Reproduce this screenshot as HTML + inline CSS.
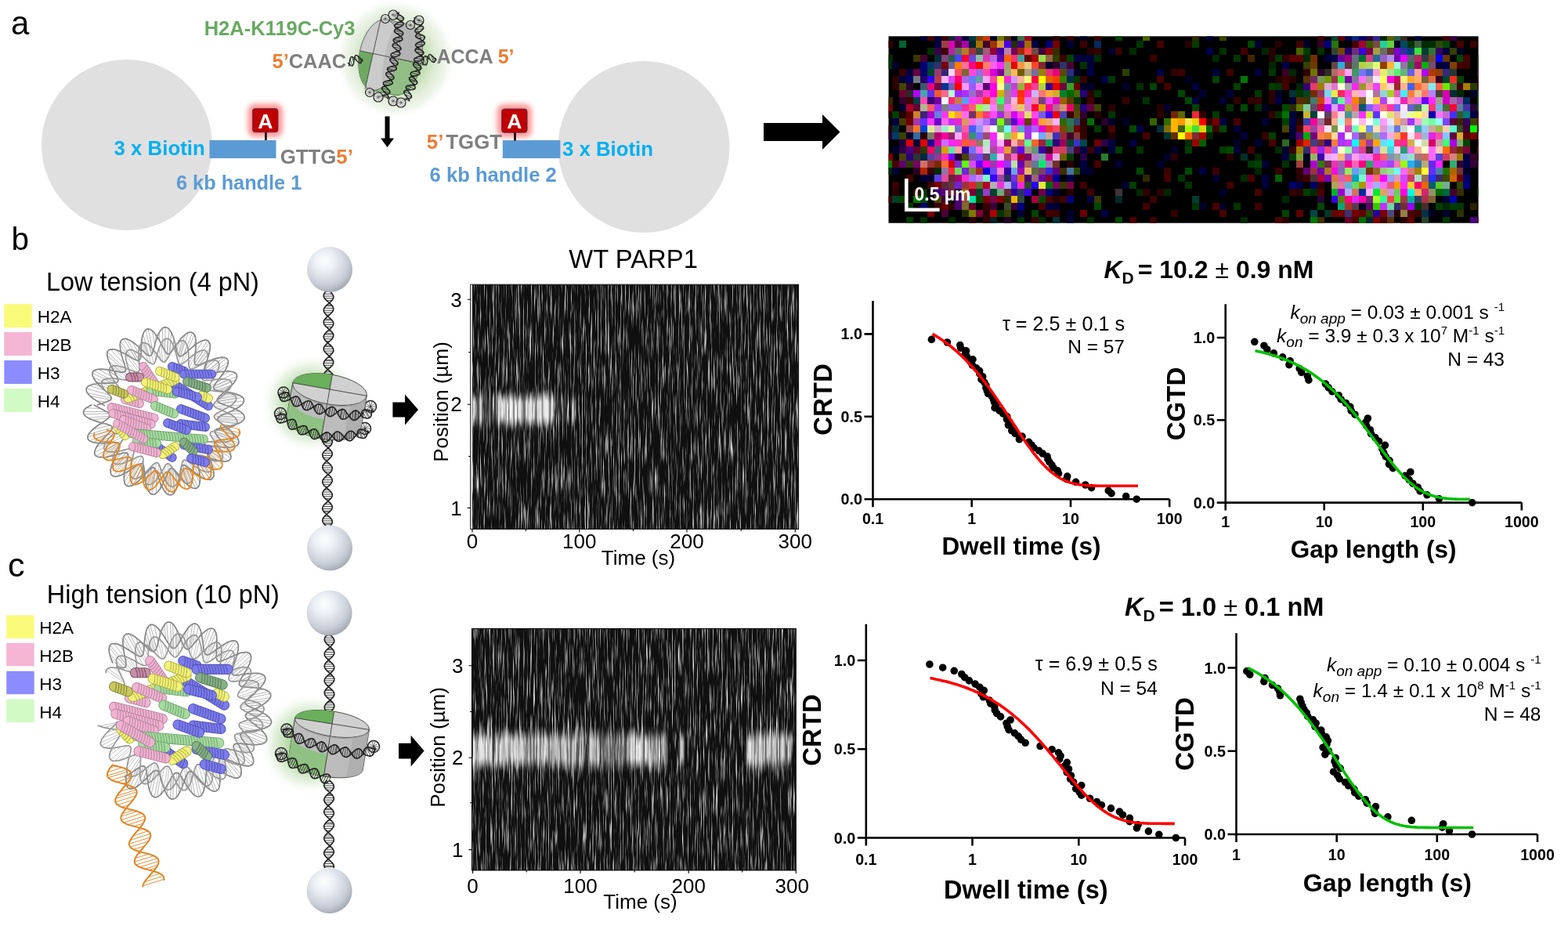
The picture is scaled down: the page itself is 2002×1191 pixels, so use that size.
<!DOCTYPE html>
<html><head><meta charset="utf-8"><style>
html,body{margin:0;padding:0;background:#fff;overflow:hidden}
svg{display:block}
text{font-family:'Liberation Sans', Arial, sans-serif}
</style></head><body>
<svg width="2002" height="1191" viewBox="0 0 2002 1191">
<defs>
<radialGradient id="glowg"><stop offset="0" stop-color="#a8cf92"/><stop offset="0.5" stop-color="#c6dfb6"/><stop offset="0.68" stop-color="#e0edd8"/><stop offset="0.85" stop-color="#f1f7ee"/><stop offset="1" stop-color="#ffffff" stop-opacity="0"/></radialGradient>
<filter id="glowr" x="-60%" y="-60%" width="220%" height="220%"><feGaussianBlur stdDeviation="3"/></filter>
<filter id="kn" x="0" y="0" width="100%" height="100%" color-interpolation-filters="sRGB">
<feTurbulence type="fractalNoise" baseFrequency="0.6 0.022" numOctaves="3" seed="4" result="t"/>
<feColorMatrix in="t" type="matrix" values="0 0 0 0 0  0 0 0 0 0  0 0 0 0 0  2.6 0 0 0 -1.33" result="a"/>
<feFlood flood-color="#fff"/>
<feComposite in2="a" operator="in"/>
</filter>
<linearGradient id="bandg" x1="0" y1="0" x2="0" y2="1"><stop offset="0" stop-color="#fff" stop-opacity="0"/><stop offset="0.3" stop-color="#fff" stop-opacity="0.95"/><stop offset="0.7" stop-color="#fff" stop-opacity="0.95"/><stop offset="1" stop-color="#fff" stop-opacity="0"/></linearGradient>
<radialGradient id="bead" cx="0.4" cy="0.35" r="0.7" fx="0.38" fy="0.3"><stop offset="0" stop-color="#ffffff"/><stop offset="0.35" stop-color="#e9edf3"/><stop offset="0.75" stop-color="#c6ccd6"/><stop offset="1" stop-color="#9ea4ae"/></radialGradient>
<radialGradient id="glow2"><stop offset="0" stop-color="#8cc078"/><stop offset="0.4" stop-color="#b2d8a2"/><stop offset="0.75" stop-color="#e8f3e3"/><stop offset="1" stop-color="#ffffff" stop-opacity="0"/></radialGradient>
</defs>
<rect width="2002" height="1191" fill="#fff"/>
<circle cx="505" cy="75" r="78" fill="url(#glowg)"/>
<text x="14" y="43.5" font-size="42" fill="#000">a</text>
<circle cx="162" cy="185" r="109" fill="#e0e0e0"/>
<circle cx="822" cy="187.5" r="109.5" fill="#e0e0e0"/>
<rect x="267.5" y="179" width="85" height="23" fill="#5b9bd5"/>
<rect x="641.8" y="179" width="73.6" height="23" fill="#5b9bd5"/>
<rect x="316.4" y="132.5" width="44.6" height="42.3" rx="9" fill="#ff8c8c" opacity="0.9" filter="url(#glowr)"/>
<line x1="339.4" y1="167.5" x2="339.4" y2="179.0" stroke="#1a0000" stroke-width="2.7"/>
<rect x="322.4" y="138.5" width="32.6" height="30.3" rx="3.5" fill="#c00000" stroke="#3a3a6a" stroke-width="0.8"/>
<text x="338.7" y="163.8" font-size="26.5" fill="#fff" font-weight="bold" text-anchor="middle">A</text>
<rect x="634.5" y="133" width="44.6" height="42.3" rx="9" fill="#ff8c8c" opacity="0.9" filter="url(#glowr)"/>
<line x1="657.5" y1="168" x2="657.5" y2="179.5" stroke="#1a0000" stroke-width="2.7"/>
<rect x="640.5" y="139" width="32.6" height="30.3" rx="3.5" fill="#c00000" stroke="#3a3a6a" stroke-width="0.8"/>
<text x="656.8" y="164.3" font-size="26.5" fill="#fff" font-weight="bold" text-anchor="middle">A</text>
<text x="145.6" y="197.7" font-size="25.8" fill="#00b0f0" font-weight="bold">3 x Biotin</text>
<text x="225" y="242" font-size="25.3" fill="#5b9bd5" font-weight="bold">6 kb handle 1</text>
<text x="357.7" y="208.6" font-size="25.8" fill="#7f7f7f" font-weight="bold">GTTG<tspan fill="#ed7d31">5’</tspan></text>
<text x="260.7" y="45.3" font-size="25.5" fill="#69a962" font-weight="bold">H2A-K119C-Cy3</text>
<text x="347.6" y="86.8" font-size="25.4" fill="#7f7f7f" font-weight="bold"><tspan fill="#ed7d31">5’</tspan>CAAC</text>
<text x="557.4" y="81" font-size="25" fill="#7f7f7f" font-weight="bold">ACCA <tspan fill="#ed7d31">5’</tspan></text>
<text x="544.8" y="189.5" font-size="25.8" fill="#7f7f7f" font-weight="bold"><tspan fill="#ed7d31">5’</tspan><tspan dx="3">TGGT</tspan></text>
<text x="717.9" y="199" font-size="25.8" fill="#00b0f0" font-weight="bold">3 x Biotin</text>
<text x="548.6" y="232" font-size="25.6" fill="#5b9bd5" font-weight="bold">6 kb handle 2</text>
<path d="M491.5,148.6 h6 v28 h5.5 l-8.5,11.5 l-8.5,-11.5 h5.5 z" fill="#000"/>
<path d="M975,157 h75 v-11 l22.5,22.5 l-22.5,22.5 v-11 h-75 z" fill="#000"/>
<clipPath id="cclip"><rect x="1134.5" y="46.3" width="753.1" height="238.4"/></clipPath>
<rect x="1134.5" y="46.3" width="753.1" height="238.4" fill="#000"/>
<g clip-path="url(#cclip)" shape-rendering="crispEdges">
<rect x="1175.0" y="42.8" width="9" height="9.1" fill="#000032"/>
<rect x="1183.8" y="42.8" width="9" height="9.1" fill="#450000"/>
<rect x="1192.7" y="42.8" width="9" height="9.1" fill="#00003a"/>
<rect x="1201.6" y="42.8" width="9" height="9.1" fill="#380000"/>
<rect x="1210.5" y="42.8" width="9" height="9.1" fill="#002f2e"/>
<rect x="1219.4" y="42.8" width="9" height="9.1" fill="#700081"/>
<rect x="1228.3" y="42.8" width="9" height="9.1" fill="#000036"/>
<rect x="1237.2" y="42.8" width="9" height="9.1" fill="#00393e"/>
<rect x="1246.1" y="42.8" width="9" height="9.1" fill="#7b3d00"/>
<rect x="1255.0" y="42.8" width="9" height="9.1" fill="#d73500"/>
<rect x="1263.9" y="42.8" width="9" height="9.1" fill="#00002c"/>
<rect x="1272.8" y="42.8" width="9" height="9.1" fill="#6b7c00"/>
<rect x="1281.6" y="42.8" width="9" height="9.1" fill="#462a00"/>
<rect x="1290.5" y="42.8" width="9" height="9.1" fill="#000023"/>
<rect x="1299.4" y="42.8" width="9" height="9.1" fill="#397246"/>
<rect x="1308.3" y="42.8" width="9" height="9.1" fill="#a00025"/>
<rect x="1343.9" y="42.8" width="9" height="9.1" fill="#280000"/>
<rect x="1361.7" y="42.8" width="9" height="9.1" fill="#360000"/>
<rect x="1379.4" y="42.8" width="9" height="9.1" fill="#000028"/>
<rect x="1397.2" y="42.8" width="9" height="9.1" fill="#3e0000"/>
<rect x="1423.9" y="42.8" width="9" height="9.1" fill="#004300"/>
<rect x="1459.4" y="42.8" width="9" height="9.1" fill="#486200"/>
<rect x="1521.7" y="42.8" width="9" height="9.1" fill="#332900"/>
<rect x="1539.5" y="42.8" width="9" height="9.1" fill="#000031"/>
<rect x="1557.2" y="42.8" width="9" height="9.1" fill="#384500"/>
<rect x="1681.7" y="42.8" width="9" height="9.1" fill="#3b0000"/>
<rect x="1699.5" y="42.8" width="9" height="9.1" fill="#004639"/>
<rect x="1708.4" y="42.8" width="9" height="9.1" fill="#5e0000"/>
<rect x="1717.2" y="42.8" width="9" height="9.1" fill="#000046"/>
<rect x="1726.1" y="42.8" width="9" height="9.1" fill="#002880"/>
<rect x="1735.0" y="42.8" width="9" height="9.1" fill="#00006b"/>
<rect x="1743.9" y="42.8" width="9" height="9.1" fill="#2a0039"/>
<rect x="1752.8" y="42.8" width="9" height="9.1" fill="#30259b"/>
<rect x="1761.7" y="42.8" width="9" height="9.1" fill="#002800"/>
<rect x="1770.6" y="42.8" width="9" height="9.1" fill="#5f5d00"/>
<rect x="1779.5" y="42.8" width="9" height="9.1" fill="#255d45"/>
<rect x="1788.4" y="42.8" width="9" height="9.1" fill="#392827"/>
<rect x="1806.2" y="42.8" width="9" height="9.1" fill="#000037"/>
<rect x="1841.7" y="42.8" width="9" height="9.1" fill="#430000"/>
<rect x="1850.6" y="42.8" width="9" height="9.1" fill="#370044"/>
<rect x="1130.5" y="51.8" width="9" height="9.1" fill="#2e0000"/>
<rect x="1148.3" y="51.8" width="9" height="9.1" fill="#006331"/>
<rect x="1192.7" y="51.8" width="9" height="9.1" fill="#000041"/>
<rect x="1201.6" y="51.8" width="9" height="9.1" fill="#9e3f44"/>
<rect x="1210.5" y="51.8" width="9" height="9.1" fill="#dc00b4"/>
<rect x="1219.4" y="51.8" width="9" height="9.1" fill="#5b0044"/>
<rect x="1228.3" y="51.8" width="9" height="9.1" fill="#a400ab"/>
<rect x="1237.2" y="51.8" width="9" height="9.1" fill="#00252b"/>
<rect x="1246.1" y="51.8" width="9" height="9.1" fill="#a47300"/>
<rect x="1255.0" y="51.8" width="9" height="9.1" fill="#400025"/>
<rect x="1263.9" y="51.8" width="9" height="9.1" fill="#9c3500"/>
<rect x="1272.8" y="51.8" width="9" height="9.1" fill="#da993a"/>
<rect x="1281.6" y="51.8" width="9" height="9.1" fill="#4900eb"/>
<rect x="1290.5" y="51.8" width="9" height="9.1" fill="#232f00"/>
<rect x="1299.4" y="51.8" width="9" height="9.1" fill="#44007f"/>
<rect x="1308.3" y="51.8" width="9" height="9.1" fill="#a06b00"/>
<rect x="1317.2" y="51.8" width="9" height="9.1" fill="#000048"/>
<rect x="1335.0" y="51.8" width="9" height="9.1" fill="#000073"/>
<rect x="1343.9" y="51.8" width="9" height="9.1" fill="#760000"/>
<rect x="1361.7" y="51.8" width="9" height="9.1" fill="#000035"/>
<rect x="1379.4" y="51.8" width="9" height="9.1" fill="#3d0000"/>
<rect x="1397.2" y="51.8" width="9" height="9.1" fill="#002b5f"/>
<rect x="1450.5" y="51.8" width="9" height="9.1" fill="#003700"/>
<rect x="1477.2" y="51.8" width="9" height="9.1" fill="#450000"/>
<rect x="1512.8" y="51.8" width="9" height="9.1" fill="#270000"/>
<rect x="1521.7" y="51.8" width="9" height="9.1" fill="#003c00"/>
<rect x="1592.8" y="51.8" width="9" height="9.1" fill="#004600"/>
<rect x="1601.7" y="51.8" width="9" height="9.1" fill="#00002f"/>
<rect x="1628.3" y="51.8" width="9" height="9.1" fill="#240000"/>
<rect x="1655.0" y="51.8" width="9" height="9.1" fill="#430000"/>
<rect x="1663.9" y="51.8" width="9" height="9.1" fill="#00002a"/>
<rect x="1681.7" y="51.8" width="9" height="9.1" fill="#320025"/>
<rect x="1690.6" y="51.8" width="9" height="9.1" fill="#000081"/>
<rect x="1699.5" y="51.8" width="9" height="9.1" fill="#2a7400"/>
<rect x="1726.1" y="51.8" width="9" height="9.1" fill="#490000"/>
<rect x="1735.0" y="51.8" width="9" height="9.1" fill="#a30031"/>
<rect x="1743.9" y="51.8" width="9" height="9.1" fill="#335b00"/>
<rect x="1752.8" y="51.8" width="9" height="9.1" fill="#7d493f"/>
<rect x="1761.7" y="51.8" width="9" height="9.1" fill="#23d19b"/>
<rect x="1770.6" y="51.8" width="9" height="9.1" fill="#61d542"/>
<rect x="1779.5" y="51.8" width="9" height="9.1" fill="#000025"/>
<rect x="1788.4" y="51.8" width="9" height="9.1" fill="#004a5d"/>
<rect x="1797.3" y="51.8" width="9" height="9.1" fill="#003400"/>
<rect x="1806.2" y="51.8" width="9" height="9.1" fill="#3d5e39"/>
<rect x="1815.0" y="51.8" width="9" height="9.1" fill="#002c00"/>
<rect x="1823.9" y="51.8" width="9" height="9.1" fill="#003000"/>
<rect x="1832.8" y="51.8" width="9" height="9.1" fill="#2c4a00"/>
<rect x="1841.7" y="51.8" width="9" height="9.1" fill="#004700"/>
<rect x="1859.5" y="51.8" width="9" height="9.1" fill="#480000"/>
<rect x="1877.3" y="51.8" width="9" height="9.1" fill="#3a0000"/>
<rect x="1183.8" y="60.8" width="9" height="9.1" fill="#002e00"/>
<rect x="1192.7" y="60.8" width="9" height="9.1" fill="#39004a"/>
<rect x="1201.6" y="60.8" width="9" height="9.1" fill="#400000"/>
<rect x="1210.5" y="60.8" width="9" height="9.1" fill="#b423a9"/>
<rect x="1219.4" y="60.8" width="9" height="9.1" fill="#656d5f"/>
<rect x="1228.3" y="60.8" width="9" height="9.1" fill="#b67a2b"/>
<rect x="1237.2" y="60.8" width="9" height="9.1" fill="#99323f"/>
<rect x="1246.1" y="60.8" width="9" height="9.1" fill="#394439"/>
<rect x="1255.0" y="60.8" width="9" height="9.1" fill="#a25a78"/>
<rect x="1263.9" y="60.8" width="9" height="9.1" fill="#950034"/>
<rect x="1272.8" y="60.8" width="9" height="9.1" fill="#3c00a5"/>
<rect x="1281.6" y="60.8" width="9" height="9.1" fill="#b881b0"/>
<rect x="1290.5" y="60.8" width="9" height="9.1" fill="#78005f"/>
<rect x="1299.4" y="60.8" width="9" height="9.1" fill="#a52a00"/>
<rect x="1308.3" y="60.8" width="9" height="9.1" fill="#ff4546"/>
<rect x="1317.2" y="60.8" width="9" height="9.1" fill="#694a41"/>
<rect x="1326.1" y="60.8" width="9" height="9.1" fill="#40003c"/>
<rect x="1335.0" y="60.8" width="9" height="9.1" fill="#910000"/>
<rect x="1343.9" y="60.8" width="9" height="9.1" fill="#372c00"/>
<rect x="1388.3" y="60.8" width="9" height="9.1" fill="#280000"/>
<rect x="1397.2" y="60.8" width="9" height="9.1" fill="#330000"/>
<rect x="1415.0" y="60.8" width="9" height="9.1" fill="#00002c"/>
<rect x="1423.9" y="60.8" width="9" height="9.1" fill="#380000"/>
<rect x="1441.7" y="60.8" width="9" height="9.1" fill="#002a00"/>
<rect x="1539.5" y="60.8" width="9" height="9.1" fill="#000046"/>
<rect x="1557.2" y="60.8" width="9" height="9.1" fill="#003000"/>
<rect x="1583.9" y="60.8" width="9" height="9.1" fill="#440000"/>
<rect x="1610.6" y="60.8" width="9" height="9.1" fill="#002400"/>
<rect x="1619.5" y="60.8" width="9" height="9.1" fill="#280000"/>
<rect x="1655.0" y="60.8" width="9" height="9.1" fill="#456200"/>
<rect x="1663.9" y="60.8" width="9" height="9.1" fill="#003c00"/>
<rect x="1681.7" y="60.8" width="9" height="9.1" fill="#002f00"/>
<rect x="1699.5" y="60.8" width="9" height="9.1" fill="#2f4533"/>
<rect x="1708.4" y="60.8" width="9" height="9.1" fill="#764500"/>
<rect x="1717.2" y="60.8" width="9" height="9.1" fill="#23006d"/>
<rect x="1726.1" y="60.8" width="9" height="9.1" fill="#6d2d75"/>
<rect x="1735.0" y="60.8" width="9" height="9.1" fill="#3c00d8"/>
<rect x="1743.9" y="60.8" width="9" height="9.1" fill="#7d0047"/>
<rect x="1752.8" y="60.8" width="9" height="9.1" fill="#a39e44"/>
<rect x="1761.7" y="60.8" width="9" height="9.1" fill="#6b6c66"/>
<rect x="1770.6" y="60.8" width="9" height="9.1" fill="#60372a"/>
<rect x="1779.5" y="60.8" width="9" height="9.1" fill="#8000cf"/>
<rect x="1788.4" y="60.8" width="9" height="9.1" fill="#2b32a3"/>
<rect x="1797.3" y="60.8" width="9" height="9.1" fill="#004077"/>
<rect x="1806.2" y="60.8" width="9" height="9.1" fill="#3fe13c"/>
<rect x="1815.0" y="60.8" width="9" height="9.1" fill="#003f33"/>
<rect x="1823.9" y="60.8" width="9" height="9.1" fill="#337436"/>
<rect x="1832.8" y="60.8" width="9" height="9.1" fill="#38005e"/>
<rect x="1841.7" y="60.8" width="9" height="9.1" fill="#00003c"/>
<rect x="1850.6" y="60.8" width="9" height="9.1" fill="#333e00"/>
<rect x="1859.5" y="60.8" width="9" height="9.1" fill="#000025"/>
<rect x="1130.5" y="69.8" width="9" height="9.1" fill="#002b00"/>
<rect x="1166.1" y="69.8" width="9" height="9.1" fill="#3c3500"/>
<rect x="1175.0" y="69.8" width="9" height="9.1" fill="#440032"/>
<rect x="1192.7" y="69.8" width="9" height="9.1" fill="#002c34"/>
<rect x="1201.6" y="69.8" width="9" height="9.1" fill="#7f447b"/>
<rect x="1210.5" y="69.8" width="9" height="9.1" fill="#235e42"/>
<rect x="1219.4" y="69.8" width="9" height="9.1" fill="#4746ff"/>
<rect x="1228.3" y="69.8" width="9" height="9.1" fill="#ff0035"/>
<rect x="1237.2" y="69.8" width="9" height="9.1" fill="#6f44d8"/>
<rect x="1246.1" y="69.8" width="9" height="9.1" fill="#92b8ad"/>
<rect x="1255.0" y="69.8" width="9" height="9.1" fill="#dd34b2"/>
<rect x="1263.9" y="69.8" width="9" height="9.1" fill="#b766e4"/>
<rect x="1272.8" y="69.8" width="9" height="9.1" fill="#6600b0"/>
<rect x="1281.6" y="69.8" width="9" height="9.1" fill="#ff6100"/>
<rect x="1290.5" y="69.8" width="9" height="9.1" fill="#ff3470"/>
<rect x="1299.4" y="69.8" width="9" height="9.1" fill="#43a0a1"/>
<rect x="1308.3" y="69.8" width="9" height="9.1" fill="#600000"/>
<rect x="1317.2" y="69.8" width="9" height="9.1" fill="#b30000"/>
<rect x="1326.1" y="69.8" width="9" height="9.1" fill="#93e148"/>
<rect x="1335.0" y="69.8" width="9" height="9.1" fill="#916645"/>
<rect x="1343.9" y="69.8" width="9" height="9.1" fill="#313e00"/>
<rect x="1352.8" y="69.8" width="9" height="9.1" fill="#3c0000"/>
<rect x="1361.7" y="69.8" width="9" height="9.1" fill="#004200"/>
<rect x="1370.5" y="69.8" width="9" height="9.1" fill="#000044"/>
<rect x="1379.4" y="69.8" width="9" height="9.1" fill="#00003b"/>
<rect x="1388.3" y="69.8" width="9" height="9.1" fill="#00003e"/>
<rect x="1397.2" y="69.8" width="9" height="9.1" fill="#002e00"/>
<rect x="1468.3" y="69.8" width="9" height="9.1" fill="#3b0000"/>
<rect x="1548.3" y="69.8" width="9" height="9.1" fill="#002700"/>
<rect x="1575.0" y="69.8" width="9" height="9.1" fill="#003600"/>
<rect x="1592.8" y="69.8" width="9" height="9.1" fill="#432400"/>
<rect x="1619.5" y="69.8" width="9" height="9.1" fill="#250000"/>
<rect x="1628.3" y="69.8" width="9" height="9.1" fill="#003900"/>
<rect x="1637.2" y="69.8" width="9" height="9.1" fill="#320000"/>
<rect x="1646.1" y="69.8" width="9" height="9.1" fill="#5b0000"/>
<rect x="1655.0" y="69.8" width="9" height="9.1" fill="#5b0000"/>
<rect x="1663.9" y="69.8" width="9" height="9.1" fill="#002800"/>
<rect x="1672.8" y="69.8" width="9" height="9.1" fill="#712f00"/>
<rect x="1690.6" y="69.8" width="9" height="9.1" fill="#00003f"/>
<rect x="1699.5" y="69.8" width="9" height="9.1" fill="#000048"/>
<rect x="1708.4" y="69.8" width="9" height="9.1" fill="#6b009e"/>
<rect x="1717.2" y="69.8" width="9" height="9.1" fill="#99007c"/>
<rect x="1726.1" y="69.8" width="9" height="9.1" fill="#646d81"/>
<rect x="1735.0" y="69.8" width="9" height="9.1" fill="#006d2b"/>
<rect x="1743.9" y="69.8" width="9" height="9.1" fill="#d3407a"/>
<rect x="1752.8" y="69.8" width="9" height="9.1" fill="#236b98"/>
<rect x="1761.7" y="69.8" width="9" height="9.1" fill="#9462ca"/>
<rect x="1770.6" y="69.8" width="9" height="9.1" fill="#b191e9"/>
<rect x="1779.5" y="69.8" width="9" height="9.1" fill="#7100ad"/>
<rect x="1788.4" y="69.8" width="9" height="9.1" fill="#e600ff"/>
<rect x="1797.3" y="69.8" width="9" height="9.1" fill="#5e5d71"/>
<rect x="1806.2" y="69.8" width="9" height="9.1" fill="#b3275e"/>
<rect x="1815.0" y="69.8" width="9" height="9.1" fill="#3a3944"/>
<rect x="1823.9" y="69.8" width="9" height="9.1" fill="#7b482c"/>
<rect x="1832.8" y="69.8" width="9" height="9.1" fill="#0000ff"/>
<rect x="1841.7" y="69.8" width="9" height="9.1" fill="#6a3800"/>
<rect x="1859.5" y="69.8" width="9" height="9.1" fill="#004800"/>
<rect x="1868.4" y="69.8" width="9" height="9.1" fill="#460000"/>
<rect x="1886.2" y="69.8" width="9" height="9.1" fill="#002d00"/>
<rect x="1130.5" y="78.8" width="9" height="9.1" fill="#002f00"/>
<rect x="1139.4" y="78.8" width="9" height="9.1" fill="#00002d"/>
<rect x="1175.0" y="78.8" width="9" height="9.1" fill="#000074"/>
<rect x="1183.8" y="78.8" width="9" height="9.1" fill="#003863"/>
<rect x="1192.7" y="78.8" width="9" height="9.1" fill="#32316d"/>
<rect x="1201.6" y="78.8" width="9" height="9.1" fill="#780000"/>
<rect x="1210.5" y="78.8" width="9" height="9.1" fill="#69639f"/>
<rect x="1219.4" y="78.8" width="9" height="9.1" fill="#ff7c00"/>
<rect x="1228.3" y="78.8" width="9" height="9.1" fill="#ff6ca0"/>
<rect x="1237.2" y="78.8" width="9" height="9.1" fill="#ff007e"/>
<rect x="1246.1" y="78.8" width="9" height="9.1" fill="#ff0000"/>
<rect x="1255.0" y="78.8" width="9" height="9.1" fill="#ff7f68"/>
<rect x="1263.9" y="78.8" width="9" height="9.1" fill="#ff60eb"/>
<rect x="1272.8" y="78.8" width="9" height="9.1" fill="#ff2aff"/>
<rect x="1281.6" y="78.8" width="9" height="9.1" fill="#9da46f"/>
<rect x="1290.5" y="78.8" width="9" height="9.1" fill="#e60000"/>
<rect x="1299.4" y="78.8" width="9" height="9.1" fill="#ff9747"/>
<rect x="1308.3" y="78.8" width="9" height="9.1" fill="#ebc97d"/>
<rect x="1317.2" y="78.8" width="9" height="9.1" fill="#ff462c"/>
<rect x="1326.1" y="78.8" width="9" height="9.1" fill="#802733"/>
<rect x="1335.0" y="78.8" width="9" height="9.1" fill="#00002c"/>
<rect x="1343.9" y="78.8" width="9" height="9.1" fill="#2c0029"/>
<rect x="1352.8" y="78.8" width="9" height="9.1" fill="#2d3468"/>
<rect x="1361.7" y="78.8" width="9" height="9.1" fill="#49002c"/>
<rect x="1379.4" y="78.8" width="9" height="9.1" fill="#003100"/>
<rect x="1388.3" y="78.8" width="9" height="9.1" fill="#000037"/>
<rect x="1619.5" y="78.8" width="9" height="9.1" fill="#002600"/>
<rect x="1637.2" y="78.8" width="9" height="9.1" fill="#000048"/>
<rect x="1663.9" y="78.8" width="9" height="9.1" fill="#374100"/>
<rect x="1672.8" y="78.8" width="9" height="9.1" fill="#6f3800"/>
<rect x="1699.5" y="78.8" width="9" height="9.1" fill="#634846"/>
<rect x="1708.4" y="78.8" width="9" height="9.1" fill="#30abd3"/>
<rect x="1717.2" y="78.8" width="9" height="9.1" fill="#653435"/>
<rect x="1726.1" y="78.8" width="9" height="9.1" fill="#5a766d"/>
<rect x="1735.0" y="78.8" width="9" height="9.1" fill="#b5d141"/>
<rect x="1743.9" y="78.8" width="9" height="9.1" fill="#b2d568"/>
<rect x="1752.8" y="78.8" width="9" height="9.1" fill="#deff75"/>
<rect x="1761.7" y="78.8" width="9" height="9.1" fill="#923f00"/>
<rect x="1770.6" y="78.8" width="9" height="9.1" fill="#ffb534"/>
<rect x="1779.5" y="78.8" width="9" height="9.1" fill="#9dffe1"/>
<rect x="1788.4" y="78.8" width="9" height="9.1" fill="#9874a7"/>
<rect x="1797.3" y="78.8" width="9" height="9.1" fill="#2a7c38"/>
<rect x="1806.2" y="78.8" width="9" height="9.1" fill="#a7006a"/>
<rect x="1815.0" y="78.8" width="9" height="9.1" fill="#00af00"/>
<rect x="1823.9" y="78.8" width="9" height="9.1" fill="#7b4979"/>
<rect x="1832.8" y="78.8" width="9" height="9.1" fill="#00003a"/>
<rect x="1841.7" y="78.8" width="9" height="9.1" fill="#000046"/>
<rect x="1850.6" y="78.8" width="9" height="9.1" fill="#7e4000"/>
<rect x="1859.5" y="78.8" width="9" height="9.1" fill="#440000"/>
<rect x="1868.4" y="78.8" width="9" height="9.1" fill="#3f0000"/>
<rect x="1886.2" y="78.8" width="9" height="9.1" fill="#002d00"/>
<rect x="1148.3" y="87.8" width="9" height="9.1" fill="#390000"/>
<rect x="1157.2" y="87.8" width="9" height="9.1" fill="#00003e"/>
<rect x="1166.1" y="87.8" width="9" height="9.1" fill="#670043"/>
<rect x="1175.0" y="87.8" width="9" height="9.1" fill="#00006d"/>
<rect x="1183.8" y="87.8" width="9" height="9.1" fill="#004530"/>
<rect x="1192.7" y="87.8" width="9" height="9.1" fill="#973a71"/>
<rect x="1201.6" y="87.8" width="9" height="9.1" fill="#35286e"/>
<rect x="1210.5" y="87.8" width="9" height="9.1" fill="#ffd6ff"/>
<rect x="1219.4" y="87.8" width="9" height="9.1" fill="#ff4a63"/>
<rect x="1228.3" y="87.8" width="9" height="9.1" fill="#7c662f"/>
<rect x="1237.2" y="87.8" width="9" height="9.1" fill="#ff4adb"/>
<rect x="1246.1" y="87.8" width="9" height="9.1" fill="#9769e5"/>
<rect x="1255.0" y="87.8" width="9" height="9.1" fill="#ff46ae"/>
<rect x="1263.9" y="87.8" width="9" height="9.1" fill="#d800da"/>
<rect x="1272.8" y="87.8" width="9" height="9.1" fill="#810097"/>
<rect x="1281.6" y="87.8" width="9" height="9.1" fill="#a1a976"/>
<rect x="1290.5" y="87.8" width="9" height="9.1" fill="#ffb85b"/>
<rect x="1299.4" y="87.8" width="9" height="9.1" fill="#705f00"/>
<rect x="1308.3" y="87.8" width="9" height="9.1" fill="#b09e7e"/>
<rect x="1317.2" y="87.8" width="9" height="9.1" fill="#737099"/>
<rect x="1326.1" y="87.8" width="9" height="9.1" fill="#998100"/>
<rect x="1335.0" y="87.8" width="9" height="9.1" fill="#e63075"/>
<rect x="1343.9" y="87.8" width="9" height="9.1" fill="#eb007c"/>
<rect x="1352.8" y="87.8" width="9" height="9.1" fill="#5e4700"/>
<rect x="1361.7" y="87.8" width="9" height="9.1" fill="#293081"/>
<rect x="1370.5" y="87.8" width="9" height="9.1" fill="#000024"/>
<rect x="1388.3" y="87.8" width="9" height="9.1" fill="#000046"/>
<rect x="1432.8" y="87.8" width="9" height="9.1" fill="#2b4000"/>
<rect x="1477.2" y="87.8" width="9" height="9.1" fill="#00003f"/>
<rect x="1495.0" y="87.8" width="9" height="9.1" fill="#320000"/>
<rect x="1503.9" y="87.8" width="9" height="9.1" fill="#3b0000"/>
<rect x="1548.3" y="87.8" width="9" height="9.1" fill="#000040"/>
<rect x="1566.1" y="87.8" width="9" height="9.1" fill="#3c0000"/>
<rect x="1601.7" y="87.8" width="9" height="9.1" fill="#00003f"/>
<rect x="1619.5" y="87.8" width="9" height="9.1" fill="#003700"/>
<rect x="1637.2" y="87.8" width="9" height="9.1" fill="#3c0024"/>
<rect x="1646.1" y="87.8" width="9" height="9.1" fill="#002700"/>
<rect x="1663.9" y="87.8" width="9" height="9.1" fill="#350000"/>
<rect x="1672.8" y="87.8" width="9" height="9.1" fill="#6d7500"/>
<rect x="1681.7" y="87.8" width="9" height="9.1" fill="#31002b"/>
<rect x="1690.6" y="87.8" width="9" height="9.1" fill="#2a2f26"/>
<rect x="1699.5" y="87.8" width="9" height="9.1" fill="#b06b6a"/>
<rect x="1708.4" y="87.8" width="9" height="9.1" fill="#ec6878"/>
<rect x="1717.2" y="87.8" width="9" height="9.1" fill="#ffa3ff"/>
<rect x="1726.1" y="87.8" width="9" height="9.1" fill="#3e995d"/>
<rect x="1735.0" y="87.8" width="9" height="9.1" fill="#7575ff"/>
<rect x="1743.9" y="87.8" width="9" height="9.1" fill="#4a64d4"/>
<rect x="1752.8" y="87.8" width="9" height="9.1" fill="#ff9fd4"/>
<rect x="1761.7" y="87.8" width="9" height="9.1" fill="#e7ed6b"/>
<rect x="1770.6" y="87.8" width="9" height="9.1" fill="#a8e296"/>
<rect x="1779.5" y="87.8" width="9" height="9.1" fill="#5dec75"/>
<rect x="1788.4" y="87.8" width="9" height="9.1" fill="#63b579"/>
<rect x="1797.3" y="87.8" width="9" height="9.1" fill="#695de9"/>
<rect x="1806.2" y="87.8" width="9" height="9.1" fill="#ffa496"/>
<rect x="1815.0" y="87.8" width="9" height="9.1" fill="#b500ff"/>
<rect x="1823.9" y="87.8" width="9" height="9.1" fill="#b03900"/>
<rect x="1832.8" y="87.8" width="9" height="9.1" fill="#923c00"/>
<rect x="1841.7" y="87.8" width="9" height="9.1" fill="#31297c"/>
<rect x="1850.6" y="87.8" width="9" height="9.1" fill="#263635"/>
<rect x="1886.2" y="87.8" width="9" height="9.1" fill="#460042"/>
<rect x="1139.4" y="96.8" width="9" height="9.1" fill="#2d0000"/>
<rect x="1148.3" y="96.8" width="9" height="9.1" fill="#00003a"/>
<rect x="1157.2" y="96.8" width="9" height="9.1" fill="#000063"/>
<rect x="1166.1" y="96.8" width="9" height="9.1" fill="#727a7f"/>
<rect x="1175.0" y="96.8" width="9" height="9.1" fill="#260067"/>
<rect x="1183.8" y="96.8" width="9" height="9.1" fill="#2b00ff"/>
<rect x="1192.7" y="96.8" width="9" height="9.1" fill="#b23f49"/>
<rect x="1201.6" y="96.8" width="9" height="9.1" fill="#ffb2ff"/>
<rect x="1210.5" y="96.8" width="9" height="9.1" fill="#da47ff"/>
<rect x="1219.4" y="96.8" width="9" height="9.1" fill="#ff0072"/>
<rect x="1228.3" y="96.8" width="9" height="9.1" fill="#b264e3"/>
<rect x="1237.2" y="96.8" width="9" height="9.1" fill="#647dff"/>
<rect x="1246.1" y="96.8" width="9" height="9.1" fill="#619fa0"/>
<rect x="1255.0" y="96.8" width="9" height="9.1" fill="#ffa5ff"/>
<rect x="1263.9" y="96.8" width="9" height="9.1" fill="#ff46a0"/>
<rect x="1272.8" y="96.8" width="9" height="9.1" fill="#ffff3a"/>
<rect x="1281.6" y="96.8" width="9" height="9.1" fill="#ff25d4"/>
<rect x="1290.5" y="96.8" width="9" height="9.1" fill="#d299ff"/>
<rect x="1299.4" y="96.8" width="9" height="9.1" fill="#ffb29a"/>
<rect x="1308.3" y="96.8" width="9" height="9.1" fill="#ffff7a"/>
<rect x="1317.2" y="96.8" width="9" height="9.1" fill="#ff0045"/>
<rect x="1326.1" y="96.8" width="9" height="9.1" fill="#ffff00"/>
<rect x="1335.0" y="96.8" width="9" height="9.1" fill="#e06200"/>
<rect x="1343.9" y="96.8" width="9" height="9.1" fill="#ff3c00"/>
<rect x="1352.8" y="96.8" width="9" height="9.1" fill="#347b00"/>
<rect x="1361.7" y="96.8" width="9" height="9.1" fill="#003042"/>
<rect x="1370.5" y="96.8" width="9" height="9.1" fill="#003800"/>
<rect x="1379.4" y="96.8" width="9" height="9.1" fill="#370000"/>
<rect x="1406.1" y="96.8" width="9" height="9.1" fill="#000049"/>
<rect x="1415.0" y="96.8" width="9" height="9.1" fill="#003600"/>
<rect x="1477.2" y="96.8" width="9" height="9.1" fill="#480000"/>
<rect x="1512.8" y="96.8" width="9" height="9.1" fill="#000024"/>
<rect x="1548.3" y="96.8" width="9" height="9.1" fill="#004200"/>
<rect x="1583.9" y="96.8" width="9" height="9.1" fill="#007700"/>
<rect x="1628.3" y="96.8" width="9" height="9.1" fill="#250000"/>
<rect x="1637.2" y="96.8" width="9" height="9.1" fill="#3c0000"/>
<rect x="1646.1" y="96.8" width="9" height="9.1" fill="#270000"/>
<rect x="1663.9" y="96.8" width="9" height="9.1" fill="#5c3500"/>
<rect x="1672.8" y="96.8" width="9" height="9.1" fill="#732863"/>
<rect x="1681.7" y="96.8" width="9" height="9.1" fill="#79945b"/>
<rect x="1690.6" y="96.8" width="9" height="9.1" fill="#749700"/>
<rect x="1699.5" y="96.8" width="9" height="9.1" fill="#983746"/>
<rect x="1708.4" y="96.8" width="9" height="9.1" fill="#45e738"/>
<rect x="1717.2" y="96.8" width="9" height="9.1" fill="#7700ab"/>
<rect x="1726.1" y="96.8" width="9" height="9.1" fill="#81779d"/>
<rect x="1735.0" y="96.8" width="9" height="9.1" fill="#ff6eff"/>
<rect x="1743.9" y="96.8" width="9" height="9.1" fill="#b49ba2"/>
<rect x="1752.8" y="96.8" width="9" height="9.1" fill="#ffe6ff"/>
<rect x="1761.7" y="96.8" width="9" height="9.1" fill="#ffff64"/>
<rect x="1770.6" y="96.8" width="9" height="9.1" fill="#ff00df"/>
<rect x="1779.5" y="96.8" width="9" height="9.1" fill="#ca006d"/>
<rect x="1788.4" y="96.8" width="9" height="9.1" fill="#ffed7b"/>
<rect x="1797.3" y="96.8" width="9" height="9.1" fill="#ffab26"/>
<rect x="1806.2" y="96.8" width="9" height="9.1" fill="#ffad68"/>
<rect x="1815.0" y="96.8" width="9" height="9.1" fill="#796232"/>
<rect x="1823.9" y="96.8" width="9" height="9.1" fill="#e26b3f"/>
<rect x="1832.8" y="96.8" width="9" height="9.1" fill="#360027"/>
<rect x="1841.7" y="96.8" width="9" height="9.1" fill="#00482b"/>
<rect x="1850.6" y="96.8" width="9" height="9.1" fill="#ff2926"/>
<rect x="1859.5" y="96.8" width="9" height="9.1" fill="#004000"/>
<rect x="1886.2" y="96.8" width="9" height="9.1" fill="#2a0000"/>
<rect x="1139.4" y="105.8" width="9" height="9.1" fill="#2c0000"/>
<rect x="1148.3" y="105.8" width="9" height="9.1" fill="#434500"/>
<rect x="1157.2" y="105.8" width="9" height="9.1" fill="#2c002b"/>
<rect x="1175.0" y="105.8" width="9" height="9.1" fill="#3a5a6e"/>
<rect x="1183.8" y="105.8" width="9" height="9.1" fill="#e90080"/>
<rect x="1192.7" y="105.8" width="9" height="9.1" fill="#740044"/>
<rect x="1201.6" y="105.8" width="9" height="9.1" fill="#003595"/>
<rect x="1210.5" y="105.8" width="9" height="9.1" fill="#6e63b4"/>
<rect x="1219.4" y="105.8" width="9" height="9.1" fill="#ff0000"/>
<rect x="1228.3" y="105.8" width="9" height="9.1" fill="#ff9aff"/>
<rect x="1237.2" y="105.8" width="9" height="9.1" fill="#9a5cff"/>
<rect x="1246.1" y="105.8" width="9" height="9.1" fill="#ff80ff"/>
<rect x="1255.0" y="105.8" width="9" height="9.1" fill="#5b0071"/>
<rect x="1263.9" y="105.8" width="9" height="9.1" fill="#ff00e9"/>
<rect x="1272.8" y="105.8" width="9" height="9.1" fill="#ffff91"/>
<rect x="1281.6" y="105.8" width="9" height="9.1" fill="#6395a5"/>
<rect x="1290.5" y="105.8" width="9" height="9.1" fill="#cb3bdb"/>
<rect x="1299.4" y="105.8" width="9" height="9.1" fill="#97b03a"/>
<rect x="1308.3" y="105.8" width="9" height="9.1" fill="#ff2a3c"/>
<rect x="1317.2" y="105.8" width="9" height="9.1" fill="#ff3c9d"/>
<rect x="1326.1" y="105.8" width="9" height="9.1" fill="#afd43b"/>
<rect x="1335.0" y="105.8" width="9" height="9.1" fill="#370095"/>
<rect x="1343.9" y="105.8" width="9" height="9.1" fill="#e70000"/>
<rect x="1352.8" y="105.8" width="9" height="9.1" fill="#74003f"/>
<rect x="1361.7" y="105.8" width="9" height="9.1" fill="#34a324"/>
<rect x="1370.5" y="105.8" width="9" height="9.1" fill="#6c0000"/>
<rect x="1379.4" y="105.8" width="9" height="9.1" fill="#000026"/>
<rect x="1388.3" y="105.8" width="9" height="9.1" fill="#00002e"/>
<rect x="1432.8" y="105.8" width="9" height="9.1" fill="#00002d"/>
<rect x="1450.5" y="105.8" width="9" height="9.1" fill="#002e00"/>
<rect x="1468.3" y="105.8" width="9" height="9.1" fill="#004300"/>
<rect x="1486.1" y="105.8" width="9" height="9.1" fill="#450000"/>
<rect x="1521.7" y="105.8" width="9" height="9.1" fill="#000044"/>
<rect x="1575.0" y="105.8" width="9" height="9.1" fill="#004100"/>
<rect x="1619.5" y="105.8" width="9" height="9.1" fill="#003e00"/>
<rect x="1628.3" y="105.8" width="9" height="9.1" fill="#003500"/>
<rect x="1637.2" y="105.8" width="9" height="9.1" fill="#450000"/>
<rect x="1655.0" y="105.8" width="9" height="9.1" fill="#002500"/>
<rect x="1663.9" y="105.8" width="9" height="9.1" fill="#350073"/>
<rect x="1672.8" y="105.8" width="9" height="9.1" fill="#ea3a6a"/>
<rect x="1681.7" y="105.8" width="9" height="9.1" fill="#9f7e00"/>
<rect x="1690.6" y="105.8" width="9" height="9.1" fill="#dcaed7"/>
<rect x="1699.5" y="105.8" width="9" height="9.1" fill="#e574cf"/>
<rect x="1708.4" y="105.8" width="9" height="9.1" fill="#ffffd8"/>
<rect x="1717.2" y="105.8" width="9" height="9.1" fill="#9ea5a8"/>
<rect x="1726.1" y="105.8" width="9" height="9.1" fill="#ff25ef"/>
<rect x="1735.0" y="105.8" width="9" height="9.1" fill="#97992f"/>
<rect x="1743.9" y="105.8" width="9" height="9.1" fill="#ff979f"/>
<rect x="1752.8" y="105.8" width="9" height="9.1" fill="#ea44ff"/>
<rect x="1761.7" y="105.8" width="9" height="9.1" fill="#ffcc66"/>
<rect x="1770.6" y="105.8" width="9" height="9.1" fill="#ffd6d5"/>
<rect x="1779.5" y="105.8" width="9" height="9.1" fill="#98282d"/>
<rect x="1788.4" y="105.8" width="9" height="9.1" fill="#ffb393"/>
<rect x="1797.3" y="105.8" width="9" height="9.1" fill="#3f61ff"/>
<rect x="1806.2" y="105.8" width="9" height="9.1" fill="#ff6f34"/>
<rect x="1815.0" y="105.8" width="9" height="9.1" fill="#ff987a"/>
<rect x="1823.9" y="105.8" width="9" height="9.1" fill="#79eeff"/>
<rect x="1832.8" y="105.8" width="9" height="9.1" fill="#ff6548"/>
<rect x="1841.7" y="105.8" width="9" height="9.1" fill="#70e700"/>
<rect x="1850.6" y="105.8" width="9" height="9.1" fill="#457736"/>
<rect x="1859.5" y="105.8" width="9" height="9.1" fill="#3d0000"/>
<rect x="1868.4" y="105.8" width="9" height="9.1" fill="#a77c00"/>
<rect x="1877.3" y="105.8" width="9" height="9.1" fill="#273e00"/>
<rect x="1886.2" y="105.8" width="9" height="9.1" fill="#400000"/>
<rect x="1148.3" y="114.8" width="9" height="9.1" fill="#6c0030"/>
<rect x="1157.2" y="114.8" width="9" height="9.1" fill="#282a29"/>
<rect x="1166.1" y="114.8" width="9" height="9.1" fill="#b500ff"/>
<rect x="1175.0" y="114.8" width="9" height="9.1" fill="#47a3ac"/>
<rect x="1183.8" y="114.8" width="9" height="9.1" fill="#5f2deb"/>
<rect x="1192.7" y="114.8" width="9" height="9.1" fill="#ee5b2e"/>
<rect x="1201.6" y="114.8" width="9" height="9.1" fill="#ff6691"/>
<rect x="1210.5" y="114.8" width="9" height="9.1" fill="#b2ffd8"/>
<rect x="1219.4" y="114.8" width="9" height="9.1" fill="#9927ff"/>
<rect x="1228.3" y="114.8" width="9" height="9.1" fill="#ae31ff"/>
<rect x="1237.2" y="114.8" width="9" height="9.1" fill="#966eca"/>
<rect x="1246.1" y="114.8" width="9" height="9.1" fill="#b136ab"/>
<rect x="1255.0" y="114.8" width="9" height="9.1" fill="#ff3cce"/>
<rect x="1263.9" y="114.8" width="9" height="9.1" fill="#ff00dc"/>
<rect x="1272.8" y="114.8" width="9" height="9.1" fill="#ceb500"/>
<rect x="1281.6" y="114.8" width="9" height="9.1" fill="#ac7497"/>
<rect x="1290.5" y="114.8" width="9" height="9.1" fill="#dc3dff"/>
<rect x="1299.4" y="114.8" width="9" height="9.1" fill="#ff2f00"/>
<rect x="1308.3" y="114.8" width="9" height="9.1" fill="#ff26b3"/>
<rect x="1317.2" y="114.8" width="9" height="9.1" fill="#c9b5ff"/>
<rect x="1326.1" y="114.8" width="9" height="9.1" fill="#ff7478"/>
<rect x="1335.0" y="114.8" width="9" height="9.1" fill="#ffae31"/>
<rect x="1343.9" y="114.8" width="9" height="9.1" fill="#d1ac31"/>
<rect x="1352.8" y="114.8" width="9" height="9.1" fill="#008030"/>
<rect x="1361.7" y="114.8" width="9" height="9.1" fill="#006800"/>
<rect x="1370.5" y="114.8" width="9" height="9.1" fill="#466a00"/>
<rect x="1379.4" y="114.8" width="9" height="9.1" fill="#29007c"/>
<rect x="1388.3" y="114.8" width="9" height="9.1" fill="#2a0000"/>
<rect x="1397.2" y="114.8" width="9" height="9.1" fill="#003200"/>
<rect x="1503.9" y="114.8" width="9" height="9.1" fill="#004500"/>
<rect x="1530.6" y="114.8" width="9" height="9.1" fill="#000032"/>
<rect x="1566.1" y="114.8" width="9" height="9.1" fill="#000035"/>
<rect x="1601.7" y="114.8" width="9" height="9.1" fill="#003700"/>
<rect x="1619.5" y="114.8" width="9" height="9.1" fill="#300000"/>
<rect x="1628.3" y="114.8" width="9" height="9.1" fill="#000027"/>
<rect x="1646.1" y="114.8" width="9" height="9.1" fill="#003333"/>
<rect x="1655.0" y="114.8" width="9" height="9.1" fill="#003400"/>
<rect x="1663.9" y="114.8" width="9" height="9.1" fill="#004424"/>
<rect x="1672.8" y="114.8" width="9" height="9.1" fill="#752a00"/>
<rect x="1681.7" y="114.8" width="9" height="9.1" fill="#96376d"/>
<rect x="1690.6" y="114.8" width="9" height="9.1" fill="#75d9ee"/>
<rect x="1699.5" y="114.8" width="9" height="9.1" fill="#ede946"/>
<rect x="1708.4" y="114.8" width="9" height="9.1" fill="#ff2565"/>
<rect x="1717.2" y="114.8" width="9" height="9.1" fill="#ff48da"/>
<rect x="1726.1" y="114.8" width="9" height="9.1" fill="#ffb7af"/>
<rect x="1735.0" y="114.8" width="9" height="9.1" fill="#ffa5ff"/>
<rect x="1743.9" y="114.8" width="9" height="9.1" fill="#ffffff"/>
<rect x="1752.8" y="114.8" width="9" height="9.1" fill="#b371a5"/>
<rect x="1761.7" y="114.8" width="9" height="9.1" fill="#92d4db"/>
<rect x="1770.6" y="114.8" width="9" height="9.1" fill="#a7d126"/>
<rect x="1779.5" y="114.8" width="9" height="9.1" fill="#e75ab8"/>
<rect x="1788.4" y="114.8" width="9" height="9.1" fill="#41edff"/>
<rect x="1797.3" y="114.8" width="9" height="9.1" fill="#ff7d3c"/>
<rect x="1806.2" y="114.8" width="9" height="9.1" fill="#e4c896"/>
<rect x="1815.0" y="114.8" width="9" height="9.1" fill="#ff766e"/>
<rect x="1823.9" y="114.8" width="9" height="9.1" fill="#b780ff"/>
<rect x="1832.8" y="114.8" width="9" height="9.1" fill="#454137"/>
<rect x="1841.7" y="114.8" width="9" height="9.1" fill="#d800ad"/>
<rect x="1850.6" y="114.8" width="9" height="9.1" fill="#002f32"/>
<rect x="1859.5" y="114.8" width="9" height="9.1" fill="#002900"/>
<rect x="1877.3" y="114.8" width="9" height="9.1" fill="#00002d"/>
<rect x="1886.2" y="114.8" width="9" height="9.1" fill="#004000"/>
<rect x="1130.5" y="123.8" width="9" height="9.1" fill="#3a2500"/>
<rect x="1148.3" y="123.8" width="9" height="9.1" fill="#34002d"/>
<rect x="1157.2" y="123.8" width="9" height="9.1" fill="#430000"/>
<rect x="1166.1" y="123.8" width="9" height="9.1" fill="#003f46"/>
<rect x="1175.0" y="123.8" width="9" height="9.1" fill="#ff4ab3"/>
<rect x="1183.8" y="123.8" width="9" height="9.1" fill="#3b0074"/>
<rect x="1192.7" y="123.8" width="9" height="9.1" fill="#75009f"/>
<rect x="1201.6" y="123.8" width="9" height="9.1" fill="#ffffff"/>
<rect x="1210.5" y="123.8" width="9" height="9.1" fill="#ff277b"/>
<rect x="1219.4" y="123.8" width="9" height="9.1" fill="#c87c49"/>
<rect x="1228.3" y="123.8" width="9" height="9.1" fill="#5d9cff"/>
<rect x="1237.2" y="123.8" width="9" height="9.1" fill="#ff39ff"/>
<rect x="1246.1" y="123.8" width="9" height="9.1" fill="#ff3bcd"/>
<rect x="1255.0" y="123.8" width="9" height="9.1" fill="#ff3500"/>
<rect x="1263.9" y="123.8" width="9" height="9.1" fill="#ff6ec8"/>
<rect x="1272.8" y="123.8" width="9" height="9.1" fill="#33ff6f"/>
<rect x="1281.6" y="123.8" width="9" height="9.1" fill="#ae71b4"/>
<rect x="1290.5" y="123.8" width="9" height="9.1" fill="#ffb6da"/>
<rect x="1299.4" y="123.8" width="9" height="9.1" fill="#ff4200"/>
<rect x="1308.3" y="123.8" width="9" height="9.1" fill="#e471ff"/>
<rect x="1317.2" y="123.8" width="9" height="9.1" fill="#ff7b9e"/>
<rect x="1326.1" y="123.8" width="9" height="9.1" fill="#76437a"/>
<rect x="1335.0" y="123.8" width="9" height="9.1" fill="#ea41ff"/>
<rect x="1343.9" y="123.8" width="9" height="9.1" fill="#dd00cc"/>
<rect x="1352.8" y="123.8" width="9" height="9.1" fill="#9c6000"/>
<rect x="1361.7" y="123.8" width="9" height="9.1" fill="#5c3d00"/>
<rect x="1370.5" y="123.8" width="9" height="9.1" fill="#003300"/>
<rect x="1388.3" y="123.8" width="9" height="9.1" fill="#420000"/>
<rect x="1432.8" y="123.8" width="9" height="9.1" fill="#340000"/>
<rect x="1459.4" y="123.8" width="9" height="9.1" fill="#003200"/>
<rect x="1512.8" y="123.8" width="9" height="9.1" fill="#004700"/>
<rect x="1521.7" y="123.8" width="9" height="9.1" fill="#000044"/>
<rect x="1557.2" y="123.8" width="9" height="9.1" fill="#000032"/>
<rect x="1575.0" y="123.8" width="9" height="9.1" fill="#310000"/>
<rect x="1592.8" y="123.8" width="9" height="9.1" fill="#310000"/>
<rect x="1601.7" y="123.8" width="9" height="9.1" fill="#380000"/>
<rect x="1619.5" y="123.8" width="9" height="9.1" fill="#2b0000"/>
<rect x="1628.3" y="123.8" width="9" height="9.1" fill="#000042"/>
<rect x="1646.1" y="123.8" width="9" height="9.1" fill="#000032"/>
<rect x="1655.0" y="123.8" width="9" height="9.1" fill="#5c2b00"/>
<rect x="1663.9" y="123.8" width="9" height="9.1" fill="#403400"/>
<rect x="1672.8" y="123.8" width="9" height="9.1" fill="#437a70"/>
<rect x="1681.7" y="123.8" width="9" height="9.1" fill="#cc4400"/>
<rect x="1690.6" y="123.8" width="9" height="9.1" fill="#ff78ff"/>
<rect x="1699.5" y="123.8" width="9" height="9.1" fill="#3279af"/>
<rect x="1708.4" y="123.8" width="9" height="9.1" fill="#64ff9e"/>
<rect x="1717.2" y="123.8" width="9" height="9.1" fill="#e55dff"/>
<rect x="1726.1" y="123.8" width="9" height="9.1" fill="#ff7d00"/>
<rect x="1735.0" y="123.8" width="9" height="9.1" fill="#7d682d"/>
<rect x="1743.9" y="123.8" width="9" height="9.1" fill="#ffebe4"/>
<rect x="1752.8" y="123.8" width="9" height="9.1" fill="#ffd238"/>
<rect x="1761.7" y="123.8" width="9" height="9.1" fill="#b341ff"/>
<rect x="1770.6" y="123.8" width="9" height="9.1" fill="#ffe7ff"/>
<rect x="1779.5" y="123.8" width="9" height="9.1" fill="#ffb7ff"/>
<rect x="1788.4" y="123.8" width="9" height="9.1" fill="#ec28b4"/>
<rect x="1797.3" y="123.8" width="9" height="9.1" fill="#ff80a4"/>
<rect x="1806.2" y="123.8" width="9" height="9.1" fill="#eb6cff"/>
<rect x="1815.0" y="123.8" width="9" height="9.1" fill="#6a00ff"/>
<rect x="1823.9" y="123.8" width="9" height="9.1" fill="#ff27ff"/>
<rect x="1832.8" y="123.8" width="9" height="9.1" fill="#a2a091"/>
<rect x="1841.7" y="123.8" width="9" height="9.1" fill="#d100ca"/>
<rect x="1850.6" y="123.8" width="9" height="9.1" fill="#ac63a8"/>
<rect x="1859.5" y="123.8" width="9" height="9.1" fill="#9343a9"/>
<rect x="1868.4" y="123.8" width="9" height="9.1" fill="#002c63"/>
<rect x="1886.2" y="123.8" width="9" height="9.1" fill="#003f00"/>
<rect x="1130.5" y="132.8" width="9" height="9.1" fill="#720000"/>
<rect x="1148.3" y="132.8" width="9" height="9.1" fill="#00002f"/>
<rect x="1157.2" y="132.8" width="9" height="9.1" fill="#a8002d"/>
<rect x="1166.1" y="132.8" width="9" height="9.1" fill="#610032"/>
<rect x="1175.0" y="132.8" width="9" height="9.1" fill="#afb896"/>
<rect x="1183.8" y="132.8" width="9" height="9.1" fill="#ff5a64"/>
<rect x="1192.7" y="132.8" width="9" height="9.1" fill="#9a30ff"/>
<rect x="1201.6" y="132.8" width="9" height="9.1" fill="#7a8181"/>
<rect x="1210.5" y="132.8" width="9" height="9.1" fill="#9f61ff"/>
<rect x="1219.4" y="132.8" width="9" height="9.1" fill="#9860ff"/>
<rect x="1228.3" y="132.8" width="9" height="9.1" fill="#ff2f9c"/>
<rect x="1237.2" y="132.8" width="9" height="9.1" fill="#ff6070"/>
<rect x="1246.1" y="132.8" width="9" height="9.1" fill="#9eff46"/>
<rect x="1255.0" y="132.8" width="9" height="9.1" fill="#ade6b2"/>
<rect x="1263.9" y="132.8" width="9" height="9.1" fill="#ff7cff"/>
<rect x="1272.8" y="132.8" width="9" height="9.1" fill="#7aa75f"/>
<rect x="1281.6" y="132.8" width="9" height="9.1" fill="#ff6fff"/>
<rect x="1290.5" y="132.8" width="9" height="9.1" fill="#ffa7b4"/>
<rect x="1299.4" y="132.8" width="9" height="9.1" fill="#e4cc64"/>
<rect x="1308.3" y="132.8" width="9" height="9.1" fill="#d981d5"/>
<rect x="1317.2" y="132.8" width="9" height="9.1" fill="#ff0038"/>
<rect x="1326.1" y="132.8" width="9" height="9.1" fill="#e59c00"/>
<rect x="1335.0" y="132.8" width="9" height="9.1" fill="#ff0091"/>
<rect x="1343.9" y="132.8" width="9" height="9.1" fill="#b26693"/>
<rect x="1352.8" y="132.8" width="9" height="9.1" fill="#d69268"/>
<rect x="1361.7" y="132.8" width="9" height="9.1" fill="#e80068"/>
<rect x="1370.5" y="132.8" width="9" height="9.1" fill="#3f4700"/>
<rect x="1379.4" y="132.8" width="9" height="9.1" fill="#280079"/>
<rect x="1388.3" y="132.8" width="9" height="9.1" fill="#64003d"/>
<rect x="1397.2" y="132.8" width="9" height="9.1" fill="#394500"/>
<rect x="1415.0" y="132.8" width="9" height="9.1" fill="#2a0000"/>
<rect x="1477.2" y="132.8" width="9" height="9.1" fill="#260000"/>
<rect x="1486.1" y="132.8" width="9" height="9.1" fill="#00002f"/>
<rect x="1521.7" y="132.8" width="9" height="9.1" fill="#004000"/>
<rect x="1566.1" y="132.8" width="9" height="9.1" fill="#003000"/>
<rect x="1583.9" y="132.8" width="9" height="9.1" fill="#004800"/>
<rect x="1601.7" y="132.8" width="9" height="9.1" fill="#002f00"/>
<rect x="1610.6" y="132.8" width="9" height="9.1" fill="#000023"/>
<rect x="1637.2" y="132.8" width="9" height="9.1" fill="#004900"/>
<rect x="1646.1" y="132.8" width="9" height="9.1" fill="#2d2c00"/>
<rect x="1655.0" y="132.8" width="9" height="9.1" fill="#657900"/>
<rect x="1663.9" y="132.8" width="9" height="9.1" fill="#81c99b"/>
<rect x="1672.8" y="132.8" width="9" height="9.1" fill="#674a6a"/>
<rect x="1681.7" y="132.8" width="9" height="9.1" fill="#cc0044"/>
<rect x="1690.6" y="132.8" width="9" height="9.1" fill="#9d00ff"/>
<rect x="1699.5" y="132.8" width="9" height="9.1" fill="#d9a5ff"/>
<rect x="1708.4" y="132.8" width="9" height="9.1" fill="#cb24ff"/>
<rect x="1717.2" y="132.8" width="9" height="9.1" fill="#b3a538"/>
<rect x="1726.1" y="132.8" width="9" height="9.1" fill="#ff626d"/>
<rect x="1735.0" y="132.8" width="9" height="9.1" fill="#005a6a"/>
<rect x="1743.9" y="132.8" width="9" height="9.1" fill="#7b63ff"/>
<rect x="1752.8" y="132.8" width="9" height="9.1" fill="#e15aff"/>
<rect x="1761.7" y="132.8" width="9" height="9.1" fill="#ff7973"/>
<rect x="1770.6" y="132.8" width="9" height="9.1" fill="#ff31a8"/>
<rect x="1779.5" y="132.8" width="9" height="9.1" fill="#7063ff"/>
<rect x="1788.4" y="132.8" width="9" height="9.1" fill="#ffe4ff"/>
<rect x="1797.3" y="132.8" width="9" height="9.1" fill="#6660cd"/>
<rect x="1806.2" y="132.8" width="9" height="9.1" fill="#49775f"/>
<rect x="1815.0" y="132.8" width="9" height="9.1" fill="#b7ffae"/>
<rect x="1823.9" y="132.8" width="9" height="9.1" fill="#ff3679"/>
<rect x="1832.8" y="132.8" width="9" height="9.1" fill="#76b1db"/>
<rect x="1841.7" y="132.8" width="9" height="9.1" fill="#456d2d"/>
<rect x="1850.6" y="132.8" width="9" height="9.1" fill="#ff0037"/>
<rect x="1859.5" y="132.8" width="9" height="9.1" fill="#5f7ba0"/>
<rect x="1868.4" y="132.8" width="9" height="9.1" fill="#4037a3"/>
<rect x="1877.3" y="132.8" width="9" height="9.1" fill="#2a003b"/>
<rect x="1886.2" y="132.8" width="9" height="9.1" fill="#004800"/>
<rect x="1130.5" y="141.8" width="9" height="9.1" fill="#240000"/>
<rect x="1139.4" y="141.8" width="9" height="9.1" fill="#003f00"/>
<rect x="1148.3" y="141.8" width="9" height="9.1" fill="#260000"/>
<rect x="1157.2" y="141.8" width="9" height="9.1" fill="#5e0000"/>
<rect x="1166.1" y="141.8" width="9" height="9.1" fill="#cc812b"/>
<rect x="1175.0" y="141.8" width="9" height="9.1" fill="#3b237c"/>
<rect x="1183.8" y="141.8" width="9" height="9.1" fill="#a900d0"/>
<rect x="1192.7" y="141.8" width="9" height="9.1" fill="#6480d9"/>
<rect x="1201.6" y="141.8" width="9" height="9.1" fill="#ff37ff"/>
<rect x="1210.5" y="141.8" width="9" height="9.1" fill="#ffe100"/>
<rect x="1219.4" y="141.8" width="9" height="9.1" fill="#ff993c"/>
<rect x="1228.3" y="141.8" width="9" height="9.1" fill="#ff68ff"/>
<rect x="1237.2" y="141.8" width="9" height="9.1" fill="#74355e"/>
<rect x="1246.1" y="141.8" width="9" height="9.1" fill="#ff7c25"/>
<rect x="1255.0" y="141.8" width="9" height="9.1" fill="#ff357e"/>
<rect x="1263.9" y="141.8" width="9" height="9.1" fill="#ff4aff"/>
<rect x="1272.8" y="141.8" width="9" height="9.1" fill="#a42ddb"/>
<rect x="1281.6" y="141.8" width="9" height="9.1" fill="#db75a5"/>
<rect x="1290.5" y="141.8" width="9" height="9.1" fill="#d600ff"/>
<rect x="1299.4" y="141.8" width="9" height="9.1" fill="#ff46d6"/>
<rect x="1308.3" y="141.8" width="9" height="9.1" fill="#e2dc6e"/>
<rect x="1317.2" y="141.8" width="9" height="9.1" fill="#ff49ea"/>
<rect x="1326.1" y="141.8" width="9" height="9.1" fill="#795de1"/>
<rect x="1335.0" y="141.8" width="9" height="9.1" fill="#4000ff"/>
<rect x="1343.9" y="141.8" width="9" height="9.1" fill="#ef0000"/>
<rect x="1352.8" y="141.8" width="9" height="9.1" fill="#4845b7"/>
<rect x="1361.7" y="141.8" width="9" height="9.1" fill="#360000"/>
<rect x="1370.5" y="141.8" width="9" height="9.1" fill="#5c4600"/>
<rect x="1379.4" y="141.8" width="9" height="9.1" fill="#2d0033"/>
<rect x="1397.2" y="141.8" width="9" height="9.1" fill="#280000"/>
<rect x="1415.0" y="141.8" width="9" height="9.1" fill="#003400"/>
<rect x="1477.2" y="141.8" width="9" height="9.1" fill="#2c0000"/>
<rect x="1495.0" y="141.8" width="9" height="9.1" fill="#722600"/>
<rect x="1503.9" y="141.8" width="9" height="9.1" fill="#5d6800"/>
<rect x="1521.7" y="141.8" width="9" height="9.1" fill="#ed283b"/>
<rect x="1530.6" y="141.8" width="9" height="9.1" fill="#330000"/>
<rect x="1548.3" y="141.8" width="9" height="9.1" fill="#003a00"/>
<rect x="1619.5" y="141.8" width="9" height="9.1" fill="#390000"/>
<rect x="1628.3" y="141.8" width="9" height="9.1" fill="#003000"/>
<rect x="1637.2" y="141.8" width="9" height="9.1" fill="#007200"/>
<rect x="1646.1" y="141.8" width="9" height="9.1" fill="#000039"/>
<rect x="1663.9" y="141.8" width="9" height="9.1" fill="#c8b233"/>
<rect x="1672.8" y="141.8" width="9" height="9.1" fill="#003f3b"/>
<rect x="1681.7" y="141.8" width="9" height="9.1" fill="#ffffff"/>
<rect x="1690.6" y="141.8" width="9" height="9.1" fill="#5a445f"/>
<rect x="1699.5" y="141.8" width="9" height="9.1" fill="#ff7f94"/>
<rect x="1708.4" y="141.8" width="9" height="9.1" fill="#ffd7e2"/>
<rect x="1717.2" y="141.8" width="9" height="9.1" fill="#499392"/>
<rect x="1726.1" y="141.8" width="9" height="9.1" fill="#b5a5ae"/>
<rect x="1735.0" y="141.8" width="9" height="9.1" fill="#ff2eff"/>
<rect x="1743.9" y="141.8" width="9" height="9.1" fill="#d4ee41"/>
<rect x="1752.8" y="141.8" width="9" height="9.1" fill="#5e35ff"/>
<rect x="1761.7" y="141.8" width="9" height="9.1" fill="#ffffe4"/>
<rect x="1770.6" y="141.8" width="9" height="9.1" fill="#e1e571"/>
<rect x="1779.5" y="141.8" width="9" height="9.1" fill="#ebb6ab"/>
<rect x="1788.4" y="141.8" width="9" height="9.1" fill="#ebe9ff"/>
<rect x="1797.3" y="141.8" width="9" height="9.1" fill="#e9ff9b"/>
<rect x="1806.2" y="141.8" width="9" height="9.1" fill="#ffff63"/>
<rect x="1815.0" y="141.8" width="9" height="9.1" fill="#ffd5a4"/>
<rect x="1823.9" y="141.8" width="9" height="9.1" fill="#0000ae"/>
<rect x="1832.8" y="141.8" width="9" height="9.1" fill="#ff74ff"/>
<rect x="1841.7" y="141.8" width="9" height="9.1" fill="#ca69d2"/>
<rect x="1850.6" y="141.8" width="9" height="9.1" fill="#4431ff"/>
<rect x="1859.5" y="141.8" width="9" height="9.1" fill="#2d5e27"/>
<rect x="1868.4" y="141.8" width="9" height="9.1" fill="#007a7a"/>
<rect x="1877.3" y="141.8" width="9" height="9.1" fill="#000047"/>
<rect x="1886.2" y="141.8" width="9" height="9.1" fill="#260000"/>
<rect x="1139.4" y="150.8" width="9" height="9.1" fill="#00003e"/>
<rect x="1148.3" y="150.8" width="9" height="9.1" fill="#463a00"/>
<rect x="1157.2" y="150.8" width="9" height="9.1" fill="#6e0000"/>
<rect x="1166.1" y="150.8" width="9" height="9.1" fill="#a535b0"/>
<rect x="1175.0" y="150.8" width="9" height="9.1" fill="#662eff"/>
<rect x="1183.8" y="150.8" width="9" height="9.1" fill="#ff35ff"/>
<rect x="1192.7" y="150.8" width="9" height="9.1" fill="#6d00c8"/>
<rect x="1201.6" y="150.8" width="9" height="9.1" fill="#ff65ee"/>
<rect x="1210.5" y="150.8" width="9" height="9.1" fill="#c92aff"/>
<rect x="1219.4" y="150.8" width="9" height="9.1" fill="#e726d0"/>
<rect x="1228.3" y="150.8" width="9" height="9.1" fill="#da985a"/>
<rect x="1237.2" y="150.8" width="9" height="9.1" fill="#ff69e9"/>
<rect x="1246.1" y="150.8" width="9" height="9.1" fill="#ce95ff"/>
<rect x="1255.0" y="150.8" width="9" height="9.1" fill="#ad6dff"/>
<rect x="1263.9" y="150.8" width="9" height="9.1" fill="#7437d0"/>
<rect x="1272.8" y="150.8" width="9" height="9.1" fill="#76ff00"/>
<rect x="1281.6" y="150.8" width="9" height="9.1" fill="#655e6d"/>
<rect x="1290.5" y="150.8" width="9" height="9.1" fill="#6100d6"/>
<rect x="1299.4" y="150.8" width="9" height="9.1" fill="#ff00ff"/>
<rect x="1308.3" y="150.8" width="9" height="9.1" fill="#614000"/>
<rect x="1317.2" y="150.8" width="9" height="9.1" fill="#ff00dc"/>
<rect x="1326.1" y="150.8" width="9" height="9.1" fill="#ffa32e"/>
<rect x="1335.0" y="150.8" width="9" height="9.1" fill="#eba773"/>
<rect x="1343.9" y="150.8" width="9" height="9.1" fill="#ffb0ff"/>
<rect x="1352.8" y="150.8" width="9" height="9.1" fill="#2a6b00"/>
<rect x="1361.7" y="150.8" width="9" height="9.1" fill="#2b765a"/>
<rect x="1370.5" y="150.8" width="9" height="9.1" fill="#30446d"/>
<rect x="1379.4" y="150.8" width="9" height="9.1" fill="#2b0000"/>
<rect x="1388.3" y="150.8" width="9" height="9.1" fill="#006d00"/>
<rect x="1406.1" y="150.8" width="9" height="9.1" fill="#2a002d"/>
<rect x="1415.0" y="150.8" width="9" height="9.1" fill="#00002c"/>
<rect x="1432.8" y="150.8" width="9" height="9.1" fill="#000025"/>
<rect x="1468.3" y="150.8" width="9" height="9.1" fill="#356400"/>
<rect x="1486.1" y="150.8" width="9" height="9.1" fill="#2f6d00"/>
<rect x="1495.0" y="150.8" width="9" height="9.1" fill="#ffb500"/>
<rect x="1503.9" y="150.8" width="9" height="9.1" fill="#ff9b00"/>
<rect x="1512.8" y="150.8" width="9" height="9.1" fill="#ffe34a"/>
<rect x="1521.7" y="150.8" width="9" height="9.1" fill="#ecd300"/>
<rect x="1530.6" y="150.8" width="9" height="9.1" fill="#ff0000"/>
<rect x="1539.5" y="150.8" width="9" height="9.1" fill="#380000"/>
<rect x="1548.3" y="150.8" width="9" height="9.1" fill="#740000"/>
<rect x="1557.2" y="150.8" width="9" height="9.1" fill="#000047"/>
<rect x="1575.0" y="150.8" width="9" height="9.1" fill="#490000"/>
<rect x="1610.6" y="150.8" width="9" height="9.1" fill="#000038"/>
<rect x="1637.2" y="150.8" width="9" height="9.1" fill="#004000"/>
<rect x="1646.1" y="150.8" width="9" height="9.1" fill="#00004a"/>
<rect x="1655.0" y="150.8" width="9" height="9.1" fill="#240000"/>
<rect x="1663.9" y="150.8" width="9" height="9.1" fill="#363eab"/>
<rect x="1672.8" y="150.8" width="9" height="9.1" fill="#ff009f"/>
<rect x="1681.7" y="150.8" width="9" height="9.1" fill="#9b7199"/>
<rect x="1690.6" y="150.8" width="9" height="9.1" fill="#742428"/>
<rect x="1699.5" y="150.8" width="9" height="9.1" fill="#ffb591"/>
<rect x="1708.4" y="150.8" width="9" height="9.1" fill="#aeffff"/>
<rect x="1717.2" y="150.8" width="9" height="9.1" fill="#ff8168"/>
<rect x="1726.1" y="150.8" width="9" height="9.1" fill="#ffffff"/>
<rect x="1735.0" y="150.8" width="9" height="9.1" fill="#ffb8ea"/>
<rect x="1743.9" y="150.8" width="9" height="9.1" fill="#ffffff"/>
<rect x="1752.8" y="150.8" width="9" height="9.1" fill="#7dffd8"/>
<rect x="1761.7" y="150.8" width="9" height="9.1" fill="#ff9bff"/>
<rect x="1770.6" y="150.8" width="9" height="9.1" fill="#e5e9ff"/>
<rect x="1779.5" y="150.8" width="9" height="9.1" fill="#ffb25e"/>
<rect x="1788.4" y="150.8" width="9" height="9.1" fill="#d692ab"/>
<rect x="1797.3" y="150.8" width="9" height="9.1" fill="#a131ff"/>
<rect x="1806.2" y="150.8" width="9" height="9.1" fill="#ff9ce1"/>
<rect x="1815.0" y="150.8" width="9" height="9.1" fill="#9effb2"/>
<rect x="1823.9" y="150.8" width="9" height="9.1" fill="#75ff9f"/>
<rect x="1832.8" y="150.8" width="9" height="9.1" fill="#94ffff"/>
<rect x="1841.7" y="150.8" width="9" height="9.1" fill="#7a45ff"/>
<rect x="1850.6" y="150.8" width="9" height="9.1" fill="#5b0035"/>
<rect x="1859.5" y="150.8" width="9" height="9.1" fill="#382500"/>
<rect x="1868.4" y="150.8" width="9" height="9.1" fill="#35005c"/>
<rect x="1877.3" y="150.8" width="9" height="9.1" fill="#3c4600"/>
<rect x="1886.2" y="150.8" width="9" height="9.1" fill="#7b0000"/>
<rect x="1130.5" y="159.8" width="9" height="9.1" fill="#2d0000"/>
<rect x="1139.4" y="159.8" width="9" height="9.1" fill="#003134"/>
<rect x="1157.2" y="159.8" width="9" height="9.1" fill="#924244"/>
<rect x="1166.1" y="159.8" width="9" height="9.1" fill="#ff7526"/>
<rect x="1175.0" y="159.8" width="9" height="9.1" fill="#0044d9"/>
<rect x="1183.8" y="159.8" width="9" height="9.1" fill="#e2e897"/>
<rect x="1192.7" y="159.8" width="9" height="9.1" fill="#dca7d0"/>
<rect x="1201.6" y="159.8" width="9" height="9.1" fill="#a0efcc"/>
<rect x="1210.5" y="159.8" width="9" height="9.1" fill="#ecffa3"/>
<rect x="1219.4" y="159.8" width="9" height="9.1" fill="#7773cf"/>
<rect x="1228.3" y="159.8" width="9" height="9.1" fill="#ff5aa3"/>
<rect x="1237.2" y="159.8" width="9" height="9.1" fill="#445dff"/>
<rect x="1246.1" y="159.8" width="9" height="9.1" fill="#9395ff"/>
<rect x="1255.0" y="159.8" width="9" height="9.1" fill="#ffa8e6"/>
<rect x="1263.9" y="159.8" width="9" height="9.1" fill="#ffffff"/>
<rect x="1272.8" y="159.8" width="9" height="9.1" fill="#5ba65a"/>
<rect x="1281.6" y="159.8" width="9" height="9.1" fill="#71ffff"/>
<rect x="1290.5" y="159.8" width="9" height="9.1" fill="#ff5ac8"/>
<rect x="1299.4" y="159.8" width="9" height="9.1" fill="#5aa1d1"/>
<rect x="1308.3" y="159.8" width="9" height="9.1" fill="#9e32ec"/>
<rect x="1317.2" y="159.8" width="9" height="9.1" fill="#aa61ff"/>
<rect x="1326.1" y="159.8" width="9" height="9.1" fill="#e700d2"/>
<rect x="1335.0" y="159.8" width="9" height="9.1" fill="#e8362c"/>
<rect x="1343.9" y="159.8" width="9" height="9.1" fill="#ff4569"/>
<rect x="1352.8" y="159.8" width="9" height="9.1" fill="#744900"/>
<rect x="1361.7" y="159.8" width="9" height="9.1" fill="#317031"/>
<rect x="1370.5" y="159.8" width="9" height="9.1" fill="#6d0000"/>
<rect x="1379.4" y="159.8" width="9" height="9.1" fill="#320000"/>
<rect x="1397.2" y="159.8" width="9" height="9.1" fill="#003800"/>
<rect x="1415.0" y="159.8" width="9" height="9.1" fill="#4a0000"/>
<rect x="1441.7" y="159.8" width="9" height="9.1" fill="#004900"/>
<rect x="1450.5" y="159.8" width="9" height="9.1" fill="#000043"/>
<rect x="1477.2" y="159.8" width="9" height="9.1" fill="#002f3e"/>
<rect x="1486.1" y="159.8" width="9" height="9.1" fill="#806e00"/>
<rect x="1495.0" y="159.8" width="9" height="9.1" fill="#ffb400"/>
<rect x="1503.9" y="159.8" width="9" height="9.1" fill="#445e00"/>
<rect x="1512.8" y="159.8" width="9" height="9.1" fill="#a7ff00"/>
<rect x="1521.7" y="159.8" width="9" height="9.1" fill="#43df3b"/>
<rect x="1530.6" y="159.8" width="9" height="9.1" fill="#dad800"/>
<rect x="1539.5" y="159.8" width="9" height="9.1" fill="#006700"/>
<rect x="1548.3" y="159.8" width="9" height="9.1" fill="#3b0000"/>
<rect x="1557.2" y="159.8" width="9" height="9.1" fill="#004500"/>
<rect x="1575.0" y="159.8" width="9" height="9.1" fill="#000035"/>
<rect x="1637.2" y="159.8" width="9" height="9.1" fill="#484400"/>
<rect x="1646.1" y="159.8" width="9" height="9.1" fill="#00003c"/>
<rect x="1655.0" y="159.8" width="9" height="9.1" fill="#470000"/>
<rect x="1663.9" y="159.8" width="9" height="9.1" fill="#ff4265"/>
<rect x="1672.8" y="159.8" width="9" height="9.1" fill="#a143a2"/>
<rect x="1681.7" y="159.8" width="9" height="9.1" fill="#ff61a2"/>
<rect x="1690.6" y="159.8" width="9" height="9.1" fill="#ffe1ff"/>
<rect x="1699.5" y="159.8" width="9" height="9.1" fill="#789645"/>
<rect x="1708.4" y="159.8" width="9" height="9.1" fill="#ffffed"/>
<rect x="1717.2" y="159.8" width="9" height="9.1" fill="#df44ae"/>
<rect x="1726.1" y="159.8" width="9" height="9.1" fill="#73ffb7"/>
<rect x="1735.0" y="159.8" width="9" height="9.1" fill="#ffff63"/>
<rect x="1743.9" y="159.8" width="9" height="9.1" fill="#6a91ff"/>
<rect x="1752.8" y="159.8" width="9" height="9.1" fill="#ffe0b1"/>
<rect x="1761.7" y="159.8" width="9" height="9.1" fill="#e397d1"/>
<rect x="1770.6" y="159.8" width="9" height="9.1" fill="#b5d2ff"/>
<rect x="1779.5" y="159.8" width="9" height="9.1" fill="#6f73de"/>
<rect x="1788.4" y="159.8" width="9" height="9.1" fill="#d1dacc"/>
<rect x="1797.3" y="159.8" width="9" height="9.1" fill="#ffffff"/>
<rect x="1806.2" y="159.8" width="9" height="9.1" fill="#34ada5"/>
<rect x="1815.0" y="159.8" width="9" height="9.1" fill="#96c9ff"/>
<rect x="1823.9" y="159.8" width="9" height="9.1" fill="#cfa892"/>
<rect x="1832.8" y="159.8" width="9" height="9.1" fill="#a2b549"/>
<rect x="1841.7" y="159.8" width="9" height="9.1" fill="#ffceb1"/>
<rect x="1850.6" y="159.8" width="9" height="9.1" fill="#5effcf"/>
<rect x="1859.5" y="159.8" width="9" height="9.1" fill="#394623"/>
<rect x="1868.4" y="159.8" width="9" height="9.1" fill="#390038"/>
<rect x="1877.3" y="159.8" width="9" height="9.1" fill="#00ff00"/>
<rect x="1886.2" y="159.8" width="9" height="9.1" fill="#2c0000"/>
<rect x="1130.5" y="168.8" width="9" height="9.1" fill="#230037"/>
<rect x="1139.4" y="168.8" width="9" height="9.1" fill="#003b67"/>
<rect x="1148.3" y="168.8" width="9" height="9.1" fill="#3e3f00"/>
<rect x="1157.2" y="168.8" width="9" height="9.1" fill="#00002e"/>
<rect x="1166.1" y="168.8" width="9" height="9.1" fill="#336a9f"/>
<rect x="1175.0" y="168.8" width="9" height="9.1" fill="#260000"/>
<rect x="1183.8" y="168.8" width="9" height="9.1" fill="#787964"/>
<rect x="1192.7" y="168.8" width="9" height="9.1" fill="#b8006a"/>
<rect x="1201.6" y="168.8" width="9" height="9.1" fill="#ff009b"/>
<rect x="1210.5" y="168.8" width="9" height="9.1" fill="#932565"/>
<rect x="1219.4" y="168.8" width="9" height="9.1" fill="#ffabff"/>
<rect x="1228.3" y="168.8" width="9" height="9.1" fill="#ff3698"/>
<rect x="1237.2" y="168.8" width="9" height="9.1" fill="#359276"/>
<rect x="1246.1" y="168.8" width="9" height="9.1" fill="#7365ff"/>
<rect x="1255.0" y="168.8" width="9" height="9.1" fill="#a04770"/>
<rect x="1263.9" y="168.8" width="9" height="9.1" fill="#ff25ff"/>
<rect x="1272.8" y="168.8" width="9" height="9.1" fill="#ffffd2"/>
<rect x="1281.6" y="168.8" width="9" height="9.1" fill="#81dc68"/>
<rect x="1290.5" y="168.8" width="9" height="9.1" fill="#ffa42c"/>
<rect x="1299.4" y="168.8" width="9" height="9.1" fill="#ffff79"/>
<rect x="1308.3" y="168.8" width="9" height="9.1" fill="#ae2de8"/>
<rect x="1317.2" y="168.8" width="9" height="9.1" fill="#ffffff"/>
<rect x="1326.1" y="168.8" width="9" height="9.1" fill="#6dabff"/>
<rect x="1335.0" y="168.8" width="9" height="9.1" fill="#cfa3a0"/>
<rect x="1343.9" y="168.8" width="9" height="9.1" fill="#3e32b7"/>
<rect x="1352.8" y="168.8" width="9" height="9.1" fill="#97273b"/>
<rect x="1361.7" y="168.8" width="9" height="9.1" fill="#42002b"/>
<rect x="1370.5" y="168.8" width="9" height="9.1" fill="#813831"/>
<rect x="1379.4" y="168.8" width="9" height="9.1" fill="#340000"/>
<rect x="1415.0" y="168.8" width="9" height="9.1" fill="#230000"/>
<rect x="1459.4" y="168.8" width="9" height="9.1" fill="#470000"/>
<rect x="1486.1" y="168.8" width="9" height="9.1" fill="#00352c"/>
<rect x="1495.0" y="168.8" width="9" height="9.1" fill="#662d00"/>
<rect x="1503.9" y="168.8" width="9" height="9.1" fill="#ffff00"/>
<rect x="1512.8" y="168.8" width="9" height="9.1" fill="#ff5c00"/>
<rect x="1521.7" y="168.8" width="9" height="9.1" fill="#782f2e"/>
<rect x="1530.6" y="168.8" width="9" height="9.1" fill="#ab0000"/>
<rect x="1539.5" y="168.8" width="9" height="9.1" fill="#002400"/>
<rect x="1583.9" y="168.8" width="9" height="9.1" fill="#000039"/>
<rect x="1610.6" y="168.8" width="9" height="9.1" fill="#380000"/>
<rect x="1619.5" y="168.8" width="9" height="9.1" fill="#004000"/>
<rect x="1646.1" y="168.8" width="9" height="9.1" fill="#000032"/>
<rect x="1655.0" y="168.8" width="9" height="9.1" fill="#480072"/>
<rect x="1663.9" y="168.8" width="9" height="9.1" fill="#00ac00"/>
<rect x="1672.8" y="168.8" width="9" height="9.1" fill="#780080"/>
<rect x="1681.7" y="168.8" width="9" height="9.1" fill="#ff7e47"/>
<rect x="1690.6" y="168.8" width="9" height="9.1" fill="#e47e29"/>
<rect x="1699.5" y="168.8" width="9" height="9.1" fill="#ffd69b"/>
<rect x="1708.4" y="168.8" width="9" height="9.1" fill="#aa28ff"/>
<rect x="1717.2" y="168.8" width="9" height="9.1" fill="#ffffff"/>
<rect x="1726.1" y="168.8" width="9" height="9.1" fill="#af5fff"/>
<rect x="1735.0" y="168.8" width="9" height="9.1" fill="#72606e"/>
<rect x="1743.9" y="168.8" width="9" height="9.1" fill="#a59438"/>
<rect x="1752.8" y="168.8" width="9" height="9.1" fill="#7da8ad"/>
<rect x="1761.7" y="168.8" width="9" height="9.1" fill="#ab6cff"/>
<rect x="1770.6" y="168.8" width="9" height="9.1" fill="#ffaae0"/>
<rect x="1779.5" y="168.8" width="9" height="9.1" fill="#ffb262"/>
<rect x="1788.4" y="168.8" width="9" height="9.1" fill="#ff332b"/>
<rect x="1797.3" y="168.8" width="9" height="9.1" fill="#ffdfff"/>
<rect x="1806.2" y="168.8" width="9" height="9.1" fill="#ff78a8"/>
<rect x="1815.0" y="168.8" width="9" height="9.1" fill="#9bb6d7"/>
<rect x="1823.9" y="168.8" width="9" height="9.1" fill="#e124e7"/>
<rect x="1832.8" y="168.8" width="9" height="9.1" fill="#ff49b0"/>
<rect x="1841.7" y="168.8" width="9" height="9.1" fill="#7dc9ff"/>
<rect x="1850.6" y="168.8" width="9" height="9.1" fill="#610042"/>
<rect x="1859.5" y="168.8" width="9" height="9.1" fill="#d6aa2e"/>
<rect x="1868.4" y="168.8" width="9" height="9.1" fill="#5f0000"/>
<rect x="1877.3" y="168.8" width="9" height="9.1" fill="#7a0000"/>
<rect x="1148.3" y="177.8" width="9" height="9.1" fill="#24003e"/>
<rect x="1157.2" y="177.8" width="9" height="9.1" fill="#dd0000"/>
<rect x="1166.1" y="177.8" width="9" height="9.1" fill="#000039"/>
<rect x="1175.0" y="177.8" width="9" height="9.1" fill="#df0000"/>
<rect x="1183.8" y="177.8" width="9" height="9.1" fill="#230091"/>
<rect x="1192.7" y="177.8" width="9" height="9.1" fill="#d50099"/>
<rect x="1201.6" y="177.8" width="9" height="9.1" fill="#cc6fff"/>
<rect x="1210.5" y="177.8" width="9" height="9.1" fill="#ff26ff"/>
<rect x="1219.4" y="177.8" width="9" height="9.1" fill="#ff2fcc"/>
<rect x="1228.3" y="177.8" width="9" height="9.1" fill="#ff5c2d"/>
<rect x="1237.2" y="177.8" width="9" height="9.1" fill="#ff497e"/>
<rect x="1246.1" y="177.8" width="9" height="9.1" fill="#967669"/>
<rect x="1255.0" y="177.8" width="9" height="9.1" fill="#aeecb8"/>
<rect x="1263.9" y="177.8" width="9" height="9.1" fill="#d13ce7"/>
<rect x="1272.8" y="177.8" width="9" height="9.1" fill="#ffb4ff"/>
<rect x="1281.6" y="177.8" width="9" height="9.1" fill="#a3006d"/>
<rect x="1290.5" y="177.8" width="9" height="9.1" fill="#ffafa7"/>
<rect x="1299.4" y="177.8" width="9" height="9.1" fill="#d85c5c"/>
<rect x="1308.3" y="177.8" width="9" height="9.1" fill="#5fff97"/>
<rect x="1317.2" y="177.8" width="9" height="9.1" fill="#ff632c"/>
<rect x="1326.1" y="177.8" width="9" height="9.1" fill="#9b253d"/>
<rect x="1335.0" y="177.8" width="9" height="9.1" fill="#00a160"/>
<rect x="1343.9" y="177.8" width="9" height="9.1" fill="#300075"/>
<rect x="1352.8" y="177.8" width="9" height="9.1" fill="#99005d"/>
<rect x="1361.7" y="177.8" width="9" height="9.1" fill="#00442c"/>
<rect x="1370.5" y="177.8" width="9" height="9.1" fill="#3a33c9"/>
<rect x="1379.4" y="177.8" width="9" height="9.1" fill="#004649"/>
<rect x="1397.2" y="177.8" width="9" height="9.1" fill="#6d0000"/>
<rect x="1406.1" y="177.8" width="9" height="9.1" fill="#2c0045"/>
<rect x="1415.0" y="177.8" width="9" height="9.1" fill="#000042"/>
<rect x="1441.7" y="177.8" width="9" height="9.1" fill="#00003e"/>
<rect x="1512.8" y="177.8" width="9" height="9.1" fill="#002c00"/>
<rect x="1521.7" y="177.8" width="9" height="9.1" fill="#9b0000"/>
<rect x="1530.6" y="177.8" width="9" height="9.1" fill="#005f00"/>
<rect x="1575.0" y="177.8" width="9" height="9.1" fill="#000024"/>
<rect x="1601.7" y="177.8" width="9" height="9.1" fill="#000032"/>
<rect x="1619.5" y="177.8" width="9" height="9.1" fill="#490000"/>
<rect x="1637.2" y="177.8" width="9" height="9.1" fill="#2f6823"/>
<rect x="1655.0" y="177.8" width="9" height="9.1" fill="#9f0000"/>
<rect x="1663.9" y="177.8" width="9" height="9.1" fill="#d92500"/>
<rect x="1672.8" y="177.8" width="9" height="9.1" fill="#3f3f81"/>
<rect x="1681.7" y="177.8" width="9" height="9.1" fill="#742838"/>
<rect x="1690.6" y="177.8" width="9" height="9.1" fill="#310080"/>
<rect x="1699.5" y="177.8" width="9" height="9.1" fill="#ff7c37"/>
<rect x="1708.4" y="177.8" width="9" height="9.1" fill="#a23aff"/>
<rect x="1717.2" y="177.8" width="9" height="9.1" fill="#cd33ff"/>
<rect x="1726.1" y="177.8" width="9" height="9.1" fill="#00ffff"/>
<rect x="1735.0" y="177.8" width="9" height="9.1" fill="#ff6c29"/>
<rect x="1743.9" y="177.8" width="9" height="9.1" fill="#9d3aa4"/>
<rect x="1752.8" y="177.8" width="9" height="9.1" fill="#ffa400"/>
<rect x="1761.7" y="177.8" width="9" height="9.1" fill="#6bdaff"/>
<rect x="1770.6" y="177.8" width="9" height="9.1" fill="#3dffff"/>
<rect x="1779.5" y="177.8" width="9" height="9.1" fill="#ff3573"/>
<rect x="1788.4" y="177.8" width="9" height="9.1" fill="#ff2b99"/>
<rect x="1797.3" y="177.8" width="9" height="9.1" fill="#d6ae49"/>
<rect x="1806.2" y="177.8" width="9" height="9.1" fill="#e7ffff"/>
<rect x="1815.0" y="177.8" width="9" height="9.1" fill="#d2daa6"/>
<rect x="1823.9" y="177.8" width="9" height="9.1" fill="#d5006c"/>
<rect x="1832.8" y="177.8" width="9" height="9.1" fill="#c99eaa"/>
<rect x="1841.7" y="177.8" width="9" height="9.1" fill="#41ff72"/>
<rect x="1850.6" y="177.8" width="9" height="9.1" fill="#aa00e6"/>
<rect x="1859.5" y="177.8" width="9" height="9.1" fill="#7ea970"/>
<rect x="1868.4" y="177.8" width="9" height="9.1" fill="#004600"/>
<rect x="1886.2" y="177.8" width="9" height="9.1" fill="#270000"/>
<rect x="1139.4" y="186.8" width="9" height="9.1" fill="#00002d"/>
<rect x="1148.3" y="186.8" width="9" height="9.1" fill="#2c0044"/>
<rect x="1157.2" y="186.8" width="9" height="9.1" fill="#47007d"/>
<rect x="1166.1" y="186.8" width="9" height="9.1" fill="#60002a"/>
<rect x="1175.0" y="186.8" width="9" height="9.1" fill="#2f3700"/>
<rect x="1183.8" y="186.8" width="9" height="9.1" fill="#ff005f"/>
<rect x="1192.7" y="186.8" width="9" height="9.1" fill="#485a7e"/>
<rect x="1201.6" y="186.8" width="9" height="9.1" fill="#db9f00"/>
<rect x="1210.5" y="186.8" width="9" height="9.1" fill="#5ce9a6"/>
<rect x="1219.4" y="186.8" width="9" height="9.1" fill="#ffa79d"/>
<rect x="1228.3" y="186.8" width="9" height="9.1" fill="#3400a8"/>
<rect x="1237.2" y="186.8" width="9" height="9.1" fill="#6f72ff"/>
<rect x="1246.1" y="186.8" width="9" height="9.1" fill="#ff6be1"/>
<rect x="1255.0" y="186.8" width="9" height="9.1" fill="#d6d6e3"/>
<rect x="1263.9" y="186.8" width="9" height="9.1" fill="#a84a9b"/>
<rect x="1272.8" y="186.8" width="9" height="9.1" fill="#ef45df"/>
<rect x="1281.6" y="186.8" width="9" height="9.1" fill="#e89b2e"/>
<rect x="1290.5" y="186.8" width="9" height="9.1" fill="#6e3e7d"/>
<rect x="1299.4" y="186.8" width="9" height="9.1" fill="#6200ff"/>
<rect x="1308.3" y="186.8" width="9" height="9.1" fill="#ae9979"/>
<rect x="1317.2" y="186.8" width="9" height="9.1" fill="#5b997a"/>
<rect x="1326.1" y="186.8" width="9" height="9.1" fill="#3a00a5"/>
<rect x="1335.0" y="186.8" width="9" height="9.1" fill="#3f0026"/>
<rect x="1343.9" y="186.8" width="9" height="9.1" fill="#dc357c"/>
<rect x="1352.8" y="186.8" width="9" height="9.1" fill="#d0405c"/>
<rect x="1361.7" y="186.8" width="9" height="9.1" fill="#454180"/>
<rect x="1370.5" y="186.8" width="9" height="9.1" fill="#4a002f"/>
<rect x="1379.4" y="186.8" width="9" height="9.1" fill="#000046"/>
<rect x="1388.3" y="186.8" width="9" height="9.1" fill="#390000"/>
<rect x="1397.2" y="186.8" width="9" height="9.1" fill="#000049"/>
<rect x="1415.0" y="186.8" width="9" height="9.1" fill="#00003d"/>
<rect x="1423.9" y="186.8" width="9" height="9.1" fill="#003e00"/>
<rect x="1450.5" y="186.8" width="9" height="9.1" fill="#003200"/>
<rect x="1495.0" y="186.8" width="9" height="9.1" fill="#000029"/>
<rect x="1512.8" y="186.8" width="9" height="9.1" fill="#003e00"/>
<rect x="1557.2" y="186.8" width="9" height="9.1" fill="#003d00"/>
<rect x="1566.1" y="186.8" width="9" height="9.1" fill="#004a00"/>
<rect x="1575.0" y="186.8" width="9" height="9.1" fill="#000035"/>
<rect x="1592.8" y="186.8" width="9" height="9.1" fill="#400000"/>
<rect x="1628.3" y="186.8" width="9" height="9.1" fill="#002c00"/>
<rect x="1637.2" y="186.8" width="9" height="9.1" fill="#00002f"/>
<rect x="1646.1" y="186.8" width="9" height="9.1" fill="#380000"/>
<rect x="1655.0" y="186.8" width="9" height="9.1" fill="#9a7f00"/>
<rect x="1663.9" y="186.8" width="9" height="9.1" fill="#2f2f6e"/>
<rect x="1672.8" y="186.8" width="9" height="9.1" fill="#ff2e72"/>
<rect x="1681.7" y="186.8" width="9" height="9.1" fill="#9925ff"/>
<rect x="1690.6" y="186.8" width="9" height="9.1" fill="#ff437f"/>
<rect x="1699.5" y="186.8" width="9" height="9.1" fill="#a15fff"/>
<rect x="1708.4" y="186.8" width="9" height="9.1" fill="#ffffcc"/>
<rect x="1717.2" y="186.8" width="9" height="9.1" fill="#97ffa3"/>
<rect x="1726.1" y="186.8" width="9" height="9.1" fill="#b361ee"/>
<rect x="1735.0" y="186.8" width="9" height="9.1" fill="#e23e93"/>
<rect x="1743.9" y="186.8" width="9" height="9.1" fill="#40292f"/>
<rect x="1752.8" y="186.8" width="9" height="9.1" fill="#9681ff"/>
<rect x="1761.7" y="186.8" width="9" height="9.1" fill="#dddf96"/>
<rect x="1770.6" y="186.8" width="9" height="9.1" fill="#47d3df"/>
<rect x="1779.5" y="186.8" width="9" height="9.1" fill="#ffd0ff"/>
<rect x="1788.4" y="186.8" width="9" height="9.1" fill="#2a9d6f"/>
<rect x="1797.3" y="186.8" width="9" height="9.1" fill="#ff73ff"/>
<rect x="1806.2" y="186.8" width="9" height="9.1" fill="#ffb592"/>
<rect x="1815.0" y="186.8" width="9" height="9.1" fill="#ffffd1"/>
<rect x="1823.9" y="186.8" width="9" height="9.1" fill="#ff68ff"/>
<rect x="1832.8" y="186.8" width="9" height="9.1" fill="#ffc8b8"/>
<rect x="1841.7" y="186.8" width="9" height="9.1" fill="#ff6d00"/>
<rect x="1850.6" y="186.8" width="9" height="9.1" fill="#972838"/>
<rect x="1859.5" y="186.8" width="9" height="9.1" fill="#6d2a00"/>
<rect x="1868.4" y="186.8" width="9" height="9.1" fill="#7e003b"/>
<rect x="1886.2" y="186.8" width="9" height="9.1" fill="#5b0000"/>
<rect x="1130.5" y="195.8" width="9" height="9.1" fill="#790000"/>
<rect x="1148.3" y="195.8" width="9" height="9.1" fill="#4a3f00"/>
<rect x="1157.2" y="195.8" width="9" height="9.1" fill="#2b0078"/>
<rect x="1166.1" y="195.8" width="9" height="9.1" fill="#2d332f"/>
<rect x="1175.0" y="195.8" width="9" height="9.1" fill="#002740"/>
<rect x="1183.8" y="195.8" width="9" height="9.1" fill="#5b439e"/>
<rect x="1192.7" y="195.8" width="9" height="9.1" fill="#973793"/>
<rect x="1201.6" y="195.8" width="9" height="9.1" fill="#ff2daf"/>
<rect x="1210.5" y="195.8" width="9" height="9.1" fill="#7c00ff"/>
<rect x="1219.4" y="195.8" width="9" height="9.1" fill="#2c002f"/>
<rect x="1228.3" y="195.8" width="9" height="9.1" fill="#454500"/>
<rect x="1237.2" y="195.8" width="9" height="9.1" fill="#7d49ad"/>
<rect x="1246.1" y="195.8" width="9" height="9.1" fill="#7045ee"/>
<rect x="1255.0" y="195.8" width="9" height="9.1" fill="#663764"/>
<rect x="1263.9" y="195.8" width="9" height="9.1" fill="#30afac"/>
<rect x="1272.8" y="195.8" width="9" height="9.1" fill="#ffb5ff"/>
<rect x="1281.6" y="195.8" width="9" height="9.1" fill="#ae3c6b"/>
<rect x="1290.5" y="195.8" width="9" height="9.1" fill="#ff65c8"/>
<rect x="1299.4" y="195.8" width="9" height="9.1" fill="#a4002a"/>
<rect x="1308.3" y="195.8" width="9" height="9.1" fill="#7c0065"/>
<rect x="1317.2" y="195.8" width="9" height="9.1" fill="#b579c9"/>
<rect x="1326.1" y="195.8" width="9" height="9.1" fill="#7ba8b0"/>
<rect x="1335.0" y="195.8" width="9" height="9.1" fill="#d30098"/>
<rect x="1343.9" y="195.8" width="9" height="9.1" fill="#e8aae7"/>
<rect x="1352.8" y="195.8" width="9" height="9.1" fill="#725f00"/>
<rect x="1361.7" y="195.8" width="9" height="9.1" fill="#003d00"/>
<rect x="1379.4" y="195.8" width="9" height="9.1" fill="#2c0047"/>
<rect x="1406.1" y="195.8" width="9" height="9.1" fill="#2a7c31"/>
<rect x="1486.1" y="195.8" width="9" height="9.1" fill="#00002b"/>
<rect x="1495.0" y="195.8" width="9" height="9.1" fill="#2b0000"/>
<rect x="1566.1" y="195.8" width="9" height="9.1" fill="#270000"/>
<rect x="1583.9" y="195.8" width="9" height="9.1" fill="#003028"/>
<rect x="1601.7" y="195.8" width="9" height="9.1" fill="#002400"/>
<rect x="1637.2" y="195.8" width="9" height="9.1" fill="#000042"/>
<rect x="1646.1" y="195.8" width="9" height="9.1" fill="#003e00"/>
<rect x="1655.0" y="195.8" width="9" height="9.1" fill="#779f35"/>
<rect x="1663.9" y="195.8" width="9" height="9.1" fill="#00002b"/>
<rect x="1672.8" y="195.8" width="9" height="9.1" fill="#98b560"/>
<rect x="1681.7" y="195.8" width="9" height="9.1" fill="#3f00ad"/>
<rect x="1690.6" y="195.8" width="9" height="9.1" fill="#e9a7ff"/>
<rect x="1699.5" y="195.8" width="9" height="9.1" fill="#ffb0ff"/>
<rect x="1708.4" y="195.8" width="9" height="9.1" fill="#ffb476"/>
<rect x="1717.2" y="195.8" width="9" height="9.1" fill="#a65ee4"/>
<rect x="1726.1" y="195.8" width="9" height="9.1" fill="#ffa1eb"/>
<rect x="1735.0" y="195.8" width="9" height="9.1" fill="#df81ff"/>
<rect x="1743.9" y="195.8" width="9" height="9.1" fill="#ff78ff"/>
<rect x="1752.8" y="195.8" width="9" height="9.1" fill="#ff2491"/>
<rect x="1761.7" y="195.8" width="9" height="9.1" fill="#ff5d6e"/>
<rect x="1770.6" y="195.8" width="9" height="9.1" fill="#8091b3"/>
<rect x="1779.5" y="195.8" width="9" height="9.1" fill="#97a591"/>
<rect x="1788.4" y="195.8" width="9" height="9.1" fill="#9ec9ff"/>
<rect x="1797.3" y="195.8" width="9" height="9.1" fill="#94e3d0"/>
<rect x="1806.2" y="195.8" width="9" height="9.1" fill="#a5777b"/>
<rect x="1815.0" y="195.8" width="9" height="9.1" fill="#cb695b"/>
<rect x="1823.9" y="195.8" width="9" height="9.1" fill="#ff68ff"/>
<rect x="1832.8" y="195.8" width="9" height="9.1" fill="#5a41d7"/>
<rect x="1841.7" y="195.8" width="9" height="9.1" fill="#d13d61"/>
<rect x="1850.6" y="195.8" width="9" height="9.1" fill="#da817c"/>
<rect x="1859.5" y="195.8" width="9" height="9.1" fill="#9c7900"/>
<rect x="1868.4" y="195.8" width="9" height="9.1" fill="#000044"/>
<rect x="1877.3" y="195.8" width="9" height="9.1" fill="#37002a"/>
<rect x="1886.2" y="195.8" width="9" height="9.1" fill="#00002c"/>
<rect x="1130.5" y="204.8" width="9" height="9.1" fill="#007f00"/>
<rect x="1139.4" y="204.8" width="9" height="9.1" fill="#490000"/>
<rect x="1148.3" y="204.8" width="9" height="9.1" fill="#600067"/>
<rect x="1157.2" y="204.8" width="9" height="9.1" fill="#2b3c00"/>
<rect x="1166.1" y="204.8" width="9" height="9.1" fill="#780063"/>
<rect x="1175.0" y="204.8" width="9" height="9.1" fill="#d27066"/>
<rect x="1183.8" y="204.8" width="9" height="9.1" fill="#9b302f"/>
<rect x="1192.7" y="204.8" width="9" height="9.1" fill="#7d2800"/>
<rect x="1201.6" y="204.8" width="9" height="9.1" fill="#ff6b39"/>
<rect x="1210.5" y="204.8" width="9" height="9.1" fill="#cf0000"/>
<rect x="1219.4" y="204.8" width="9" height="9.1" fill="#7e28d9"/>
<rect x="1228.3" y="204.8" width="9" height="9.1" fill="#5bff00"/>
<rect x="1237.2" y="204.8" width="9" height="9.1" fill="#dd48ff"/>
<rect x="1246.1" y="204.8" width="9" height="9.1" fill="#6c00ff"/>
<rect x="1255.0" y="204.8" width="9" height="9.1" fill="#ff00db"/>
<rect x="1263.9" y="204.8" width="9" height="9.1" fill="#a432af"/>
<rect x="1272.8" y="204.8" width="9" height="9.1" fill="#ff00ff"/>
<rect x="1281.6" y="204.8" width="9" height="9.1" fill="#9636ff"/>
<rect x="1290.5" y="204.8" width="9" height="9.1" fill="#b7e3a4"/>
<rect x="1299.4" y="204.8" width="9" height="9.1" fill="#6b00b1"/>
<rect x="1308.3" y="204.8" width="9" height="9.1" fill="#ab645d"/>
<rect x="1317.2" y="204.8" width="9" height="9.1" fill="#6a759b"/>
<rect x="1326.1" y="204.8" width="9" height="9.1" fill="#00ed6a"/>
<rect x="1335.0" y="204.8" width="9" height="9.1" fill="#a07db6"/>
<rect x="1343.9" y="204.8" width="9" height="9.1" fill="#733027"/>
<rect x="1361.7" y="204.8" width="9" height="9.1" fill="#2e0000"/>
<rect x="1379.4" y="204.8" width="9" height="9.1" fill="#000041"/>
<rect x="1397.2" y="204.8" width="9" height="9.1" fill="#470000"/>
<rect x="1423.9" y="204.8" width="9" height="9.1" fill="#000034"/>
<rect x="1477.2" y="204.8" width="9" height="9.1" fill="#00002d"/>
<rect x="1592.8" y="204.8" width="9" height="9.1" fill="#003700"/>
<rect x="1601.7" y="204.8" width="9" height="9.1" fill="#004200"/>
<rect x="1610.6" y="204.8" width="9" height="9.1" fill="#00003a"/>
<rect x="1637.2" y="204.8" width="9" height="9.1" fill="#003200"/>
<rect x="1655.0" y="204.8" width="9" height="9.1" fill="#a14140"/>
<rect x="1672.8" y="204.8" width="9" height="9.1" fill="#b100da"/>
<rect x="1681.7" y="204.8" width="9" height="9.1" fill="#327b00"/>
<rect x="1690.6" y="204.8" width="9" height="9.1" fill="#6c294a"/>
<rect x="1699.5" y="204.8" width="9" height="9.1" fill="#e934b1"/>
<rect x="1708.4" y="204.8" width="9" height="9.1" fill="#a65eb7"/>
<rect x="1717.2" y="204.8" width="9" height="9.1" fill="#ff0096"/>
<rect x="1726.1" y="204.8" width="9" height="9.1" fill="#ff64b7"/>
<rect x="1735.0" y="204.8" width="9" height="9.1" fill="#ff007b"/>
<rect x="1743.9" y="204.8" width="9" height="9.1" fill="#26a863"/>
<rect x="1752.8" y="204.8" width="9" height="9.1" fill="#e539e4"/>
<rect x="1761.7" y="204.8" width="9" height="9.1" fill="#ca41ff"/>
<rect x="1770.6" y="204.8" width="9" height="9.1" fill="#a642ff"/>
<rect x="1779.5" y="204.8" width="9" height="9.1" fill="#ff78b3"/>
<rect x="1788.4" y="204.8" width="9" height="9.1" fill="#9aff00"/>
<rect x="1797.3" y="204.8" width="9" height="9.1" fill="#24acff"/>
<rect x="1806.2" y="204.8" width="9" height="9.1" fill="#2e7eac"/>
<rect x="1815.0" y="204.8" width="9" height="9.1" fill="#b6ae73"/>
<rect x="1823.9" y="204.8" width="9" height="9.1" fill="#6629e9"/>
<rect x="1832.8" y="204.8" width="9" height="9.1" fill="#ff23ff"/>
<rect x="1850.6" y="204.8" width="9" height="9.1" fill="#2aaf71"/>
<rect x="1859.5" y="204.8" width="9" height="9.1" fill="#310034"/>
<rect x="1868.4" y="204.8" width="9" height="9.1" fill="#000049"/>
<rect x="1877.3" y="204.8" width="9" height="9.1" fill="#360038"/>
<rect x="1130.5" y="213.8" width="9" height="9.1" fill="#002900"/>
<rect x="1139.4" y="213.8" width="9" height="9.1" fill="#000036"/>
<rect x="1166.1" y="213.8" width="9" height="9.1" fill="#2d0023"/>
<rect x="1175.0" y="213.8" width="9" height="9.1" fill="#af2400"/>
<rect x="1183.8" y="213.8" width="9" height="9.1" fill="#390000"/>
<rect x="1192.7" y="213.8" width="9" height="9.1" fill="#002c00"/>
<rect x="1201.6" y="213.8" width="9" height="9.1" fill="#9273ab"/>
<rect x="1210.5" y="213.8" width="9" height="9.1" fill="#ff2538"/>
<rect x="1219.4" y="213.8" width="9" height="9.1" fill="#68de5c"/>
<rect x="1228.3" y="213.8" width="9" height="9.1" fill="#7228d5"/>
<rect x="1237.2" y="213.8" width="9" height="9.1" fill="#81813c"/>
<rect x="1246.1" y="213.8" width="9" height="9.1" fill="#a32828"/>
<rect x="1255.0" y="213.8" width="9" height="9.1" fill="#0000d8"/>
<rect x="1263.9" y="213.8" width="9" height="9.1" fill="#6d44ff"/>
<rect x="1272.8" y="213.8" width="9" height="9.1" fill="#ff7dcf"/>
<rect x="1281.6" y="213.8" width="9" height="9.1" fill="#34009c"/>
<rect x="1290.5" y="213.8" width="9" height="9.1" fill="#6ba5e6"/>
<rect x="1299.4" y="213.8" width="9" height="9.1" fill="#a000b3"/>
<rect x="1308.3" y="213.8" width="9" height="9.1" fill="#eeb669"/>
<rect x="1317.2" y="213.8" width="9" height="9.1" fill="#5d6c42"/>
<rect x="1326.1" y="213.8" width="9" height="9.1" fill="#7d4066"/>
<rect x="1335.0" y="213.8" width="9" height="9.1" fill="#3628dc"/>
<rect x="1343.9" y="213.8" width="9" height="9.1" fill="#63007a"/>
<rect x="1352.8" y="213.8" width="9" height="9.1" fill="#422c00"/>
<rect x="1361.7" y="213.8" width="9" height="9.1" fill="#43779d"/>
<rect x="1370.5" y="213.8" width="9" height="9.1" fill="#2a4900"/>
<rect x="1379.4" y="213.8" width="9" height="9.1" fill="#000034"/>
<rect x="1388.3" y="213.8" width="9" height="9.1" fill="#00002a"/>
<rect x="1450.5" y="213.8" width="9" height="9.1" fill="#004700"/>
<rect x="1486.1" y="213.8" width="9" height="9.1" fill="#3b0000"/>
<rect x="1512.8" y="213.8" width="9" height="9.1" fill="#004a00"/>
<rect x="1530.6" y="213.8" width="9" height="9.1" fill="#000043"/>
<rect x="1548.3" y="213.8" width="9" height="9.1" fill="#3a0000"/>
<rect x="1601.7" y="213.8" width="9" height="9.1" fill="#002400"/>
<rect x="1628.3" y="213.8" width="9" height="9.1" fill="#370000"/>
<rect x="1655.0" y="213.8" width="9" height="9.1" fill="#300000"/>
<rect x="1663.9" y="213.8" width="9" height="9.1" fill="#600079"/>
<rect x="1672.8" y="213.8" width="9" height="9.1" fill="#9b3241"/>
<rect x="1681.7" y="213.8" width="9" height="9.1" fill="#7100a8"/>
<rect x="1690.6" y="213.8" width="9" height="9.1" fill="#ac7523"/>
<rect x="1699.5" y="213.8" width="9" height="9.1" fill="#ff00ea"/>
<rect x="1708.4" y="213.8" width="9" height="9.1" fill="#806fb5"/>
<rect x="1717.2" y="213.8" width="9" height="9.1" fill="#99ea5b"/>
<rect x="1726.1" y="213.8" width="9" height="9.1" fill="#6d9bff"/>
<rect x="1735.0" y="213.8" width="9" height="9.1" fill="#64ccb8"/>
<rect x="1743.9" y="213.8" width="9" height="9.1" fill="#763400"/>
<rect x="1752.8" y="213.8" width="9" height="9.1" fill="#97642c"/>
<rect x="1761.7" y="213.8" width="9" height="9.1" fill="#9cc97e"/>
<rect x="1770.6" y="213.8" width="9" height="9.1" fill="#92e196"/>
<rect x="1779.5" y="213.8" width="9" height="9.1" fill="#6bffff"/>
<rect x="1788.4" y="213.8" width="9" height="9.1" fill="#ff69ff"/>
<rect x="1797.3" y="213.8" width="9" height="9.1" fill="#db7b70"/>
<rect x="1806.2" y="213.8" width="9" height="9.1" fill="#a77f00"/>
<rect x="1815.0" y="213.8" width="9" height="9.1" fill="#ffff33"/>
<rect x="1823.9" y="213.8" width="9" height="9.1" fill="#672cff"/>
<rect x="1832.8" y="213.8" width="9" height="9.1" fill="#4a7eab"/>
<rect x="1841.7" y="213.8" width="9" height="9.1" fill="#257300"/>
<rect x="1850.6" y="213.8" width="9" height="9.1" fill="#ae6500"/>
<rect x="1859.5" y="213.8" width="9" height="9.1" fill="#74332f"/>
<rect x="1868.4" y="213.8" width="9" height="9.1" fill="#00002c"/>
<rect x="1157.2" y="222.8" width="9" height="9.1" fill="#420000"/>
<rect x="1175.0" y="222.8" width="9" height="9.1" fill="#000039"/>
<rect x="1183.8" y="222.8" width="9" height="9.1" fill="#000035"/>
<rect x="1192.7" y="222.8" width="9" height="9.1" fill="#5f40e8"/>
<rect x="1201.6" y="222.8" width="9" height="9.1" fill="#e9479c"/>
<rect x="1210.5" y="222.8" width="9" height="9.1" fill="#5f2933"/>
<rect x="1219.4" y="222.8" width="9" height="9.1" fill="#a30070"/>
<rect x="1228.3" y="222.8" width="9" height="9.1" fill="#ff27d0"/>
<rect x="1237.2" y="222.8" width="9" height="9.1" fill="#a16dff"/>
<rect x="1246.1" y="222.8" width="9" height="9.1" fill="#cd81ff"/>
<rect x="1255.0" y="222.8" width="9" height="9.1" fill="#78ffc9"/>
<rect x="1263.9" y="222.8" width="9" height="9.1" fill="#3700ff"/>
<rect x="1272.8" y="222.8" width="9" height="9.1" fill="#9843a7"/>
<rect x="1281.6" y="222.8" width="9" height="9.1" fill="#232f5d"/>
<rect x="1290.5" y="222.8" width="9" height="9.1" fill="#7f28ee"/>
<rect x="1299.4" y="222.8" width="9" height="9.1" fill="#dc6d00"/>
<rect x="1308.3" y="222.8" width="9" height="9.1" fill="#460073"/>
<rect x="1317.2" y="222.8" width="9" height="9.1" fill="#9a627a"/>
<rect x="1326.1" y="222.8" width="9" height="9.1" fill="#6700a2"/>
<rect x="1335.0" y="222.8" width="9" height="9.1" fill="#810030"/>
<rect x="1343.9" y="222.8" width="9" height="9.1" fill="#000098"/>
<rect x="1361.7" y="222.8" width="9" height="9.1" fill="#00004a"/>
<rect x="1459.4" y="222.8" width="9" height="9.1" fill="#312600"/>
<rect x="1486.1" y="222.8" width="9" height="9.1" fill="#480000"/>
<rect x="1503.9" y="222.8" width="9" height="9.1" fill="#003300"/>
<rect x="1548.3" y="222.8" width="9" height="9.1" fill="#000030"/>
<rect x="1583.9" y="222.8" width="9" height="9.1" fill="#002b00"/>
<rect x="1592.8" y="222.8" width="9" height="9.1" fill="#480000"/>
<rect x="1610.6" y="222.8" width="9" height="9.1" fill="#00003d"/>
<rect x="1628.3" y="222.8" width="9" height="9.1" fill="#006200"/>
<rect x="1655.0" y="222.8" width="9" height="9.1" fill="#270000"/>
<rect x="1663.9" y="222.8" width="9" height="9.1" fill="#400000"/>
<rect x="1672.8" y="222.8" width="9" height="9.1" fill="#443531"/>
<rect x="1681.7" y="222.8" width="9" height="9.1" fill="#b4003a"/>
<rect x="1690.6" y="222.8" width="9" height="9.1" fill="#7700b8"/>
<rect x="1699.5" y="222.8" width="9" height="9.1" fill="#d97735"/>
<rect x="1708.4" y="222.8" width="9" height="9.1" fill="#d461b7"/>
<rect x="1717.2" y="222.8" width="9" height="9.1" fill="#ff5e61"/>
<rect x="1726.1" y="222.8" width="9" height="9.1" fill="#00a2b8"/>
<rect x="1735.0" y="222.8" width="9" height="9.1" fill="#7affcb"/>
<rect x="1743.9" y="222.8" width="9" height="9.1" fill="#ff45ff"/>
<rect x="1752.8" y="222.8" width="9" height="9.1" fill="#ff6c67"/>
<rect x="1761.7" y="222.8" width="9" height="9.1" fill="#ff00ff"/>
<rect x="1770.6" y="222.8" width="9" height="9.1" fill="#9b9dff"/>
<rect x="1779.5" y="222.8" width="9" height="9.1" fill="#e996b5"/>
<rect x="1788.4" y="222.8" width="9" height="9.1" fill="#d34aff"/>
<rect x="1797.3" y="222.8" width="9" height="9.1" fill="#d23468"/>
<rect x="1806.2" y="222.8" width="9" height="9.1" fill="#aadeca"/>
<rect x="1815.0" y="222.8" width="9" height="9.1" fill="#956a5c"/>
<rect x="1823.9" y="222.8" width="9" height="9.1" fill="#2431ff"/>
<rect x="1832.8" y="222.8" width="9" height="9.1" fill="#3e2968"/>
<rect x="1841.7" y="222.8" width="9" height="9.1" fill="#3e4800"/>
<rect x="1850.6" y="222.8" width="9" height="9.1" fill="#d06400"/>
<rect x="1859.5" y="222.8" width="9" height="9.1" fill="#700000"/>
<rect x="1868.4" y="222.8" width="9" height="9.1" fill="#00006b"/>
<rect x="1139.4" y="231.8" width="9" height="9.1" fill="#360000"/>
<rect x="1183.8" y="231.8" width="9" height="9.1" fill="#3f0000"/>
<rect x="1192.7" y="231.8" width="9" height="9.1" fill="#790000"/>
<rect x="1201.6" y="231.8" width="9" height="9.1" fill="#5a2938"/>
<rect x="1210.5" y="231.8" width="9" height="9.1" fill="#6b2f42"/>
<rect x="1219.4" y="231.8" width="9" height="9.1" fill="#6f23cf"/>
<rect x="1228.3" y="231.8" width="9" height="9.1" fill="#9d3538"/>
<rect x="1237.2" y="231.8" width="9" height="9.1" fill="#db2537"/>
<rect x="1246.1" y="231.8" width="9" height="9.1" fill="#666c28"/>
<rect x="1255.0" y="231.8" width="9" height="9.1" fill="#b40025"/>
<rect x="1263.9" y="231.8" width="9" height="9.1" fill="#aeb0b3"/>
<rect x="1272.8" y="231.8" width="9" height="9.1" fill="#ed35d6"/>
<rect x="1281.6" y="231.8" width="9" height="9.1" fill="#b3acff"/>
<rect x="1290.5" y="231.8" width="9" height="9.1" fill="#452dd7"/>
<rect x="1299.4" y="231.8" width="9" height="9.1" fill="#ff25d4"/>
<rect x="1308.3" y="231.8" width="9" height="9.1" fill="#2d472a"/>
<rect x="1317.2" y="231.8" width="9" height="9.1" fill="#2800ff"/>
<rect x="1326.1" y="231.8" width="9" height="9.1" fill="#e3ea34"/>
<rect x="1335.0" y="231.8" width="9" height="9.1" fill="#006c00"/>
<rect x="1343.9" y="231.8" width="9" height="9.1" fill="#7a005b"/>
<rect x="1352.8" y="231.8" width="9" height="9.1" fill="#383600"/>
<rect x="1361.7" y="231.8" width="9" height="9.1" fill="#790040"/>
<rect x="1379.4" y="231.8" width="9" height="9.1" fill="#3e0000"/>
<rect x="1432.8" y="231.8" width="9" height="9.1" fill="#000030"/>
<rect x="1441.7" y="231.8" width="9" height="9.1" fill="#003c00"/>
<rect x="1512.8" y="231.8" width="9" height="9.1" fill="#003200"/>
<rect x="1566.1" y="231.8" width="9" height="9.1" fill="#400000"/>
<rect x="1610.6" y="231.8" width="9" height="9.1" fill="#00003a"/>
<rect x="1646.1" y="231.8" width="9" height="9.1" fill="#00006b"/>
<rect x="1655.0" y="231.8" width="9" height="9.1" fill="#000049"/>
<rect x="1672.8" y="231.8" width="9" height="9.1" fill="#000067"/>
<rect x="1681.7" y="231.8" width="9" height="9.1" fill="#2d0000"/>
<rect x="1699.5" y="231.8" width="9" height="9.1" fill="#aca55b"/>
<rect x="1708.4" y="231.8" width="9" height="9.1" fill="#e47999"/>
<rect x="1717.2" y="231.8" width="9" height="9.1" fill="#63b2dc"/>
<rect x="1726.1" y="231.8" width="9" height="9.1" fill="#61db61"/>
<rect x="1735.0" y="231.8" width="9" height="9.1" fill="#a99a00"/>
<rect x="1743.9" y="231.8" width="9" height="9.1" fill="#ff70ff"/>
<rect x="1752.8" y="231.8" width="9" height="9.1" fill="#a4aeff"/>
<rect x="1761.7" y="231.8" width="9" height="9.1" fill="#ff6dff"/>
<rect x="1770.6" y="231.8" width="9" height="9.1" fill="#e75a7c"/>
<rect x="1779.5" y="231.8" width="9" height="9.1" fill="#ff9a00"/>
<rect x="1788.4" y="231.8" width="9" height="9.1" fill="#ff2dff"/>
<rect x="1797.3" y="231.8" width="9" height="9.1" fill="#ffcb26"/>
<rect x="1806.2" y="231.8" width="9" height="9.1" fill="#ff0073"/>
<rect x="1815.0" y="231.8" width="9" height="9.1" fill="#e66500"/>
<rect x="1823.9" y="231.8" width="9" height="9.1" fill="#00606a"/>
<rect x="1832.8" y="231.8" width="9" height="9.1" fill="#5cca2a"/>
<rect x="1841.7" y="231.8" width="9" height="9.1" fill="#76ab94"/>
<rect x="1859.5" y="231.8" width="9" height="9.1" fill="#314700"/>
<rect x="1868.4" y="231.8" width="9" height="9.1" fill="#00007f"/>
<rect x="1139.4" y="240.8" width="9" height="9.1" fill="#2a0000"/>
<rect x="1166.1" y="240.8" width="9" height="9.1" fill="#310000"/>
<rect x="1175.0" y="240.8" width="9" height="9.1" fill="#003100"/>
<rect x="1192.7" y="240.8" width="9" height="9.1" fill="#3d007f"/>
<rect x="1201.6" y="240.8" width="9" height="9.1" fill="#5d007d"/>
<rect x="1210.5" y="240.8" width="9" height="9.1" fill="#792537"/>
<rect x="1219.4" y="240.8" width="9" height="9.1" fill="#2f002e"/>
<rect x="1228.3" y="240.8" width="9" height="9.1" fill="#ab6200"/>
<rect x="1237.2" y="240.8" width="9" height="9.1" fill="#780033"/>
<rect x="1246.1" y="240.8" width="9" height="9.1" fill="#00432e"/>
<rect x="1255.0" y="240.8" width="9" height="9.1" fill="#973dca"/>
<rect x="1263.9" y="240.8" width="9" height="9.1" fill="#00452d"/>
<rect x="1272.8" y="240.8" width="9" height="9.1" fill="#69ad7b"/>
<rect x="1281.6" y="240.8" width="9" height="9.1" fill="#672938"/>
<rect x="1290.5" y="240.8" width="9" height="9.1" fill="#2c0097"/>
<rect x="1299.4" y="240.8" width="9" height="9.1" fill="#2a3266"/>
<rect x="1308.3" y="240.8" width="9" height="9.1" fill="#3f00e8"/>
<rect x="1326.1" y="240.8" width="9" height="9.1" fill="#6d0047"/>
<rect x="1335.0" y="240.8" width="9" height="9.1" fill="#00007d"/>
<rect x="1343.9" y="240.8" width="9" height="9.1" fill="#00002c"/>
<rect x="1361.7" y="240.8" width="9" height="9.1" fill="#250000"/>
<rect x="1388.3" y="240.8" width="9" height="9.1" fill="#3e0000"/>
<rect x="1423.9" y="240.8" width="9" height="9.1" fill="#3e3539"/>
<rect x="1450.5" y="240.8" width="9" height="9.1" fill="#002a00"/>
<rect x="1459.4" y="240.8" width="9" height="9.1" fill="#330000"/>
<rect x="1477.2" y="240.8" width="9" height="9.1" fill="#2c0000"/>
<rect x="1486.1" y="240.8" width="9" height="9.1" fill="#002700"/>
<rect x="1557.2" y="240.8" width="9" height="9.1" fill="#00002e"/>
<rect x="1601.7" y="240.8" width="9" height="9.1" fill="#460000"/>
<rect x="1646.1" y="240.8" width="9" height="9.1" fill="#350000"/>
<rect x="1655.0" y="240.8" width="9" height="9.1" fill="#280000"/>
<rect x="1663.9" y="240.8" width="9" height="9.1" fill="#003f00"/>
<rect x="1672.8" y="240.8" width="9" height="9.1" fill="#002b00"/>
<rect x="1681.7" y="240.8" width="9" height="9.1" fill="#4a0000"/>
<rect x="1699.5" y="240.8" width="9" height="9.1" fill="#00b12a"/>
<rect x="1708.4" y="240.8" width="9" height="9.1" fill="#9a00d2"/>
<rect x="1717.2" y="240.8" width="9" height="9.1" fill="#b3afff"/>
<rect x="1726.1" y="240.8" width="9" height="9.1" fill="#d7705c"/>
<rect x="1735.0" y="240.8" width="9" height="9.1" fill="#002ba5"/>
<rect x="1743.9" y="240.8" width="9" height="9.1" fill="#ffb1ff"/>
<rect x="1752.8" y="240.8" width="9" height="9.1" fill="#00ed29"/>
<rect x="1761.7" y="240.8" width="9" height="9.1" fill="#e0a45b"/>
<rect x="1770.6" y="240.8" width="9" height="9.1" fill="#cb96de"/>
<rect x="1779.5" y="240.8" width="9" height="9.1" fill="#6bcc5a"/>
<rect x="1788.4" y="240.8" width="9" height="9.1" fill="#ff00e1"/>
<rect x="1797.3" y="240.8" width="9" height="9.1" fill="#00ffde"/>
<rect x="1806.2" y="240.8" width="9" height="9.1" fill="#ffa65a"/>
<rect x="1815.0" y="240.8" width="9" height="9.1" fill="#cf276e"/>
<rect x="1823.9" y="240.8" width="9" height="9.1" fill="#929365"/>
<rect x="1832.8" y="240.8" width="9" height="9.1" fill="#006800"/>
<rect x="1841.7" y="240.8" width="9" height="9.1" fill="#00673f"/>
<rect x="1850.6" y="240.8" width="9" height="9.1" fill="#420029"/>
<rect x="1859.5" y="240.8" width="9" height="9.1" fill="#352c00"/>
<rect x="1886.2" y="240.8" width="9" height="9.1" fill="#004200"/>
<rect x="1130.5" y="249.8" width="9" height="9.1" fill="#3f0000"/>
<rect x="1139.4" y="249.8" width="9" height="9.1" fill="#003f26"/>
<rect x="1148.3" y="249.8" width="9" height="9.1" fill="#004400"/>
<rect x="1166.1" y="249.8" width="9" height="9.1" fill="#007600"/>
<rect x="1175.0" y="249.8" width="9" height="9.1" fill="#004a00"/>
<rect x="1192.7" y="249.8" width="9" height="9.1" fill="#484200"/>
<rect x="1201.6" y="249.8" width="9" height="9.1" fill="#420036"/>
<rect x="1219.4" y="249.8" width="9" height="9.1" fill="#490072"/>
<rect x="1228.3" y="249.8" width="9" height="9.1" fill="#9d4946"/>
<rect x="1237.2" y="249.8" width="9" height="9.1" fill="#00e5a0"/>
<rect x="1246.1" y="249.8" width="9" height="9.1" fill="#004a00"/>
<rect x="1255.0" y="249.8" width="9" height="9.1" fill="#760000"/>
<rect x="1263.9" y="249.8" width="9" height="9.1" fill="#790045"/>
<rect x="1272.8" y="249.8" width="9" height="9.1" fill="#7f0000"/>
<rect x="1281.6" y="249.8" width="9" height="9.1" fill="#2c2a00"/>
<rect x="1290.5" y="249.8" width="9" height="9.1" fill="#eeb600"/>
<rect x="1299.4" y="249.8" width="9" height="9.1" fill="#2f4738"/>
<rect x="1317.2" y="249.8" width="9" height="9.1" fill="#a9003e"/>
<rect x="1326.1" y="249.8" width="9" height="9.1" fill="#004a00"/>
<rect x="1335.0" y="249.8" width="9" height="9.1" fill="#4a0000"/>
<rect x="1343.9" y="249.8" width="9" height="9.1" fill="#270000"/>
<rect x="1352.8" y="249.8" width="9" height="9.1" fill="#3f0000"/>
<rect x="1361.7" y="249.8" width="9" height="9.1" fill="#00007d"/>
<rect x="1388.3" y="249.8" width="9" height="9.1" fill="#000040"/>
<rect x="1397.2" y="249.8" width="9" height="9.1" fill="#363c00"/>
<rect x="1423.9" y="249.8" width="9" height="9.1" fill="#002b24"/>
<rect x="1468.3" y="249.8" width="9" height="9.1" fill="#3c0000"/>
<rect x="1521.7" y="249.8" width="9" height="9.1" fill="#003c31"/>
<rect x="1637.2" y="249.8" width="9" height="9.1" fill="#002800"/>
<rect x="1681.7" y="249.8" width="9" height="9.1" fill="#28003a"/>
<rect x="1699.5" y="249.8" width="9" height="9.1" fill="#3000e5"/>
<rect x="1708.4" y="249.8" width="9" height="9.1" fill="#5a8000"/>
<rect x="1717.2" y="249.8" width="9" height="9.1" fill="#ff0080"/>
<rect x="1726.1" y="249.8" width="9" height="9.1" fill="#e323ff"/>
<rect x="1735.0" y="249.8" width="9" height="9.1" fill="#ff00ae"/>
<rect x="1743.9" y="249.8" width="9" height="9.1" fill="#72276f"/>
<rect x="1752.8" y="249.8" width="9" height="9.1" fill="#a6ff2d"/>
<rect x="1761.7" y="249.8" width="9" height="9.1" fill="#2eff99"/>
<rect x="1770.6" y="249.8" width="9" height="9.1" fill="#ff4348"/>
<rect x="1779.5" y="249.8" width="9" height="9.1" fill="#5fe72d"/>
<rect x="1788.4" y="249.8" width="9" height="9.1" fill="#a13941"/>
<rect x="1797.3" y="249.8" width="9" height="9.1" fill="#00ac9e"/>
<rect x="1806.2" y="249.8" width="9" height="9.1" fill="#2b3f5c"/>
<rect x="1815.0" y="249.8" width="9" height="9.1" fill="#a93249"/>
<rect x="1823.9" y="249.8" width="9" height="9.1" fill="#7e6330"/>
<rect x="1841.7" y="249.8" width="9" height="9.1" fill="#000039"/>
<rect x="1850.6" y="249.8" width="9" height="9.1" fill="#0000aa"/>
<rect x="1157.2" y="258.8" width="9" height="9.1" fill="#003a00"/>
<rect x="1175.0" y="258.8" width="9" height="9.1" fill="#00006e"/>
<rect x="1192.7" y="258.8" width="9" height="9.1" fill="#370000"/>
<rect x="1201.6" y="258.8" width="9" height="9.1" fill="#690000"/>
<rect x="1210.5" y="258.8" width="9" height="9.1" fill="#2f0000"/>
<rect x="1219.4" y="258.8" width="9" height="9.1" fill="#460070"/>
<rect x="1228.3" y="258.8" width="9" height="9.1" fill="#7d6c27"/>
<rect x="1237.2" y="258.8" width="9" height="9.1" fill="#610026"/>
<rect x="1255.0" y="258.8" width="9" height="9.1" fill="#3d0000"/>
<rect x="1263.9" y="258.8" width="9" height="9.1" fill="#390038"/>
<rect x="1281.6" y="258.8" width="9" height="9.1" fill="#3b4929"/>
<rect x="1290.5" y="258.8" width="9" height="9.1" fill="#3c0036"/>
<rect x="1299.4" y="258.8" width="9" height="9.1" fill="#000081"/>
<rect x="1326.1" y="258.8" width="9" height="9.1" fill="#490000"/>
<rect x="1335.0" y="258.8" width="9" height="9.1" fill="#00003f"/>
<rect x="1343.9" y="258.8" width="9" height="9.1" fill="#000031"/>
<rect x="1397.2" y="258.8" width="9" height="9.1" fill="#004700"/>
<rect x="1459.4" y="258.8" width="9" height="9.1" fill="#430000"/>
<rect x="1521.7" y="258.8" width="9" height="9.1" fill="#003500"/>
<rect x="1530.6" y="258.8" width="9" height="9.1" fill="#000028"/>
<rect x="1548.3" y="258.8" width="9" height="9.1" fill="#470000"/>
<rect x="1557.2" y="258.8" width="9" height="9.1" fill="#000024"/>
<rect x="1575.0" y="258.8" width="9" height="9.1" fill="#003400"/>
<rect x="1601.7" y="258.8" width="9" height="9.1" fill="#3e0000"/>
<rect x="1681.7" y="258.8" width="9" height="9.1" fill="#004900"/>
<rect x="1708.4" y="258.8" width="9" height="9.1" fill="#00a87c"/>
<rect x="1717.2" y="258.8" width="9" height="9.1" fill="#a83228"/>
<rect x="1726.1" y="258.8" width="9" height="9.1" fill="#5f394a"/>
<rect x="1735.0" y="258.8" width="9" height="9.1" fill="#000024"/>
<rect x="1743.9" y="258.8" width="9" height="9.1" fill="#610069"/>
<rect x="1752.8" y="258.8" width="9" height="9.1" fill="#30cd00"/>
<rect x="1761.7" y="258.8" width="9" height="9.1" fill="#c92eff"/>
<rect x="1770.6" y="258.8" width="9" height="9.1" fill="#6dd8a0"/>
<rect x="1779.5" y="258.8" width="9" height="9.1" fill="#35296e"/>
<rect x="1788.4" y="258.8" width="9" height="9.1" fill="#6f2f30"/>
<rect x="1797.3" y="258.8" width="9" height="9.1" fill="#9d00ff"/>
<rect x="1806.2" y="258.8" width="9" height="9.1" fill="#003900"/>
<rect x="1815.0" y="258.8" width="9" height="9.1" fill="#462d2f"/>
<rect x="1832.8" y="258.8" width="9" height="9.1" fill="#003f00"/>
<rect x="1841.7" y="258.8" width="9" height="9.1" fill="#002900"/>
<rect x="1850.6" y="258.8" width="9" height="9.1" fill="#003a00"/>
<rect x="1859.5" y="258.8" width="9" height="9.1" fill="#003600"/>
<rect x="1877.3" y="258.8" width="9" height="9.1" fill="#292300"/>
<rect x="1183.8" y="267.8" width="9" height="9.1" fill="#740000"/>
<rect x="1201.6" y="267.8" width="9" height="9.1" fill="#4a0038"/>
<rect x="1228.3" y="267.8" width="9" height="9.1" fill="#242b00"/>
<rect x="1237.2" y="267.8" width="9" height="9.1" fill="#7a7a00"/>
<rect x="1246.1" y="267.8" width="9" height="9.1" fill="#7b0039"/>
<rect x="1255.0" y="267.8" width="9" height="9.1" fill="#260000"/>
<rect x="1263.9" y="267.8" width="9" height="9.1" fill="#ad0000"/>
<rect x="1272.8" y="267.8" width="9" height="9.1" fill="#003700"/>
<rect x="1281.6" y="267.8" width="9" height="9.1" fill="#363f00"/>
<rect x="1299.4" y="267.8" width="9" height="9.1" fill="#000034"/>
<rect x="1317.2" y="267.8" width="9" height="9.1" fill="#004400"/>
<rect x="1335.0" y="267.8" width="9" height="9.1" fill="#410000"/>
<rect x="1343.9" y="267.8" width="9" height="9.1" fill="#3b0000"/>
<rect x="1361.7" y="267.8" width="9" height="9.1" fill="#00002c"/>
<rect x="1379.4" y="267.8" width="9" height="9.1" fill="#690000"/>
<rect x="1406.1" y="267.8" width="9" height="9.1" fill="#000041"/>
<rect x="1495.0" y="267.8" width="9" height="9.1" fill="#320000"/>
<rect x="1557.2" y="267.8" width="9" height="9.1" fill="#480000"/>
<rect x="1637.2" y="267.8" width="9" height="9.1" fill="#004400"/>
<rect x="1655.0" y="267.8" width="9" height="9.1" fill="#5d0000"/>
<rect x="1672.8" y="267.8" width="9" height="9.1" fill="#004445"/>
<rect x="1690.6" y="267.8" width="9" height="9.1" fill="#003728"/>
<rect x="1699.5" y="267.8" width="9" height="9.1" fill="#660000"/>
<rect x="1708.4" y="267.8" width="9" height="9.1" fill="#730000"/>
<rect x="1717.2" y="267.8" width="9" height="9.1" fill="#373471"/>
<rect x="1726.1" y="267.8" width="9" height="9.1" fill="#740000"/>
<rect x="1735.0" y="267.8" width="9" height="9.1" fill="#640000"/>
<rect x="1743.9" y="267.8" width="9" height="9.1" fill="#234a00"/>
<rect x="1752.8" y="267.8" width="9" height="9.1" fill="#280099"/>
<rect x="1761.7" y="267.8" width="9" height="9.1" fill="#7a0000"/>
<rect x="1770.6" y="267.8" width="9" height="9.1" fill="#4a497e"/>
<rect x="1779.5" y="267.8" width="9" height="9.1" fill="#2f0000"/>
<rect x="1788.4" y="267.8" width="9" height="9.1" fill="#937f49"/>
<rect x="1797.3" y="267.8" width="9" height="9.1" fill="#4a0000"/>
<rect x="1806.2" y="267.8" width="9" height="9.1" fill="#3f0000"/>
<rect x="1815.0" y="267.8" width="9" height="9.1" fill="#00324a"/>
<rect x="1823.9" y="267.8" width="9" height="9.1" fill="#000025"/>
<rect x="1841.7" y="267.8" width="9" height="9.1" fill="#000032"/>
<rect x="1859.5" y="267.8" width="9" height="9.1" fill="#2c3200"/>
<rect x="1157.2" y="276.8" width="9" height="9.1" fill="#003c00"/>
<rect x="1175.0" y="276.8" width="9" height="9.1" fill="#003000"/>
<rect x="1210.5" y="276.8" width="9" height="9.1" fill="#002900"/>
<rect x="1237.2" y="276.8" width="9" height="9.1" fill="#2f0000"/>
<rect x="1255.0" y="276.8" width="9" height="9.1" fill="#2e0000"/>
<rect x="1263.9" y="276.8" width="9" height="9.1" fill="#002324"/>
<rect x="1281.6" y="276.8" width="9" height="9.1" fill="#230029"/>
<rect x="1299.4" y="276.8" width="9" height="9.1" fill="#002e00"/>
<rect x="1317.2" y="276.8" width="9" height="9.1" fill="#3c0000"/>
<rect x="1326.1" y="276.8" width="9" height="9.1" fill="#002a00"/>
<rect x="1343.9" y="276.8" width="9" height="9.1" fill="#003237"/>
<rect x="1361.7" y="276.8" width="9" height="9.1" fill="#000035"/>
<rect x="1388.3" y="276.8" width="9" height="9.1" fill="#002b00"/>
<rect x="1423.9" y="276.8" width="9" height="9.1" fill="#004500"/>
<rect x="1441.7" y="276.8" width="9" height="9.1" fill="#480000"/>
<rect x="1468.3" y="276.8" width="9" height="9.1" fill="#3a0000"/>
<rect x="1583.9" y="276.8" width="9" height="9.1" fill="#002700"/>
<rect x="1628.3" y="276.8" width="9" height="9.1" fill="#4a0000"/>
<rect x="1637.2" y="276.8" width="9" height="9.1" fill="#2b0000"/>
<rect x="1672.8" y="276.8" width="9" height="9.1" fill="#007500"/>
<rect x="1681.7" y="276.8" width="9" height="9.1" fill="#3c2f00"/>
<rect x="1717.2" y="276.8" width="9" height="9.1" fill="#660027"/>
<rect x="1726.1" y="276.8" width="9" height="9.1" fill="#490000"/>
<rect x="1735.0" y="276.8" width="9" height="9.1" fill="#006f00"/>
<rect x="1743.9" y="276.8" width="9" height="9.1" fill="#00272f"/>
<rect x="1752.8" y="276.8" width="9" height="9.1" fill="#7e0000"/>
<rect x="1761.7" y="276.8" width="9" height="9.1" fill="#400000"/>
<rect x="1770.6" y="276.8" width="9" height="9.1" fill="#622e00"/>
<rect x="1788.4" y="276.8" width="9" height="9.1" fill="#2b0000"/>
<rect x="1797.3" y="276.8" width="9" height="9.1" fill="#610000"/>
<rect x="1815.0" y="276.8" width="9" height="9.1" fill="#2b422b"/>
<rect x="1841.7" y="276.8" width="9" height="9.1" fill="#003a00"/>
<rect x="1877.3" y="276.8" width="9" height="9.1" fill="#4a0081"/>
<rect x="1886.2" y="276.8" width="9" height="9.1" fill="#430000"/>
</g>
<path d="M1155,228 h4.6 v37.5 h40 v4.6 h-44.6 z" fill="#fff"/>
<text x="1167.5" y="255.5" font-size="23" fill="#fff" font-weight="bold">0.5 µm</text>
<path d="M493.6,25.0 L522.9,31.2 A25,46 12.0 0 1 503.8,121.2 L474.4,115.0 Z" fill="#b3b3b3" stroke="#444" stroke-width="0.7"/>
<path d="M484.0,70.0 L513.3,76.2 L537.8,81.4 A25,46 12.0 0 1 503.8,121.2 L474.4,115.0 Z" fill="#92be85" stroke="#3c6e30" stroke-width="0.6"/>
<clipPath id="capc"><ellipse cx="484.0" cy="70.0" rx="25" ry="46" transform="rotate(12.0 484.0 70.0)"/></clipPath>
<ellipse cx="484.0" cy="70.0" rx="25" ry="46" transform="rotate(12.0 484.0 70.0)" fill="#cbcbcb" stroke="#444" stroke-width="0.7"/>
<g clip-path="url(#capc)"><ellipse cx="503.4" cy="72.9" rx="12.5" ry="46.0" transform="rotate(12.0 503.4 72.9)" fill="#bdbdbd"/></g>
<g clip-path="url(#capc)"><path d="M449.8,62.7 L476.3,68.4 L462.0,131.8 L438.1,117.5 Z" fill="#6ea862"/></g>
<path d="M486.0,25.0 L466.0,114.0 M459.5,64.8 L537.8,81.4" stroke="#333" stroke-width="0.8" fill="none"/>
<path d="M510.0,16.0 L507.3,17.3 L505.2,18.7 L504.1,20.0 L504.3,21.4 L505.6,22.9 L507.7,24.4 L510.4,25.9 L512.8,27.4 L514.6,28.9 L515.3,30.3 L514.8,31.7 L513.1,33.0 L510.7,34.4 L507.9,35.7 L505.5,37.0 L503.9,38.4 L503.4,39.7 L504.1,41.2 L506.0,42.7 L508.4,44.2 L510.9,45.9 L512.9,47.7 L513.9,49.3 L513.8,50.7 L512.5,51.9 L510.2,52.9 L507.4,53.9 L504.6,54.9 L502.4,55.9 L501.2,57.1 L501.1,58.6 L502.3,60.2 L504.3,62.0 L506.7,63.8 L508.9,65.6 L510.5,67.3 L510.9,68.8 L510.2,70.1 L508.3,71.2 L505.7,72.2 L502.8,73.1 L500.2,74.1 L498.5,74.7 L497.7,75.9 L498.2,77.5 L499.6,79.4 L501.7,81.4 L503.9,83.5 L505.6,85.5 L506.4,87.2 L506.1,88.5 L504.6,89.6 L502.2,90.4 L499.3,91.0 L496.4,91.7 L494.1,92.5 L492.8,93.6 L492.7,95.0 L493.7,96.8 L495.5,98.7 L497.7,100.8 L499.7,102.8 L501.0,104.7 L501.3,106.2 L500.3,107.4 L498.3,108.3 L495.6,109.0 L492.6,109.6 L490.0,110.4 L488.2,111.3 L487.5,112.6 L488.0,114.2 L489.5,116.1 L491.5,118.1 L493.7,120.2 L495.4,122.1 L496.2,123.8 L495.8,125.2 L494.3,126.2 M505.3,15.8 L507.3,17.3 L509.8,18.8 L512.4,20.3 L514.4,21.8 L515.5,23.2 L515.3,24.6 L513.9,26.0 L511.6,27.3 L508.9,28.7 L506.4,30.0 L504.5,31.3 L503.6,32.7 L504.0,34.1 L505.6,35.6 L507.9,37.1 L510.6,38.6 L512.9,40.1 L514.5,41.5 L514.9,43.0 L514.0,44.3 L512.0,46.1 L509.3,47.1 L506.5,48.0 L504.0,49.0 L502.5,50.2 L502.1,51.6 L503.0,53.2 L504.8,54.9 L507.1,56.7 L509.4,58.5 L511.2,60.2 L512.0,61.8 L511.6,63.2 L510.0,64.3 L507.5,65.4 L504.7,66.3 L502.0,67.3 L500.0,68.4 L499.0,69.6 L499.3,71.1 L500.7,72.8 L502.8,74.6 L505.1,76.5 L507.0,78.5 L508.1,80.3 L508.1,81.8 L506.9,82.9 L504.7,83.8 L501.9,84.4 L499.0,85.1 L496.5,85.8 L494.9,86.8 L494.4,88.2 L495.1,89.8 L496.8,91.8 L498.9,93.8 L501.0,95.9 L502.6,97.8 L503.1,99.4 L502.5,100.7 L500.8,101.7 L498.2,102.4 L495.3,103.0 L492.5,103.7 L490.4,104.6 L489.4,105.8 L489.5,107.3 L490.7,109.1 L492.7,111.1 L494.9,113.2 L496.8,115.2 L497.9,117.0 L497.8,118.4 L496.6,119.5 L494.4,120.4 L491.6,121.0 L488.6,121.7 L486.2,122.5 L484.6,123.5" fill="none" stroke="#1e1e1e" stroke-width="1.5" stroke-linejoin="round"/><path d="M504.1,20.0 L512.4,20.3 M505.6,22.9 L515.5,23.2 M510.4,25.9 L513.9,26.0 M514.6,28.9 L508.9,28.7 M514.8,31.7 L504.5,31.3 M510.7,34.4 L504.0,34.1 M505.5,37.0 L507.9,37.1 M503.4,39.7 L512.9,40.1 M506.0,42.7 L514.9,43.0 M513.9,49.3 L506.5,48.0 M512.5,51.9 L502.5,50.2 M510.2,52.9 L502.1,51.6 M501.2,57.1 L509.4,58.5 M502.3,60.2 L512.0,61.8 M506.7,63.8 L510.0,64.3 M510.5,67.3 L504.7,66.3 M510.2,70.1 L500.0,68.4 M505.7,72.2 L499.3,71.1 M500.2,74.1 L502.8,74.6 M497.7,75.9 L507.0,78.5 M499.6,79.4 L508.1,81.8 M506.4,87.2 L499.0,85.1 M504.6,89.6 L494.9,86.8 M502.2,90.4 L494.4,88.2 M492.8,93.6 L501.0,95.9 M493.7,96.8 L503.1,99.4 M497.7,100.8 L500.8,101.7 M501.0,104.7 L495.3,103.0 M500.3,107.4 L490.4,104.6 M495.6,109.0 L489.5,107.3 M490.0,110.4 L492.7,111.1 M487.5,112.6 L496.8,115.2 M489.5,116.1 L497.8,118.4 M496.2,123.8 L488.6,121.7 M495.8,125.2 L486.2,122.5" fill="none" stroke="#1e1e1e" stroke-width="0.8"/>
<path d="M533.0,22.0 L530.6,23.8 L528.8,25.4 L527.9,27.0 L528.3,28.3 L529.8,29.6 L532.2,30.6 L535.0,31.6 L537.7,32.7 L539.7,33.8 L540.7,35.1 L540.5,36.5 L539.1,38.2 L537.0,39.9 L534.5,41.6 L532.3,43.4 L530.9,45.0 L530.6,46.5 L531.6,47.7 L533.5,48.9 L536.2,49.9 L538.8,51.4 L540.9,53.0 L542.1,54.6 L542.2,56.0 L541.0,57.3 L538.9,58.5 L536.2,59.6 L533.4,60.7 L531.2,61.9 L530.0,63.2 L529.9,64.6 L531.0,66.2 L533.1,67.8 L535.6,69.4 L537.9,71.1 L539.7,72.7 L540.4,74.1 L539.9,75.5 L538.2,76.8 L535.8,77.9 L533.0,79.1 L530.4,79.6 L528.4,80.5 L527.5,81.7 L527.8,83.2 L529.1,85.0 L531.1,87.1 L533.3,89.1 L535.1,91.1 L536.1,92.8 L536.0,94.3 L534.7,95.4 L532.4,96.2 L529.6,96.9 L526.7,97.5 L524.2,98.3 L522.7,99.3 L522.4,100.7 L523.2,102.3 L524.8,104.3 L526.8,106.3 L528.7,108.6 L529.9,110.6 L530.2,112.3 L529.4,113.5 L527.5,114.2 L524.9,114.6 L521.9,114.9 L519.1,115.3 L516.9,115.9 L515.8,117.0 L515.8,118.5 L516.9,120.5 L518.6,122.7 L520.6,125.0 L522.2,127.2 L523.0,129.1 M528.4,22.7 L530.6,23.8 L533.3,24.8 L536.1,25.8 L538.3,26.9 L539.6,28.1 L539.7,29.6 L538.6,31.1 L536.7,32.8 L534.2,34.6 L531.9,36.3 L530.3,38.0 L529.7,39.5 L530.3,40.8 L532.0,42.0 L534.5,43.1 L537.4,44.1 L539.9,45.1 L541.8,46.3 L542.5,47.6 L542.0,49.1 L540.2,51.5 L537.6,52.7 L534.8,53.8 L532.4,55.0 L530.9,56.3 L530.5,57.6 L531.3,59.1 L533.1,60.7 L535.5,62.4 L538.0,64.0 L540.0,65.6 L541.0,67.1 L540.8,68.5 L539.4,69.8 L537.1,71.0 L534.4,72.1 L531.7,73.3 L529.6,74.5 L528.6,75.8 L528.8,77.2 L530.2,78.8 L532.3,80.1 L534.5,82.2 L536.5,84.2 L537.7,86.0 L537.9,87.5 L536.9,88.7 L534.9,89.6 L532.1,90.3 L529.2,90.9 L526.6,91.6 L524.8,92.6 L524.1,93.9 L524.6,95.5 L526.1,97.3 L528.2,99.4 L530.4,101.4 L532.0,103.4 L532.8,105.1 L532.5,106.4 L530.6,107.9 L528.1,108.4 L525.2,108.7 L522.3,109.0 L519.9,109.6 L518.5,110.5 L518.3,111.9 L519.1,113.8 L520.6,115.9 L522.6,118.2 L524.3,120.5 L525.4,122.4 L525.5,124.0 L524.4,125.1 L522.4,125.7 L519.6,126.1 L516.6,126.4" fill="none" stroke="#1e1e1e" stroke-width="1.5" stroke-linejoin="round"/><path d="M527.9,27.0 L536.1,25.8 M529.8,29.6 L539.6,28.1 M535.0,31.6 L538.6,31.1 M539.7,33.8 L534.2,34.6 M540.5,36.5 L530.3,38.0 M537.0,39.9 L530.3,40.8 M532.3,43.4 L534.5,43.1 M530.6,46.5 L539.9,45.1 M533.5,48.9 L542.5,47.6 M542.1,54.6 L534.8,53.8 M541.0,57.3 L530.9,56.3 M536.2,59.6 L531.3,59.1 M531.2,61.9 L535.5,62.4 M530.0,63.2 L538.0,64.0 M531.0,66.2 L541.0,67.1 M535.6,69.4 L539.4,69.8 M539.7,72.7 L534.4,72.1 M539.9,75.5 L529.6,74.5 M535.8,77.9 L528.8,77.2 M527.5,81.7 L536.5,84.2 M529.1,85.0 L537.9,87.5 M536.1,92.8 L529.2,90.9 M534.7,95.4 L524.8,92.6 M529.6,96.9 L524.6,95.5 M524.2,98.3 L528.2,99.4 M522.4,100.7 L532.0,103.4 M523.2,102.3 L532.8,105.1 M526.8,106.3 L530.6,107.9 M529.9,110.6 L525.2,108.7 M529.4,113.5 L519.9,109.6 M524.9,114.6 L518.3,111.9 M515.8,117.0 L524.3,120.5 M516.9,120.5 L525.5,124.0 M523.0,129.1 L516.6,126.4" fill="none" stroke="#1e1e1e" stroke-width="0.8"/>
<path d="M444.0,80.0 L446.3,82.4 L448.4,83.9 L450.0,84.1 L451.1,82.7 L451.7,80.1 L452.1,76.7 L452.6,73.5 L453.4,71.2 L454.6,70.4 L456.4,71.1 L458.6,73.0 L461.0,75.5 L463.2,77.7 M445.5,84.5 L446.1,81.7 L446.5,78.3 L447.0,75.2 L447.8,73.0 L449.1,72.3 L450.9,73.1 L453.1,75.1 L455.5,77.6 L457.7,79.7 L459.6,80.7 L461.0,80.2 L461.9,78.2 L462.4,75.2" fill="none" stroke="#1e1e1e" stroke-width="1.3" stroke-linejoin="round"/><path d="M450.0,84.1 L447.0,75.2 M451.7,80.1 L449.1,72.3 M452.1,76.7 L450.9,73.1 M453.4,71.2 L455.5,77.6 M456.4,71.1 L459.6,80.7 M458.6,73.0 L461.0,80.2 M463.2,77.7 L462.4,75.2" fill="none" stroke="#1e1e1e" stroke-width="0.7"/>
<path d="M538.0,79.0 L540.3,81.4 L542.4,82.9 L544.0,83.1 L545.1,81.7 L545.7,79.1 L546.1,75.7 L546.6,72.5 L547.4,70.2 L548.6,69.4 L550.4,70.1 L552.6,72.0 L555.0,74.5 L557.2,76.7 M539.5,83.5 L540.1,80.7 L540.5,77.3 L541.0,74.2 L541.8,72.0 L543.1,71.3 L544.9,72.1 L547.1,74.1 L549.5,76.6 L551.7,78.7 L553.6,79.7 L555.0,79.2 L555.9,77.2 L556.4,74.2" fill="none" stroke="#1e1e1e" stroke-width="1.3" stroke-linejoin="round"/><path d="M544.0,83.1 L541.0,74.2 M545.7,79.1 L543.1,71.3 M546.1,75.7 L544.9,72.1 M547.4,70.2 L549.5,76.6 M550.4,70.1 L553.6,79.7 M552.6,72.0 L555.0,79.2 M557.2,76.7 L556.4,74.2" fill="none" stroke="#1e1e1e" stroke-width="0.7"/>
<circle cx="502" cy="19" r="6" fill="#fff" fill-opacity="0.55" stroke="#1e1e1e" stroke-width="1.2"/><path d="M497.1,17.5 L506.9,20.5 M498.9,14.9 L505.1,23.1 M501.9,13.9 L502.1,24.1 M504.9,14.8 L499.1,23.2 M506.8,17.4 L497.2,20.6" stroke="#444" stroke-width="0.5"/>
<circle cx="492" cy="24" r="5.5" fill="#fff" fill-opacity="0.55" stroke="#1e1e1e" stroke-width="1.2"/><path d="M487.5,22.6 L496.5,25.4 M489.2,20.3 L494.8,27.7 M491.9,19.3 L492.1,28.7 M494.7,20.2 L489.3,27.8 M496.4,22.5 L487.6,25.5" stroke="#444" stroke-width="0.5"/>
<circle cx="524" cy="32" r="5.5" fill="#fff" fill-opacity="0.55" stroke="#1e1e1e" stroke-width="1.2"/><path d="M519.5,30.6 L528.5,33.4 M521.2,28.3 L526.8,35.7 M523.9,27.3 L524.1,36.7 M526.7,28.2 L521.3,35.8 M528.4,30.5 L519.6,33.5" stroke="#444" stroke-width="0.5"/>
<circle cx="535" cy="26" r="6" fill="#fff" fill-opacity="0.55" stroke="#1e1e1e" stroke-width="1.2"/><path d="M530.1,24.5 L539.9,27.5 M531.9,21.9 L538.1,30.1 M534.9,20.9 L535.1,31.1 M537.9,21.8 L532.1,30.2 M539.8,24.4 L530.2,27.6" stroke="#444" stroke-width="0.5"/>
<circle cx="472" cy="118" r="5.5" fill="#fff" fill-opacity="0.55" stroke="#1e1e1e" stroke-width="1.2"/><path d="M467.5,116.6 L476.5,119.4 M469.2,114.3 L474.8,121.7 M471.9,113.3 L472.1,122.7 M474.7,114.2 L469.3,121.8 M476.4,116.5 L467.6,119.5" stroke="#444" stroke-width="0.5"/>
<circle cx="483" cy="124" r="6" fill="#fff" fill-opacity="0.55" stroke="#1e1e1e" stroke-width="1.2"/><path d="M478.1,122.5 L487.9,125.5 M479.9,119.9 L486.1,128.1 M482.9,118.9 L483.1,129.1 M485.9,119.8 L480.1,128.2 M487.8,122.4 L478.2,125.6" stroke="#444" stroke-width="0.5"/>
<circle cx="502" cy="129" r="6" fill="#fff" fill-opacity="0.55" stroke="#1e1e1e" stroke-width="1.2"/><path d="M497.1,127.5 L506.9,130.5 M498.9,124.9 L505.1,133.1 M501.9,123.9 L502.1,134.1 M504.9,124.8 L499.1,133.2 M506.8,127.4 L497.2,130.6" stroke="#444" stroke-width="0.5"/>
<circle cx="512" cy="131" r="6" fill="#fff" fill-opacity="0.55" stroke="#1e1e1e" stroke-width="1.2"/><path d="M507.1,129.5 L516.9,132.5 M508.9,126.9 L515.1,135.1 M511.9,125.9 L512.1,136.1 M514.9,126.8 L509.1,135.2 M516.8,129.4 L507.2,132.6" stroke="#444" stroke-width="0.5"/>
<path d="M1114.5,384.0 V637.2 H1493.2" fill="none" stroke="#000" stroke-width="2.6"/>
<path d="M1103.5,637.2 H1114.5 M1103.5,531.8 H1114.5 M1103.5,426.4 H1114.5 M1114.5,637.2 V647.2 M1240.7,637.2 V647.2 M1367.0,637.2 V647.2 M1493.2,637.2 V647.2" fill="none" stroke="#000" stroke-width="2.6"/>
<text x="1101" y="644.2" font-size="19.8" fill="#000" font-weight="bold" text-anchor="end">0.0</text>
<text x="1101" y="538.8" font-size="19.8" fill="#000" font-weight="bold" text-anchor="end">0.5</text>
<text x="1101" y="433.4" font-size="19.8" fill="#000" font-weight="bold" text-anchor="end">1.0</text>
<text x="1114.5" y="669" font-size="19.6" fill="#000" font-weight="bold" text-anchor="middle">0.1</text>
<text x="1240.7" y="669" font-size="19.6" fill="#000" font-weight="bold" text-anchor="middle">1</text>
<text x="1367" y="669" font-size="19.6" fill="#000" font-weight="bold" text-anchor="middle">10</text>
<text x="1493.2" y="669" font-size="19.6" fill="#000" font-weight="bold" text-anchor="middle">100</text>
<text x="0" y="0" font-size="33" font-weight="bold" text-anchor="middle" transform="translate(1061.5,510.0) rotate(-90)">CRTD</text>
<text x="1304" y="707.7" font-size="31.5" fill="#000" font-weight="bold" text-anchor="middle">Dwell time (s)</text>
<path d="M1189.4,433.4h0M1209.4,437.0h0M1225.8,440.6h0M1226.7,444.3h0M1233.6,447.9h0M1232.5,451.6h0M1234.5,455.2h0M1242.0,458.8h0M1239.6,462.5h0M1241.4,466.1h0M1246.5,469.8h0M1250.6,473.4h0M1250.8,477.0h0M1254.7,480.7h0M1253.0,484.3h0M1256.8,488.0h0M1258.9,491.6h0M1258.9,495.2h0M1260.3,498.9h0M1261.6,502.5h0M1266.6,506.2h0M1268.4,509.8h0M1269.5,513.4h0M1272.1,517.1h0M1270.1,520.7h0M1276.3,524.4h0M1280.8,528.0h0M1285.8,531.6h0M1285.4,535.3h0M1289.1,538.9h0M1287.4,542.6h0M1293.7,546.2h0M1291.8,549.8h0M1296.2,553.5h0M1305.1,557.1h0M1301.4,560.8h0M1313.6,564.4h0M1317.0,568.0h0M1320.0,571.7h0M1326.5,575.3h0M1331.2,579.0h0M1337.1,582.6h0M1337.9,586.2h0M1340.0,589.9h0M1342.9,593.5h0M1345.0,597.2h0M1350.3,600.8h0M1351.6,604.4h0M1362.7,608.1h0M1361.8,611.7h0M1373.6,615.4h0M1385.8,619.0h0M1393.6,622.6h0M1415.2,626.3h0M1419.0,629.9h0M1437.7,633.6h0M1451.2,637.2h0" stroke="#000" stroke-width="9.6" stroke-linecap="round" fill="none"/>
<path d="M1190.5,426.3 L1192.7,427.6 L1194.9,428.9 L1197.1,430.2 L1199.2,431.6 L1201.4,433.1 L1203.6,434.5 L1205.8,436.1 L1208.0,437.7 L1210.2,439.3 L1212.4,441.0 L1214.6,442.7 L1216.7,444.5 L1218.9,446.3 L1221.1,448.2 L1223.3,450.2 L1225.5,452.2 L1227.7,454.2 L1229.9,456.4 L1232.1,458.5 L1234.2,460.8 L1236.4,463.1 L1238.6,465.4 L1240.8,467.8 L1243.0,470.3 L1245.2,472.8 L1247.4,475.4 L1249.6,478.0 L1251.7,480.7 L1253.9,483.5 L1256.1,486.3 L1258.3,489.1 L1260.5,492.0 L1262.7,495.0 L1264.9,498.0 L1267.1,501.1 L1269.2,504.2 L1271.4,507.3 L1273.6,510.5 L1275.8,513.7 L1278.0,516.9 L1280.2,520.2 L1282.4,523.5 L1284.5,526.8 L1286.7,530.1 L1288.9,533.5 L1291.1,536.8 L1293.3,540.1 L1295.5,543.5 L1297.7,546.8 L1299.9,550.1 L1302.0,553.4 L1304.2,556.6 L1306.4,559.9 L1308.6,563.0 L1310.8,566.2 L1313.0,569.2 L1315.2,572.3 L1317.4,575.2 L1319.5,578.1 L1321.7,580.9 L1323.9,583.6 L1326.1,586.2 L1328.3,588.8 L1330.5,591.2 L1332.7,593.5 L1334.9,595.8 L1337.0,597.9 L1339.2,599.9 L1341.4,601.8 L1343.6,603.6 L1345.8,605.3 L1348.0,606.9 L1350.2,608.3 L1352.4,609.7 L1354.5,611.0 L1356.7,612.1 L1358.9,613.1 L1361.1,614.1 L1363.3,614.9 L1365.5,615.7 L1367.7,616.4 L1369.8,617.0 L1372.0,617.5 L1374.2,618.0 L1376.4,618.4 L1378.6,618.7 L1380.8,619.0 L1383.0,619.3 L1385.2,619.5 L1387.3,619.6 L1389.5,619.8 L1391.7,619.9 L1393.9,620.0 L1396.1,620.1 L1398.3,620.1 L1400.5,620.2 L1402.7,620.2 L1404.8,620.3 L1407.0,620.3 L1409.2,620.3 L1411.4,620.3 L1413.6,620.3 L1415.8,620.3 L1418.0,620.3 L1420.2,620.3 L1422.3,620.3 L1424.5,620.3 L1426.7,620.3 L1428.9,620.3 L1431.1,620.3 L1433.3,620.3 L1435.5,620.3 L1437.7,620.3 L1439.8,620.3 L1442.0,620.3 L1444.2,620.3 L1446.4,620.3 L1448.6,620.3 L1450.8,620.3 L1453.0,620.3" fill="none" stroke="#ff0000" stroke-width="3.6"/>
<path d="M1564.7,388.3 V641.6 H1942.8" fill="none" stroke="#000" stroke-width="2.6"/>
<path d="M1553.7,641.6 H1564.7 M1553.7,536.3 H1564.7 M1553.7,431.0 H1564.7 M1564.7,641.6 V651.6 M1690.7,641.6 V651.6 M1816.8,641.6 V651.6 M1942.8,641.6 V651.6" fill="none" stroke="#000" stroke-width="2.6"/>
<text x="1551.2" y="648.6" font-size="19.8" fill="#000" font-weight="bold" text-anchor="end">0.0</text>
<text x="1551.2" y="543.3" font-size="19.8" fill="#000" font-weight="bold" text-anchor="end">0.5</text>
<text x="1551.2" y="438" font-size="19.8" fill="#000" font-weight="bold" text-anchor="end">1.0</text>
<text x="1564.7" y="673.3" font-size="19.6" fill="#000" font-weight="bold" text-anchor="middle">1</text>
<text x="1690.7" y="673.3" font-size="19.6" fill="#000" font-weight="bold" text-anchor="middle">10</text>
<text x="1816.8" y="673.3" font-size="19.6" fill="#000" font-weight="bold" text-anchor="middle">100</text>
<text x="1942.8" y="673.3" font-size="19.6" fill="#000" font-weight="bold" text-anchor="middle">1000</text>
<text x="0" y="0" font-size="33" font-weight="bold" text-anchor="middle" transform="translate(1512.5,515.5) rotate(-90)">CGTD</text>
<text x="1753.7" y="712" font-size="31.5" fill="#000" font-weight="bold" text-anchor="middle">Gap length (s)</text>
<path d="M1601.8,436.3h0M1613.9,441.2h0M1617.8,446.0h0M1626.3,450.9h0M1637.6,455.8h0M1647.1,460.7h0M1645.9,465.6h0M1659.2,470.5h0M1661.7,475.4h0M1669.4,480.3h0M1670.9,485.2h0M1692.4,490.0h0M1696.3,494.9h0M1700.9,499.8h0M1709.2,504.7h0M1712.1,509.6h0M1718.3,514.5h0M1723.9,519.4h0M1725.2,524.3h0M1730.0,529.2h0M1746.4,534.0h0M1743.8,538.9h0M1744.8,543.8h0M1749.4,548.7h0M1750.5,553.6h0M1755.7,558.5h0M1760.6,563.4h0M1768.5,568.3h0M1764.9,573.2h0M1766.7,578.0h0M1769.3,582.9h0M1774.1,587.8h0M1773.5,592.7h0M1778.4,597.6h0M1800.8,602.5h0M1794.1,607.4h0M1799.1,612.3h0M1803.9,617.2h0M1810.2,622.0h0M1813.1,626.9h0M1822.0,631.8h0M1837.4,636.7h0M1879.7,641.6h0" stroke="#000" stroke-width="9.6" stroke-linecap="round" fill="none"/>
<path d="M1602.6,447.7 L1604.9,448.2 L1607.2,448.7 L1609.5,449.2 L1611.8,449.8 L1614.1,450.3 L1616.4,450.9 L1618.6,451.6 L1620.9,452.2 L1623.2,452.9 L1625.5,453.6 L1627.8,454.3 L1630.1,455.0 L1632.4,455.8 L1634.6,456.6 L1636.9,457.4 L1639.2,458.3 L1641.5,459.2 L1643.8,460.1 L1646.1,461.1 L1648.3,462.1 L1650.6,463.2 L1652.9,464.2 L1655.2,465.4 L1657.5,466.5 L1659.8,467.7 L1662.1,469.0 L1664.3,470.2 L1666.6,471.6 L1668.9,472.9 L1671.2,474.4 L1673.5,475.8 L1675.8,477.3 L1678.1,478.9 L1680.3,480.5 L1682.6,482.2 L1684.9,483.9 L1687.2,485.7 L1689.5,487.5 L1691.8,489.4 L1694.1,491.3 L1696.3,493.3 L1698.6,495.4 L1700.9,497.5 L1703.2,499.6 L1705.5,501.9 L1707.8,504.1 L1710.1,506.5 L1712.3,508.8 L1714.6,511.3 L1716.9,513.8 L1719.2,516.3 L1721.5,518.9 L1723.8,521.6 L1726.1,524.3 L1728.3,527.0 L1730.6,529.8 L1732.9,532.7 L1735.2,535.6 L1737.5,538.5 L1739.8,541.4 L1742.1,544.4 L1744.3,547.5 L1746.6,550.5 L1748.9,553.6 L1751.2,556.6 L1753.5,559.7 L1755.8,562.8 L1758.1,565.9 L1760.3,569.0 L1762.6,572.1 L1764.9,575.1 L1767.2,578.2 L1769.5,581.2 L1771.8,584.2 L1774.1,587.1 L1776.3,590.0 L1778.6,592.8 L1780.9,595.6 L1783.2,598.3 L1785.5,601.0 L1787.8,603.5 L1790.1,606.0 L1792.3,608.4 L1794.6,610.7 L1796.9,612.9 L1799.2,615.0 L1801.5,617.0 L1803.8,618.9 L1806.0,620.7 L1808.3,622.4 L1810.6,624.0 L1812.9,625.4 L1815.2,626.8 L1817.5,628.0 L1819.8,629.2 L1822.0,630.2 L1824.3,631.2 L1826.6,632.0 L1828.9,632.8 L1831.2,633.5 L1833.5,634.1 L1835.8,634.6 L1838.0,635.1 L1840.3,635.5 L1842.6,635.8 L1844.9,636.1 L1847.2,636.4 L1849.5,636.6 L1851.8,636.7 L1854.0,636.9 L1856.3,637.0 L1858.6,637.1 L1860.9,637.2 L1863.2,637.2 L1865.5,637.3 L1867.8,637.3 L1870.0,637.3 L1872.3,637.3 L1874.6,637.4 L1876.9,637.4" fill="none" stroke="#00c000" stroke-width="3.6"/>
<path d="M1105.8,796.8 V1069.5 H1513.0" fill="none" stroke="#000" stroke-width="2.6"/>
<path d="M1094.8,1069.5 H1105.8 M1094.8,956.2 H1105.8 M1094.8,843.0 H1105.8 M1105.8,1069.5 V1079.5 M1241.5,1069.5 V1079.5 M1377.3,1069.5 V1079.5 M1513.0,1069.5 V1079.5" fill="none" stroke="#000" stroke-width="2.6"/>
<text x="1092.3" y="1076.5" font-size="19.8" fill="#000" font-weight="bold" text-anchor="end">0.0</text>
<text x="1092.3" y="963.2" font-size="19.8" fill="#000" font-weight="bold" text-anchor="end">0.5</text>
<text x="1092.3" y="850" font-size="19.8" fill="#000" font-weight="bold" text-anchor="end">1.0</text>
<text x="1105.8" y="1103.6" font-size="19.6" fill="#000" font-weight="bold" text-anchor="middle">0.1</text>
<text x="1241.5" y="1103.6" font-size="19.6" fill="#000" font-weight="bold" text-anchor="middle">1</text>
<text x="1377.3" y="1103.6" font-size="19.6" fill="#000" font-weight="bold" text-anchor="middle">10</text>
<text x="1513" y="1103.6" font-size="19.6" fill="#000" font-weight="bold" text-anchor="middle">100</text>
<text x="0" y="0" font-size="33" font-weight="bold" text-anchor="middle" transform="translate(1048.0,932.0) rotate(-90)">CRTD</text>
<text x="1309.8" y="1147.2" font-size="32.5" fill="#000" font-weight="bold" text-anchor="middle">Dwell time (s)</text>
<path d="M1186.9,848.0h0M1203.7,852.2h0M1218.2,856.3h0M1227.8,860.5h0M1231.7,864.7h0M1237.4,868.9h0M1245.1,873.1h0M1250.8,877.2h0M1256.3,881.4h0M1252.8,885.6h0M1255.4,889.8h0M1263.3,894.0h0M1264.7,898.1h0M1269.7,902.3h0M1270.3,906.5h0M1272.7,910.7h0M1277.6,914.9h0M1290.1,919.0h0M1285.0,923.2h0M1286.3,927.4h0M1288.0,931.6h0M1295.4,935.8h0M1300.2,939.9h0M1303.6,944.1h0M1309.2,948.3h0M1328.1,952.5h0M1343.1,956.7h0M1351.6,960.8h0M1354.1,965.0h0M1352.7,969.2h0M1362.3,973.4h0M1359.5,977.5h0M1364.5,981.7h0M1362.2,985.9h0M1367.5,990.1h0M1366.6,994.3h0M1370.6,998.4h0M1380.8,1002.6h0M1373.6,1006.8h0M1378.1,1011.0h0M1380.8,1015.2h0M1391.6,1019.3h0M1400.4,1023.5h0M1406.4,1027.7h0M1418.5,1031.9h0M1429.4,1036.1h0M1433.5,1040.2h0M1442.4,1044.4h0M1442.2,1048.6h0M1453.1,1052.8h0M1451.4,1057.0h0M1466.4,1061.1h0M1479.8,1065.3h0M1501.3,1069.5h0" stroke="#000" stroke-width="9.6" stroke-linecap="round" fill="none"/>
<path d="M1187.5,865.6 L1190.1,866.1 L1192.7,866.6 L1195.3,867.2 L1197.9,867.7 L1200.5,868.3 L1203.1,868.9 L1205.7,869.5 L1208.3,870.1 L1210.9,870.8 L1213.5,871.5 L1216.1,872.2 L1218.8,873.0 L1221.4,873.8 L1224.0,874.6 L1226.6,875.5 L1229.2,876.4 L1231.8,877.3 L1234.4,878.3 L1237.0,879.3 L1239.6,880.3 L1242.2,881.4 L1244.8,882.5 L1247.4,883.7 L1250.0,884.9 L1252.6,886.1 L1255.2,887.4 L1257.8,888.8 L1260.4,890.2 L1263.0,891.6 L1265.6,893.1 L1268.2,894.7 L1270.8,896.3 L1273.4,897.9 L1276.0,899.6 L1278.6,901.4 L1281.2,903.2 L1283.8,905.1 L1286.4,907.1 L1289.0,909.1 L1291.6,911.1 L1294.2,913.3 L1296.8,915.5 L1299.4,917.7 L1302.0,920.0 L1304.6,922.4 L1307.2,924.8 L1309.8,927.3 L1312.5,929.9 L1315.1,932.5 L1317.7,935.2 L1320.3,937.9 L1322.9,940.7 L1325.5,943.6 L1328.1,946.4 L1330.7,949.4 L1333.3,952.4 L1335.9,955.4 L1338.5,958.5 L1341.1,961.6 L1343.7,964.7 L1346.3,967.8 L1348.9,971.0 L1351.5,974.2 L1354.1,977.4 L1356.7,980.6 L1359.3,983.8 L1361.9,986.9 L1364.5,990.1 L1367.1,993.3 L1369.7,996.4 L1372.3,999.5 L1374.9,1002.5 L1377.5,1005.5 L1380.1,1008.4 L1382.7,1011.2 L1385.3,1014.0 L1387.9,1016.7 L1390.5,1019.3 L1393.1,1021.9 L1395.7,1024.3 L1398.3,1026.6 L1400.9,1028.8 L1403.5,1030.9 L1406.1,1032.9 L1408.8,1034.8 L1411.4,1036.5 L1414.0,1038.2 L1416.6,1039.7 L1419.2,1041.1 L1421.8,1042.4 L1424.4,1043.5 L1427.0,1044.6 L1429.6,1045.6 L1432.2,1046.4 L1434.8,1047.2 L1437.4,1047.8 L1440.0,1048.4 L1442.6,1048.9 L1445.2,1049.4 L1447.8,1049.8 L1450.4,1050.1 L1453.0,1050.3 L1455.6,1050.6 L1458.2,1050.7 L1460.8,1050.9 L1463.4,1051.0 L1466.0,1051.1 L1468.6,1051.2 L1471.2,1051.2 L1473.8,1051.3 L1476.4,1051.3 L1479.0,1051.3 L1481.6,1051.3 L1484.2,1051.4 L1486.8,1051.4 L1489.4,1051.4 L1492.0,1051.4 L1494.6,1051.4 L1497.2,1051.4 L1499.8,1051.4" fill="none" stroke="#ff0000" stroke-width="3.6"/>
<path d="M1578.5,808.2 V1065.0 H1963.0" fill="none" stroke="#000" stroke-width="2.6"/>
<path d="M1567.5,1065.0 H1578.5 M1567.5,958.8 H1578.5 M1567.5,852.5 H1578.5 M1578.5,1065.0 V1075.0 M1706.7,1065.0 V1075.0 M1834.8,1065.0 V1075.0 M1963.0,1065.0 V1075.0" fill="none" stroke="#000" stroke-width="2.6"/>
<text x="1565" y="1072" font-size="19.8" fill="#000" font-weight="bold" text-anchor="end">0.0</text>
<text x="1565" y="965.8" font-size="19.8" fill="#000" font-weight="bold" text-anchor="end">0.5</text>
<text x="1565" y="859.5" font-size="19.8" fill="#000" font-weight="bold" text-anchor="end">1.0</text>
<text x="1578.5" y="1098" font-size="19.6" fill="#000" font-weight="bold" text-anchor="middle">1</text>
<text x="1706.7" y="1098" font-size="19.6" fill="#000" font-weight="bold" text-anchor="middle">10</text>
<text x="1834.8" y="1098" font-size="19.6" fill="#000" font-weight="bold" text-anchor="middle">100</text>
<text x="1963" y="1098" font-size="19.6" fill="#000" font-weight="bold" text-anchor="middle">1000</text>
<text x="0" y="0" font-size="33" font-weight="bold" text-anchor="middle" transform="translate(1524.0,937.0) rotate(-90)">CGTD</text>
<text x="1771.3" y="1137.7" font-size="32" fill="#000" font-weight="bold" text-anchor="middle">Gap length (s)</text>
<path d="M1591.8,856.8h0M1595.8,861.2h0M1615.1,865.6h0M1613.8,870.0h0M1624.5,874.5h0M1631.5,878.9h0M1633.8,883.3h0M1634.5,887.8h0M1659.8,892.2h0M1661.2,896.6h0M1662.9,901.1h0M1664.9,905.5h0M1668.2,909.9h0M1669.7,914.4h0M1676.5,918.8h0M1680.2,923.2h0M1679.0,927.6h0M1686.8,932.1h0M1687.6,936.5h0M1693.3,940.9h0M1695.4,945.4h0M1694.0,949.8h0M1689.1,954.2h0M1696.4,958.7h0M1691.8,963.1h0M1705.2,967.5h0M1704.0,972.0h0M1705.7,976.4h0M1711.3,980.8h0M1702.5,985.2h0M1707.5,989.7h0M1710.2,994.1h0M1717.5,998.5h0M1721.7,1003.0h0M1728.9,1007.4h0M1729.7,1011.8h0M1734.8,1016.3h0M1743.3,1020.7h0M1745.2,1025.1h0M1756.5,1029.6h0M1754.5,1034.0h0M1755.7,1038.4h0M1771.9,1042.8h0M1802.3,1047.3h0M1842.7,1051.7h0M1841.4,1056.1h0M1850.5,1060.6h0M1879.5,1065.0h0" stroke="#000" stroke-width="9.6" stroke-linecap="round" fill="none"/>
<path d="M1593.1,852.6 L1595.5,853.7 L1597.9,854.9 L1600.3,856.2 L1602.7,857.5 L1605.1,858.8 L1607.5,860.2 L1609.9,861.7 L1612.3,863.2 L1614.7,864.7 L1617.1,866.4 L1619.5,868.0 L1621.9,869.8 L1624.3,871.5 L1626.7,873.4 L1629.1,875.3 L1631.5,877.3 L1633.9,879.3 L1636.3,881.4 L1638.7,883.6 L1641.1,885.8 L1643.5,888.1 L1645.9,890.5 L1648.3,892.9 L1650.7,895.4 L1653.1,898.0 L1655.5,900.7 L1657.9,903.4 L1660.3,906.2 L1662.7,909.0 L1665.1,911.9 L1667.5,914.9 L1669.9,918.0 L1672.3,921.1 L1674.7,924.3 L1677.1,927.5 L1679.5,930.8 L1681.9,934.2 L1684.3,937.6 L1686.7,941.0 L1689.1,944.5 L1691.5,948.1 L1693.9,951.7 L1696.3,955.3 L1698.7,958.9 L1701.1,962.6 L1703.5,966.3 L1705.9,969.9 L1708.3,973.6 L1710.7,977.3 L1713.1,981.0 L1715.5,984.6 L1717.9,988.2 L1720.3,991.8 L1722.7,995.4 L1725.1,998.9 L1727.5,1002.3 L1729.9,1005.7 L1732.3,1009.0 L1734.7,1012.2 L1737.1,1015.3 L1739.6,1018.3 L1742.0,1021.2 L1744.4,1024.0 L1746.8,1026.7 L1749.2,1029.3 L1751.6,1031.8 L1754.0,1034.1 L1756.4,1036.3 L1758.8,1038.4 L1761.2,1040.3 L1763.6,1042.1 L1766.0,1043.7 L1768.4,1045.3 L1770.8,1046.7 L1773.2,1048.0 L1775.6,1049.1 L1778.0,1050.2 L1780.4,1051.1 L1782.8,1051.9 L1785.2,1052.6 L1787.6,1053.3 L1790.0,1053.8 L1792.4,1054.3 L1794.8,1054.7 L1797.2,1055.1 L1799.6,1055.3 L1802.0,1055.6 L1804.4,1055.8 L1806.8,1055.9 L1809.2,1056.1 L1811.6,1056.2 L1814.0,1056.3 L1816.4,1056.3 L1818.8,1056.4 L1821.2,1056.4 L1823.6,1056.4 L1826.0,1056.5 L1828.4,1056.5 L1830.8,1056.5 L1833.2,1056.5 L1835.6,1056.5 L1838.0,1056.5 L1840.4,1056.5 L1842.8,1056.5 L1845.2,1056.5 L1847.6,1056.5 L1850.0,1056.5 L1852.4,1056.5 L1854.8,1056.5 L1857.2,1056.5 L1859.6,1056.5 L1862.0,1056.5 L1864.4,1056.5 L1866.8,1056.5 L1869.2,1056.5 L1871.6,1056.5 L1874.0,1056.5 L1876.4,1056.5 L1878.8,1056.5 L1881.2,1056.5" fill="none" stroke="#00c000" stroke-width="3.6"/>
<text x="1409.4" y="355.2" font-size="32" font-weight="bold"><tspan font-style="italic">K</tspan><tspan font-size="21" dy="7">D</tspan><tspan dy="-7" dx="5">= 10.2 </tspan><tspan font-weight="normal">±</tspan><tspan> 0.9 nM</tspan></text>
<text x="1436" y="785.5" font-size="32.6" font-weight="bold"><tspan font-style="italic">K</tspan><tspan font-size="21" dy="7">D</tspan><tspan dy="-7" dx="5">= 1.0 </tspan><tspan font-weight="normal">±</tspan><tspan> 0.1 nM</tspan></text>
<text x="1436" y="422" font-size="25.2" fill="#000" text-anchor="end">τ = 2.5 ± 0.1 s</text>
<text x="1436" y="451" font-size="24.5" fill="#000" text-anchor="end">N = 57</text>
<text x="1477.8" y="855.5" font-size="25.2" fill="#000" text-anchor="end">τ = 6.9 ± 0.5 s</text>
<text x="1477.8" y="886.6" font-size="24.5" fill="#000" text-anchor="end">N = 54</text>
<text x="1921" y="407" font-size="24.5" text-anchor="end"><tspan font-style="italic">k</tspan><tspan font-style="italic" font-size="19" dy="6">on app</tspan><tspan dy="-6"> = 0.03 ± 0.001 s </tspan><tspan font-size="15" dy="-10">-1</tspan></text>
<text x="1921" y="437" font-size="24.5" text-anchor="end"><tspan font-style="italic">k</tspan><tspan font-style="italic" font-size="19" dy="6">on</tspan><tspan dy="-6"> = 3.9 ± 0.3 x 10</tspan><tspan font-size="15" dy="-10">7</tspan><tspan dy="10"> M</tspan><tspan font-size="15" dy="-10">-1</tspan><tspan dy="10"> s</tspan><tspan font-size="15" dy="-10">-1</tspan></text>
<text x="1921" y="467" font-size="24.5" text-anchor="end">N = 43</text>
<text x="1967.5" y="857.4" font-size="24.5" text-anchor="end"><tspan font-style="italic">k</tspan><tspan font-style="italic" font-size="19" dy="6">on app</tspan><tspan dy="-6"> = 0.10 ± 0.004 s </tspan><tspan font-size="15" dy="-10">-1</tspan></text>
<text x="1967.5" y="889.6" font-size="24.5" text-anchor="end"><tspan font-style="italic">k</tspan><tspan font-style="italic" font-size="19" dy="6">on</tspan><tspan dy="-6"> = 1.4 ± 0.1 x 10</tspan><tspan font-size="15" dy="-10">8</tspan><tspan dy="10"> M</tspan><tspan font-size="15" dy="-10">-1</tspan><tspan dy="10"> s</tspan><tspan font-size="15" dy="-10">-1</tspan></text>
<text x="1967.5" y="920" font-size="24.5" text-anchor="end">N = 48</text>
<clipPath id="kc21"><rect x="600.8" y="363.2" width="418.8" height="312.2"/></clipPath>
<g clip-path="url(#kc21)">
<rect x="600.8" y="363.2" width="418.8" height="312.2" fill="#101010"/>
<rect x="600.8" y="363.2" width="418.8" height="312.2" fill="#000" filter="url(#kn)"/>
<rect x="601.0" y="495.5" width="13.0" height="55.0" fill="url(#bandg)" opacity="0.19"/>
<rect x="614.0" y="495.5" width="19.0" height="55.0" fill="url(#bandg)" opacity="0.04"/>
<rect x="633.0" y="495.5" width="73.0" height="55.0" fill="url(#bandg)" opacity="0.22"/>
<rect x="706.0" y="495.5" width="16.0" height="55.0" fill="url(#bandg)" opacity="0.03"/>
<rect x="729.0" y="495.5" width="4.0" height="55.0" fill="url(#bandg)" opacity="0.18"/>
<rect x="602.4" y="496.5" width="1.8" height="50.2" fill="url(#bandg)" opacity="0.37"/>
<rect x="604.0" y="499.3" width="1.8" height="47.7" fill="url(#bandg)" opacity="0.85"/>
<rect x="605.6" y="502.4" width="1.8" height="37.6" fill="url(#bandg)" opacity="0.65"/>
<rect x="607.2" y="503.9" width="1.8" height="42.1" fill="url(#bandg)" opacity="0.26"/>
<rect x="608.8" y="494.0" width="1.8" height="57.5" fill="url(#bandg)" opacity="0.09"/>
<rect x="610.4" y="496.9" width="1.8" height="44.1" fill="url(#bandg)" opacity="0.15"/>
<rect x="612.0" y="493.9" width="1.8" height="56.5" fill="url(#bandg)" opacity="0.65"/>
<rect x="613.6" y="495.8" width="1.8" height="56.1" fill="url(#bandg)" opacity="0.87"/>
<rect x="615.2" y="499.5" width="1.8" height="44.4" fill="url(#bandg)" opacity="0.14"/>
<rect x="616.8" y="502.0" width="1.8" height="42.2" fill="url(#bandg)" opacity="0.05"/>
<rect x="618.4" y="497.2" width="1.8" height="56.9" fill="url(#bandg)" opacity="0.20"/>
<rect x="620.0" y="494.9" width="1.8" height="52.1" fill="url(#bandg)" opacity="0.20"/>
<rect x="621.6" y="497.4" width="1.8" height="54.0" fill="url(#bandg)" opacity="0.08"/>
<rect x="623.2" y="504.9" width="1.8" height="44.8" fill="url(#bandg)" opacity="0.21"/>
<rect x="624.8" y="493.9" width="1.8" height="57.4" fill="url(#bandg)" opacity="0.14"/>
<rect x="626.4" y="494.6" width="1.8" height="57.4" fill="url(#bandg)" opacity="0.07"/>
<rect x="628.0" y="498.7" width="1.8" height="48.5" fill="url(#bandg)" opacity="0.15"/>
<rect x="629.6" y="496.6" width="1.8" height="50.0" fill="url(#bandg)" opacity="0.17"/>
<rect x="631.2" y="502.4" width="1.8" height="44.5" fill="url(#bandg)" opacity="0.09"/>
<rect x="632.8" y="502.4" width="1.8" height="39.6" fill="url(#bandg)" opacity="0.17"/>
<rect x="634.4" y="494.3" width="1.8" height="53.0" fill="url(#bandg)" opacity="0.30"/>
<rect x="636.0" y="496.8" width="1.8" height="56.7" fill="url(#bandg)" opacity="0.91"/>
<rect x="637.6" y="491.1" width="1.8" height="56.7" fill="url(#bandg)" opacity="0.68"/>
<rect x="639.2" y="499.5" width="1.8" height="42.4" fill="url(#bandg)" opacity="0.76"/>
<rect x="640.8" y="504.7" width="1.8" height="38.9" fill="url(#bandg)" opacity="1.00"/>
<rect x="642.4" y="500.5" width="1.8" height="38.5" fill="url(#bandg)" opacity="0.75"/>
<rect x="644.0" y="500.4" width="1.8" height="45.9" fill="url(#bandg)" opacity="0.54"/>
<rect x="645.6" y="495.1" width="1.8" height="57.2" fill="url(#bandg)" opacity="0.62"/>
<rect x="647.2" y="504.1" width="1.8" height="42.5" fill="url(#bandg)" opacity="0.96"/>
<rect x="648.8" y="501.5" width="1.8" height="41.7" fill="url(#bandg)" opacity="0.19"/>
<rect x="650.4" y="493.7" width="1.8" height="55.1" fill="url(#bandg)" opacity="1.00"/>
<rect x="652.0" y="499.9" width="1.8" height="43.7" fill="url(#bandg)" opacity="0.83"/>
<rect x="653.6" y="499.6" width="1.8" height="52.9" fill="url(#bandg)" opacity="0.79"/>
<rect x="655.2" y="498.5" width="1.8" height="49.4" fill="url(#bandg)" opacity="0.22"/>
<rect x="656.8" y="498.3" width="1.8" height="49.2" fill="url(#bandg)" opacity="0.88"/>
<rect x="658.4" y="505.0" width="1.8" height="40.2" fill="url(#bandg)" opacity="1.00"/>
<rect x="660.0" y="503.0" width="1.8" height="38.0" fill="url(#bandg)" opacity="0.34"/>
<rect x="661.6" y="503.3" width="1.8" height="40.0" fill="url(#bandg)" opacity="1.00"/>
<rect x="663.2" y="499.5" width="1.8" height="47.4" fill="url(#bandg)" opacity="0.80"/>
<rect x="664.8" y="498.3" width="1.8" height="51.7" fill="url(#bandg)" opacity="0.46"/>
<rect x="666.4" y="499.6" width="1.8" height="51.7" fill="url(#bandg)" opacity="0.16"/>
<rect x="668.0" y="497.2" width="1.8" height="46.8" fill="url(#bandg)" opacity="0.20"/>
<rect x="669.6" y="502.1" width="1.8" height="41.0" fill="url(#bandg)" opacity="0.30"/>
<rect x="671.2" y="502.3" width="1.8" height="38.3" fill="url(#bandg)" opacity="0.93"/>
<rect x="672.8" y="494.6" width="1.8" height="55.5" fill="url(#bandg)" opacity="0.67"/>
<rect x="674.4" y="505.5" width="1.8" height="39.5" fill="url(#bandg)" opacity="0.81"/>
<rect x="676.0" y="498.6" width="1.8" height="52.2" fill="url(#bandg)" opacity="0.85"/>
<rect x="677.6" y="498.3" width="1.8" height="48.7" fill="url(#bandg)" opacity="0.93"/>
<rect x="679.2" y="493.4" width="1.8" height="57.0" fill="url(#bandg)" opacity="0.30"/>
<rect x="680.8" y="504.9" width="1.8" height="39.0" fill="url(#bandg)" opacity="1.00"/>
<rect x="682.4" y="494.0" width="1.8" height="52.7" fill="url(#bandg)" opacity="0.31"/>
<rect x="684.0" y="500.7" width="1.8" height="46.4" fill="url(#bandg)" opacity="0.21"/>
<rect x="685.6" y="500.3" width="1.8" height="45.5" fill="url(#bandg)" opacity="0.78"/>
<rect x="687.2" y="497.8" width="1.8" height="51.6" fill="url(#bandg)" opacity="0.71"/>
<rect x="688.8" y="499.9" width="1.8" height="46.6" fill="url(#bandg)" opacity="1.00"/>
<rect x="690.4" y="496.6" width="1.8" height="56.8" fill="url(#bandg)" opacity="0.75"/>
<rect x="692.0" y="498.5" width="1.8" height="47.3" fill="url(#bandg)" opacity="0.33"/>
<rect x="693.6" y="492.5" width="1.8" height="52.7" fill="url(#bandg)" opacity="0.99"/>
<rect x="695.2" y="496.6" width="1.8" height="51.5" fill="url(#bandg)" opacity="0.90"/>
<rect x="696.8" y="496.7" width="1.8" height="49.8" fill="url(#bandg)" opacity="1.00"/>
<rect x="698.4" y="496.1" width="1.8" height="57.3" fill="url(#bandg)" opacity="1.00"/>
<rect x="700.0" y="502.9" width="1.8" height="40.4" fill="url(#bandg)" opacity="0.59"/>
<rect x="701.6" y="504.3" width="1.8" height="43.6" fill="url(#bandg)" opacity="0.16"/>
<rect x="703.2" y="493.5" width="1.8" height="56.6" fill="url(#bandg)" opacity="0.73"/>
<rect x="704.8" y="499.0" width="1.8" height="44.2" fill="url(#bandg)" opacity="0.93"/>
<rect x="706.4" y="498.7" width="1.8" height="43.9" fill="url(#bandg)" opacity="0.08"/>
<rect x="708.0" y="502.2" width="1.8" height="40.6" fill="url(#bandg)" opacity="0.08"/>
<rect x="709.6" y="499.2" width="1.8" height="45.1" fill="url(#bandg)" opacity="0.13"/>
<rect x="711.2" y="498.7" width="1.8" height="46.2" fill="url(#bandg)" opacity="0.17"/>
<rect x="712.8" y="500.4" width="1.8" height="42.9" fill="url(#bandg)" opacity="0.07"/>
<rect x="714.4" y="505.6" width="1.8" height="38.2" fill="url(#bandg)" opacity="0.07"/>
<rect x="716.0" y="494.9" width="1.8" height="47.5" fill="url(#bandg)" opacity="0.03"/>
<rect x="717.6" y="497.3" width="1.8" height="51.5" fill="url(#bandg)" opacity="0.04"/>
<rect x="719.2" y="501.4" width="1.8" height="43.7" fill="url(#bandg)" opacity="0.12"/>
<rect x="720.8" y="502.9" width="1.8" height="44.9" fill="url(#bandg)" opacity="0.11"/>
<rect x="730.4" y="506.4" width="1.8" height="38.5" fill="url(#bandg)" opacity="0.82"/>
<rect x="732.0" y="499.3" width="1.8" height="48.5" fill="url(#bandg)" opacity="0.37"/>
</g>
<rect x="600.8" y="363.2" width="418.8" height="312.2" fill="none" stroke="#000" stroke-width="1"/>
<clipPath id="kc23"><rect x="602.5" y="802.5" width="413.8" height="308.5"/></clipPath>
<g clip-path="url(#kc23)">
<rect x="602.5" y="802.5" width="413.8" height="308.5" fill="#101010"/>
<rect x="602.5" y="802.5" width="413.8" height="308.5" fill="#000" filter="url(#kn)"/>
<rect x="603.0" y="926.2" width="24.0" height="61.6" fill="url(#bandg)" opacity="0.22"/>
<rect x="627.0" y="926.2" width="5.0" height="61.6" fill="url(#bandg)" opacity="0.04"/>
<rect x="632.0" y="926.2" width="33.0" height="61.6" fill="url(#bandg)" opacity="0.21"/>
<rect x="665.0" y="926.2" width="80.0" height="61.6" fill="url(#bandg)" opacity="0.16"/>
<rect x="745.0" y="926.2" width="7.0" height="61.6" fill="url(#bandg)" opacity="0.04"/>
<rect x="752.0" y="926.2" width="13.0" height="61.6" fill="url(#bandg)" opacity="0.18"/>
<rect x="765.0" y="926.2" width="35.0" height="61.6" fill="url(#bandg)" opacity="0.08"/>
<rect x="800.0" y="926.2" width="42.0" height="61.6" fill="url(#bandg)" opacity="0.20"/>
<rect x="842.0" y="926.2" width="10.0" height="61.6" fill="url(#bandg)" opacity="0.11"/>
<rect x="867.0" y="926.2" width="7.0" height="61.6" fill="url(#bandg)" opacity="0.18"/>
<rect x="953.0" y="926.2" width="57.0" height="61.6" fill="url(#bandg)" opacity="0.19"/>
<rect x="604.1" y="928.3" width="1.8" height="62.0" fill="url(#bandg)" opacity="1.00"/>
<rect x="605.7" y="935.9" width="1.8" height="44.9" fill="url(#bandg)" opacity="0.70"/>
<rect x="607.3" y="933.1" width="1.8" height="47.0" fill="url(#bandg)" opacity="0.46"/>
<rect x="608.9" y="931.4" width="1.8" height="51.4" fill="url(#bandg)" opacity="0.33"/>
<rect x="610.5" y="935.2" width="1.8" height="50.0" fill="url(#bandg)" opacity="0.78"/>
<rect x="612.1" y="930.3" width="1.8" height="55.9" fill="url(#bandg)" opacity="0.84"/>
<rect x="613.7" y="925.7" width="1.8" height="59.0" fill="url(#bandg)" opacity="1.00"/>
<rect x="615.3" y="937.0" width="1.8" height="43.9" fill="url(#bandg)" opacity="0.90"/>
<rect x="616.9" y="926.7" width="1.8" height="55.2" fill="url(#bandg)" opacity="0.74"/>
<rect x="618.5" y="933.3" width="1.8" height="49.2" fill="url(#bandg)" opacity="0.45"/>
<rect x="620.1" y="935.2" width="1.8" height="44.6" fill="url(#bandg)" opacity="1.00"/>
<rect x="621.7" y="927.1" width="1.8" height="60.4" fill="url(#bandg)" opacity="0.56"/>
<rect x="623.3" y="931.6" width="1.8" height="48.5" fill="url(#bandg)" opacity="0.61"/>
<rect x="624.9" y="938.1" width="1.8" height="44.4" fill="url(#bandg)" opacity="0.81"/>
<rect x="626.5" y="926.9" width="1.8" height="60.6" fill="url(#bandg)" opacity="0.99"/>
<rect x="628.1" y="927.9" width="1.8" height="63.2" fill="url(#bandg)" opacity="0.22"/>
<rect x="629.7" y="935.0" width="1.8" height="43.3" fill="url(#bandg)" opacity="0.09"/>
<rect x="631.3" y="925.3" width="1.8" height="63.8" fill="url(#bandg)" opacity="0.20"/>
<rect x="632.9" y="933.3" width="1.8" height="54.1" fill="url(#bandg)" opacity="0.96"/>
<rect x="634.5" y="931.5" width="1.8" height="50.4" fill="url(#bandg)" opacity="0.59"/>
<rect x="636.1" y="932.3" width="1.8" height="52.4" fill="url(#bandg)" opacity="0.09"/>
<rect x="637.7" y="939.2" width="1.8" height="44.3" fill="url(#bandg)" opacity="1.00"/>
<rect x="639.3" y="930.5" width="1.8" height="54.2" fill="url(#bandg)" opacity="0.75"/>
<rect x="640.9" y="929.6" width="1.8" height="52.0" fill="url(#bandg)" opacity="0.66"/>
<rect x="642.5" y="929.3" width="1.8" height="60.2" fill="url(#bandg)" opacity="0.59"/>
<rect x="644.1" y="924.8" width="1.8" height="60.6" fill="url(#bandg)" opacity="0.65"/>
<rect x="645.7" y="929.8" width="1.8" height="48.6" fill="url(#bandg)" opacity="0.84"/>
<rect x="647.3" y="928.6" width="1.8" height="60.5" fill="url(#bandg)" opacity="0.77"/>
<rect x="648.9" y="928.7" width="1.8" height="49.4" fill="url(#bandg)" opacity="0.34"/>
<rect x="650.5" y="933.7" width="1.8" height="43.8" fill="url(#bandg)" opacity="0.50"/>
<rect x="652.1" y="931.3" width="1.8" height="47.3" fill="url(#bandg)" opacity="0.78"/>
<rect x="653.7" y="935.1" width="1.8" height="42.1" fill="url(#bandg)" opacity="0.69"/>
<rect x="655.3" y="935.3" width="1.8" height="45.2" fill="url(#bandg)" opacity="0.62"/>
<rect x="656.9" y="930.0" width="1.8" height="52.1" fill="url(#bandg)" opacity="0.87"/>
<rect x="658.5" y="925.1" width="1.8" height="57.7" fill="url(#bandg)" opacity="0.66"/>
<rect x="660.1" y="930.5" width="1.8" height="53.8" fill="url(#bandg)" opacity="0.76"/>
<rect x="661.7" y="937.9" width="1.8" height="43.9" fill="url(#bandg)" opacity="0.55"/>
<rect x="663.3" y="925.7" width="1.8" height="57.1" fill="url(#bandg)" opacity="0.73"/>
<rect x="664.9" y="931.4" width="1.8" height="49.2" fill="url(#bandg)" opacity="0.81"/>
<rect x="666.5" y="933.0" width="1.8" height="50.7" fill="url(#bandg)" opacity="0.81"/>
<rect x="668.1" y="929.2" width="1.8" height="52.7" fill="url(#bandg)" opacity="0.50"/>
<rect x="669.7" y="933.1" width="1.8" height="46.9" fill="url(#bandg)" opacity="0.40"/>
<rect x="671.3" y="932.1" width="1.8" height="53.3" fill="url(#bandg)" opacity="0.39"/>
<rect x="672.9" y="932.5" width="1.8" height="51.9" fill="url(#bandg)" opacity="0.27"/>
<rect x="674.5" y="926.6" width="1.8" height="61.1" fill="url(#bandg)" opacity="0.75"/>
<rect x="676.1" y="932.7" width="1.8" height="60.1" fill="url(#bandg)" opacity="0.13"/>
<rect x="677.7" y="934.8" width="1.8" height="45.3" fill="url(#bandg)" opacity="0.40"/>
<rect x="679.3" y="927.6" width="1.8" height="57.2" fill="url(#bandg)" opacity="0.69"/>
<rect x="680.9" y="925.1" width="1.8" height="62.5" fill="url(#bandg)" opacity="0.08"/>
<rect x="682.5" y="932.9" width="1.8" height="46.1" fill="url(#bandg)" opacity="0.82"/>
<rect x="684.1" y="934.2" width="1.8" height="45.1" fill="url(#bandg)" opacity="0.15"/>
<rect x="685.7" y="925.1" width="1.8" height="59.3" fill="url(#bandg)" opacity="0.67"/>
<rect x="687.3" y="928.9" width="1.8" height="55.2" fill="url(#bandg)" opacity="0.74"/>
<rect x="688.9" y="934.6" width="1.8" height="46.6" fill="url(#bandg)" opacity="0.24"/>
<rect x="690.5" y="925.2" width="1.8" height="55.9" fill="url(#bandg)" opacity="0.50"/>
<rect x="692.1" y="927.9" width="1.8" height="56.6" fill="url(#bandg)" opacity="0.51"/>
<rect x="693.7" y="936.8" width="1.8" height="49.0" fill="url(#bandg)" opacity="0.69"/>
<rect x="695.3" y="928.0" width="1.8" height="50.5" fill="url(#bandg)" opacity="0.82"/>
<rect x="696.9" y="933.0" width="1.8" height="42.9" fill="url(#bandg)" opacity="0.71"/>
<rect x="698.5" y="935.6" width="1.8" height="46.7" fill="url(#bandg)" opacity="0.70"/>
<rect x="700.1" y="929.1" width="1.8" height="49.1" fill="url(#bandg)" opacity="0.10"/>
<rect x="701.7" y="934.9" width="1.8" height="47.5" fill="url(#bandg)" opacity="0.61"/>
<rect x="703.3" y="932.7" width="1.8" height="52.0" fill="url(#bandg)" opacity="0.43"/>
<rect x="704.9" y="933.3" width="1.8" height="54.0" fill="url(#bandg)" opacity="0.60"/>
<rect x="706.5" y="934.1" width="1.8" height="55.6" fill="url(#bandg)" opacity="0.63"/>
<rect x="708.1" y="932.5" width="1.8" height="43.4" fill="url(#bandg)" opacity="0.65"/>
<rect x="709.7" y="932.2" width="1.8" height="50.6" fill="url(#bandg)" opacity="0.75"/>
<rect x="711.3" y="927.9" width="1.8" height="58.6" fill="url(#bandg)" opacity="0.48"/>
<rect x="712.9" y="934.3" width="1.8" height="48.1" fill="url(#bandg)" opacity="0.67"/>
<rect x="714.5" y="932.6" width="1.8" height="53.5" fill="url(#bandg)" opacity="0.21"/>
<rect x="716.1" y="934.1" width="1.8" height="43.5" fill="url(#bandg)" opacity="0.58"/>
<rect x="717.7" y="929.2" width="1.8" height="55.9" fill="url(#bandg)" opacity="0.64"/>
<rect x="719.3" y="930.6" width="1.8" height="53.9" fill="url(#bandg)" opacity="0.70"/>
<rect x="720.9" y="934.6" width="1.8" height="48.4" fill="url(#bandg)" opacity="0.82"/>
<rect x="722.5" y="925.7" width="1.8" height="59.7" fill="url(#bandg)" opacity="0.55"/>
<rect x="724.1" y="934.5" width="1.8" height="54.8" fill="url(#bandg)" opacity="0.16"/>
<rect x="725.7" y="931.1" width="1.8" height="57.4" fill="url(#bandg)" opacity="0.78"/>
<rect x="727.3" y="924.2" width="1.8" height="63.7" fill="url(#bandg)" opacity="0.26"/>
<rect x="728.9" y="938.2" width="1.8" height="43.8" fill="url(#bandg)" opacity="0.26"/>
<rect x="730.5" y="930.7" width="1.8" height="56.2" fill="url(#bandg)" opacity="0.68"/>
<rect x="732.1" y="932.5" width="1.8" height="54.8" fill="url(#bandg)" opacity="0.56"/>
<rect x="733.7" y="927.6" width="1.8" height="58.5" fill="url(#bandg)" opacity="0.76"/>
<rect x="735.3" y="927.4" width="1.8" height="60.4" fill="url(#bandg)" opacity="0.14"/>
<rect x="736.9" y="935.7" width="1.8" height="45.2" fill="url(#bandg)" opacity="0.21"/>
<rect x="738.5" y="927.1" width="1.8" height="60.1" fill="url(#bandg)" opacity="0.16"/>
<rect x="740.1" y="926.3" width="1.8" height="56.3" fill="url(#bandg)" opacity="0.59"/>
<rect x="741.7" y="930.0" width="1.8" height="49.9" fill="url(#bandg)" opacity="0.29"/>
<rect x="743.3" y="925.2" width="1.8" height="61.1" fill="url(#bandg)" opacity="0.78"/>
<rect x="744.9" y="925.6" width="1.8" height="57.0" fill="url(#bandg)" opacity="0.23"/>
<rect x="746.5" y="924.6" width="1.8" height="59.8" fill="url(#bandg)" opacity="0.10"/>
<rect x="748.1" y="932.2" width="1.8" height="55.1" fill="url(#bandg)" opacity="0.08"/>
<rect x="749.7" y="926.5" width="1.8" height="60.1" fill="url(#bandg)" opacity="0.14"/>
<rect x="751.3" y="932.6" width="1.8" height="55.3" fill="url(#bandg)" opacity="0.16"/>
<rect x="752.9" y="927.8" width="1.8" height="55.4" fill="url(#bandg)" opacity="0.83"/>
<rect x="754.5" y="926.2" width="1.8" height="63.3" fill="url(#bandg)" opacity="0.82"/>
<rect x="756.1" y="933.2" width="1.8" height="46.6" fill="url(#bandg)" opacity="0.62"/>
<rect x="757.7" y="928.6" width="1.8" height="59.2" fill="url(#bandg)" opacity="0.61"/>
<rect x="759.3" y="931.7" width="1.8" height="52.3" fill="url(#bandg)" opacity="0.52"/>
<rect x="760.9" y="935.8" width="1.8" height="47.5" fill="url(#bandg)" opacity="0.34"/>
<rect x="762.5" y="928.4" width="1.8" height="58.5" fill="url(#bandg)" opacity="0.91"/>
<rect x="764.1" y="929.0" width="1.8" height="56.3" fill="url(#bandg)" opacity="0.33"/>
<rect x="765.7" y="930.9" width="1.8" height="47.9" fill="url(#bandg)" opacity="0.10"/>
<rect x="767.3" y="926.8" width="1.8" height="59.5" fill="url(#bandg)" opacity="0.34"/>
<rect x="768.9" y="927.9" width="1.8" height="59.8" fill="url(#bandg)" opacity="0.25"/>
<rect x="770.5" y="931.7" width="1.8" height="50.4" fill="url(#bandg)" opacity="0.24"/>
<rect x="772.1" y="934.5" width="1.8" height="42.5" fill="url(#bandg)" opacity="0.37"/>
<rect x="773.7" y="930.8" width="1.8" height="57.5" fill="url(#bandg)" opacity="0.37"/>
<rect x="775.3" y="927.2" width="1.8" height="63.6" fill="url(#bandg)" opacity="0.34"/>
<rect x="776.9" y="926.7" width="1.8" height="62.7" fill="url(#bandg)" opacity="0.39"/>
<rect x="778.5" y="926.7" width="1.8" height="63.3" fill="url(#bandg)" opacity="0.28"/>
<rect x="780.1" y="930.9" width="1.8" height="55.9" fill="url(#bandg)" opacity="0.31"/>
<rect x="781.7" y="930.8" width="1.8" height="51.0" fill="url(#bandg)" opacity="0.34"/>
<rect x="783.3" y="935.0" width="1.8" height="42.2" fill="url(#bandg)" opacity="0.22"/>
<rect x="784.9" y="933.5" width="1.8" height="49.9" fill="url(#bandg)" opacity="0.11"/>
<rect x="786.5" y="929.5" width="1.8" height="56.9" fill="url(#bandg)" opacity="0.38"/>
<rect x="788.1" y="932.1" width="1.8" height="47.1" fill="url(#bandg)" opacity="0.13"/>
<rect x="789.7" y="926.1" width="1.8" height="61.8" fill="url(#bandg)" opacity="0.40"/>
<rect x="791.3" y="934.0" width="1.8" height="47.7" fill="url(#bandg)" opacity="0.30"/>
<rect x="792.9" y="934.0" width="1.8" height="57.4" fill="url(#bandg)" opacity="0.38"/>
<rect x="794.5" y="927.0" width="1.8" height="58.7" fill="url(#bandg)" opacity="0.14"/>
<rect x="796.1" y="926.6" width="1.8" height="54.2" fill="url(#bandg)" opacity="0.33"/>
<rect x="797.7" y="930.4" width="1.8" height="49.1" fill="url(#bandg)" opacity="0.10"/>
<rect x="799.3" y="936.1" width="1.8" height="43.4" fill="url(#bandg)" opacity="0.35"/>
<rect x="800.9" y="932.7" width="1.8" height="50.0" fill="url(#bandg)" opacity="0.64"/>
<rect x="802.5" y="929.3" width="1.8" height="49.5" fill="url(#bandg)" opacity="0.32"/>
<rect x="804.1" y="927.6" width="1.8" height="55.9" fill="url(#bandg)" opacity="0.65"/>
<rect x="805.7" y="925.9" width="1.8" height="62.2" fill="url(#bandg)" opacity="0.94"/>
<rect x="807.3" y="925.6" width="1.8" height="59.6" fill="url(#bandg)" opacity="0.69"/>
<rect x="808.9" y="924.0" width="1.8" height="60.5" fill="url(#bandg)" opacity="0.86"/>
<rect x="810.5" y="927.1" width="1.8" height="58.3" fill="url(#bandg)" opacity="0.24"/>
<rect x="812.1" y="931.6" width="1.8" height="51.8" fill="url(#bandg)" opacity="0.98"/>
<rect x="813.7" y="939.7" width="1.8" height="42.8" fill="url(#bandg)" opacity="0.81"/>
<rect x="815.3" y="937.4" width="1.8" height="44.5" fill="url(#bandg)" opacity="0.96"/>
<rect x="816.9" y="933.0" width="1.8" height="47.7" fill="url(#bandg)" opacity="0.88"/>
<rect x="818.5" y="925.9" width="1.8" height="55.7" fill="url(#bandg)" opacity="0.71"/>
<rect x="820.1" y="933.1" width="1.8" height="50.7" fill="url(#bandg)" opacity="0.33"/>
<rect x="821.7" y="926.1" width="1.8" height="63.6" fill="url(#bandg)" opacity="0.14"/>
<rect x="823.3" y="932.4" width="1.8" height="47.4" fill="url(#bandg)" opacity="0.93"/>
<rect x="824.9" y="934.8" width="1.8" height="46.5" fill="url(#bandg)" opacity="0.79"/>
<rect x="826.5" y="936.2" width="1.8" height="42.9" fill="url(#bandg)" opacity="0.42"/>
<rect x="828.1" y="929.9" width="1.8" height="58.1" fill="url(#bandg)" opacity="0.72"/>
<rect x="829.7" y="931.4" width="1.8" height="51.2" fill="url(#bandg)" opacity="0.17"/>
<rect x="831.3" y="932.5" width="1.8" height="56.1" fill="url(#bandg)" opacity="0.55"/>
<rect x="832.9" y="936.4" width="1.8" height="45.0" fill="url(#bandg)" opacity="0.49"/>
<rect x="834.5" y="935.1" width="1.8" height="43.9" fill="url(#bandg)" opacity="0.31"/>
<rect x="836.1" y="931.2" width="1.8" height="53.8" fill="url(#bandg)" opacity="0.30"/>
<rect x="837.7" y="927.5" width="1.8" height="60.2" fill="url(#bandg)" opacity="0.69"/>
<rect x="839.3" y="930.5" width="1.8" height="53.3" fill="url(#bandg)" opacity="0.16"/>
<rect x="840.9" y="934.6" width="1.8" height="42.0" fill="url(#bandg)" opacity="0.78"/>
<rect x="842.5" y="928.6" width="1.8" height="58.9" fill="url(#bandg)" opacity="0.08"/>
<rect x="844.1" y="930.5" width="1.8" height="56.9" fill="url(#bandg)" opacity="0.56"/>
<rect x="845.7" y="931.7" width="1.8" height="44.0" fill="url(#bandg)" opacity="0.51"/>
<rect x="847.3" y="926.0" width="1.8" height="57.7" fill="url(#bandg)" opacity="0.50"/>
<rect x="848.9" y="932.2" width="1.8" height="59.6" fill="url(#bandg)" opacity="0.43"/>
<rect x="850.5" y="929.7" width="1.8" height="62.3" fill="url(#bandg)" opacity="0.25"/>
<rect x="868.1" y="929.6" width="1.8" height="57.5" fill="url(#bandg)" opacity="0.54"/>
<rect x="869.7" y="933.5" width="1.8" height="44.1" fill="url(#bandg)" opacity="0.86"/>
<rect x="871.3" y="934.9" width="1.8" height="44.0" fill="url(#bandg)" opacity="0.56"/>
<rect x="872.9" y="932.3" width="1.8" height="48.0" fill="url(#bandg)" opacity="0.13"/>
<rect x="954.5" y="936.2" width="1.8" height="42.7" fill="url(#bandg)" opacity="0.86"/>
<rect x="956.1" y="930.9" width="1.8" height="58.3" fill="url(#bandg)" opacity="0.86"/>
<rect x="957.7" y="935.4" width="1.8" height="45.7" fill="url(#bandg)" opacity="0.94"/>
<rect x="959.3" y="929.6" width="1.8" height="59.5" fill="url(#bandg)" opacity="0.53"/>
<rect x="960.9" y="928.7" width="1.8" height="63.8" fill="url(#bandg)" opacity="0.82"/>
<rect x="962.5" y="936.6" width="1.8" height="42.5" fill="url(#bandg)" opacity="0.36"/>
<rect x="964.1" y="934.3" width="1.8" height="50.0" fill="url(#bandg)" opacity="0.43"/>
<rect x="965.7" y="926.5" width="1.8" height="55.0" fill="url(#bandg)" opacity="0.62"/>
<rect x="967.3" y="926.4" width="1.8" height="59.1" fill="url(#bandg)" opacity="0.39"/>
<rect x="968.9" y="931.9" width="1.8" height="54.1" fill="url(#bandg)" opacity="0.86"/>
<rect x="970.5" y="927.0" width="1.8" height="62.1" fill="url(#bandg)" opacity="0.75"/>
<rect x="972.1" y="929.3" width="1.8" height="61.2" fill="url(#bandg)" opacity="0.53"/>
<rect x="973.7" y="935.1" width="1.8" height="42.4" fill="url(#bandg)" opacity="0.52"/>
<rect x="975.3" y="925.1" width="1.8" height="61.8" fill="url(#bandg)" opacity="0.70"/>
<rect x="976.9" y="926.7" width="1.8" height="58.9" fill="url(#bandg)" opacity="0.07"/>
<rect x="978.5" y="932.3" width="1.8" height="47.0" fill="url(#bandg)" opacity="0.84"/>
<rect x="980.1" y="932.0" width="1.8" height="49.1" fill="url(#bandg)" opacity="0.67"/>
<rect x="981.7" y="927.9" width="1.8" height="49.4" fill="url(#bandg)" opacity="0.78"/>
<rect x="983.3" y="931.1" width="1.8" height="48.1" fill="url(#bandg)" opacity="0.35"/>
<rect x="984.9" y="928.1" width="1.8" height="60.4" fill="url(#bandg)" opacity="0.51"/>
<rect x="986.5" y="933.3" width="1.8" height="53.3" fill="url(#bandg)" opacity="0.60"/>
<rect x="988.1" y="926.2" width="1.8" height="55.8" fill="url(#bandg)" opacity="0.72"/>
<rect x="989.7" y="927.0" width="1.8" height="64.1" fill="url(#bandg)" opacity="0.72"/>
<rect x="991.3" y="934.3" width="1.8" height="44.8" fill="url(#bandg)" opacity="0.08"/>
<rect x="992.9" y="931.9" width="1.8" height="48.7" fill="url(#bandg)" opacity="0.81"/>
<rect x="994.5" y="934.4" width="1.8" height="51.7" fill="url(#bandg)" opacity="0.15"/>
<rect x="996.1" y="929.6" width="1.8" height="54.8" fill="url(#bandg)" opacity="0.57"/>
<rect x="997.7" y="930.7" width="1.8" height="50.5" fill="url(#bandg)" opacity="0.86"/>
<rect x="999.3" y="928.1" width="1.8" height="51.4" fill="url(#bandg)" opacity="0.78"/>
<rect x="1000.9" y="934.7" width="1.8" height="44.6" fill="url(#bandg)" opacity="0.51"/>
<rect x="1002.5" y="927.0" width="1.8" height="57.8" fill="url(#bandg)" opacity="0.11"/>
<rect x="1004.1" y="928.7" width="1.8" height="63.3" fill="url(#bandg)" opacity="0.15"/>
<rect x="1005.7" y="935.6" width="1.8" height="42.5" fill="url(#bandg)" opacity="0.86"/>
<rect x="1007.3" y="934.0" width="1.8" height="42.5" fill="url(#bandg)" opacity="0.47"/>
<rect x="1008.9" y="931.3" width="1.8" height="47.2" fill="url(#bandg)" opacity="0.54"/>
</g>
<rect x="602.5" y="802.5" width="413.8" height="308.5" fill="none" stroke="#000" stroke-width="1"/>
<path d="M596.8,382.3 H600.8 M598.3,449.6 H600.8 M596.8,516.2 H600.8 M598.3,582.6 H600.8 M596.8,648.4 H600.8 M603.0,675.4 V679.4 M671.4,675.4 V677.9 M739.8,675.4 V679.4 M808.4,675.4 V677.9 M877.0,675.4 V679.4 M946.2,675.4 V677.9 M1015.3,675.4 V679.4" stroke="#000" stroke-width="1.1" fill="none"/>
<text x="589.8" y="391.5" font-size="26" fill="#000" text-anchor="end">3</text>
<text x="589.8" y="525.4" font-size="26" fill="#000" text-anchor="end">2</text>
<text x="589.8" y="657.6" font-size="26" fill="#000" text-anchor="end">1</text>
<text x="603" y="700" font-size="26" fill="#000" text-anchor="middle">0</text>
<text x="739.8" y="700" font-size="26" fill="#000" text-anchor="middle">100</text>
<text x="877" y="700" font-size="26" fill="#000" text-anchor="middle">200</text>
<text x="1015.3" y="700" font-size="26" fill="#000" text-anchor="middle">300</text>
<text x="815" y="720.6" font-size="26" fill="#000" text-anchor="middle">Time (s)</text>
<text x="0" y="0" font-size="26" text-anchor="middle" transform="translate(571.8,513.0) rotate(-90)">Position (µm)</text>
<path d="M598.5,849.8 H602.5 M600.0,908.5 H602.5 M598.5,967.2 H602.5 M600.0,1024.7 H602.5 M598.5,1084.6 H602.5 M603.6,1111.0 V1115.0 M672.3,1111.0 V1113.5 M741.0,1111.0 V1115.0 M810.1,1111.0 V1113.5 M879.2,1111.0 V1115.0 M947.7,1111.0 V1113.5 M1016.3,1111.0 V1115.0" stroke="#000" stroke-width="1.1" fill="none"/>
<text x="591.5" y="859" font-size="26" fill="#000" text-anchor="end">3</text>
<text x="591.5" y="976.4" font-size="26" fill="#000" text-anchor="end">2</text>
<text x="591.5" y="1093.8" font-size="26" fill="#000" text-anchor="end">1</text>
<text x="603.6" y="1139.5" font-size="26" fill="#000" text-anchor="middle">0</text>
<text x="741" y="1139.5" font-size="26" fill="#000" text-anchor="middle">100</text>
<text x="879.2" y="1139.5" font-size="26" fill="#000" text-anchor="middle">200</text>
<text x="1011.3" y="1139.5" font-size="26" fill="#000" text-anchor="middle">300</text>
<text x="817.5" y="1160.3" font-size="26" fill="#000" text-anchor="middle">Time (s)</text>
<text x="0" y="0" font-size="26" text-anchor="middle" transform="translate(568.0,954.0) rotate(-90)">Position (µm)</text>
<rect x="601.2" y="363.5" width="1.8" height="311.5" fill="#e6e6e6"/>
<path d="M501.4,513.4 h15.6 v-10.0 l17,19.6 l-17,19.6 v-10.0 h-15.6 z" fill="#000"/>
<path d="M509,948.8 h15.6 v-10.1 l17,19.9 l-17,19.9 v-10.1 h-15.6 z" fill="#000"/>
<text x="808.6" y="341.5" font-size="32.8" fill="#000" text-anchor="middle">WT PARP1</text>
<text x="14.5" y="318.8" font-size="40.5" fill="#000">b</text>
<text x="10" y="736.2" font-size="43" fill="#000">c</text>
<text x="59" y="370.5" font-size="32.4" fill="#000">Low tension (4 pN)</text>
<text x="59.8" y="770" font-size="32.4" fill="#000">High tension (10 pN)</text>
<rect x="5.3" y="388.2" width="35.5" height="30" fill="#fafa7a"/>
<text x="47.8" y="412.2" font-size="22.5" fill="#000">H2A</text>
<rect x="5.3" y="424" width="35.5" height="30" fill="#f5b5d5"/>
<text x="47.8" y="448" font-size="22.5" fill="#000">H2B</text>
<rect x="5.3" y="460" width="35.5" height="30" fill="#8c8cff"/>
<text x="47.8" y="484" font-size="22.5" fill="#000">H3</text>
<rect x="5.3" y="496" width="35.5" height="30" fill="#d2fac4"/>
<text x="47.8" y="520" font-size="22.5" fill="#000">H4</text>
<rect x="8.2" y="785.4" width="35.5" height="29.5" fill="#fafa7a"/>
<text x="50.3" y="809.4" font-size="22.5" fill="#000">H2A</text>
<rect x="8.2" y="820.8" width="35.5" height="29.5" fill="#f5b5d5"/>
<text x="50.3" y="844.8" font-size="22.5" fill="#000">H2B</text>
<rect x="8.2" y="856.7" width="35.5" height="29.5" fill="#8c8cff"/>
<text x="50.3" y="880.7" font-size="22.5" fill="#000">H3</text>
<rect x="8.2" y="892.6" width="35.5" height="29.5" fill="#d2fac4"/>
<text x="50.3" y="916.6" font-size="22.5" fill="#000">H4</text>
<circle cx="397" cy="515" r="64" fill="url(#glow2)"/>
<path d="M417.0,371.0 L415.6,372.4 L414.5,373.8 L413.7,375.2 L413.3,376.6 L413.2,378.0 L413.7,379.4 L414.5,380.8 L415.6,382.2 L417.0,383.6 L418.6,385.0 L420.2,386.4 L421.8,387.8 L423.2,389.2 L424.4,390.6 L425.2,392.0 L425.7,393.4 L425.8,394.8 L425.4,396.2 L424.7,397.6 L423.6,399.0 L422.2,400.5 L420.6,401.9 L419.0,403.3 L417.4,404.7 L416.0,406.1 L414.7,407.5 L413.8,408.9 L413.3,410.3 L413.2,411.7 L413.5,413.1 L414.2,414.5 L415.3,415.9 L416.6,417.3 L418.2,418.7 L419.8,420.1 L421.4,421.5 L422.9,422.9 L424.1,424.3 L425.1,425.7 L425.6,427.1 L425.8,428.5 L425.5,429.9 L424.9,431.3 L423.9,432.7 L422.5,434.1 L421.0,435.5 L419.4,436.9 L417.8,438.3 L416.3,439.7 L415.0,441.1 L414.0,442.5 L413.4,443.9 L413.2,445.3 L413.4,446.7 L414.0,448.1 L415.0,449.5 L416.3,450.9 L417.8,452.3 L419.4,453.7 L421.0,455.1 L422.5,456.5 L423.8,458.0 L424.9,459.4 L425.5,460.8 L425.8,462.2 L425.6,463.6 L425.1,465.0 L424.1,466.4 L422.9,467.8 L421.4,469.2 L419.8,470.6 L418.2,472.0 L416.6,473.4 L415.3,474.8 L414.2,476.2 L413.5,477.6 L413.2,479.0 L413.3,480.4 L413.8,481.8 L414.7,483.2 L416.0,484.6 L417.4,486.0 M420.0,371.0 L421.6,372.4 L423.1,373.8 L424.3,375.2 L425.2,376.6 L425.7,378.0 L425.8,379.4 L425.5,380.8 L424.7,382.2 L423.7,383.6 L422.3,385.0 L420.8,386.4 L419.2,387.8 L417.6,389.2 L416.1,390.6 L414.8,392.0 L413.9,393.4 L413.4,394.8 L413.2,396.2 L413.5,397.6 L414.2,399.0 L415.2,400.5 L416.5,401.9 L418.0,403.3 L419.6,404.7 L421.3,406.1 L422.7,407.5 L424.0,408.9 L425.0,410.3 L425.6,411.7 L425.8,413.1 L425.6,414.5 L425.0,415.9 L424.0,417.3 L422.7,418.7 L421.2,420.1 L419.6,421.5 L417.9,422.9 L416.4,424.3 L415.1,425.7 L414.1,427.1 L413.5,428.5 L413.2,429.9 L413.4,431.3 L414.0,432.7 L414.9,434.1 L416.2,435.5 L417.6,436.9 L419.2,438.3 L420.9,439.7 L422.4,441.1 L423.7,442.5 L424.8,443.9 L425.5,445.3 L425.8,446.7 L425.7,448.1 L425.1,449.5 L424.2,450.9 L423.0,452.3 L421.5,453.7 L420.0,455.1 L418.3,456.5 L416.8,458.0 L415.4,459.4 L414.3,460.8 L413.6,462.2 L413.2,463.6 L413.3,465.0 L413.8,466.4 L414.6,467.8 L415.8,469.2 L417.3,470.6 L418.8,472.0 L420.5,473.4 L422.0,474.8 L423.4,476.2 L424.6,477.6 L425.4,479.0 L425.8,480.4 L425.7,481.8 L425.3,483.2 L424.5,484.6 L423.3,486.0" fill="none" stroke="#1e1e1e" stroke-width="1.6" stroke-linejoin="round"/><path d="M415.6,372.4 L421.6,372.4 M413.7,375.2 L424.3,375.2 M413.2,378.0 L425.7,378.0 M414.5,380.8 L425.5,380.8 M417.0,383.6 L423.7,383.6 M423.2,389.2 L417.6,389.2 M424.4,390.6 L416.1,390.6 M425.7,393.4 L413.9,393.4 M425.4,396.2 L413.2,396.2 M423.6,399.0 L414.2,399.0 M420.6,401.9 L416.5,401.9 M417.4,404.7 L419.6,404.7 M414.7,407.5 L422.7,407.5 M413.8,408.9 L424.0,408.9 M413.2,411.7 L425.6,411.7 M414.2,414.5 L425.6,414.5 M416.6,417.3 L424.0,417.3 M422.9,422.9 L417.9,422.9 M425.1,425.7 L415.1,425.7 M425.6,427.1 L414.1,427.1 M425.5,429.9 L413.2,429.9 M423.9,432.7 L414.0,432.7 M421.0,435.5 L416.2,435.5 M415.0,441.1 L422.4,441.1 M414.0,442.5 L423.7,442.5 M413.2,445.3 L425.5,445.3 M414.0,448.1 L425.7,448.1 M416.3,450.9 L424.2,450.9 M422.5,456.5 L418.3,456.5 M424.9,459.4 L415.4,459.4 M425.5,460.8 L414.3,460.8 M425.6,463.6 L413.2,463.6 M424.1,466.4 L413.8,466.4 M421.4,469.2 L415.8,469.2 M415.3,474.8 L422.0,474.8 M413.5,477.6 L424.6,477.6 M413.2,479.0 L425.4,479.0 M413.8,481.8 L425.7,481.8 M416.0,484.6 L424.5,484.6" fill="none" stroke="#1e1e1e" stroke-width="0.8"/>
<path d="M415.5,556.0 L414.1,557.4 L413.0,558.8 L412.2,560.2 L411.7,561.7 L411.8,563.1 L412.2,564.5 L413.0,565.9 L414.2,567.3 L415.6,568.7 L417.2,570.1 L418.8,571.6 L420.4,573.0 L421.8,574.4 L423.0,575.8 L423.8,577.2 L424.2,578.6 L424.2,580.0 L423.8,581.5 L423.0,582.9 L421.8,584.3 L420.4,585.7 L418.8,587.1 L417.2,588.5 L415.6,590.0 L414.2,591.4 L413.0,592.8 L412.2,594.2 L411.8,595.6 L411.8,597.0 L412.2,598.4 L413.0,599.9 L414.1,601.3 L415.6,602.7 L417.1,604.1 L418.8,605.5 L420.4,606.9 L421.8,608.3 L423.0,609.8 L423.8,611.2 L424.2,612.6 L424.3,614.0 L423.8,615.4 L423.0,616.8 L421.9,618.2 L420.5,619.7 L418.9,621.1 L417.2,622.5 L415.7,623.9 L414.2,625.3 L413.0,626.7 L412.2,628.1 L411.8,629.6 L411.7,631.0 L412.1,632.4 L413.0,633.8 L414.1,635.2 L415.5,636.6 L417.1,638.0 L418.7,639.5 L420.3,640.9 L421.8,642.3 L422.9,643.7 L423.8,645.1 L424.2,646.5 L424.3,648.0 L423.9,649.4 L423.1,650.8 L421.9,652.2 L420.5,653.6 L418.9,655.0 L417.3,656.4 L415.7,657.9 L414.3,659.3 L413.1,660.7 L412.2,662.1 L411.8,663.5 L411.7,664.9 L412.1,666.3 L412.9,667.8 L414.1,669.2 L415.5,670.6 L417.0,672.0 M418.5,556.0 L420.1,557.4 L421.6,558.8 L422.8,560.2 L423.7,561.7 L424.2,563.1 L424.3,564.5 L423.9,565.9 L423.2,567.3 L422.1,568.7 L420.7,570.1 L419.1,571.6 L417.5,573.0 L415.9,574.4 L414.4,575.8 L413.2,577.2 L412.3,578.6 L411.8,580.0 L411.7,581.5 L412.1,582.9 L412.8,584.3 L413.9,585.7 L415.3,587.1 L416.8,588.5 L418.5,590.0 L420.1,591.4 L421.6,592.8 L422.8,594.2 L423.7,595.6 L424.2,597.0 L424.3,598.4 L423.9,599.9 L423.2,601.3 L422.1,602.7 L420.7,604.1 L419.2,605.5 L417.5,606.9 L415.9,608.3 L414.5,609.8 L413.2,611.2 L412.3,612.6 L411.8,614.0 L411.7,615.4 L412.0,616.8 L412.8,618.2 L413.9,619.7 L415.2,621.1 L416.8,622.5 L418.4,623.9 L420.0,625.3 L421.5,626.7 L422.7,628.1 L423.7,629.6 L424.2,631.0 L424.3,632.4 L424.0,633.8 L423.2,635.2 L422.2,636.6 L420.8,638.0 L419.2,639.5 L417.6,640.9 L416.0,642.3 L414.5,643.7 L413.3,645.1 L412.4,646.5 L411.8,648.0 L411.7,649.4 L412.0,650.8 L412.7,652.2 L413.8,653.6 L415.2,655.0 L416.7,656.4 L418.4,657.9 L420.0,659.3 L421.5,660.7 L422.7,662.1 L423.6,663.5 L424.2,664.9 L424.3,666.3 L424.0,667.8 L423.3,669.2 L422.2,670.6 L420.8,672.0" fill="none" stroke="#1e1e1e" stroke-width="1.6" stroke-linejoin="round"/><path d="M414.1,557.4 L420.1,557.4 M412.2,560.2 L422.8,560.2 M411.8,563.1 L424.2,563.1 M413.0,565.9 L423.9,565.9 M415.6,568.7 L422.1,568.7 M420.4,573.0 L417.5,573.0 M423.0,575.8 L414.4,575.8 M424.2,578.6 L412.3,578.6 M423.8,581.5 L411.7,581.5 M421.8,584.3 L412.8,584.3 M418.8,587.1 L415.3,587.1 M414.2,591.4 L420.1,591.4 M412.2,594.2 L422.8,594.2 M411.8,597.0 L424.2,597.0 M413.0,599.9 L423.9,599.9 M415.6,602.7 L422.1,602.7 M420.4,606.9 L417.5,606.9 M423.0,609.8 L414.5,609.8 M424.2,612.6 L412.3,612.6 M423.8,615.4 L411.7,615.4 M421.9,618.2 L412.8,618.2 M418.9,621.1 L415.2,621.1 M414.2,625.3 L420.0,625.3 M412.2,628.1 L422.7,628.1 M411.7,631.0 L424.2,631.0 M413.0,633.8 L424.0,633.8 M415.5,636.6 L422.2,636.6 M417.1,638.0 L420.8,638.0 M420.3,640.9 L417.6,640.9 M422.9,643.7 L414.5,643.7 M424.2,646.5 L412.4,646.5 M423.9,649.4 L411.7,649.4 M421.9,652.2 L412.7,652.2 M420.5,653.6 L413.8,653.6 M414.3,659.3 L420.0,659.3 M412.2,662.1 L422.7,662.1 M411.7,664.9 L424.2,664.9 M412.9,667.8 L424.0,667.8 M414.1,669.2 L423.3,669.2 M417.0,672.0 L420.8,672.0" fill="none" stroke="#1e1e1e" stroke-width="0.8"/>
<circle cx="362" cy="501" r="7" fill="#fff" fill-opacity="0.35" stroke="#1e1e1e" stroke-width="1.5"/>
<path d="M356.1,501.0 L367.9,501.0 M357.2,497.5 L366.8,504.5 M360.2,495.3 L363.8,506.7 M363.8,495.3 L360.2,506.7 M366.8,497.5 L357.2,504.5" stroke="#2a2a2a" stroke-width="0.7"/>
<circle cx="358" cy="528" r="7.5" fill="#fff" fill-opacity="0.35" stroke="#1e1e1e" stroke-width="1.5"/>
<path d="M351.6,528.0 L364.4,528.0 M352.8,524.3 L363.2,531.7 M356.0,521.9 L360.0,534.1 M360.0,521.9 L356.0,534.1 M363.2,524.3 L352.8,531.7" stroke="#2a2a2a" stroke-width="0.7"/>
<circle cx="473" cy="519" r="7.5" fill="#fff" fill-opacity="0.35" stroke="#1e1e1e" stroke-width="1.5"/>
<path d="M466.6,519.0 L479.4,519.0 M467.8,515.3 L478.2,522.7 M471.0,512.9 L475.0,525.1 M475.0,512.9 L471.0,525.1 M478.2,515.3 L467.8,522.7" stroke="#2a2a2a" stroke-width="0.7"/>
<circle cx="466" cy="547" r="7.5" fill="#fff" fill-opacity="0.35" stroke="#1e1e1e" stroke-width="1.5"/>
<path d="M459.6,547.0 L472.4,547.0 M460.8,543.3 L471.2,550.7 M464.0,540.9 L468.0,553.1 M468.0,540.9 L464.0,553.1 M471.2,543.3 L460.8,550.7" stroke="#2a2a2a" stroke-width="0.7"/>
<g transform="translate(421,497) rotate(10)">
<path d="M-48,0 V45 A48,19 0 0 0 48,45 V0 Z" fill="#bcbcbc" stroke="#333" stroke-width="0.8"/>
<path d="M-48,20.2 V45 A48,19 0 0 0 0,64.0 V39.2 A48,19 0 0 1 -48,20.2 Z" fill="#8fc282"/>
<path d="M28.8,15.2 V60.2 A48,19 0 0 0 48,45 V0 A48,19 0 0 1 28.8,15.2 Z" fill="#a9a9a9" opacity="0.7"/>
<ellipse cx="0" cy="0" rx="48" ry="19" fill="#d0d0d0" stroke="#333" stroke-width="0.8"/>
<path d="M-48,0 A48,19 0 0 1 0,-19 V0 Z" fill="#6aaf5c"/>
<path d="M-48,0 H48 M0,-19 V64" stroke="#333" stroke-width="0.8" fill="none"/>
<path d="M-45,6.6 A48,20.9 0 0 0 45,6.6" stroke="#999" stroke-width="1" fill="none"/>
</g>
<path d="M356.0,503.0 L356.5,505.2 L357.1,507.3 L357.8,509.1 L358.6,510.6 L359.7,511.7 L360.9,512.3 L362.4,512.4 L364.1,512.2 L366.0,511.6 L368.1,510.7 L370.0,509.5 L372.0,508.4 L373.8,507.3 L375.6,506.5 L377.3,506.1 L378.8,506.1 L380.1,506.5 L381.3,507.5 L382.3,508.9 L383.1,510.6 L383.9,512.6 L384.6,514.8 L385.4,516.9 L386.1,518.9 L387.0,520.7 L388.0,522.1 L389.2,523.0 L390.5,523.5 L392.0,523.5 L393.6,523.1 L395.4,522.3 L397.3,521.2 L399.2,520.0 L401.2,518.8 L403.0,517.7 L404.3,516.6 L405.9,516.0 L407.3,515.8 L408.7,516.1 L410.0,516.9 L411.2,518.1 L412.2,519.8 L413.3,521.7 L414.3,523.7 L415.3,525.7 L416.3,527.6 L417.4,529.2 L418.6,530.5 L419.8,531.3 L421.2,531.6 L422.7,531.4 L424.3,530.7 L425.9,529.7 L427.7,528.4 L429.4,527.0 L431.2,525.5 L432.9,524.2 L434.6,523.2 L436.1,522.6 L437.6,522.4 L439.0,522.7 L440.3,523.5 L441.4,524.7 L442.0,526.2 L443.3,527.9 L444.6,529.8 L445.9,531.6 L447.2,533.3 L448.5,534.8 L449.9,535.8 L451.3,536.4 L452.7,536.5 L454.1,536.1 L455.6,535.2 L457.1,533.9 L458.6,532.4 L460.1,530.7 L461.6,529.0 L463.1,527.5 L461.6,526.8 L462.3,525.3 L463.2,524.1 L464.3,523.3 L465.8,522.9 L467.5,523.0 L469.4,523.3 L471.5,523.9 L473.7,524.6 L475.8,525.3 L477.9,525.9 M355.2,504.8 L357.2,503.8 L359.2,502.8 L361.2,501.9 L363.1,501.3 L364.8,501.0 L366.3,501.1 L367.6,501.6 L368.7,502.6 L369.5,504.1 L369.9,505.7 L370.7,507.7 L371.4,509.9 L372.2,512.0 L372.9,514.0 L373.8,515.8 L374.8,517.3 L375.9,518.2 L377.2,518.8 L378.7,518.8 L380.3,518.4 L382.1,517.6 L384.0,516.6 L385.9,515.4 L387.8,514.2 L389.7,513.1 L391.5,512.3 L393.2,511.8 L394.7,511.8 L396.0,512.2 L397.2,513.1 L398.2,514.5 L399.1,516.2 L399.9,518.2 L400.6,520.3 L401.3,522.5 L402.6,524.5 L403.6,526.1 L404.8,527.4 L406.1,528.2 L407.4,528.6 L408.9,528.4 L410.5,527.8 L412.1,526.8 L413.9,525.6 L415.6,524.1 L417.4,522.7 L419.1,521.4 L420.8,520.3 L422.4,519.6 L423.9,519.4 L425.2,519.7 L426.5,520.4 L427.7,521.6 L428.8,523.2 L429.8,525.1 L430.8,527.1 L431.8,529.2 L432.9,531.1 L433.9,532.7 L435.1,534.0 L436.4,534.8 L437.7,535.2 L439.2,535.0 L441.5,534.4 L443.0,533.2 L444.5,531.7 L446.0,530.0 L447.6,528.3 L449.1,526.8 L450.6,525.5 L452.0,524.5 L453.5,524.1 L454.9,524.1 L456.3,524.7 L457.6,525.7 L458.9,527.1 L460.2,528.8 L461.5,530.7 L462.8,532.5 L466.1,533.5 L468.0,533.9 L469.8,534.0 L471.2,533.6 L472.4,532.9 L473.4,531.7 L474.0,530.2 L474.4,528.3 L474.7,526.2 L474.9,523.9 L475.1,521.6" fill="none" stroke="#1e1e1e" stroke-width="1.6" stroke-linejoin="round"/><path d="M357.8,509.1 L361.2,501.9 M359.7,511.7 L364.8,501.0 M362.4,512.4 L367.6,501.6 M366.0,511.6 L369.5,504.1 M375.6,506.5 L372.9,514.0 M378.8,506.1 L374.8,517.3 M381.3,507.5 L377.2,518.8 M383.1,510.6 L380.3,518.4 M386.1,518.9 L387.8,514.2 M387.0,520.7 L389.7,513.1 M389.2,523.0 L393.2,511.8 M392.0,523.5 L396.0,512.2 M395.4,522.3 L398.2,514.5 M403.0,517.7 L401.3,522.5 M404.3,516.6 L402.6,524.5 M407.3,515.8 L404.8,527.4 M410.0,516.9 L407.4,528.6 M412.2,519.8 L410.5,527.8 M416.3,527.6 L417.4,522.7 M418.6,530.5 L420.8,520.3 M419.8,531.3 L422.4,519.6 M422.7,531.4 L425.2,519.7 M425.9,529.7 L427.7,521.6 M432.9,524.2 L431.8,529.2 M436.1,522.6 L433.9,532.7 M437.6,522.4 L435.1,534.0 M440.3,523.5 L437.7,535.2 M442.0,526.2 L441.5,534.4 M447.2,533.3 L447.6,528.3 M449.9,535.8 L450.6,525.5 M452.7,536.5 L453.5,524.1 M454.1,536.1 L454.9,524.1 M457.1,533.9 L457.6,525.7 M463.1,527.5 L462.8,532.5 M462.3,525.3 L468.0,533.9 M464.3,523.3 L471.2,533.6 M465.8,522.9 L472.4,532.9 M469.4,523.3 L474.0,530.2 M477.9,525.9 L475.1,521.6" fill="none" stroke="#1e1e1e" stroke-width="0.8"/>
<path d="M352.0,530.0 L352.4,532.2 L352.8,534.4 L353.4,536.2 L354.1,537.8 L355.1,538.9 L356.3,539.6 L357.9,539.9 L359.6,539.7 L361.5,539.2 L363.5,538.4 L365.6,537.5 L367.7,536.6 L369.7,535.9 L371.6,535.4 L373.3,535.2 L374.8,535.5 L376.0,536.2 L377.0,537.3 L377.7,538.9 L378.3,540.8 L378.8,542.9 L379.1,545.2 L379.5,547.4 L380.0,549.5 L380.6,551.3 L381.4,552.9 L382.4,553.9 L383.6,554.6 L385.1,554.8 L386.9,554.6 L389.5,554.3 L391.3,553.0 L393.1,551.7 L395.0,550.4 L396.8,549.2 L398.5,548.3 L400.1,547.7 L401.6,547.7 L402.9,548.1 L404.1,549.0 L405.2,550.4 L406.2,552.1 L407.1,554.1 L408.0,556.2 L408.9,558.3 L409.9,560.2 L410.9,561.8 L412.0,563.1 L413.2,563.9 L416.6,564.1 L418.0,563.5 L419.3,562.4 L420.7,560.9 L422.0,559.2 L423.3,557.3 L424.7,555.5 L426.0,553.8 L427.4,552.5 L428.7,551.5 L430.1,551.0 L431.5,551.0 L433.0,551.6 L434.4,552.6 L435.9,553.9 L437.4,555.5 L438.9,557.2 L440.4,558.9 L441.9,560.4 L443.4,561.7 L444.8,562.5 L446.2,562.8 L447.6,562.6 L449.0,562.0 L450.4,560.8 L451.7,559.3 L453.1,557.6 L454.4,555.7 L455.7,553.9 L457.1,552.3 L456.4,551.0 L457.3,549.6 L458.4,548.6 L459.7,548.1 L461.2,548.1 L463.0,548.4 L464.9,549.1 L466.9,550.0 L468.9,551.0 L471.0,552.0 M351.0,531.7 L353.1,530.8 L355.3,530.0 L357.3,529.2 L359.2,528.7 L360.9,528.5 L362.4,528.7 L363.6,529.4 L364.7,530.5 L365.4,532.0 L366.0,533.8 L366.5,535.9 L366.9,538.1 L367.3,540.4 L367.7,542.5 L368.3,544.4 L369.0,546.0 L370.0,547.1 L371.2,547.8 L372.7,548.1 L374.4,547.9 L376.3,547.4 L378.3,546.7 L380.4,545.8 L382.5,544.9 L384.5,544.2 L386.4,543.6 L388.1,543.5 L389.6,543.7 L390.9,544.4 L391.9,545.5 L391.6,546.5 L392.6,548.2 L393.6,550.1 L394.5,552.2 L395.4,554.3 L396.3,556.3 L397.3,557.9 L398.4,559.3 L399.6,560.1 L401.0,560.5 L402.5,560.4 L404.1,559.8 L405.8,558.8 L407.6,557.6 L409.5,556.3 L411.3,554.9 L413.1,553.8 L414.8,552.8 L416.4,552.3 L416.0,551.7 L417.4,551.7 L418.9,552.1 L420.3,553.1 L421.8,554.4 L423.3,556.0 L424.8,557.7 L426.3,559.4 L427.8,560.9 L429.2,562.2 L430.7,563.1 L432.1,563.5 L433.5,563.4 L434.9,562.7 L436.3,561.7 L437.6,560.2 L439.0,558.5 L440.3,556.6 L441.6,554.8 L442.9,553.1 L444.3,551.7 L445.7,550.7 L447.1,550.2 L448.5,550.2 L449.9,550.7 L451.4,551.7 L452.8,553.0 L454.3,554.6 L455.8,556.3 L457.3,558.0 L460.1,558.8 L461.9,559.3 L463.6,559.5 L465.1,559.3 L466.3,558.6 L467.3,557.5 L468.2,556.0 L468.8,554.1 L469.4,552.0 L469.9,549.7" fill="none" stroke="#1e1e1e" stroke-width="1.6" stroke-linejoin="round"/><path d="M353.4,536.2 L357.3,529.2 M355.1,538.9 L360.9,528.5 M357.9,539.9 L363.6,529.4 M361.5,539.2 L365.4,532.0 M371.6,535.4 L367.7,542.5 M374.8,535.5 L369.0,546.0 M377.0,537.3 L371.2,547.8 M378.3,540.8 L374.4,547.9 M380.6,551.3 L384.5,544.2 M382.4,553.9 L388.1,543.5 M385.1,554.8 L390.9,544.4 M389.5,554.3 L391.6,546.5 M396.8,549.2 L395.4,554.3 M398.5,548.3 L396.3,556.3 M401.6,547.7 L398.4,559.3 M404.1,549.0 L401.0,560.5 M406.2,552.1 L404.1,559.8 M409.9,560.2 L411.3,554.9 M410.9,561.8 L413.1,553.8 M413.2,563.9 L416.4,552.3 M418.0,563.5 L417.4,551.7 M420.7,560.9 L420.3,553.1 M426.0,553.8 L426.3,559.4 M427.4,552.5 L427.8,560.9 M430.1,551.0 L430.7,563.1 M433.0,551.6 L433.5,563.4 M435.9,553.9 L436.3,561.7 M441.9,560.4 L441.6,554.8 M443.4,561.7 L442.9,553.1 M446.2,562.8 L445.7,550.7 M449.0,562.0 L448.5,550.2 M451.7,559.3 L451.4,551.7 M457.1,552.3 L457.3,558.0 M457.3,549.6 L461.9,559.3 M458.4,548.6 L463.6,559.5 M461.2,548.1 L466.3,558.6 M464.9,549.1 L468.2,556.0" fill="none" stroke="#1e1e1e" stroke-width="0.8"/>
<circle cx="421" cy="344" r="29" fill="url(#bead)"/>
<circle cx="421" cy="699.5" r="29" fill="url(#bead)"/>
<circle cx="397" cy="950" r="66" fill="url(#glow2)"/>
<path d="M418.0,810.0 L416.6,811.4 L415.5,812.8 L414.7,814.2 L414.3,815.6 L414.3,817.0 L414.7,818.4 L415.5,819.8 L416.6,821.2 L418.0,822.6 L419.6,824.1 L421.2,825.5 L422.8,826.9 L424.2,828.3 L425.4,829.7 L426.3,831.1 L426.7,832.5 L426.8,833.9 L426.4,835.3 L425.6,836.7 L424.5,838.1 L423.1,839.5 L421.6,840.9 L419.9,842.3 L418.3,843.7 L416.9,845.1 L415.7,846.5 L414.8,847.9 L414.3,849.4 L414.2,850.8 L414.6,852.2 L415.3,853.6 L416.4,855.0 L417.7,856.4 L419.3,857.8 L420.9,859.2 L422.5,860.6 L424.0,862.0 L425.2,863.4 L426.1,864.8 L426.7,866.2 L426.8,867.6 L426.5,869.0 L425.8,870.4 L424.7,871.8 L423.4,873.2 L421.9,874.6 L420.2,876.1 L418.6,877.5 L417.2,878.9 L415.9,880.3 L414.9,881.7 L414.4,883.1 L414.2,884.5 L414.5,885.9 L415.1,887.3 L416.1,888.7 L417.5,890.1 L419.0,891.5 L420.6,892.9 L422.2,894.3 L423.7,895.7 L425.0,897.1 L426.0,898.5 L426.6,899.9 L426.8,901.4 L426.6,902.8 L426.0,904.2 L425.0,905.6 L423.7,907.0 L422.2,908.4 L420.6,909.8 L418.9,911.2 L417.4,912.6 L416.1,914.0 M421.0,810.0 L422.6,811.4 L424.1,812.8 L425.3,814.2 L426.2,815.6 L426.7,817.0 L426.8,818.4 L426.5,819.8 L425.7,821.2 L424.6,822.6 L423.3,824.1 L421.7,825.5 L420.1,826.9 L418.5,828.3 L417.0,829.7 L415.8,831.1 L414.9,832.5 L414.3,833.9 L414.2,835.3 L414.5,836.7 L415.2,838.1 L416.2,839.5 L417.6,840.9 L419.1,842.3 L420.7,843.7 L422.3,845.1 L423.8,846.5 L425.1,847.9 L426.0,849.4 L426.6,850.8 L426.8,852.2 L426.5,853.6 L425.9,855.0 L424.9,856.4 L423.6,857.8 L422.1,859.2 L420.4,860.6 L418.8,862.0 L417.3,863.4 L416.0,864.8 L415.0,866.2 L414.4,867.6 L414.2,869.0 L414.4,870.4 L415.0,871.8 L416.0,873.2 L417.3,874.6 L418.8,876.1 L420.4,877.5 L422.0,878.9 L423.6,880.3 L424.9,881.7 L425.9,883.1 L426.5,884.5 L426.8,885.9 L426.6,887.3 L426.1,888.7 L425.1,890.1 L423.8,891.5 L422.4,892.9 L420.7,894.3 L419.1,895.7 L417.6,897.1 L416.3,898.5 L415.2,899.9 L414.5,901.4 L414.2,902.8 L414.3,904.2 L414.9,905.6 L415.8,907.0 L417.0,908.4 L418.5,909.8 L420.1,911.2 L421.7,912.6 L423.3,914.0" fill="none" stroke="#1e1e1e" stroke-width="1.6" stroke-linejoin="round"/><path d="M416.6,811.4 L422.6,811.4 M414.7,814.2 L425.3,814.2 M414.3,817.0 L426.7,817.0 M415.5,819.8 L426.5,819.8 M418.0,822.6 L424.6,822.6 M424.2,828.3 L418.5,828.3 M425.4,829.7 L417.0,829.7 M426.7,832.5 L414.9,832.5 M426.4,835.3 L414.2,835.3 M424.5,838.1 L415.2,838.1 M421.6,840.9 L417.6,840.9 M418.3,843.7 L420.7,843.7 M416.9,845.1 L422.3,845.1 M414.8,847.9 L425.1,847.9 M414.2,850.8 L426.6,850.8 M415.3,853.6 L426.5,853.6 M417.7,856.4 L424.9,856.4 M424.0,862.0 L418.8,862.0 M425.2,863.4 L417.3,863.4 M426.7,866.2 L415.0,866.2 M426.5,869.0 L414.2,869.0 M424.7,871.8 L415.0,871.8 M421.9,874.6 L417.3,874.6 M415.9,880.3 L423.6,880.3 M414.9,881.7 L424.9,881.7 M414.2,884.5 L426.5,884.5 M415.1,887.3 L426.6,887.3 M417.5,890.1 L425.1,890.1 M423.7,895.7 L419.1,895.7 M425.0,897.1 L417.6,897.1 M426.6,899.9 L415.2,899.9 M426.6,902.8 L414.2,902.8 M425.0,905.6 L414.9,905.6 M422.2,908.4 L417.0,908.4 M416.1,914.0 L423.3,914.0" fill="none" stroke="#1e1e1e" stroke-width="0.8"/>
<path d="M417.5,996.0 L416.1,997.4 L415.0,998.8 L414.2,1000.2 L413.8,1001.6 L413.7,1003.0 L414.2,1004.4 L414.9,1005.8 L416.1,1007.2 L417.5,1008.6 L419.0,1010.0 L420.7,1011.4 L422.2,1012.8 L423.7,1014.2 L424.9,1015.6 L425.7,1017.0 L426.2,1018.4 L426.3,1019.8 L425.9,1021.2 L425.2,1022.6 L424.1,1024.0 L422.7,1025.4 L421.2,1026.8 L419.6,1028.2 L418.0,1029.6 L416.5,1031.0 L415.3,1032.4 L414.4,1033.8 L413.8,1035.2 L413.7,1036.6 L414.0,1038.0 L414.7,1039.4 L415.7,1040.8 L417.1,1042.2 L418.6,1043.6 L420.2,1045.0 L421.8,1046.4 L423.3,1047.8 L424.5,1049.2 L425.5,1050.6 L426.1,1052.0 L426.3,1053.4 L426.1,1054.8 L425.4,1056.2 L424.4,1057.6 L423.2,1059.0 L421.7,1060.4 L420.0,1061.8 L418.4,1063.2 L416.9,1064.6 L415.6,1066.0 L414.6,1067.4 L414.0,1068.8 L413.7,1070.2 L413.9,1071.6 L414.4,1073.0 L415.4,1074.4 L416.6,1075.8 L418.1,1077.2 L419.7,1078.6 L421.3,1080.0 L422.9,1081.4 L424.2,1082.8 L425.3,1084.2 L426.0,1085.6 L426.3,1087.0 L426.2,1088.4 L425.7,1089.8 L424.8,1091.2 L423.5,1092.6 L422.1,1094.0 L420.5,1095.4 L418.9,1096.8 L417.3,1098.2 L416.0,1099.6 L414.9,1101.0 L414.1,1102.4 L413.7,1103.8 L413.8,1105.2 L414.2,1106.6 L415.1,1108.0 M420.5,996.0 L422.1,997.4 L423.6,998.8 L424.8,1000.2 L425.7,1001.6 L426.2,1003.0 L426.3,1004.4 L426.0,1005.8 L425.3,1007.2 L424.2,1008.6 L422.8,1010.0 L421.3,1011.4 L419.7,1012.8 L418.1,1014.2 L416.6,1015.6 L415.4,1017.0 L414.4,1018.4 L413.9,1019.8 L413.7,1021.2 L414.0,1022.6 L414.6,1024.0 L415.6,1025.4 L416.9,1026.8 L418.5,1028.2 L420.1,1029.6 L421.7,1031.0 L423.2,1032.4 L424.5,1033.8 L425.5,1035.2 L426.1,1036.6 L426.3,1038.0 L426.1,1039.4 L425.5,1040.8 L424.5,1042.2 L423.3,1043.6 L421.8,1045.0 L420.2,1046.4 L418.5,1047.8 L417.0,1049.2 L415.7,1050.6 L414.7,1052.0 L414.0,1053.4 L413.7,1054.8 L413.8,1056.2 L414.4,1057.6 L415.3,1059.0 L416.6,1060.4 L418.0,1061.8 L419.6,1063.2 L421.2,1064.6 L422.8,1066.0 L424.1,1067.4 L425.2,1068.8 L425.9,1070.2 L426.3,1071.6 L426.2,1073.0 L425.7,1074.4 L424.8,1075.8 L423.6,1077.2 L422.2,1078.6 L420.6,1080.0 L419.0,1081.4 L417.4,1082.8 L416.1,1084.2 L414.9,1085.6 L414.1,1087.0 L413.7,1088.4 L413.8,1089.8 L414.2,1091.2 L415.0,1092.6 L416.2,1094.0 L417.6,1095.4 L419.1,1096.8 L420.8,1098.2 L422.3,1099.6 L423.8,1101.0 L424.9,1102.4 L425.8,1103.8 L426.2,1105.2 L426.3,1106.6 L425.9,1108.0" fill="none" stroke="#1e1e1e" stroke-width="1.6" stroke-linejoin="round"/><path d="M416.1,997.4 L422.1,997.4 M414.2,1000.2 L424.8,1000.2 M413.7,1003.0 L426.2,1003.0 M414.9,1005.8 L426.0,1005.8 M417.5,1008.6 L424.2,1008.6 M423.7,1014.2 L418.1,1014.2 M424.9,1015.6 L416.6,1015.6 M426.2,1018.4 L414.4,1018.4 M425.9,1021.2 L413.7,1021.2 M424.1,1024.0 L414.6,1024.0 M421.2,1026.8 L416.9,1026.8 M415.3,1032.4 L423.2,1032.4 M414.4,1033.8 L424.5,1033.8 M413.7,1036.6 L426.1,1036.6 M414.7,1039.4 L426.1,1039.4 M417.1,1042.2 L424.5,1042.2 M423.3,1047.8 L418.5,1047.8 M425.5,1050.6 L415.7,1050.6 M426.1,1052.0 L414.7,1052.0 M426.1,1054.8 L413.7,1054.8 M424.4,1057.6 L414.4,1057.6 M421.7,1060.4 L416.6,1060.4 M415.6,1066.0 L422.8,1066.0 M414.0,1068.8 L425.2,1068.8 M413.7,1070.2 L425.9,1070.2 M414.4,1073.0 L426.2,1073.0 M416.6,1075.8 L424.8,1075.8 M419.7,1078.6 L422.2,1078.6 M422.9,1081.4 L419.0,1081.4 M425.3,1084.2 L416.1,1084.2 M426.3,1087.0 L414.1,1087.0 M426.2,1088.4 L413.7,1088.4 M424.8,1091.2 L414.2,1091.2 M422.1,1094.0 L416.2,1094.0 M416.0,1099.6 L422.3,1099.6 M414.1,1102.4 L424.9,1102.4 M413.8,1105.2 L426.2,1105.2 M414.2,1106.6 L426.3,1106.6" fill="none" stroke="#1e1e1e" stroke-width="0.8"/>
<circle cx="366" cy="931" r="7" fill="#fff" fill-opacity="0.35" stroke="#1e1e1e" stroke-width="1.5"/>
<path d="M360.1,931.0 L371.9,931.0 M361.2,927.5 L370.8,934.5 M364.2,925.3 L367.8,936.7 M367.8,925.3 L364.2,936.7 M370.8,927.5 L361.2,934.5" stroke="#2a2a2a" stroke-width="0.7"/>
<circle cx="359" cy="962" r="7.5" fill="#fff" fill-opacity="0.35" stroke="#1e1e1e" stroke-width="1.5"/>
<path d="M352.6,962.0 L365.4,962.0 M353.8,958.3 L364.2,965.7 M357.0,955.9 L361.0,968.1 M361.0,955.9 L357.0,968.1 M364.2,958.3 L353.8,965.7" stroke="#2a2a2a" stroke-width="0.7"/>
<circle cx="477" cy="953" r="7.5" fill="#fff" fill-opacity="0.35" stroke="#1e1e1e" stroke-width="1.5"/>
<path d="M470.6,953.0 L483.4,953.0 M471.8,949.3 L482.2,956.7 M475.0,946.9 L479.0,959.1 M479.0,946.9 L475.0,959.1 M482.2,949.3 L471.8,956.7" stroke="#2a2a2a" stroke-width="0.7"/>
<g transform="translate(424,924) rotate(9)">
<path d="M-48,0 V52 A48,16 0 0 0 48,52 V0 Z" fill="#bcbcbc" stroke="#333" stroke-width="0.8"/>
<path d="M-48,23.4 V52 A48,16 0 0 0 0,68.0 V39.4 A48,16 0 0 1 -48,23.4 Z" fill="#8fc282"/>
<path d="M28.8,12.8 V64.8 A48,16 0 0 0 48,52 V0 A48,16 0 0 1 28.8,12.8 Z" fill="#a9a9a9" opacity="0.7"/>
<ellipse cx="0" cy="0" rx="48" ry="16" fill="#d0d0d0" stroke="#333" stroke-width="0.8"/>
<path d="M-48,0 A48,16 0 0 1 0,-16 V0 Z" fill="#6aaf5c"/>
<path d="M-48,0 H48 M0,-16 V68" stroke="#333" stroke-width="0.8" fill="none"/>
<path d="M-45,5.6 A48,17.6 0 0 0 45,5.6" stroke="#999" stroke-width="1" fill="none"/>
</g>
<path d="M362.0,930.0 L361.9,932.2 L361.8,934.4 L362.0,936.3 L362.3,938.0 L363.0,939.3 L364.1,940.3 L365.4,940.8 L367.1,941.1 L369.0,941.0 L371.8,940.9 L373.8,939.8 L375.7,938.7 L377.6,937.7 L379.4,936.9 L381.1,936.5 L382.6,936.5 L383.9,937.0 L385.1,937.9 L386.0,939.3 L386.9,941.0 L387.6,943.0 L388.2,945.2 L388.9,947.3 L389.6,949.4 L390.4,951.2 L391.3,952.7 L392.4,953.7 L393.7,954.3 L395.2,954.4 L396.8,954.1 L398.6,953.4 L400.4,952.4 L402.4,951.3 L404.3,950.2 L405.8,949.0 L407.5,947.9 L409.1,947.2 L410.6,946.9 L412.0,947.2 L413.3,947.9 L414.4,949.0 L415.5,950.6 L416.5,952.4 L417.5,954.4 L418.5,956.5 L419.5,958.4 L420.5,960.1 L421.7,961.5 L422.9,962.4 L424.2,962.8 L425.7,962.8 L427.2,962.3 L428.9,961.4 L430.6,960.2 L432.3,958.8 L434.1,957.4 L435.8,956.0 L437.5,954.9 L439.1,954.2 L440.6,953.9 L441.4,953.8 L442.8,954.3 L444.1,955.3 L445.3,956.7 L446.5,958.4 L447.7,960.3 L448.9,962.2 L450.1,964.1 L451.3,965.7 L452.5,967.0 L453.8,967.8 L455.2,968.2 L456.6,968.0 L458.1,967.4 L459.7,966.4 L461.2,965.0 L462.8,963.5 L464.4,961.9 L464.3,960.3 L464.7,958.3 L465.4,956.6 L466.3,955.3 L467.4,954.4 L468.7,953.9 L470.3,953.9 L472.1,954.2 L474.1,954.9 L476.1,955.6 L478.2,956.5 L480.3,957.3 M360.7,931.4 L362.9,931.1 L365.1,930.7 L367.3,930.4 L369.3,930.3 L371.0,930.5 L372.4,931.0 L373.5,931.9 L374.2,933.2 L374.7,934.8 L373.9,935.8 L374.6,937.8 L375.2,940.0 L375.9,942.1 L376.6,944.2 L377.4,946.0 L378.3,947.5 L379.4,948.5 L380.7,949.2 L382.1,949.3 L383.7,949.0 L385.5,948.3 L387.4,947.4 L389.3,946.3 L391.3,945.1 L393.2,944.1 L395.0,943.3 L396.7,942.8 L398.2,942.7 L399.6,943.1 L400.8,944.0 L401.8,945.3 L402.6,947.0 L403.3,948.9 L404.0,951.1 L404.8,953.3 L405.8,955.2 L406.9,956.9 L408.0,958.3 L409.2,959.3 L410.6,959.7 L412.0,959.7 L413.5,959.2 L415.2,958.3 L416.9,957.1 L418.6,955.8 L420.4,954.3 L422.2,953.0 L423.8,951.9 L425.5,951.1 L427.0,950.8 L428.4,950.9 L429.7,951.5 L430.9,952.6 L432.0,954.1 L433.0,955.9 L434.0,957.9 L434.9,959.9 L435.9,961.9 L437.0,963.6 L438.1,965.1 L439.9,966.1 L441.3,966.5 L442.7,966.4 L444.2,965.8 L445.7,964.8 L447.3,963.4 L448.9,961.9 L450.5,960.3 L452.1,958.8 L453.7,957.5 L455.2,956.5 L456.7,955.9 L458.1,955.8 L459.5,956.2 L460.8,957.1 L462.0,958.5 L463.2,960.1 L464.4,962.0 L466.0,963.4 L468.1,964.2 L470.1,964.8 L471.9,965.1 L473.5,965.1 L474.8,964.6 L475.9,963.8 L476.8,962.4 L477.4,960.8 L477.9,958.8 L478.3,956.6 L478.6,954.4" fill="none" stroke="#1e1e1e" stroke-width="1.6" stroke-linejoin="round"/><path d="M362.0,936.3 L367.3,930.4 M363.0,939.3 L371.0,930.5 M365.4,940.8 L373.5,931.9 M369.0,941.0 L374.7,934.8 M377.6,937.7 L375.9,942.1 M379.4,936.9 L376.6,944.2 M382.6,936.5 L378.3,947.5 M385.1,937.9 L380.7,949.2 M386.9,941.0 L383.7,949.0 M388.2,945.2 L387.4,947.4 M389.6,949.4 L391.3,945.1 M391.3,952.7 L395.0,943.3 M392.4,953.7 L396.7,942.8 M395.2,954.4 L399.6,943.1 M398.6,953.4 L401.8,945.3 M402.4,951.3 L403.3,948.9 M405.8,949.0 L404.8,953.3 M409.1,947.2 L406.9,956.9 M412.0,947.2 L409.2,959.3 M413.3,947.9 L410.6,959.7 M415.5,950.6 L413.5,959.2 M417.5,954.4 L416.9,957.1 M419.5,958.4 L420.4,954.3 M421.7,961.5 L423.8,951.9 M424.2,962.8 L427.0,950.8 M427.2,962.3 L429.7,951.5 M428.9,961.4 L430.9,952.6 M432.3,958.8 L433.0,955.9 M435.8,956.0 L434.9,959.9 M439.1,954.2 L437.0,963.6 M441.4,953.8 L439.9,966.1 M444.1,955.3 L442.7,966.4 M446.5,958.4 L445.7,964.8 M447.7,960.3 L447.3,963.4 M450.1,964.1 L450.5,960.3 M452.5,967.0 L453.7,957.5 M455.2,968.2 L456.7,955.9 M458.1,967.4 L459.5,956.2 M461.2,965.0 L462.0,958.5 M462.8,963.5 L463.2,960.1 M464.3,960.3 L466.0,963.4 M465.4,956.6 L470.1,964.8 M467.4,954.4 L473.5,965.1 M470.3,953.9 L475.9,963.8 M474.1,954.9 L477.4,960.8 M480.3,957.3 L478.6,954.4" fill="none" stroke="#1e1e1e" stroke-width="0.8"/>
<path d="M353.0,962.0 L353.2,964.3 L353.5,966.4 L353.9,968.3 L354.5,969.9 L355.4,971.1 L356.6,971.9 L358.1,972.2 L360.3,972.4 L362.2,971.8 L364.2,971.0 L366.3,970.1 L368.4,969.1 L370.4,968.4 L372.3,967.8 L374.0,967.7 L375.4,967.9 L376.7,968.6 L377.7,969.8 L378.5,971.4 L379.1,973.3 L379.6,975.4 L380.0,977.7 L380.4,979.9 L381.0,982.0 L381.6,983.8 L382.5,985.2 L383.5,986.2 L384.9,986.8 L386.4,986.9 L388.5,986.7 L390.4,985.9 L392.3,984.9 L394.4,983.8 L396.4,982.7 L398.3,981.8 L400.1,981.2 L401.7,981.0 L403.2,981.2 L404.4,981.9 L405.5,983.1 L406.3,984.7 L407.1,986.6 L407.7,988.7 L408.3,990.9 L408.9,993.1 L409.4,995.1 L410.1,996.8 L411.0,998.2 L412.1,999.1 L413.5,999.6 L415.0,999.6 L416.8,999.2 L418.8,998.5 M351.9,963.6 L354.1,962.9 L356.3,962.2 L358.4,961.6 L360.3,961.3 L362.1,961.2 L363.5,961.5 L364.7,962.3 L365.1,963.1 L366.0,964.6 L366.6,966.5 L367.1,968.6 L367.5,970.9 L368.0,973.1 L368.5,975.2 L369.1,977.1 L369.9,978.6 L371.0,979.7 L372.2,980.3 L373.7,980.5 L375.4,980.3 L377.3,979.7 L379.4,978.9 L381.5,977.9 L383.5,977.0 L385.5,976.2 L387.4,975.7 L389.1,975.5 L390.6,975.8 L391.8,976.5 L392.5,977.4 L393.4,978.9 L394.1,980.7 L394.8,982.8 L395.4,985.0 L396.0,987.2 L396.6,989.3 L397.4,991.0 L398.4,992.4 L399.5,993.3 L400.9,993.8 L402.4,993.8 L404.2,993.4 L406.0,992.6 L408.0,991.6 L410.0,990.5 L412.1,989.6 L414.1,988.8 L415.9,988.3 L417.6,988.2 L419.0,988.5 L420.2,989.2 L421.2,990.5 L422.0,992.1" fill="none" stroke="#1e1e1e" stroke-width="1.6" stroke-linejoin="round"/><path d="M353.9,968.3 L358.4,961.6 M355.4,971.1 L362.1,961.2 M358.1,972.2 L364.7,962.3 M362.2,971.8 L366.0,964.6 M372.3,967.8 L368.5,975.2 M375.4,967.9 L369.9,978.6 M377.7,969.8 L372.2,980.3 M379.1,973.3 L375.4,980.3 M380.4,979.9 L381.5,977.9 M381.6,983.8 L385.5,976.2 M383.5,986.2 L389.1,975.5 M386.4,986.9 L391.8,976.5 M390.4,985.9 L393.4,978.9 M396.4,982.7 L395.4,985.0 M400.1,981.2 L396.6,989.3 M403.2,981.2 L398.4,992.4 M405.5,983.1 L400.9,993.8 M407.1,986.6 L404.2,993.4 M408.9,993.1 L410.0,990.5 M410.1,996.8 L414.1,988.8 M412.1,999.1 L417.6,988.2 M415.0,999.6 L420.2,989.2 M418.8,998.5 L422.0,992.1" fill="none" stroke="#1e1e1e" stroke-width="0.8"/>
<circle cx="420.6" cy="782.5" r="29" fill="url(#bead)"/>
<circle cx="420.6" cy="1137" r="29" fill="url(#bead)"/>
<path d="M123.8,517.1 L127.1,516.0 L130.2,515.1 L133.1,514.0 L135.7,513.2 L138.0,512.1 L139.8,511.4 L141.2,510.6 L142.0,509.3 L142.3,508.4 L142.0,506.9 L141.2,505.7 L139.9,504.2 L138.3,502.3 L136.3,500.6 L134.0,498.4 L131.6,496.3 L129.1,494.0 L126.7,491.6 L124.4,489.1 L122.2,486.8 L120.5,484.3 L119.2,481.9 L118.2,479.9 L117.9,477.8 L117.9,476.2 L118.6,474.6 L119.9,473.1 L121.5,472.4 L123.7,471.6 L126.1,471.4 L129.1,471.2 L132.2,471.3 L135.5,471.7 L138.9,472.2 L142.2,472.8 L145.5,473.5 L148.5,474.2 L151.4,474.7 L153.8,475.2 L156.0,475.2 L157.7,475.2 L158.8,475.0 L159.9,474.1 L160.2,473.1 L160.5,471.4 L160.2,469.6 L159.5,467.5 L158.9,464.8 L157.9,462.0 L156.9,459.0 L156.0,455.7 L155.1,452.4 L154.2,449.2 L153.7,445.9 L153.4,442.9 L153.2,440.2 L153.6,437.7 L154.0,435.8 L155.1,434.1 L156.6,433.0 L157.9,432.5 L160.0,432.4 L161.9,432.9 L164.4,433.7 L167.0,435.0 L169.4,436.7 L172.1,438.7 L174.8,440.8 L177.3,443.1 L179.7,445.4 L182.1,447.6 L184.1,449.6 L185.9,451.4 L187.9,452.7 L189.3,453.7 L190.4,454.3 L191.8,454.1 L192.7,453.6 L193.8,452.5 L194.5,450.9 L195.1,448.9 L196.0,446.3 L196.7,443.6 L197.6,440.5 L198.4,437.3 L199.4,434.0 L200.4,430.8 L201.7,427.7 L203.1,424.9 L204.4,422.5 L206.1,420.5 L207.4,419.0 L209.2,418.1 L211.1,417.7 L212.5,418.0 L214.3,418.8 L216.1,420.2 L217.3,422.1 L218.8,424.5 L220.0,427.3 L221.2,430.3 L222.2,433.5 L223.1,436.8 L223.9,440.1 L224.5,443.2 L225.3,446.2 L225.9,448.7 L226.7,451.0 L227.3,452.7 L228.0,453.9 L229.2,454.7 L230.1,454.9 L231.3,454.5 L233.0,453.8 L234.6,452.5 L236.7,451.0 L238.8,449.1 L241.0,447.0 L243.6,444.8 L246.2,442.6 L248.8,440.5 L251.5,438.6 L254.2,436.9 L256.7,435.5 L259.2,434.6 L261.5,434.2 L263.3,434.1 L265.1,434.7 L266.2,435.6 L267.3,437.2 L268.1,439.2 L268.2,441.4 L268.2,444.2 L267.8,447.0 L267.2,450.2 L266.4,453.5 L265.4,456.7 L264.3,459.9 L263.1,462.9 L262.2,465.9 L261.2,468.4 L260.7,470.9 L260.2,472.7 L260.1,474.2 L260.6,475.6 L261.2,476.3 L262.5,477.1 L264.0,477.1 L266.0,477.0 L268.5,476.8 L271.2,476.3 L274.3,475.9 L277.5,475.2 L280.8,474.7 L284.2,474.3 L287.6,474.0 L290.7,473.8 L293.7,474.0 L296.4,474.5 L298.5,474.9 L300.3,476.0 L301.5,477.0 L302.3,478.7 L302.6,480.5 L302.2,482.2 L301.4,484.5 L300.0,486.6 L298.3,489.0 L296.3,491.4 L293.9,493.7 L291.4,496.1 L288.9,498.3 L286.3,500.4 L284.0,502.4 L281.8,504.4 L280.0,505.9 L278.6,507.7 L277.7,508.9 L277.2,510.0 L277.3,511.4 L277.9,512.3 L279.2,513.6 L280.8,514.4 L283.0,515.5 L285.5,516.4 L288.3,517.3 L291.4,518.5 L294.5,519.6 L297.7,520.8 L300.8,522.2 L303.7,523.7 L306.3,525.1 L308.5,526.8 L310.2,528.3 L311.4,530.1 L312.1,532.0 L312.2,533.4 L311.6,535.2 L310.5,536.5 L308.9,538.1 L306.7,539.5 L304.2,540.6 L301.3,541.7 L298.1,542.6 L294.8,543.5 L291.5,544.2 L288.2,544.9 L285.2,545.5 L282.3,546.2 L279.8,546.7 L277.8,547.2 L276.1,548.1 L275.0,548.8 L274.3,550.1 L274.3,551.1 L274.8,552.4 L275.6,554.2 L277.0,555.9 L278.6,558.1 L280.6,560.2 L282.6,562.7 L284.8,565.2 L287.0,567.8 L289.1,570.5 L290.9,573.2 L292.6,575.7 L293.8,578.3 L294.5,580.8 L295.0,582.7 L294.7,584.7 L294.2,586.0 L293.0,587.4 L291.2,588.4 L289.3,588.8 L286.8,589.1 L284.0,589.0 L281.0,588.5 L277.8,587.8 L274.6,586.9 L271.3,585.9 L268.1,584.8 L265.1,583.8 L262.3,582.8 L259.7,582.2 L257.5,581.5 L255.8,581.1 L254.1,581.4 L253.2,581.7 L252.2,582.8 L252.0,584.0 L252.0,585.6 L252.0,587.9 L252.5,590.4 L252.9,593.3 L253.5,596.3 L254.1,599.6 L254.6,602.9 L255.0,606.3 L255.2,609.7 L255.4,612.7 L255.0,615.6 L254.8,618.0 L253.9,620.2 L252.7,621.9 L251.6,622.9 L249.8,623.6 L248.3,623.5 L246.1,623.0 L243.8,622.1 L241.7,620.5 L239.3,618.7 L236.9,616.5 L234.6,614.0 L232.4,611.5 L230.2,608.9 L228.2,606.3 L226.4,604.0 L224.5,601.9 L223.0,600.1 L221.7,598.8 L220.2,598.0 L219.2,597.6 L217.8,597.9 L216.9,598.6 L216.1,599.9 L214.8,601.7 L213.9,603.9 L212.9,606.5 L211.6,609.3 L210.4,612.4 L209.0,615.5 L207.5,618.6 L205.9,621.5 L204.3,624.2 L202.5,626.6 L200.6,628.5 L199.0,630.0 L197.0,630.9 L195.6,631.2 L193.7,631.0 L192.0,630.1 L190.8,628.7 L189.4,626.8 L188.5,624.4 L187.4,621.6 L186.5,618.5 L186.0,615.3 L185.5,611.9 L185.1,608.5 L184.7,605.2 L184.5,602.2 L184.1,599.3 L183.8,596.9 L183.5,595.0 L182.7,593.4 L182.1,592.4 L181.3,591.9 L179.8,591.8 L178.4,592.3 L176.5,593.0 L174.6,594.3 L172.4,595.8 L169.8,597.5 L167.1,599.3 L164.3,601.2 L161.4,603.0 L158.4,604.6 L155.6,606.1 L152.8,607.2 L150.1,607.8 L147.9,608.3 L145.7,608.1 L144.2,607.8 L142.7,606.6 L141.6,605.1 L141.3,603.4 L141.0,601.1 L141.4,598.7 L142.0,595.8 L142.9,592.7 L144.1,589.7 L145.4,586.6 L146.9,583.5 L148.4,580.5 L149.8,577.8 L151.0,575.1 L152.1,572.8 L152.7,570.6 L153.2,569.1 L153.3,567.8 L152.7,566.6 L151.8,565.9 L150.3,565.2 L148.5,565.1 L146.3,565.2 L143.6,565.1 L140.6,565.3 L137.4,565.4 L134.1,565.6 L130.6,565.7 L127.3,565.7 L124.0,565.4 L121.1,565.2 L118.3,564.5 L116.0,563.5 L114.2,562.7 L112.8,561.2 L112.1,560.0 L111.9,558.1 L112.2,556.2 L113.1,554.4 L114.5,552.3 L116.4,550.3 L118.6,548.1 L121.1,546.0 L123.8,544.0 L126.6,542.0 L129.4,540.1 L132.0,538.4 L134.5,536.8 L136.6,535.1 L138.4,533.8 L139.6,532.3 L140.4,531.2 L140.7,530.2 L140.4,528.8 L139.5,527.9 L138.1,526.5 L136.3,525.5 L134.0,524.4 L131.4,522.9 L128.6,521.6 L125.6,520.0 L122.6,518.4 L119.6,516.8 M133.8,518.1 L131.2,516.4 L128.5,514.9 L125.6,513.1 L122.7,511.3 L119.9,509.5 L117.3,507.5 L115.0,505.4 L113.0,503.6 L111.5,501.5 L110.5,499.8 L110.1,497.9 L110.3,496.0 L111.0,494.8 L112.3,493.3 L114.1,492.3 L116.4,491.2 L119.1,490.4 L122.1,490.0 L125.3,489.5 L128.7,489.3 L132.1,489.2 L135.5,489.2 L138.7,489.1 L141.6,489.2 L144.3,488.9 L146.5,488.8 L148.2,488.6 L149.7,487.8 L150.5,487.1 L151.0,485.8 L150.8,484.5 L150.2,482.9 L149.4,480.8 L148.2,478.6 L146.8,476.0 L145.2,473.3 L143.5,470.4 L141.9,467.4 L140.4,464.4 L139.0,461.4 L137.9,458.5 L137.2,455.6 L136.7,453.3 L136.8,451.0 L137.1,449.3 L138.1,447.7 L139.5,446.5 L141.0,446.1 L143.2,445.8 L145.7,445.9 L148.2,446.7 L151.1,447.6 L154.0,448.9 L157.1,450.4 L160.1,452.0 L163.0,453.7 L165.8,455.4 L168.5,456.8 L170.8,458.2 L172.7,459.3 L174.7,459.9 L176.1,460.3 L177.5,460.0 L178.3,459.5 L178.9,458.4 L179.6,456.7 L179.7,454.7 L179.8,452.3 L180.1,449.4 L180.1,446.3 L180.2,443.0 L180.4,439.6 L180.7,436.2 L181.0,433.0 L181.7,429.8 L182.6,427.0 L183.4,424.6 L184.7,422.6 L185.8,421.2 L187.5,420.2 L189.3,419.9 L190.8,420.2 L192.8,421.0 L194.5,422.4 L196.5,424.2 L198.5,426.5 L200.2,429.1 L202.0,432.0 L203.7,434.9 L205.3,437.9 L206.7,440.9 L208.2,443.6 L209.4,446.1 L210.4,448.2 L211.8,449.9 L212.7,451.1 L213.6,451.7 L215.0,451.9 L216.0,451.4 L217.5,450.5 L218.7,449.0 L220.0,447.1 L221.8,444.9 L223.5,442.4 L225.3,439.7 L227.3,437.0 L229.4,434.3 L231.5,431.7 L233.8,429.4 L236.1,427.4 L238.1,425.8 L240.3,424.7 L242.4,424.2 L244.0,424.0 L245.7,424.6 L246.9,425.6 L248.2,427.2 L249.2,429.4 L249.6,431.8 L250.1,434.7 L250.1,437.8 L250.1,441.1 L249.9,444.5 L249.6,447.9 L249.2,451.2 L248.8,454.3 L248.6,457.2 L248.3,459.6 L248.5,461.9 L248.5,463.5 L248.9,464.6 L249.9,465.6 L250.9,465.8 L252.6,466.0 L254.3,465.5 L256.4,464.7 L259.1,463.8 L261.7,462.6 L264.7,461.4 L267.9,460.2 L271.1,459.0 L274.2,457.9 L277.4,457.1 L280.5,456.6 L283.1,456.1 L285.6,456.3 L287.5,456.6 L289.3,457.5 L290.6,458.8 L291.1,460.2 L291.5,462.2 L291.1,464.1 L290.5,466.7 L289.4,469.3 L287.9,471.9 L286.2,474.8 L284.3,477.5 L282.3,480.3 L280.2,482.9 L278.3,485.5 L276.5,487.7 L275.0,490.0 L273.8,491.8 L272.9,493.3 L272.7,494.9 L272.8,495.9 L273.6,497.1 L274.7,497.7 L276.4,498.2 L278.6,498.9 L281.1,499.3 L284.1,499.8 L287.2,500.2 L290.5,500.7 L293.9,501.2 L297.2,501.9 L300.4,502.6 L303.3,503.6 L305.9,504.8 L308.1,505.9 L309.8,507.4 L310.9,508.6 L311.5,510.4 L311.5,511.8 L310.9,513.7 L309.8,515.6 L308.1,517.1 L305.9,519.0 L303.4,520.5 L300.6,522.2 L297.6,523.8 L294.5,525.2 L291.4,526.5 L288.4,527.8 L285.7,528.9 L283.2,529.9 L281.2,531.2 L279.6,532.1 L278.5,533.4 L277.9,534.3 L278.0,535.3 L278.5,536.8 L279.6,538.0 L281.1,539.7 L283.0,541.2 L285.3,542.8 L287.8,544.8 L290.4,546.8 L293.1,548.9 L295.7,551.1 L298.1,553.4 L300.3,555.5 L302.2,557.9 L303.6,559.8 L304.5,562.0 L304.9,564.1 L304.8,565.6 L304.0,567.2 L302.9,568.3 L301.1,569.4 L299.0,570.0 L296.3,570.7 L293.3,571.0 L290.1,571.0 L286.8,570.9 L283.4,570.7 L280.0,570.3 L276.8,569.9 L273.7,569.7 L271.0,569.3 L268.5,569.3 L266.5,569.3 L265.1,569.5 L263.8,570.3 L263.2,571.1 L263.1,572.2 L263.1,574.0 L263.7,575.9 L264.4,578.3 L265.6,580.8 L266.8,583.6 L268.0,586.7 L269.3,589.8 L270.5,593.0 L271.5,596.2 L272.3,599.3 L272.9,602.1 L273.0,604.9 L273.0,607.0 L272.4,609.1 L271.3,610.7 L270.2,611.6 L268.4,612.3 L266.7,612.2 L264.3,612.0 L261.7,611.2 L259.2,609.9 L256.3,608.5 L253.5,606.7 L250.7,604.7 L248.0,602.7 L245.4,600.7 L243.0,598.7 L240.8,597.0 L238.6,595.6 L237.0,594.4 L235.2,593.9 L234.1,593.6 L233.2,593.9 L232.0,594.8 L231.4,596.1 L231.0,597.9 L230.3,600.2 L229.9,602.8 L229.3,605.8 L228.8,609.0 L228.3,612.3 L227.6,615.7 L226.8,618.9 L225.7,622.1 L224.8,624.8 L223.4,627.3 L222.3,629.2 L220.6,630.7 L218.8,631.7 L217.5,632.0 L215.6,631.7 L213.7,630.8 L212.2,629.4 L210.4,627.5 L209.0,625.1 L207.4,622.4 L206.0,619.4 L204.7,616.3 L203.5,613.1 L202.5,609.9 L201.4,606.9 L200.6,604.2 L199.5,601.8 L198.8,599.8 L198.0,598.3 L196.8,597.3 L195.9,596.9 L194.5,596.9 L193.3,597.5 L192.0,598.6 L190.2,600.1 L188.5,602.0 L186.5,604.2 L184.3,606.5 L182.0,609.0 L179.6,611.4 L177.2,613.7 L174.6,615.8 L172.3,617.7 L169.8,619.1 L167.3,620.1 L165.5,620.7 L163.4,620.6 L162.1,620.2 L160.6,619.1 L159.4,617.5 L158.9,615.6 L158.4,613.1 L158.4,610.4 L158.5,607.3 L158.8,604.0 L159.5,600.7 L160.2,597.4 L161.0,594.1 L161.7,591.0 L162.5,588.2 L163.0,585.5 L163.4,583.3 L163.7,581.6 L163.3,579.9 L162.8,579.0 L161.7,578.2 L160.5,578.0 L158.8,578.2 L156.6,578.3 L154.2,579.0 L151.3,579.6 L148.3,580.5 L145.1,581.4 L141.8,582.2 L138.5,582.9 L135.3,583.5 L132.1,583.8 L129.2,583.7 L126.8,583.7 L124.5,583.0 L123.0,582.3 L121.6,581.0 L120.8,579.3 L120.8,577.7 L121.0,575.6 L121.9,573.5 L123.1,571.0 L124.7,568.4 L126.7,566.0 L128.9,563.3 L131.2,560.8 L133.5,558.4 L135.8,556.1 L137.9,553.9 L139.8,552.0 L141.3,550.0 L142.5,548.5 L143.2,547.3 L143.3,545.8 L143.0,544.9 L142.0,543.7 L140.6,543.0 L138.7,542.3 L136.4,541.4 L133.7,540.7 L130.7,539.8 L127.5,539.1 L124.2,538.1 L121.0,537.1 L117.8,536.0 L114.9,534.9 L112.3,533.4 L110.1,531.9 L108.4,530.6 L107.2,528.8 L106.6,527.4 L106.6,525.6 L107.2,523.8 L108.3,522.4 L110.0,520.7 L112.2,519.4 L114.7,517.9 L117.6,516.7" fill="none" stroke="#858585" stroke-width="1.7" stroke-linejoin="round"/><path d="M135.7,513.2 L122.7,511.3 M141.2,510.6 L115.0,505.4 M142.3,508.4 L111.5,501.5 M139.9,504.2 L110.3,496.0 M134.0,498.4 L114.1,492.3 M129.1,494.0 L119.1,490.4 M122.2,486.8 L128.7,489.3 M119.2,481.9 L135.5,489.2 M117.9,476.2 L144.3,488.9 M119.9,473.1 L148.2,488.6 M126.1,471.4 L151.0,485.8 M135.5,471.7 L149.4,480.8 M151.4,474.7 L141.9,467.4 M156.0,475.2 L139.0,461.4 M159.9,474.1 L136.7,453.3 M160.5,471.4 L137.1,449.3 M158.9,464.8 L141.0,446.1 M156.0,455.7 L148.2,446.7 M153.2,440.2 L163.0,453.7 M154.0,435.8 L168.5,456.8 M157.9,432.5 L174.7,459.9 M161.9,432.9 L177.5,460.0 M169.4,436.7 L179.6,456.7 M177.3,443.1 L180.1,449.4 M187.9,452.7 L181.0,433.0 M190.4,454.3 L182.6,427.0 M193.8,452.5 L185.8,421.2 M195.1,448.9 L189.3,419.9 M197.6,440.5 L194.5,422.4 M199.4,434.0 L198.5,426.5 M203.1,424.9 L203.7,434.9 M207.4,419.0 L208.2,443.6 M211.1,417.7 L210.4,448.2 M216.1,420.2 L213.6,451.7 M218.8,424.5 L216.0,451.4 M222.2,433.5 L220.0,447.1 M225.9,448.7 L229.4,434.3 M228.0,453.9 L236.1,427.4 M230.1,454.9 L240.3,424.7 M234.6,452.5 L245.7,424.6 M238.8,449.1 L248.2,427.2 M246.2,442.6 L250.1,434.7 M259.2,434.6 L249.2,451.2 M265.1,434.7 L248.3,459.6 M267.3,437.2 L248.5,463.5 M268.2,444.2 L250.9,465.8 M267.2,450.2 L254.3,465.5 M262.2,465.9 L267.9,460.2 M260.2,472.7 L277.4,457.1 M261.2,476.3 L285.6,456.3 M264.0,477.1 L289.3,457.5 M271.2,476.3 L291.5,462.2 M277.5,475.2 L290.5,466.7 M293.7,474.0 L282.3,480.3 M300.3,476.0 L276.5,487.7 M302.6,480.5 L272.9,493.3 M301.4,484.5 L272.8,495.9 M296.3,491.4 L276.4,498.2 M291.4,496.1 L281.1,499.3 M284.0,502.4 L290.5,500.7 M280.0,505.9 L297.2,501.9 M277.2,510.0 L305.9,504.8 M277.9,512.3 L309.8,507.4 M283.0,515.5 L311.5,511.8 M291.4,518.5 L308.1,517.1 M306.3,525.1 L294.5,525.2 M310.2,528.3 L288.4,527.8 M312.2,533.4 L281.2,531.2 M310.5,536.5 L278.5,533.4 M304.2,540.6 L278.5,536.8 M294.8,543.5 L283.0,541.2 M279.8,546.7 L295.7,551.1 M276.1,548.1 L300.3,555.5 M274.3,551.1 L304.5,562.0 M275.6,554.2 L304.8,565.6 M280.6,560.2 L301.1,569.4 M287.0,567.8 L293.3,571.0 M294.5,580.8 L276.8,569.9 M294.7,584.7 L271.0,569.3 M291.2,588.4 L265.1,569.5 M286.8,589.1 L263.2,571.1 M277.8,587.8 L263.7,575.9 M262.3,582.8 L269.3,589.8 M255.8,581.1 L272.3,599.3 M253.2,581.7 L273.0,604.9 M252.0,585.6 L271.3,610.7 M252.5,590.4 L268.4,612.3 M254.1,599.6 L261.7,611.2 M255.0,615.6 L248.0,602.7 M252.7,621.9 L240.8,597.0 M249.8,623.6 L237.0,594.4 M243.8,622.1 L233.2,593.9 M239.3,618.7 L231.4,596.1 M232.4,611.5 L229.9,602.8 M223.0,600.1 L226.8,618.9 M219.2,597.6 L223.4,627.3 M216.9,598.6 L220.6,630.7 M213.9,603.9 L215.6,631.7 M211.6,609.3 L212.2,629.4 M204.3,624.2 L204.7,616.3 M199.0,630.0 L201.4,606.9 M193.7,631.0 L198.8,599.8 M190.8,628.7 L196.8,597.3 M187.4,621.6 L193.3,597.5 M186.0,615.3 L190.2,600.1 M184.1,599.3 L179.6,611.4 M182.7,593.4 L172.3,617.7 M179.8,591.8 L165.5,620.7 M176.5,593.0 L162.1,620.2 M169.8,597.5 L158.9,615.6 M164.3,601.2 L158.4,610.4 M155.6,606.1 L159.5,600.7 M150.1,607.8 L161.0,594.1 M144.2,607.8 L163.0,585.5 M141.3,603.4 L163.3,579.9 M141.4,598.7 L161.7,578.2 M144.1,589.7 L156.6,578.3 M151.0,575.1 L141.8,582.2 M152.7,570.6 L135.3,583.5 M152.7,566.6 L126.8,583.7 M150.3,565.2 L123.0,582.3 M143.6,565.1 L120.8,577.7 M134.1,565.6 L123.1,571.0 M118.3,564.5 L133.5,558.4 M114.2,562.7 L137.9,553.9 M111.9,558.1 L142.5,548.5 M113.1,554.4 L143.3,545.8 M118.6,548.1 L140.6,543.0 M126.6,542.0 L133.7,540.7 M138.4,533.8 L117.8,536.0 M140.4,531.2 L112.3,533.4 M139.5,527.9 L107.2,528.8 M136.3,525.5 L106.6,525.6 M128.6,521.6 L110.0,520.7" fill="none" stroke="#858585" stroke-width="0.6"/>
<path d="M154.2,504.4 L155.5,503.4 L156.0,502.5 L156.1,501.3 L155.6,499.9 L154.8,498.0 L153.4,496.2 L151.7,494.0 L149.9,491.7 L147.9,489.1 L146.0,486.4 L144.1,483.7 L142.5,481.0 L141.0,478.4 L140.1,475.9 L139.6,473.6 L139.6,471.5 L139.9,470.0 L140.9,468.6 L142.5,467.5 L144.4,466.9 L146.8,466.7 L149.4,467.0 L152.3,467.5 L155.4,468.3 L158.5,469.3 L161.7,470.4 L164.7,471.5 L167.5,472.7 L170.0,473.7 L172.2,474.4 L174.2,474.7 L175.7,474.8 L176.8,474.5 L177.5,473.7 L178.2,472.2 L178.3,470.5 L178.2,468.4 L177.9,465.8 L177.6,462.9 L177.4,459.7 L177.1,456.4 L176.9,453.1 L177.0,449.9 L177.2,446.8 L177.5,444.1 L178.3,441.7 L179.4,439.8 L180.7,438.4 L181.9,437.7 L183.7,437.5 L185.7,437.9 L187.8,438.8 L189.9,440.2 L191.9,442.2 L194.1,444.5 L196.2,447.0 L198.2,449.6 L200.1,452.2 L202.0,454.8 L203.6,457.1 L205.0,459.1 L206.3,460.7 L207.4,461.7 L208.9,462.2 L209.9,462.2 L211.0,461.6 L212.0,460.4 L213.1,458.7 L214.6,456.6 L215.9,454.1 L217.3,451.4 L218.9,448.5 L220.6,445.7 L222.4,443.0 L224.3,440.5 L226.3,438.3 L228.3,436.6 L230.0,435.4 L231.9,434.8 L233.7,434.8 L235.4,435.5 L236.8,436.7 L237.8,438.4 L238.8,440.7 L239.7,443.4 L240.2,446.4 L240.6,449.6 L240.8,452.9 L240.8,456.2 L240.8,459.3 L240.8,462.2 L240.8,464.8 L241.2,467.1 L241.5,468.8 L242.0,470.0 L242.8,470.8 L244.2,471.2 L245.6,470.9 L247.4,470.3 L249.5,469.3 L251.9,468.1 L254.6,466.8 L257.5,465.3 L260.5,463.8 L263.5,462.5 L266.4,461.4 L269.3,460.6 L272.0,460.1 L274.4,460.1 L276.4,460.5 L277.8,461.1 L279.0,462.4 L279.7,464.1 L279.9,466.2 L279.5,468.3 L278.9,471.0 L277.8,473.8 L276.4,476.6 L274.9,479.5 L273.2,482.4 L271.4,485.1 L269.8,487.6 L268.3,489.9 L267.3,492.1 L266.5,493.8 L266.1,495.2 L266.3,496.4 L267.1,497.5 L268.2,498.2 L269.9,498.6 L272.1,499.0 L274.7,499.4 L277.6,499.6 L280.7,499.8 L284.0,500.1 L287.3,500.5 L290.5,501.1 L293.4,501.8 L296.1,502.8 L298.3,503.9 L300.0,505.0 L301.1,506.5 L301.7,508.1 L301.6,509.9 L300.9,511.5 L299.6,513.4 L297.9,515.3 L295.6,517.1 L293.1,518.8 L290.3,520.5 L287.4,522.1 L284.5,523.6 L281.8,525.1 L279.2,526.4 L277.1,527.6 L275.3,528.7 L274.1,530.0 L273.5,531.1 L273.4,532.2 L273.9,533.3 L274.9,534.8 L276.4,536.1 L278.4,537.6 L280.7,539.2 L283.3,541.0 L285.9,542.9 L288.6,544.8 L291.1,546.9 L293.4,548.9 L295.4,551.1 L296.9,553.2 L297.9,555.2 L298.3,557.2 L298.3,558.6 L297.5,560.2 L296.2,561.6 L294.3,562.7 L292.1,563.3 L289.3,563.9 L286.3,564.2 L283.1,564.3 L279.8,564.3 L276.5,564.1 L273.3,563.9 L270.4,563.7 L267.7,563.8 L265.5,563.8 L263.8,564.0 L262.5,564.5 L261.6,565.5 L261.3,566.6 L261.4,568.0 L262.0,569.9 L262.8,572.0 L263.8,574.6 L265.1,577.3 L266.4,580.2 L267.7,583.3 L268.9,586.4 L269.8,589.4 L270.5,592.3 L270.7,595.0 L270.6,597.4 L270.4,599.3 L269.4,600.8 L268.1,602.0 L266.4,602.6 L264.5,602.5 L262.2,602.2 L259.6,601.4 L256.8,600.2 L254.0,598.6 L251.3,596.9 L248.5,595.0 L245.9,593.1 L243.5,591.3 L241.1,589.8 L239.2,588.6 L237.5,587.6 L236.2,587.2 L235.0,587.2 L233.8,587.9 L233.1,589.0 L232.6,590.7 L232.1,592.8 L231.7,595.3 L231.1,598.3 L230.6,601.4 L230.1,604.6 L229.4,607.8 L228.5,611.0 L227.6,613.8 L226.4,616.4 L225.0,618.5 L223.5,620.1 L221.9,621.1 L220.5,621.4 L218.7,621.2 L216.9,620.3 L215.1,618.9 L213.7,616.9 L212.0,614.5 L210.5,611.7 L209.1,608.8 L207.9,605.7 L206.7,602.6 L205.7,599.7 L204.7,597.1 L203.9,594.8 L203.1,592.9 L201.9,591.5 L201.0,590.7 L199.9,590.5 L198.8,590.8 L197.5,591.7 L195.7,592.9 L194.0,594.7 L192.0,596.7 L189.9,599.0 L187.6,601.3 L185.3,603.6 L182.8,605.8 L180.3,607.7 L177.8,609.2 L175.7,610.4 L173.5,611.1 L171.5,611.2 L169.8,610.7 L168.3,609.6 L167.5,608.3 L166.7,606.2 L166.3,603.7 L166.2,600.9 L166.5,597.9 L167.0,594.7 L167.7,591.5 L168.4,588.3 L169.2,585.2 L169.8,582.3 L170.5,579.8 L170.9,577.6 L171.0,575.9 L170.8,574.6 L170.0,573.5 L169.0,573.0 L167.5,572.8 L165.6,573.0 L163.2,573.2 L160.6,573.9 L157.7,574.6 L154.5,575.3 L151.3,575.9 L148.1,576.5 L144.9,576.8 L141.9,576.9 L139.2,576.7 L137.0,576.4 L135.1,575.5 L133.7,574.3 L132.9,572.8 L132.8,571.2 L133.0,569.2 L133.8,566.9 L135.1,564.6 L136.9,562.3 L138.9,559.8 L141.1,557.3 L143.4,555.0 L145.7,552.6 M133.4,497.0 L131.7,494.8 L130.5,492.6 L129.8,490.5 L129.6,488.6 L129.9,487.2 L130.9,485.7 L132.5,484.5 L134.5,483.7 L136.9,483.3 L139.8,483.0 L142.9,483.0 L146.1,483.2 L149.4,483.6 L152.7,484.0 L155.7,484.5 L158.5,484.9 L161.2,485.1 L163.3,485.2 L164.9,485.1 L166.1,484.7 L166.9,483.9 L167.4,482.5 L167.3,481.0 L166.9,479.1 L166.2,476.8 L165.4,474.0 L164.3,471.2 L163.3,468.1 L162.3,465.0 L161.5,461.8 L160.8,458.8 L160.5,455.8 L160.5,453.2 L160.9,450.9 L161.4,449.2 L162.6,447.8 L164.1,446.9 L166.0,446.5 L168.1,446.7 L170.2,447.5 L172.8,448.7 L175.4,450.2 L178.0,452.0 L180.6,454.1 L183.2,456.2 L185.5,458.3 L187.7,460.3 L189.7,462.0 L191.7,463.3 L193.2,464.3 L194.5,464.8 L195.6,464.7 L196.5,464.1 L197.6,462.9 L198.3,461.2 L199.0,459.1 L199.6,456.5 L200.3,453.7 L201.2,450.6 L202.1,447.4 L203.2,444.3 L204.4,441.3 L205.7,438.5 L207.0,436.2 L208.6,434.4 L210.3,433.0 L212.0,432.3 L213.8,432.2 L215.2,432.8 L216.9,434.0 L218.5,435.7 L220.0,437.9 L221.1,440.5 L222.3,443.4 L223.4,446.6 L224.3,449.8 L225.1,452.9 L225.9,455.9 L226.6,458.5 L227.2,460.8 L227.9,462.7 L228.6,464.0 L229.8,464.8 L230.9,465.1 L232.1,464.7 L233.5,463.9 L235.2,462.6 L237.4,461.1 L239.5,459.2 L241.9,457.2 L244.4,455.1 L247.0,453.0 L249.6,451.1 L252.3,449.5 L254.8,448.3 L257.3,447.5 L259.2,447.0 L261.2,447.2 L262.8,448.0 L264.0,449.3 L264.9,451.0 L265.1,453.0 L265.2,455.6 L265.0,458.4 L264.4,461.5 L263.6,464.6 L262.6,467.8 L261.6,470.9 L260.5,473.8 L259.5,476.4 L258.8,479.0 L258.3,481.0 L258.1,482.7 L258.2,483.9 L259.0,485.1 L260.1,485.6 L261.6,485.8 L263.6,485.7 L266.0,485.5 L268.8,485.3 L271.8,484.8 L275.1,484.4 L278.4,484.0 L281.6,483.8 L284.8,483.8 L287.7,484.0 L290.3,484.5 L292.4,485.1 L294.1,486.2 L295.2,487.6 L295.8,489.2 L295.7,490.8 L295.1,492.8 L294.0,495.0 L292.4,497.3 L290.4,499.5 L288.2,501.8 L285.7,504.0 L283.2,506.1 L280.7,508.1 L278.5,510.1 L276.4,511.8 L274.8,513.3 L273.6,514.6 L272.9,516.2 L272.8,517.3 L273.3,518.3 L274.3,519.3 L275.9,520.5 L277.9,521.5 L280.3,522.5 L283.1,523.7 L286.0,525.0 L289.0,526.3 L292.0,527.7 L294.8,529.3 L297.4,530.8 L299.5,532.5 L301.2,534.3 L302.3,536.1 L302.8,537.6 L302.7,539.3 L301.9,541.0 L300.6,542.5 L298.8,543.6 L296.4,544.9 L293.7,545.9 L290.6,546.8 L287.4,547.5 L284.2,548.1 L281.0,548.6 L278.0,549.1 L275.3,549.5 L272.9,550.2 L271.0,550.7 L269.6,551.3 L268.7,552.2 L268.3,553.5 L268.5,554.8 L269.2,556.3 L270.4,558.1 L271.8,560.3 L273.5,562.6 L275.4,565.1 L277.3,567.7 L279.2,570.5 L280.9,573.2 L282.4,575.9 L283.4,578.6 L284.3,580.8 L284.5,583.0 L284.1,585.0 L283.3,586.5 L282.0,587.7 L280.4,588.2 L278.2,588.6 L275.6,588.6 L272.8,588.2 L269.9,587.3 L266.8,586.4 L263.6,585.3 L260.6,584.0 L257.8,582.8 L255.0,581.8 L252.7,580.9 L250.7,580.2 L249.0,579.9 L247.5,580.2 L246.6,580.8 L246.0,581.8 L245.8,583.3 L245.7,585.3 L245.6,587.8 L245.9,590.5 L246.2,593.6 L246.4,596.8 L246.6,600.1 L246.6,603.4 L246.4,606.5 L245.9,609.4 L245.2,612.0 L244.5,614.0 L243.3,615.6 L241.8,616.7 L240.1,617.2 L238.2,617.0 L236.5,616.2 L234.4,615.0 L232.2,613.2 L230.1,611.1 L228.0,608.6 L226.1,606.0 L224.2,603.3 L222.4,600.6 L220.8,598.1 L219.4,595.9 L217.8,594.2 L216.6,592.8 L215.5,592.0 L214.4,591.8 L213.1,592.1 L212.0,593.0 L210.9,594.4 L209.7,596.3 L208.4,598.6 L206.8,601.2 L205.2,604.0 L203.5,606.8 L201.7,609.6 L199.7,612.1 L197.9,614.4 L195.9,616.3 L193.9,617.7 L191.9,618.5 L190.0,618.7 L188.6,618.4 L187.1,617.5 L185.8,615.9 L184.7,613.8 L183.8,611.3 L183.4,608.5 L183.0,605.3 L182.8,602.0 L182.7,598.7 L182.7,595.5 L182.8,592.4 L182.8,589.7 L182.8,587.3 L182.7,585.4 L182.0,583.7 L181.4,582.7 L180.4,582.3 L179.1,582.3 L177.5,582.7 L175.3,583.3 L173.1,584.4 L170.5,585.7 L167.7,587.1 L164.7,588.4 L161.7,589.8 L158.6,590.9 L155.6,591.8 L152.8,592.3 L150.5,592.7 L148.3,592.4 L146.4,591.8 L145.1,590.6 L144.4,589.4 L144.0,587.5 L144.0,585.2 L144.6,582.7 L145.5,580.0 L146.9,577.3 L148.4,574.5 L150.2,571.6 L151.9,568.9 L153.6,566.2 L155.2,563.8 L156.6,561.7 L157.6,559.9 L158.1,558.1 L158.2,556.8 L157.8,555.8 L156.9,555.0 L155.3,554.2 L153.4,553.8 L151.1,553.5 L148.3,553.2 L145.2,552.8" fill="none" stroke="#979797" stroke-width="1.7" stroke-linejoin="round"/><path d="M156.0,502.5 L130.5,492.6 M155.6,499.9 L129.6,488.6 M151.7,494.0 L132.5,484.5 M147.9,489.1 L136.9,483.3 M139.6,473.6 L155.7,484.5 M139.9,470.0 L161.2,485.1 M144.4,466.9 L166.1,484.7 M149.4,467.0 L167.4,482.5 M158.5,469.3 L166.2,476.8 M172.2,474.4 L161.5,461.8 M176.8,474.5 L160.5,453.2 M178.2,472.2 L161.4,449.2 M177.9,465.8 L166.0,446.5 M177.4,459.7 L170.2,447.5 M177.5,444.1 L183.2,456.2 M180.7,438.4 L189.7,462.0 M183.7,437.5 L193.2,464.3 M189.9,440.2 L196.5,464.1 M196.2,447.0 L199.0,459.1 M205.0,459.1 L203.2,444.3 M207.4,461.7 L205.7,438.5 M211.0,461.6 L210.3,433.0 M213.1,458.7 L213.8,432.2 M217.3,451.4 L218.5,435.7 M226.3,438.3 L224.3,449.8 M231.9,434.8 L226.6,458.5 M235.4,435.5 L227.9,462.7 M238.8,440.7 L230.9,465.1 M240.2,446.4 L233.5,463.9 M240.8,464.8 L247.0,453.0 M241.5,468.8 L252.3,449.5 M244.2,471.2 L259.2,447.0 M247.4,470.3 L262.8,448.0 M254.6,466.8 L265.1,453.0 M260.5,463.8 L265.0,458.4 M269.3,460.6 L262.6,467.8 M274.4,460.1 L260.5,473.8 M279.0,462.4 L258.3,481.0 M279.5,468.3 L259.0,485.1 M277.8,473.8 L261.6,485.8 M269.8,487.6 L275.1,484.4 M266.5,493.8 L284.8,483.8 M266.3,496.4 L290.3,484.5 M269.9,498.6 L295.2,487.6 M277.6,499.6 L295.1,492.8 M284.0,500.1 L292.4,497.3 M293.4,501.8 L285.7,504.0 M298.3,503.9 L280.7,508.1 M301.7,508.1 L274.8,513.3 M300.9,511.5 L272.9,516.2 M295.6,517.1 L274.3,519.3 M290.3,520.5 L277.9,521.5 M275.3,528.7 L294.8,529.3 M273.5,531.1 L299.5,532.5 M274.9,534.8 L302.8,537.6 M278.4,537.6 L301.9,541.0 M285.9,542.9 L296.4,544.9 M296.9,553.2 L281.0,548.6 M298.3,558.6 L272.9,550.2 M296.2,561.6 L269.6,551.3 M289.3,563.9 L268.5,554.8 M283.1,564.3 L270.4,558.1 M267.7,563.8 L279.2,570.5 M262.5,564.5 L283.4,578.6 M261.3,566.6 L284.5,583.0 M262.8,572.0 L282.0,587.7 M266.4,580.2 L275.6,588.6 M270.7,595.0 L260.6,584.0 M270.4,599.3 L255.0,581.8 M266.4,602.6 L249.0,579.9 M262.2,602.2 L246.6,580.8 M254.0,598.6 L245.7,585.3 M241.1,589.8 L246.6,600.1 M236.2,587.2 L245.9,609.4 M233.8,587.9 L244.5,614.0 M232.1,592.8 L240.1,617.2 M231.1,598.3 L236.5,616.2 M226.4,616.4 L224.2,603.3 M223.5,620.1 L220.8,598.1 M218.7,621.2 L216.6,592.8 M215.1,618.9 L214.4,591.8 M210.5,611.7 L210.9,594.4 M207.9,605.7 L208.4,598.6 M204.7,597.1 L203.5,606.8 M203.1,592.9 L199.7,612.1 M199.9,590.5 L193.9,617.7 M195.7,592.9 L188.6,618.4 M192.0,596.7 L185.8,615.9 M180.3,607.7 L182.8,602.0 M173.5,611.1 L182.8,592.4 M169.8,610.7 L182.8,587.3 M166.7,606.2 L181.4,582.7 M166.5,597.9 L177.5,582.7 M167.7,591.5 L173.1,584.4 M169.8,582.3 L164.7,588.4 M170.9,577.6 L158.6,590.9 M170.0,573.5 L150.5,592.7 M167.5,572.8 L146.4,591.8 M160.6,573.9 L144.0,587.5 M154.5,575.3 L144.6,582.7 M137.0,576.4 L153.6,566.2 M133.7,574.3 L156.6,561.7 M133.0,569.2 L158.2,556.8 M135.1,564.6 L156.9,555.0 M141.1,557.3 L151.1,553.5" fill="none" stroke="#979797" stroke-width="0.6"/>
<path d="M120.8,552.6 L120.0,554.3 L119.8,556.1 L120.1,557.8 L120.8,559.0 L122.2,560.3 L124.0,561.4 L126.1,562.3 L128.6,562.9 L131.4,563.4 L134.3,563.8 L137.2,564.1 L140.1,564.3 L142.9,564.4 L145.4,564.5 L147.7,564.9 L149.6,565.3 L151.0,565.8 L152.2,566.7 L152.7,567.7 L152.9,568.9 L152.6,570.4 L152.2,572.4 L151.3,574.5 L150.3,576.8 L149.1,579.3 L147.9,581.9 L146.7,584.6 L145.7,587.4 L144.8,590.0 L144.2,592.5 L144.0,594.9 L144.1,597.0 L144.5,598.6 L145.4,600.1 L146.7,601.1 L148.4,601.8 L150.2,601.9 L152.5,601.8 L155.1,601.3 L157.7,600.5 L160.3,599.4 L163.1,598.3 L165.7,597.0 L168.2,595.8 L170.7,594.7 L172.8,593.8 L174.7,593.1 L176.5,592.8 L177.8,592.8 L178.8,593.2 L179.6,594.1 L180.5,595.5 L180.9,597.2 L181.2,599.3 L181.4,601.7 L181.7,604.4 L181.9,607.3 L182.2,610.2 L182.6,613.2 L183.1,615.9 L183.8,618.5 L184.8,620.8 L185.9,622.7 L187.0,624.0 L188.5,625.0 L190.1,625.4 L191.9,625.3 L193.5,624.6 L195.4,623.5 L197.4,621.9 L199.2,620.0 L201.0,617.8 L202.8,615.4 L204.5,613.0 L206.0,610.6 L207.6,608.4 L209.0,606.3 L210.2,604.7 L211.4,603.4 L212.8,602.5 L213.9,602.2 L215.0,602.3 L216.2,603.0 L217.6,604.1 L218.9,605.6 L220.3,607.5 L221.8,609.6 L223.6,611.9 L225.3,614.2 L227.1,616.6 L229.1,618.7 L230.9,620.7 L232.9,622.2 L234.9,623.4 L236.8,624.1 L238.3,624.4 L240.0,624.0 L241.5,623.2 L242.8,621.8 L243.7,620.1 L244.6,617.8 L245.3,615.3 L245.8,612.5 L246.1,609.6 L246.3,606.7 L246.4,603.8 L246.5,601.0 L246.7,598.5 L246.9,596.2 L247.2,594.4 L247.6,593.0 L248.6,591.8 L249.5,591.2 L250.8,591.1 L252.3,591.3 L254.3,591.7 L256.4,592.5 L258.7,593.5 L261.3,594.6 L264.0,595.7 L266.7,596.8 L269.5,597.7 L272.1,598.6 L274.7,599.0 L277.0,599.1 L279.1,598.9 L280.7,598.5 L282.1,597.5 L283.1,596.1 L283.7,594.4 L283.7,592.5 L283.5,590.2 L282.9,587.7 L282.0,585.1 L280.9,582.5 L279.6,579.8 L278.3,577.2 L277.0,574.7 L275.8,572.3 L274.8,570.3 L274.1,568.4 L273.8,566.6 L273.8,565.3 L274.2,564.3 L275.0,563.4 L276.5,562.6 L278.2,562.1 L280.3,561.8 L282.8,561.4 L285.5,561.1 L288.3,560.9 L291.3,560.5 L294.2,560.1 L297.0,559.5 L299.5,558.7 L301.7,558.0 L303.6,556.9 L305.0,555.5 L305.9,554.0 L306.2,552.7 L306.1,550.9 L305.4,549.1 L304.3,547.4 M135.9,548.6 L138.5,549.4 L140.8,550.0 L142.8,550.7 L144.4,551.6 L145.4,552.5 L146.1,553.5 L146.2,554.6 L146.0,556.2 L145.2,557.8 L144.1,559.5 L142.8,561.6 L141.2,563.8 L139.5,566.0 L137.8,568.4 L136.1,570.9 L134.7,573.3 L133.5,575.8 L132.5,578.0 L132.0,580.1 L132.0,582.1 L132.4,583.8 L133.1,585.1 L134.4,586.2 L136.2,587.0 L138.3,587.5 L140.6,587.5 L143.2,587.4 L146.0,587.1 L148.9,586.5 L151.8,585.9 L154.6,585.2 L157.2,584.5 L159.8,584.1 L161.9,583.7 L163.7,583.5 L165.1,583.6 L166.4,584.3 L167.2,585.1 L167.7,586.3 L167.8,587.9 L167.9,590.0 L167.7,592.2 L167.4,594.8 L167.0,597.6 L166.7,600.5 L166.4,603.5 L166.3,606.4 L166.2,609.1 L166.5,611.6 L167.1,613.9 L167.9,615.8 L168.8,617.1 L170.2,618.1 L171.9,618.6 L173.7,618.6 L175.5,618.0 L177.7,617.1 L180.0,615.8 L182.2,614.2 L184.4,612.3 L186.7,610.3 L188.8,608.3 L190.7,606.4 L192.7,604.6 L194.4,603.1 L195.9,601.9 L197.2,601.1 L198.7,600.9 L199.8,601.0 L200.8,601.7 L201.8,602.8 L203.0,604.4 L203.9,606.4 L204.9,608.7 L206.0,611.2 L207.2,613.9 L208.4,616.5 L209.8,619.1 L211.2,621.6 L212.6,623.7 L214.3,625.5 L216.0,626.8 L217.7,627.6 L219.1,627.9 L220.8,627.7 L222.4,626.9 L224.0,625.6 L225.2,623.8 L226.5,621.7 L227.6,619.2 L228.6,616.5 L229.5,613.7 L230.3,610.8 L231.0,608.1 L231.6,605.5 L232.4,603.2 L233.1,601.3 L233.8,599.8 L234.6,598.7 L235.9,598.0 L237.0,597.9 L238.3,598.2 L239.9,599.0 L241.9,600.0 L243.8,601.3 L246.0,602.9 L248.3,604.6 L250.7,606.2 L253.2,607.8 L255.7,609.2 L258.2,610.3 L260.4,611.2 L262.6,611.6 L264.6,611.6 L266.3,611.1 L267.5,610.3 L268.6,608.9 L269.3,607.1 L269.7,605.0 L269.7,602.7 L269.5,600.0 L269.0,597.2 L268.4,594.4 L267.6,591.5 L266.8,588.7 L266.1,586.1 L265.5,583.6 L265.1,581.5 L264.8,579.8 L264.9,578.3 L265.5,577.0 L266.4,576.2 L267.6,575.7 L269.2,575.5 L271.3,575.3 L273.6,575.5 L276.2,575.8 L279.0,576.0 L281.9,576.3 L284.9,576.5 L287.8,576.5 L290.5,576.5 L293.0,576.1 L295.2,575.5 L297.1,574.6 L298.3,573.6 L299.3,572.2 L299.7,570.6 L299.5,568.9 L299.0,566.9 L298.0,564.8 L296.7,562.5 L295.0,560.4 L293.1,558.2 L291.1,556.0 L289.1,553.8 L287.2,551.9 L285.4,550.0 L283.9,548.4 L282.8,546.6 L282.0,545.2 L281.7,544.0 L282.0,542.6" fill="none" stroke="#e08a2a" stroke-width="1.9" stroke-linejoin="round"/><path d="M119.8,556.1 L140.8,550.0 M122.2,560.3 L145.4,552.5 M128.6,562.9 L146.0,556.2 M137.2,564.1 L142.8,561.6 M145.4,564.5 L137.8,568.4 M151.0,565.8 L133.5,575.8 M152.9,568.9 L132.0,582.1 M151.3,574.5 L134.4,586.2 M147.9,581.9 L140.6,587.5 M144.8,590.0 L148.9,586.5 M144.1,597.0 L157.2,584.5 M146.7,601.1 L163.7,583.5 M152.5,601.8 L167.2,585.1 M160.3,599.4 L167.9,590.0 M174.7,593.1 L166.3,606.4 M178.8,593.2 L167.1,613.9 M180.9,597.2 L170.2,618.1 M181.7,604.4 L175.5,618.0 M184.8,620.8 L188.8,608.3 M188.5,625.0 L194.4,603.1 M193.5,624.6 L198.7,600.9 M199.2,620.0 L201.8,602.8 M209.0,606.3 L208.4,616.5 M212.8,602.5 L212.6,623.7 M216.2,603.0 L217.7,627.6 M220.3,607.5 L222.4,626.9 M225.3,614.2 L226.5,621.7 M230.9,620.7 L229.5,613.7 M236.8,624.1 L231.6,605.5 M241.5,623.2 L233.8,599.8 M244.6,617.8 L237.0,597.9 M246.1,609.6 L241.9,600.0 M247.2,594.4 L255.7,609.2 M249.5,591.2 L262.6,611.6 M254.3,591.7 L267.5,610.3 M261.3,594.6 L269.7,605.0 M277.0,599.1 L266.8,588.7 M282.1,597.5 L265.1,581.5 M283.7,592.5 L265.5,577.0 M282.0,585.1 L269.2,575.5 M274.8,570.3 L284.9,576.5 M273.8,565.3 L293.0,576.1 M275.0,563.4 L297.1,574.6 M280.3,561.8 L299.7,570.6 M288.3,560.9 L298.0,564.8 M303.6,556.9 L287.2,551.9 M306.2,552.7 L282.8,546.6 M304.3,547.4 L282.0,542.6" fill="none" stroke="#e08a2a" stroke-width="0.8"/>
<path d="M219.8,468.0 L235.0,473.7" stroke="#4a4ab0" stroke-width="11.799999999999999" stroke-linecap="round"/><path d="M219.8,468.0 L235.0,473.7" stroke="#7c7cec" stroke-width="10.2" stroke-linecap="round"/><path d="M222.0,463.4 Q223.2,469.3 221.0,473.9 M225.3,464.6 Q226.5,470.5 224.4,475.2 M228.7,465.9 Q229.9,471.8 227.7,476.4 M232.1,467.2 Q233.3,473.1 231.1,477.7 M235.4,468.4 Q236.7,474.3 234.5,479.0" stroke="#4a4ab0" stroke-width="1.1" fill="none" opacity="0.8"/><path d="M235.0,477.6 L270.0,477.6" stroke="#4a4ab0" stroke-width="11.799999999999999" stroke-linecap="round"/><path d="M235.0,477.6 L270.0,477.6" stroke="#7c7cec" stroke-width="10.2" stroke-linecap="round"/><path d="M235.4,472.5 Q238.6,477.6 238.2,482.7 M239.0,472.5 Q242.2,477.6 241.8,482.7 M242.6,472.5 Q245.8,477.6 245.4,482.7 M246.2,472.5 Q249.4,477.6 249.0,482.7 M249.8,472.5 Q253.0,477.6 252.6,482.7 M253.4,472.5 Q256.6,477.6 256.2,482.7 M257.0,472.5 Q260.2,477.6 259.8,482.7 M260.6,472.5 Q263.8,477.6 263.4,482.7 M264.2,472.5 Q267.4,477.6 267.0,482.7 M267.8,472.5 Q271.0,477.6 270.6,482.7" stroke="#4a4ab0" stroke-width="1.1" fill="none" opacity="0.8"/><path d="M219.8,489.0 L266.0,518.0" stroke="#4a4ab0" stroke-width="11.799999999999999" stroke-linecap="round"/><path d="M219.8,489.0 L266.0,518.0" stroke="#7c7cec" stroke-width="10.2" stroke-linecap="round"/><path d="M222.9,484.9 Q222.8,490.9 219.8,495.0 M225.9,486.8 Q225.9,492.8 222.8,496.9 M228.9,488.7 Q228.9,494.7 225.9,498.8 M232.0,490.6 Q232.0,496.7 228.9,500.8 M235.0,492.5 Q235.0,498.6 232.0,502.7 M238.1,494.5 Q238.1,500.5 235.0,504.6 M241.1,496.4 Q241.1,502.4 238.1,506.5 M244.2,498.3 Q244.2,504.3 241.1,508.4 M247.2,500.2 Q247.2,506.2 244.2,510.3 M250.3,502.1 Q250.3,508.1 247.2,512.2 M253.3,504.0 Q253.3,510.1 250.3,514.2 M256.4,505.9 Q256.4,512.0 253.3,516.1 M259.4,507.9 Q259.4,513.9 256.4,518.0 M262.5,509.8 Q262.5,515.8 259.4,519.9 M265.5,511.7 Q265.5,517.7 262.5,521.8" stroke="#4a4ab0" stroke-width="1.1" fill="none" opacity="0.8"/><path d="M231.0,522.0 L262.0,533.6" stroke="#4a4ab0" stroke-width="11.799999999999999" stroke-linecap="round"/><path d="M231.0,522.0 L262.0,533.6" stroke="#7c7cec" stroke-width="10.2" stroke-linecap="round"/><path d="M233.2,517.4 Q234.4,523.3 232.2,527.9 M236.5,518.6 Q237.7,524.5 235.6,529.2 M239.9,519.9 Q241.1,525.8 239.0,530.4 M243.3,521.1 Q244.5,527.0 242.3,531.7 M246.6,522.4 Q247.9,528.3 245.7,532.9 M250.0,523.7 Q251.2,529.6 249.1,534.2 M253.4,524.9 Q254.6,530.8 252.4,535.5 M256.8,526.2 Q258.0,532.1 255.8,536.7 M260.1,527.5 Q261.3,533.4 259.2,538.0" stroke="#4a4ab0" stroke-width="1.1" fill="none" opacity="0.8"/><path d="M231.0,541.0 L262.0,545.0" stroke="#4a4ab0" stroke-width="11.799999999999999" stroke-linecap="round"/><path d="M231.0,541.0 L262.0,545.0" stroke="#7c7cec" stroke-width="10.2" stroke-linecap="round"/><path d="M232.0,536.0 Q234.6,541.5 233.5,546.5 M235.6,536.5 Q238.1,541.9 237.1,546.9 M239.2,536.9 Q241.7,542.4 240.7,547.4 M242.8,537.4 Q245.3,542.8 244.2,547.8 M246.3,537.8 Q248.9,543.3 247.8,548.3 M249.9,538.3 Q252.4,543.8 251.4,548.8 M253.5,538.8 Q256.0,544.2 254.9,549.2 M257.0,539.2 Q259.6,544.7 258.5,549.7 M260.6,539.7 Q263.1,545.1 262.1,550.2" stroke="#4a4ab0" stroke-width="1.1" fill="none" opacity="0.8"/><path d="M192.7,564.5 L219.8,584.0" stroke="#4a4ab0" stroke-width="11.799999999999999" stroke-linecap="round"/><path d="M192.7,564.5 L219.8,584.0" stroke="#7c7cec" stroke-width="10.2" stroke-linecap="round"/><path d="M196.0,560.6 Q195.6,566.6 192.3,570.5 M198.9,562.7 Q198.5,568.7 195.2,572.6 M201.8,564.8 Q201.5,570.8 198.2,574.7 M204.8,566.9 Q204.4,572.9 201.1,576.8 M207.7,569.0 Q207.3,575.0 204.0,578.9 M210.6,571.1 Q210.2,577.1 206.9,581.0 M213.5,573.2 Q213.2,579.2 209.9,583.1 M216.5,575.3 Q216.1,581.3 212.8,585.2 M219.4,577.4 Q219.0,583.4 215.7,587.3" stroke="#4a4ab0" stroke-width="1.1" fill="none" opacity="0.8"/><path d="M235.0,568.0 L266.0,574.0" stroke="#4a4ab0" stroke-width="11.799999999999999" stroke-linecap="round"/><path d="M235.0,568.0 L266.0,574.0" stroke="#7c7cec" stroke-width="10.2" stroke-linecap="round"/><path d="M236.4,563.1 Q238.5,568.7 237.2,573.6 M239.9,563.8 Q242.1,569.4 240.7,574.3 M243.4,564.4 Q245.6,570.1 244.2,575.0 M247.0,565.1 Q249.1,570.7 247.8,575.7 M250.5,565.8 Q252.7,571.4 251.3,576.4 M254.0,566.5 Q256.2,572.1 254.8,577.0 M257.6,567.2 Q259.7,572.8 258.4,577.7 M261.1,567.9 Q263.3,573.5 261.9,578.4 M264.6,568.5 Q266.8,574.2 265.4,579.1" stroke="#4a4ab0" stroke-width="1.1" fill="none" opacity="0.8"/><path d="M142.5,520.0 L196.6,533.6" stroke="#b07a98" stroke-width="11.799999999999999" stroke-linecap="round"/><path d="M142.5,520.0 L196.6,533.6" stroke="#f0b4d2" stroke-width="10.2" stroke-linecap="round"/><path d="M144.1,515.2 Q146.0,520.9 144.4,525.7 M147.6,516.0 Q149.5,521.8 147.9,526.6 M151.1,516.9 Q153.0,522.6 151.3,527.5 M154.6,517.8 Q156.5,523.5 154.8,528.4 M158.1,518.7 Q160.0,524.4 158.3,529.2 M161.6,519.5 Q163.4,525.3 161.8,530.1 M165.1,520.4 Q166.9,526.1 165.3,531.0 M168.6,521.3 Q170.4,527.0 168.8,531.9 M172.1,522.2 Q173.9,527.9 172.3,532.7 M175.6,523.1 Q177.4,528.8 175.8,533.6 M179.0,523.9 Q180.9,529.7 179.3,534.5 M182.5,524.8 Q184.4,530.5 182.8,535.4 M186.0,525.7 Q187.9,531.4 186.3,536.3 M189.5,526.6 Q191.4,532.3 189.7,537.1 M193.0,527.4 Q194.9,533.2 193.2,538.0" stroke="#b07a98" stroke-width="1.1" fill="none" opacity="0.8"/><path d="M144.4,527.8 L192.7,541.3" stroke="#b07a98" stroke-width="11.799999999999999" stroke-linecap="round"/><path d="M144.4,527.8 L192.7,541.3" stroke="#f0b4d2" stroke-width="10.2" stroke-linecap="round"/><path d="M146.2,523.0 Q147.9,528.8 146.1,533.6 M149.6,524.0 Q151.3,529.7 149.6,534.5 M153.1,524.9 Q154.8,530.7 153.0,535.5 M156.6,525.9 Q158.3,531.7 156.5,536.5 M160.0,526.9 Q161.7,532.6 160.0,537.4 M163.5,527.8 Q165.2,533.6 163.4,538.4 M167.0,528.8 Q168.7,534.6 166.9,539.4 M170.4,529.8 Q172.1,535.6 170.4,540.4 M173.9,530.7 Q175.6,536.5 173.8,541.3 M177.4,531.7 Q179.1,537.5 177.3,542.3 M180.8,532.7 Q182.5,538.5 180.8,543.3 M184.3,533.7 Q186.0,539.4 184.2,544.2 M187.8,534.6 Q189.5,540.4 187.7,545.2 M191.2,535.6 Q192.9,541.4 191.2,546.2" stroke="#b07a98" stroke-width="1.1" fill="none" opacity="0.8"/><path d="M158.0,536.0 L187.0,547.0" stroke="#b07a98" stroke-width="11.799999999999999" stroke-linecap="round"/><path d="M158.0,536.0 L187.0,547.0" stroke="#f0b4d2" stroke-width="10.2" stroke-linecap="round"/><path d="M160.2,531.4 Q161.4,537.3 159.2,541.9 M163.5,532.7 Q164.7,538.6 162.5,543.2 M166.9,533.9 Q168.1,539.8 165.9,544.5 M170.3,535.2 Q171.5,541.1 169.3,545.7 M173.6,536.5 Q174.8,542.4 172.6,547.0 M177.0,537.8 Q178.2,543.7 176.0,548.3 M180.4,539.0 Q181.6,544.9 179.4,549.6 M183.7,540.3 Q184.9,546.2 182.7,550.8 M187.1,541.6 Q188.3,547.5 186.1,552.1" stroke="#b07a98" stroke-width="1.1" fill="none" opacity="0.8"/><path d="M183.0,468.0 L198.5,491.0" stroke="#b07a98" stroke-width="11.799999999999999" stroke-linecap="round"/><path d="M183.0,468.0 L198.5,491.0" stroke="#f0b4d2" stroke-width="10.2" stroke-linecap="round"/><path d="M187.5,465.5 Q185.0,471.0 180.6,473.5 M189.5,468.5 Q187.0,474.0 182.6,476.5 M191.5,471.5 Q189.0,477.0 184.6,479.5 M193.5,474.4 Q191.0,479.9 186.6,482.5 M195.5,477.4 Q193.1,482.9 188.6,485.4 M197.5,480.4 Q195.1,485.9 190.6,488.4 M199.5,483.4 Q197.1,488.9 192.6,491.4 M201.5,486.4 Q199.1,491.9 194.6,494.4" stroke="#b07a98" stroke-width="1.1" fill="none" opacity="0.8"/><path d="M160.0,510.0 L178.0,515.0" stroke="#b07a98" stroke-width="11.799999999999999" stroke-linecap="round"/><path d="M160.0,510.0 L178.0,515.0" stroke="#f0b4d2" stroke-width="10.2" stroke-linecap="round"/><path d="M161.8,505.2 Q163.5,511.0 161.7,515.8 M165.2,506.2 Q166.9,511.9 165.2,516.7 M168.7,507.1 Q170.4,512.9 168.7,517.7 M172.2,508.1 Q173.9,513.9 172.1,518.7 M175.6,509.0 Q177.3,514.8 175.6,519.6" stroke="#b07a98" stroke-width="1.1" fill="none" opacity="0.8"/><path d="M166.0,481.5 L178.0,481.5" stroke="#704058" stroke-width="11.799999999999999" stroke-linecap="round"/><path d="M166.0,481.5 L178.0,481.5" stroke="#c890a8" stroke-width="10.2" stroke-linecap="round"/><path d="M166.4,476.4 Q169.6,481.5 169.2,486.6 M170.0,476.4 Q173.2,481.5 172.8,486.6 M173.6,476.4 Q176.8,481.5 176.4,486.6" stroke="#704058" stroke-width="1.1" fill="none" opacity="0.8"/><path d="M163.7,508.5 L223.6,485.3" stroke="#a8a83a" stroke-width="11.799999999999999" stroke-linecap="round"/><path d="M163.7,508.5 L223.6,485.3" stroke="#f2f27a" stroke-width="10.2" stroke-linecap="round"/><path d="M162.2,503.6 Q167.1,507.2 168.5,512.1 M165.6,502.3 Q170.4,505.9 171.9,510.8 M168.9,501.0 Q173.8,504.6 175.2,509.5 M172.3,499.7 Q177.1,503.3 178.6,508.2 M175.7,498.4 Q180.5,502.0 182.0,506.9 M179.0,497.1 Q183.8,500.7 185.3,505.6 M182.4,495.8 Q187.2,499.4 188.7,504.3 M185.7,494.5 Q190.6,498.1 192.0,503.0 M189.1,493.2 Q193.9,496.8 195.4,501.7 M192.4,491.9 Q197.3,495.5 198.7,500.4 M195.8,490.6 Q200.6,494.2 202.1,499.1 M199.2,489.3 Q204.0,492.9 205.5,497.8 M202.5,488.0 Q207.3,491.6 208.8,496.5 M205.9,486.7 Q210.7,490.3 212.2,495.2 M209.2,485.4 Q214.1,489.0 215.5,493.9 M212.6,484.1 Q217.4,487.7 218.9,492.6 M215.9,482.8 Q220.8,486.4 222.2,491.3 M219.3,481.5 Q224.1,485.1 225.6,490.0" stroke="#a8a83a" stroke-width="1.1" fill="none" opacity="0.8"/><path d="M204.0,473.7 L223.6,481.5" stroke="#a8a83a" stroke-width="11.799999999999999" stroke-linecap="round"/><path d="M204.0,473.7 L223.6,481.5" stroke="#f2f27a" stroke-width="10.2" stroke-linecap="round"/><path d="M206.3,469.1 Q207.3,475.0 205.1,479.6 M209.6,470.4 Q210.7,476.4 208.4,481.0 M212.9,471.8 Q214.0,477.7 211.8,482.3 M216.3,473.1 Q217.4,479.0 215.1,483.6 M219.6,474.4 Q220.7,480.4 218.5,484.9 M223.0,475.8 Q224.1,481.7 221.8,486.3" stroke="#a8a83a" stroke-width="1.1" fill="none" opacity="0.8"/><path d="M142.5,497.0 L158.0,502.7" stroke="#7a7a30" stroke-width="11.799999999999999" stroke-linecap="round"/><path d="M142.5,497.0 L158.0,502.7" stroke="#c8c860" stroke-width="10.2" stroke-linecap="round"/><path d="M144.6,492.4 Q145.9,498.2 143.7,502.9 M148.0,493.6 Q149.3,499.5 147.1,504.1 M151.4,494.8 Q152.6,500.7 150.5,505.4 M154.8,496.1 Q156.0,502.0 153.9,506.6 M158.2,497.3 Q159.4,503.2 157.3,507.9" stroke="#7a7a30" stroke-width="1.1" fill="none" opacity="0.8"/><path d="M208.0,580.0 L223.6,570.0" stroke="#a8a83a" stroke-width="11.799999999999999" stroke-linecap="round"/><path d="M208.0,580.0 L223.6,570.0" stroke="#f2f27a" stroke-width="10.2" stroke-linecap="round"/><path d="M205.6,575.5 Q211.0,578.1 213.4,582.6 M208.6,573.5 Q214.1,576.1 216.5,580.6 M211.6,571.6 Q217.1,574.2 219.5,578.7 M214.7,569.7 Q220.1,572.2 222.5,576.7 M217.7,567.7 Q223.2,570.3 225.6,574.8" stroke="#a8a83a" stroke-width="1.1" fill="none" opacity="0.8"/><path d="M258.0,504.6 L266.0,508.5" stroke="#a8a83a" stroke-width="11.799999999999999" stroke-linecap="round"/><path d="M258.0,504.6 L266.0,508.5" stroke="#f2f27a" stroke-width="10.2" stroke-linecap="round"/><path d="M260.6,500.2 Q261.2,506.2 258.6,510.6 M263.8,501.8 Q264.5,507.8 261.9,512.2" stroke="#a8a83a" stroke-width="1.1" fill="none" opacity="0.8"/><path d="M150.0,545.0 L160.0,556.0" stroke="#a8a83a" stroke-width="11.799999999999999" stroke-linecap="round"/><path d="M150.0,545.0 L160.0,556.0" stroke="#f2f27a" stroke-width="10.2" stroke-linecap="round"/><path d="M154.0,541.9 Q152.4,547.7 148.4,550.8 M156.5,544.5 Q154.8,550.3 150.8,553.5 M158.9,547.2 Q157.3,553.0 153.2,556.1 M161.3,549.9 Q159.7,555.7 155.6,558.8" stroke="#a8a83a" stroke-width="1.1" fill="none" opacity="0.8"/><path d="M167.6,553.0 L260.0,560.7" stroke="#6a9c66" stroke-width="11.799999999999999" stroke-linecap="round"/><path d="M167.6,553.0 L260.0,560.7" stroke="#a6dca0" stroke-width="10.2" stroke-linecap="round"/><path d="M168.4,548.0 Q171.2,553.3 170.4,558.3 M172.0,548.2 Q174.8,553.6 174.0,558.6 M175.6,548.5 Q178.4,553.9 177.5,558.9 M179.2,548.8 Q182.0,554.2 181.1,559.2 M182.8,549.1 Q185.5,554.5 184.7,559.5 M186.4,549.4 Q189.1,554.8 188.3,559.8 M189.9,549.7 Q192.7,555.1 191.9,560.1 M193.5,550.0 Q196.3,555.4 195.5,560.4 M197.1,550.3 Q199.9,555.7 199.1,560.7 M200.7,550.6 Q203.5,556.0 202.7,561.0 M204.3,550.9 Q207.1,556.3 206.2,561.3 M207.9,551.2 Q210.7,556.6 209.8,561.6 M211.5,551.5 Q214.2,556.9 213.4,561.9 M215.1,551.8 Q217.8,557.2 217.0,562.2 M218.6,552.1 Q221.4,557.5 220.6,562.5 M222.2,552.4 Q225.0,557.8 224.2,562.8 M225.8,552.7 Q228.6,558.1 227.8,563.1 M229.4,553.0 Q232.2,558.4 231.4,563.4 M233.0,553.3 Q235.8,558.7 234.9,563.7 M236.6,553.6 Q239.4,559.0 238.5,564.0 M240.2,553.9 Q242.9,559.3 242.1,564.3 M243.8,554.2 Q246.5,559.6 245.7,564.6 M247.3,554.5 Q250.1,559.9 249.3,564.9 M250.9,554.8 Q253.7,560.2 252.9,565.2 M254.5,555.1 Q257.3,560.5 256.5,565.5 M258.1,555.4 Q260.9,560.8 260.1,565.8" stroke="#6a9c66" stroke-width="1.1" fill="none" opacity="0.8"/><path d="M192.7,499.0 L223.6,502.7" stroke="#6a9c66" stroke-width="11.799999999999999" stroke-linecap="round"/><path d="M192.7,499.0 L223.6,502.7" stroke="#a6dca0" stroke-width="10.2" stroke-linecap="round"/><path d="M193.7,494.0 Q196.3,499.4 195.3,504.4 M197.3,494.4 Q199.8,499.9 198.8,504.9 M200.9,494.8 Q203.4,500.3 202.4,505.3 M204.4,495.3 Q207.0,500.7 206.0,505.7 M208.0,495.7 Q210.6,501.1 209.6,506.2 M211.6,496.1 Q214.1,501.6 213.1,506.6 M215.2,496.6 Q217.7,502.0 216.7,507.0 M218.7,497.0 Q221.3,502.4 220.3,507.4 M222.3,497.4 Q224.9,502.9 223.9,507.9" stroke="#6a9c66" stroke-width="1.1" fill="none" opacity="0.8"/><path d="M239.0,487.0 L264.0,495.0" stroke="#4c744c" stroke-width="11.799999999999999" stroke-linecap="round"/><path d="M239.0,487.0 L264.0,495.0" stroke="#88b088" stroke-width="10.2" stroke-linecap="round"/><path d="M240.9,482.3 Q242.4,488.1 240.5,492.8 M244.4,483.4 Q245.9,489.2 243.9,493.9 M247.8,484.5 Q249.3,490.3 247.4,495.0 M251.2,485.6 Q252.7,491.4 250.8,496.1 M254.7,486.7 Q256.1,492.5 254.2,497.2 M258.1,487.8 Q259.6,493.6 257.6,498.3 M261.5,488.8 Q263.0,494.7 261.1,499.4" stroke="#4c744c" stroke-width="1.1" fill="none" opacity="0.8"/><path d="M235.0,564.5 L246.8,576.0" stroke="#4c744c" stroke-width="11.799999999999999" stroke-linecap="round"/><path d="M235.0,564.5 L246.8,576.0" stroke="#88b088" stroke-width="10.2" stroke-linecap="round"/><path d="M238.8,561.1 Q237.6,567.0 233.7,570.4 M241.4,563.6 Q240.2,569.5 236.3,572.9 M244.0,566.2 Q242.7,572.0 238.9,575.4 M246.6,568.7 Q245.3,574.6 241.5,577.9 M249.2,571.2 Q247.9,577.1 244.0,580.4" stroke="#4c744c" stroke-width="1.1" fill="none" opacity="0.8"/><path d="M175.0,562.0 L200.0,566.0" stroke="#6a9c66" stroke-width="11.799999999999999" stroke-linecap="round"/><path d="M175.0,562.0 L200.0,566.0" stroke="#a6dca0" stroke-width="10.2" stroke-linecap="round"/><path d="M176.2,557.0 Q178.6,562.6 177.4,567.5 M179.8,557.6 Q182.1,563.1 180.9,568.1 M183.3,558.2 Q185.7,563.7 184.5,568.7 M186.9,558.7 Q189.2,564.3 188.0,569.2 M190.4,559.3 Q192.8,564.8 191.6,569.8 M194.0,559.9 Q196.3,565.4 195.1,570.4 M197.5,560.4 Q199.9,566.0 198.7,571.0" stroke="#6a9c66" stroke-width="1.1" fill="none" opacity="0.8"/><path d="M150.0,541.0 L183.0,560.0" stroke="#b07a98" stroke-width="11.799999999999999" stroke-linecap="round"/><path d="M150.0,541.0 L183.0,560.0" stroke="#f0b4d2" stroke-width="10.2" stroke-linecap="round"/><path d="M152.9,536.8 Q153.1,542.8 150.2,547.0 M156.0,538.6 Q156.2,544.6 153.3,548.8 M159.1,540.4 Q159.4,546.4 156.5,550.6 M162.3,542.2 Q162.5,548.2 159.6,552.4 M165.4,544.0 Q165.6,550.0 162.7,554.2 M168.5,545.8 Q168.7,551.8 165.8,556.0 M171.6,547.6 Q171.8,553.6 168.9,557.8 M174.7,549.4 Q175.0,555.4 172.1,559.6 M177.9,551.1 Q178.1,557.2 175.2,561.4 M181.0,552.9 Q181.2,559.0 178.3,563.2 M184.1,554.7 Q184.3,560.8 181.4,565.0" stroke="#b07a98" stroke-width="1.1" fill="none" opacity="0.8"/><path d="M168.0,498.0 L196.0,510.0" stroke="#b07a98" stroke-width="11.799999999999999" stroke-linecap="round"/><path d="M168.0,498.0 L196.0,510.0" stroke="#f0b4d2" stroke-width="10.2" stroke-linecap="round"/><path d="M170.4,493.5 Q171.3,499.4 168.9,503.9 M173.7,494.9 Q174.6,500.8 172.2,505.4 M177.0,496.3 Q177.9,502.3 175.6,506.8 M180.3,497.7 Q181.2,503.7 178.9,508.2 M183.6,499.1 Q184.5,505.1 182.2,509.6 M186.9,500.6 Q187.9,506.5 185.5,511.0 M190.2,502.0 Q191.2,507.9 188.8,512.5 M193.5,503.4 Q194.5,509.3 192.1,513.9" stroke="#b07a98" stroke-width="1.1" fill="none" opacity="0.8"/><path d="M186.0,488.0 L214.0,497.0" stroke="#a8a83a" stroke-width="11.799999999999999" stroke-linecap="round"/><path d="M186.0,488.0 L214.0,497.0" stroke="#f2f27a" stroke-width="10.2" stroke-linecap="round"/><path d="M187.9,483.3 Q189.4,489.1 187.5,493.8 M191.4,484.4 Q192.9,490.2 190.9,494.9 M194.8,485.5 Q196.3,491.3 194.3,496.0 M198.2,486.6 Q199.7,492.4 197.8,497.1 M201.7,487.7 Q203.1,493.5 201.2,498.2 M205.1,488.8 Q206.6,494.6 204.6,499.3 M208.5,489.9 Q210.0,495.7 208.0,500.4 M211.9,491.0 Q213.4,496.8 211.5,501.5" stroke="#a8a83a" stroke-width="1.1" fill="none" opacity="0.8"/><path d="M226.0,500.0 L252.0,507.0" stroke="#4a4ab0" stroke-width="11.799999999999999" stroke-linecap="round"/><path d="M226.0,500.0 L252.0,507.0" stroke="#7c7cec" stroke-width="10.2" stroke-linecap="round"/><path d="M227.7,495.2 Q229.5,500.9 227.8,505.8 M231.2,496.1 Q233.0,501.9 231.2,506.7 M234.7,497.1 Q236.4,502.8 234.7,507.6 M238.1,498.0 Q239.9,503.7 238.2,508.6 M241.6,498.9 Q243.4,504.7 241.7,509.5 M245.1,499.9 Q246.9,505.6 245.1,510.4 M248.6,500.8 Q250.3,506.6 248.6,511.4" stroke="#4a4ab0" stroke-width="1.1" fill="none" opacity="0.8"/><path d="M214.0,540.0 L238.0,549.0" stroke="#4a4ab0" stroke-width="11.799999999999999" stroke-linecap="round"/><path d="M214.0,540.0 L238.0,549.0" stroke="#7c7cec" stroke-width="10.2" stroke-linecap="round"/><path d="M216.2,535.4 Q217.4,541.3 215.2,545.9 M219.5,536.6 Q220.7,542.5 218.6,547.2 M222.9,537.9 Q224.1,543.8 221.9,548.4 M226.3,539.2 Q227.5,545.1 225.3,549.7 M229.6,540.4 Q230.9,546.3 228.7,551.0 M233.0,541.7 Q234.2,547.6 232.1,552.2 M236.4,542.9 Q237.6,548.8 235.4,553.5" stroke="#4a4ab0" stroke-width="1.1" fill="none" opacity="0.8"/><path d="M198.0,518.0 L222.0,528.0" stroke="#6a9c66" stroke-width="11.799999999999999" stroke-linecap="round"/><path d="M198.0,518.0 L222.0,528.0" stroke="#a6dca0" stroke-width="10.2" stroke-linecap="round"/><path d="M200.3,513.4 Q201.3,519.4 199.0,523.9 M203.7,514.8 Q204.6,520.8 202.3,525.3 M207.0,516.2 Q208.0,522.2 205.6,526.7 M210.3,517.6 Q211.3,523.5 209.0,528.1 M213.6,519.0 Q214.6,524.9 212.3,529.5 M216.9,520.4 Q217.9,526.3 215.6,530.9 M220.3,521.8 Q221.3,527.7 218.9,532.2" stroke="#6a9c66" stroke-width="1.1" fill="none" opacity="0.8"/><path d="M170.0,570.0 L200.0,578.0" stroke="#b07a98" stroke-width="11.799999999999999" stroke-linecap="round"/><path d="M170.0,570.0 L200.0,578.0" stroke="#f0b4d2" stroke-width="10.2" stroke-linecap="round"/><path d="M171.7,565.2 Q173.5,570.9 171.8,575.8 M175.2,566.1 Q177.0,571.9 175.3,576.7 M178.7,567.0 Q180.4,572.8 178.7,577.6 M182.1,568.0 Q183.9,573.7 182.2,578.5 M185.6,568.9 Q187.4,574.6 185.7,579.5 M189.1,569.8 Q190.9,575.6 189.2,580.4 M192.6,570.7 Q194.3,576.5 192.6,581.3 M196.0,571.7 Q197.8,577.4 196.1,582.2 M199.5,572.6 Q201.3,578.3 199.6,583.2" stroke="#b07a98" stroke-width="1.1" fill="none" opacity="0.8"/><path d="M244.0,585.0 L262.0,590.0" stroke="#4a4ab0" stroke-width="11.799999999999999" stroke-linecap="round"/><path d="M244.0,585.0 L262.0,590.0" stroke="#7c7cec" stroke-width="10.2" stroke-linecap="round"/><path d="M245.8,580.2 Q247.5,586.0 245.7,590.8 M249.2,581.2 Q250.9,586.9 249.2,591.7 M252.7,582.1 Q254.4,587.9 252.7,592.7 M256.2,583.1 Q257.9,588.9 256.1,593.7 M259.6,584.0 Q261.3,589.8 259.6,594.6" stroke="#4a4ab0" stroke-width="1.1" fill="none" opacity="0.8"/>
<path d="M148.2,850.7 L151.0,851.4 L153.4,852.0 L155.4,852.5 L157.3,852.4 L158.7,852.3 L159.7,851.8 L160.3,850.9 L160.9,849.4 L161.0,847.8 L160.8,845.7 L160.5,843.2 L160.0,840.6 L159.4,837.7 L158.7,834.6 L158.1,831.3 L157.6,828.1 L157.2,824.8 L156.9,821.8 L156.9,818.9 L157.1,816.3 L157.4,814.1 L158.3,812.2 L159.4,810.7 L160.7,809.6 L162.1,809.2 L164.0,809.2 L166.1,809.6 L168.1,810.5 L170.5,811.8 L172.9,813.3 L175.3,815.3 L177.8,817.4 L180.3,819.6 L182.7,821.8 L185.0,824.0 L187.1,826.1 L189.0,827.9 L191.0,829.4 L192.6,830.6 L194.0,831.4 L195.6,831.6 L196.7,831.5 L197.6,830.8 L198.8,829.6 L199.5,828.0 L200.3,826.0 L201.1,823.5 L201.8,820.8 L202.5,817.8 L203.4,814.7 L204.2,811.5 L205.1,808.4 L206.2,805.3 L207.2,802.5 L208.5,800.0 L209.9,797.8 L211.1,796.1 L212.7,794.9 L214.3,794.1 L215.7,794.0 L217.4,794.3 L219.2,795.2 L220.6,796.6 L222.3,798.4 L223.9,800.7 L225.3,803.2 L226.7,806.0 L228.1,809.0 L229.4,812.0 L230.6,815.1 L231.7,818.0 L232.9,820.7 L233.9,823.1 L234.9,825.1 L235.9,826.7 L237.1,827.9 L238.2,828.6 L239.3,828.8 L240.7,828.5 L242.0,827.7 L243.4,826.4 L245.2,824.8 L246.8,822.8 L248.6,820.5 L250.6,818.1 L252.6,815.6 L254.7,813.0 L256.9,810.6 L259.1,808.3 L261.3,806.3 L263.3,804.6 L265.4,803.3 L267.5,802.5 L269.4,802.1 L270.9,802.2 L272.4,802.8 L273.8,804.0 L274.7,805.6 L275.6,807.6 L276.3,810.1 L276.6,812.8 L276.8,815.9 L276.9,819.1 L276.9,822.4 L276.8,825.7 L276.6,828.9 L276.3,831.9 L276.3,834.8 L276.2,837.3 L276.3,839.4 L276.7,841.3 L277.2,842.7 L277.9,843.6 L279.1,844.3 L280.4,844.4 L282.0,844.1 L283.8,843.4 L286.2,842.6 L288.6,841.5 L291.2,840.2 L294.1,838.9 L297.1,837.5 L300.1,836.2 L303.2,835.0 L306.0,833.9 L308.9,833.2 L311.6,832.8 L313.8,832.5 L315.9,832.8 L317.7,833.5 L319.1,834.5 L319.9,835.7 L320.4,837.5 L320.6,839.6 L320.3,842.0 L319.6,844.4 L318.6,847.1 L317.4,850.0 L315.9,852.8 L314.3,855.7 L312.6,858.5 L310.9,861.2 L309.4,863.8 L308.0,866.2 L306.8,868.2 L305.9,870.0 L305.5,871.9 L305.3,873.2 L305.6,874.2 L306.3,875.0 L307.7,875.9 L309.3,876.4 L311.4,876.7 L313.9,877.1 L316.6,877.3 L319.6,877.4 L322.8,877.7 L326.1,878.0 L329.4,878.3 L332.5,878.9 L335.6,879.6 L338.2,880.3 L340.7,881.3 L342.7,882.6 L344.2,884.0 L345.2,885.2 L345.7,886.9 L345.6,888.7 L345.1,890.6 L343.9,892.2 L342.4,894.1 L340.4,896.0 L338.0,897.8 L335.4,899.5 L332.6,901.2 L329.7,902.8 L326.8,904.2 L324.0,905.6 L321.4,907.0 L319.0,908.2 L317.0,909.2 L315.4,910.3 L314.2,911.6 L313.5,912.6 L313.4,913.6 L313.7,914.7 L314.5,916.2 L315.7,917.5 L317.4,918.9 L319.4,920.4 L321.7,922.3 L324.2,924.1 L326.8,926.0 L329.3,928.1 L331.9,930.1 L334.2,932.3 L336.3,934.6 L338.0,936.8 L339.4,938.7 L340.3,940.8 L340.7,942.8 L340.6,944.6 L340.1,945.9 L338.9,947.3 L337.3,948.5 L335.2,949.5 L332.9,949.9 L330.1,950.4 L327.1,950.6 L324.0,950.6 L320.7,950.5 L317.4,950.2 L314.2,949.9 L311.0,949.7 L308.2,949.4 L305.7,949.2 L303.5,949.1 L301.5,949.4 L300.1,949.7 L299.1,950.3 L298.5,951.2 L298.1,952.7 L298.3,954.2 L298.8,956.1 L299.4,958.4 L300.4,960.8 L301.6,963.5 L302.8,966.4 L304.0,969.5 L305.1,972.6 L306.1,975.7 L307.1,978.6 L307.7,981.5 L308.0,984.2 L307.9,986.7 L307.8,988.7 L307.1,990.4 L306.0,991.8 L304.8,992.6 L303.0,993.1 L301.0,993.2 L298.7,992.9 L296.4,992.0 L293.7,991.0 L290.9,989.7 L288.2,988.0 L285.3,986.3 L282.6,984.5 L280.0,982.7 L277.4,981.1 L275.1,979.5 L273.0,978.2 L270.9,977.3 L269.3,976.7 L268.0,976.4 L266.6,976.8 L265.7,977.4 L265.0,978.6 L264.5,980.2 L263.8,982.3 L263.6,984.6 L263.3,987.4 L263.0,990.4 L262.7,993.6 L262.4,996.8 L262.1,1000.1 L261.6,1003.3 L260.9,1006.3 L260.3,1009.1 L259.3,1011.5 L258.2,1013.6 L257.2,1015.2 L255.7,1016.3 L254.1,1016.9 L252.4,1017.0 L250.8,1016.5 L249.0,1015.5 L247.0,1014.1 L245.3,1012.2 L243.3,1010.0 L241.4,1007.6 L239.7,1004.9 L237.9,1002.1 L236.2,999.3 L234.5,996.6 L233.0,994.0 L231.6,991.7 L230.1,989.8 L228.8,988.2 L227.7,987.1 L226.2,986.5 L225.1,986.3 L224.0,986.7 L222.9,987.6 L221.5,988.9 L220.2,990.7 L218.9,992.8 L217.4,995.3 L215.9,998.0 L214.4,1000.8 L212.7,1003.6 L211.0,1006.4 L209.2,1009.1 L207.4,1011.5 L205.6,1013.6 L203.7,1015.3 L202.0,1016.7 L200.2,1017.5 L198.4,1017.8 L197.0,1017.6 L195.5,1016.8 L194.0,1015.5 L193.0,1013.8 L191.9,1011.5 L190.9,1009.0 L190.1,1006.1 L189.5,1003.0 L189.0,999.8 L188.5,996.5 L188.1,993.3 L187.8,990.2 L187.5,987.3 L187.0,984.7 L186.6,982.4 L186.1,980.6 L185.2,979.1 L184.4,978.2 L183.4,977.8 L182.2,977.8 L180.5,978.1 L178.8,979.0 L176.9,980.2 L174.6,981.5 L172.3,983.2 L169.7,985.1 L167.1,986.9 L164.4,988.8 L161.6,990.6 L158.9,992.2 M143.9,846.6 L142.7,843.5 L141.6,840.4 L140.6,837.3 L139.8,834.5 L139.3,831.7 L139.2,829.1 L139.4,826.8 L139.7,825.0 L140.6,823.5 L141.9,822.3 L143.2,821.8 L145.2,821.5 L147.4,821.6 L149.8,822.1 L152.3,823.1 L155.0,824.3 L157.8,825.8 L160.6,827.5 L163.4,829.2 L166.1,831.0 L168.8,832.7 L171.2,834.3 L173.4,835.7 L175.3,836.8 L177.3,837.5 L178.7,837.9 L179.9,837.9 L181.2,837.3 L182.0,836.3 L182.6,834.9 L183.2,833.0 L183.5,830.8 L183.8,828.2 L184.1,825.3 L184.3,822.2 L184.5,818.9 L184.8,815.6 L185.2,812.4 L185.8,809.3 L186.5,806.4 L187.2,803.8 L188.2,801.5 L189.4,799.7 L190.5,798.4 L192.1,797.6 L193.7,797.2 L195.2,797.5 L197.1,798.2 L199.0,799.4 L200.8,801.1 L202.8,803.1 L204.7,805.5 L206.6,808.1 L208.4,810.8 L210.1,813.6 L211.8,816.4 L213.4,819.0 L214.9,821.4 L216.3,823.5 L217.8,825.2 L219.0,826.5 L220.2,827.4 L221.6,827.7 L222.7,827.5 L223.8,826.9 L225.2,825.7 L226.4,824.1 L227.6,822.1 L229.1,819.8 L230.5,817.2 L232.0,814.4 L233.6,811.5 L235.3,808.7 L237.0,806.0 L238.8,803.4 L240.5,801.1 L242.4,799.2 L244.3,797.7 L245.9,796.6 L247.7,796.1 L249.4,796.1 L250.7,796.6 L252.3,797.7 L253.6,799.2 L254.6,801.2 L255.7,803.6 L256.6,806.4 L257.2,809.3 L257.8,812.5 L258.3,815.8 L258.8,819.0 L259.2,822.2 L259.5,825.2 L259.8,827.9 L260.4,830.3 L260.9,832.3 L261.5,833.9 L262.5,835.1 L263.4,835.8 L264.5,835.9 L266.1,835.8 L267.7,835.1 L269.5,834.0 L271.7,832.7 L273.9,831.1 L276.3,829.3 L278.9,827.4 L281.6,825.5 L284.3,823.6 L287.1,822.0 L289.7,820.4 L292.3,819.3 L294.8,818.4 L296.9,817.9 L298.9,817.9 L300.7,818.3 L302.2,819.2 L303.1,820.3 L303.9,822.1 L304.3,824.2 L304.3,826.5 L304.1,829.2 L303.6,832.2 L302.9,835.2 L302.0,838.3 L301.0,841.5 L299.9,844.5 L298.9,847.5 L297.9,850.3 L297.0,852.8 L296.3,855.0 L296.1,857.1 L295.9,858.6 L296.2,859.8 L296.8,860.7 L298.0,861.5 L299.4,861.8 L301.2,861.8 L303.6,861.8 L306.1,861.5 L308.9,861.0 L311.9,860.6 L315.1,860.2 L318.4,859.8 L321.7,859.5 L324.9,859.4 L327.8,859.4 L330.6,859.7 L333.1,860.3 L335.2,861.1 L336.8,861.9 L338.0,863.3 L338.7,864.9 L338.8,866.4 L338.5,868.4 L337.7,870.5 L336.5,872.7 L334.8,874.8 L332.9,877.2 L330.7,879.5 L328.3,881.7 L325.8,883.9 L323.3,886.0 L320.9,887.9 L318.7,889.7 L316.8,891.5 L315.2,893.0 L314.0,894.4 L313.2,895.6 L313.0,897.0 L313.2,898.0 L313.9,899.0 L315.1,899.9 L316.8,901.2 L318.8,902.2 L321.2,903.2 L323.9,904.3 L326.8,905.6 L329.8,906.9 L332.7,908.4 L335.6,909.9 L338.3,911.6 L340.8,913.1 L342.8,914.9 L344.5,916.8 L345.7,918.6 L346.4,920.1 L346.5,921.9 L346.1,923.6 L345.2,925.2 L343.8,926.4 L341.9,927.8 L339.5,928.9 L336.8,929.9 L333.9,930.6 L330.7,931.4 L327.5,931.9 L324.2,932.4 L321.0,932.8 L318.0,933.1 L315.3,933.4 L312.9,933.7 L310.7,934.4 L309.1,934.9 L307.9,935.6 L307.2,936.4 L306.8,937.8 L307.1,939.0 L307.7,940.6 L308.5,942.6 L309.8,944.6 L311.4,946.8 L313.1,949.3 L314.8,951.9 L316.6,954.7 L318.4,957.5 L319.9,960.3 L321.4,963.0 L322.5,965.7 L323.2,968.3 L323.6,970.6 L323.7,972.5 L323.2,974.3 L322.3,975.8 L321.1,976.7 L319.4,977.4 L317.3,977.8 L314.9,977.9 L312.4,977.4 L309.5,976.8 L306.5,976.0 L303.4,974.9 L300.3,973.7 L297.3,972.5 L294.4,971.2 L291.6,970.1 L289.1,969.0 L286.9,968.2 L284.8,967.8 L283.2,967.6 L282.0,967.7 L281.0,968.2 L280.1,969.3 L279.7,970.7 L279.5,972.4 L279.3,974.7 L279.5,977.2 L279.8,980.0 L280.1,983.0 L280.4,986.3 L280.7,989.5 L280.8,992.8 L281.0,996.0 L280.8,999.0 L280.4,1001.9 L280.1,1004.3 L279.2,1006.4 L278.2,1008.1 L276.9,1009.3 L275.6,1010.0 L273.9,1010.2 L271.9,1009.9 L270.1,1009.1 L267.9,1007.9 L265.7,1006.3 L263.5,1004.3 L261.2,1002.2 L258.9,999.8 L256.7,997.4 L254.6,994.9 L252.6,992.5 L250.6,990.4 L248.8,988.4 L247.3,986.8 L245.8,985.6 L244.2,984.9 L243.1,984.6 L242.0,984.8 L240.7,985.5 L239.7,986.7 L238.8,988.4 L237.7,990.5 L236.8,992.9 L235.8,995.6 L234.7,998.6 L233.6,1001.6 L232.5,1004.7 L231.3,1007.7 L229.9,1010.6 L228.5,1013.2 L227.1,1015.5 L225.6,1017.4 L223.9,1018.9 L222.2,1019.8 L220.8,1020.2 L219.1,1020.1 L217.5,1019.5 L216.1,1018.3 L214.6,1016.6 L213.1,1014.5 L211.9,1012.1 L210.7,1009.3 L209.5,1006.3 L208.5,1003.2 L207.5,1000.0 L206.6,996.9 L205.7,994.0 L204.9,991.3 L204.1,988.9 L203.1,986.8 L202.3,985.3 L201.4,984.1 L200.1,983.5 L199.0,983.3 L197.8,983.7 L196.4,984.5 L194.6,985.7 L192.8,987.3 L190.9,989.2 L188.8,991.3 L186.6,993.6 L184.3,995.9 L182.0,998.2 L179.6,1000.4 L177.1,1002.4 L174.9,1004.2 L172.6,1005.5 L170.4,1006.4 L168.3,1006.9 L166.7,1007.1 L165.0,1006.6 L163.6,1005.6 L162.7,1004.3 L161.8,1002.4 L161.2,1000.2 L161.0,997.6 L160.8,994.7 L160.9,991.6 L161.3,988.4" fill="none" stroke="#858585" stroke-width="1.7" stroke-linejoin="round"/><path d="M153.4,852.0 L141.6,840.4 M157.3,852.4 L139.8,834.5 M160.3,850.9 L139.4,826.8 M161.0,847.8 L140.6,823.5 M160.0,840.6 L145.2,821.5 M158.1,831.3 L152.3,823.1 M157.1,816.3 L166.1,831.0 M158.3,812.2 L171.2,834.3 M162.1,809.2 L177.3,837.5 M166.1,809.6 L179.9,837.9 M172.9,813.3 L182.6,834.9 M180.3,819.6 L183.8,828.2 M191.0,829.4 L185.2,812.4 M194.0,831.4 L186.5,806.4 M197.6,830.8 L189.4,799.7 M199.5,828.0 L192.1,797.6 M201.8,820.8 L197.1,798.2 M204.2,811.5 L202.8,803.1 M209.9,797.8 L211.8,816.4 M212.7,794.9 L214.9,821.4 M217.4,794.3 L219.0,826.5 M220.6,796.6 L221.6,827.7 M225.3,803.2 L225.2,825.7 M229.4,812.0 L229.1,819.8 M234.9,825.1 L237.0,806.0 M237.1,827.9 L240.5,801.1 M240.7,828.5 L245.9,796.6 M243.4,826.4 L249.4,796.1 M248.6,820.5 L253.6,799.2 M254.7,813.0 L256.6,806.4 M265.4,803.3 L259.2,822.2 M269.4,802.1 L259.8,827.9 M273.8,804.0 L261.5,833.9 M275.6,807.6 L263.4,835.8 M276.8,815.9 L267.7,835.1 M276.8,825.7 L273.9,831.1 M276.3,839.4 L287.1,822.0 M277.2,842.7 L292.3,819.3 M280.4,844.4 L298.9,817.9 M283.8,843.4 L302.2,819.2 M291.2,840.2 L304.3,824.2 M306.0,833.9 L302.0,838.3 M313.8,832.5 L298.9,847.5 M317.7,833.5 L297.0,852.8 M320.4,837.5 L295.9,858.6 M320.3,842.0 L296.8,860.7 M317.4,850.0 L301.2,861.8 M309.4,863.8 L315.1,860.2 M305.9,870.0 L324.9,859.4 M305.3,873.2 L330.6,859.7 M307.7,875.9 L336.8,861.9 M311.4,876.7 L338.7,864.9 M319.6,877.4 L337.7,870.5 M335.6,879.6 L328.3,881.7 M342.7,882.6 L320.9,887.9 M345.2,885.2 L316.8,891.5 M345.1,890.6 L313.2,895.6 M342.4,894.1 L313.2,898.0 M335.4,899.5 L316.8,901.2 M321.4,907.0 L329.8,906.9 M315.4,910.3 L338.3,911.6 M313.5,912.6 L342.8,914.9 M314.5,916.2 L346.4,920.1 M317.4,918.9 L346.1,923.6 M324.2,924.1 L341.9,927.8 M336.3,934.6 L327.5,931.9 M340.3,940.8 L318.0,933.1 M340.6,944.6 L312.9,933.7 M337.3,948.5 L307.9,935.6 M332.9,949.9 L306.8,937.8 M324.0,950.6 L308.5,942.6 M308.2,949.4 L316.6,954.7 M301.5,949.4 L321.4,963.0 M299.1,950.3 L323.2,968.3 M298.3,954.2 L323.2,974.3 M299.4,958.4 L321.1,976.7 M302.8,966.4 L314.9,977.9 M307.7,981.5 L300.3,973.7 M307.8,988.7 L291.6,970.1 M306.0,991.8 L286.9,968.2 M301.0,993.2 L282.0,967.7 M296.4,992.0 L280.1,969.3 M288.2,988.0 L279.3,974.7 M275.1,979.5 L280.7,989.5 M269.3,976.7 L280.8,999.0 M266.6,976.8 L280.1,1004.3 M264.5,980.2 L276.9,1009.3 M263.6,984.6 L273.9,1010.2 M262.7,993.6 L267.9,1007.9 M260.3,1009.1 L256.7,997.4 M257.2,1015.2 L250.6,990.4 M254.1,1016.9 L247.3,986.8 M249.0,1015.5 L243.1,984.6 M245.3,1012.2 L240.7,985.5 M239.7,1004.9 L237.7,990.5 M231.6,991.7 L232.5,1004.7 M227.7,987.1 L228.5,1013.2 M225.1,986.3 L225.6,1017.4 M221.5,988.9 L220.8,1020.2 M218.9,992.8 L217.5,1019.5 M214.4,1000.8 L213.1,1014.5 M205.6,1013.6 L207.5,1000.0 M200.2,1017.5 L204.9,991.3 M197.0,1017.6 L203.1,986.8 M193.0,1013.8 L200.1,983.5 M190.9,1009.0 L197.8,983.7 M189.0,999.8 L192.8,987.3 M187.0,984.7 L182.0,998.2 M185.2,979.1 L174.9,1004.2 M183.4,977.8 L170.4,1006.4 M178.8,979.0 L165.0,1006.6 M174.6,981.5 L162.7,1004.3 M167.1,986.9 L161.0,997.6" fill="none" stroke="#858585" stroke-width="0.6"/>
<path d="M158.8,874.6 L159.1,873.1 L158.7,871.5 L158.0,869.7 L157.1,867.3 L155.9,864.9 L154.6,862.3 L153.3,859.4 L152.0,856.5 L150.8,853.6 L149.7,850.7 L149.0,847.9 L148.7,845.3 L148.5,843.1 L148.8,841.1 L149.6,839.4 L150.6,838.4 L152.2,837.5 L154.1,837.1 L156.1,837.3 L158.6,837.7 L161.3,838.5 L164.0,839.7 L166.9,841.0 L169.7,842.5 L172.5,844.0 L175.1,845.5 L177.5,846.9 L179.9,848.1 L181.9,849.0 L183.5,849.6 L185.2,849.7 L186.3,849.4 L187.1,848.7 L188.0,847.4 L188.4,845.7 L188.7,843.7 L189.0,841.1 L189.2,838.4 L189.3,835.4 L189.5,832.2 L189.7,829.0 L190.1,825.9 L190.5,822.9 L191.3,820.2 L192.0,817.9 L193.1,815.9 L194.4,814.4 L195.6,813.5 L197.2,813.0 L199.0,813.1 L200.7,813.8 L202.7,815.0 L204.7,816.6 L206.5,818.6 L208.5,820.9 L210.4,823.4 L212.3,826.0 L214.0,828.6 L215.6,831.1 L217.3,833.4 L218.7,835.4 L220.3,837.0 L221.5,838.2 L222.7,838.8 L224.1,839.0 L225.2,838.6 L226.2,837.7 L227.6,836.3 L228.8,834.4 L230.0,832.2 L231.5,829.7 L233.0,827.0 L234.5,824.2 L236.1,821.5 L237.8,818.9 L239.5,816.4 L241.3,814.4 L243.2,812.7 L244.7,811.5 L246.6,810.8 L248.3,810.6 L249.7,811.0 L251.2,812.0 L252.6,813.5 L253.6,815.5 L254.7,817.9 L255.5,820.6 L256.3,823.6 L257.0,826.7 L257.5,829.8 L258.0,832.9 L258.3,835.8 L258.9,838.6 L259.3,840.9 L259.8,842.8 L260.7,844.4 L261.5,845.4 L262.5,845.8 L263.9,846.0 L265.4,845.5 L267.0,844.6 L269.1,843.5 L271.3,842.0 L273.6,840.3 L276.2,838.5 L278.8,836.7 L281.4,835.0 L284.1,833.4 L286.8,832.1 L289.1,831.0 L291.5,830.5 L293.7,830.3 L295.3,830.5 L296.8,831.3 L298.1,832.5 L298.7,834.0 L299.2,836.1 L299.3,838.6 L299.0,841.1 L298.5,844.0 L297.8,847.1 L296.9,850.1 L295.9,853.1 L294.9,856.0 L294.0,858.9 L293.1,861.3 L292.5,863.5 L292.0,865.3 L292.2,867.0 L292.4,868.2 L293.1,869.0 L294.5,869.7 L296.0,869.9 L298.0,869.9 L300.4,869.9 L303.1,869.5 L306.0,869.2 L309.1,868.9 L312.3,868.6 L315.5,868.5 L318.5,868.4 L321.4,868.6 L324.0,869.2 L326.3,870.0 L328.0,870.7 L329.3,872.0 L330.2,873.6 L330.3,875.1 L330.1,877.1 L329.4,879.2 L328.0,881.1 L326.4,883.4 L324.4,885.6 L322.2,887.8 L319.8,889.9 L317.3,891.9 L314.9,893.8 L312.7,895.7 L310.7,897.2 L309.1,898.6 L307.9,900.2 L307.1,901.4 L306.9,902.5 L307.2,903.5 L308.0,904.8 L309.3,905.8 L311.1,906.8 L313.2,908.2 L315.7,909.3 L318.3,910.6 L321.1,912.1 L323.9,913.6 L326.6,915.3 L329.1,917.1 L331.3,918.7 L333.1,920.6 L334.4,922.5 L335.3,924.5 L335.6,925.9 L335.3,927.7 L334.4,929.3 L333.0,930.5 L331.1,931.8 L328.8,932.9 L326.1,933.6 L323.2,934.3 L320.1,934.8 L316.9,935.2 L313.7,935.5 L310.7,935.7 L308.0,935.9 L305.5,936.3 L303.4,936.6 L301.8,937.0 L300.4,937.9 L299.7,938.7 L299.5,939.8 L299.7,941.1 L300.2,943.0 L301.2,944.9 L302.4,947.1 L303.7,949.7 L305.3,952.3 L306.8,955.0 L308.3,957.8 L309.6,960.7 L310.7,963.5 L311.6,966.1 L312.0,968.6 L312.0,970.8 L311.8,972.5 L311.0,974.1 L309.7,975.3 L308.2,975.9 L306.2,976.3 L303.8,976.2 L301.2,975.8 L298.6,975.0 L295.7,974.0 L292.8,972.8 L289.9,971.4 L287.1,970.1 L284.4,968.7 L281.9,967.6 L279.7,966.6 L277.8,965.9 L276.0,965.7 L274.8,965.7 L273.8,966.2 L272.8,967.3 L272.4,968.7 L271.9,970.7 L271.8,972.9 L271.8,975.5 L271.8,978.4 L271.9,981.5 L271.9,984.7 L271.8,987.8 L271.6,990.9 L271.1,993.9 L270.7,996.5 L269.8,998.8 L268.7,1000.6 L267.7,1001.9 L266.2,1002.8 L264.5,1003.1 L262.9,1002.8 L260.9,1002.1 L258.8,1000.9 L256.9,999.2 L254.8,997.2 L252.8,994.9 L250.7,992.4 L248.8,989.9 L246.8,987.5 L245.1,985.1 L243.5,983.0 L241.8,981.3 L240.4,979.9 L239.2,979.0 L237.7,978.6 L236.7,978.8 L235.6,979.4 L234.3,980.6 L233.3,982.3 L232.0,984.3 L230.8,986.7 L229.6,989.4 L228.2,992.2 L226.8,995.1 L225.3,997.9 L223.8,1000.5 L222.2,1002.9 L220.4,1004.9 L218.9,1006.6 L217.1,1007.7 L215.3,1008.2 L213.9,1008.3 L212.3,1007.7 L211.0,1006.6 L209.5,1005.0 L208.2,1002.9 L207.2,1000.5 L206.2,997.7 L205.3,994.7 L204.6,991.6 L203.9,988.5 L203.3,985.5 L202.6,982.7 L202.1,980.1 L201.5,978.0 L200.6,976.2 L199.8,975.0 L198.6,974.1 L197.6,973.9 L196.3,974.2 L194.6,974.8 L192.9,975.9 L191.0,977.4 L188.7,979.0 L186.4,980.9 L184.0,982.9 L181.5,984.8 L178.9,986.7 L176.3,988.3 L173.9,989.7 L171.5,990.7 L169.2,991.2 L167.4,991.5 L165.6,991.1 L164.1,990.2 L163.2,989.0 L162.4,987.2 L161.9,985.0 L161.9,982.6 L162.0,979.8 L162.4,976.8 L163.1,973.8 L163.8,970.7 L164.7,967.6 L165.4,964.7 L166.2,962.0 L166.9,959.6 L167.1,957.3 L167.3,955.6 L167.1,954.3 L166.4,953.1 L165.5,952.5 L164.2,952.2 L162.3,952.0 L160.2,952.2 L157.7,952.6 L154.9,953.0 L152.0,953.6 L148.9,954.2 L145.7,954.7 L142.6,955.0 L139.5,955.1 L136.7,954.9 L134.3,954.7 L132.1,953.9 L130.4,952.9 L129.3,951.9 L128.6,950.3 L128.3,948.4 L128.8,946.7 L129.6,944.4 L130.8,942.1 L132.5,939.9 L134.4,937.5 L136.5,935.2 L138.8,932.9 L141.1,930.7 L143.3,928.7 L145.3,926.9 L147.0,925.0 L148.4,923.6 L149.3,922.3 L149.7,920.8 M135.4,859.2 L135.2,857.4 L135.7,855.6 L136.7,854.1 L137.9,853.3 L139.7,852.5 L142.0,852.1 L144.4,852.2 L147.2,852.5 L150.2,853.0 L153.2,853.8 L156.3,854.7 L159.3,855.6 L162.2,856.5 L164.8,857.4 L167.2,858.2 L169.4,858.5 L171.1,858.8 L172.5,858.7 L173.7,858.0 L174.4,857.1 L174.7,855.7 L175.0,853.8 L174.8,851.7 L174.5,849.3 L174.2,846.4 L173.7,843.4 L173.3,840.3 L172.9,837.1 L172.7,834.0 L172.7,831.0 L172.8,828.3 L173.3,825.8 L174.0,823.7 L174.8,822.1 L176.1,820.9 L177.7,820.2 L179.3,820.2 L181.3,820.5 L183.5,821.3 L185.5,822.7 L187.9,824.3 L190.3,826.3 L192.5,828.4 L194.8,830.7 L197.1,832.9 L199.1,835.0 L201.0,837.0 L203.0,838.6 L204.5,839.9 L205.9,840.8 L207.4,841.1 L208.5,841.0 L209.5,840.4 L210.7,839.2 L211.5,837.6 L212.4,835.5 L213.4,833.0 L214.3,830.3 L215.2,827.4 L216.3,824.4 L217.4,821.4 L218.5,818.5 L219.9,815.9 L221.3,813.6 L222.6,811.6 L224.3,810.2 L225.9,809.3 L227.3,808.9 L229.1,809.1 L230.7,809.9 L232.1,811.2 L233.7,812.9 L235.0,815.2 L236.4,817.7 L237.7,820.5 L238.8,823.5 L239.9,826.5 L240.9,829.4 L241.9,832.2 L242.8,834.7 L243.6,836.9 L244.7,838.7 L245.6,840.0 L246.5,840.7 L247.9,841.1 L249.1,840.8 L250.7,840.1 L252.2,838.9 L253.8,837.3 L255.8,835.5 L257.8,833.3 L260.0,831.1 L262.2,828.8 L264.5,826.6 L266.9,824.6 L269.1,822.8 L271.4,821.5 L273.6,820.5 L275.4,819.9 L277.3,819.9 L279.0,820.4 L280.1,821.4 L281.2,822.9 L282.1,824.9 L282.4,827.2 L282.7,829.9 L282.7,832.8 L282.6,835.9 L282.3,839.1 L281.9,842.3 L281.5,845.3 L281.1,848.1 L280.9,850.8 L280.7,853.0 L280.7,854.9 L281.2,856.5 L281.8,857.5 L282.7,858.1 L284.2,858.5 L285.8,858.4 L287.7,857.9 L290.2,857.3 L292.7,856.4 L295.5,855.5 L298.5,854.5 L301.5,853.5 L304.6,852.7 L307.6,852.2 L310.4,851.7 L313.0,851.6 L315.4,852.0 L317.1,852.4 L318.7,853.4 L319.8,854.8 L320.2,856.2 L320.4,858.2 L320.1,860.4 L319.2,862.6 L318.0,865.2 L316.6,867.8 L314.8,870.4 L313.0,873.0 L311.1,875.5 L309.2,877.9 L307.5,880.2 L305.9,882.2 L304.7,883.9 L304.0,885.7 L303.5,887.0 L303.6,888.1 L304.3,889.3 L305.4,890.1 L306.9,890.7 L308.9,891.3 L311.3,892.1 L314.0,892.7 L317.0,893.3 L320.0,894.1 L323.1,895.0 L326.1,896.0 L328.9,897.0 L331.4,898.3 L333.6,899.7 L335.3,901.3 L336.4,902.6 L337.1,904.3 L337.1,906.1 L336.6,907.6 L335.5,909.3 L333.9,911.0 L331.8,912.6 L329.4,913.9 L326.6,915.3 L323.7,916.5 L320.7,917.6 L317.7,918.6 L314.9,919.5 L312.3,920.3 L309.9,921.3 L308.1,922.0 L306.6,922.8 L305.6,924.0 L305.2,924.9 L305.2,926.0 L305.7,927.6 L306.7,929.1 L308.2,930.7 L309.9,932.6 L311.8,934.8 L313.9,937.0 L316.0,939.3 L318.0,941.8 L319.9,944.3 L321.6,946.8 L323.0,949.0 L323.9,951.4 L324.3,953.6 L324.2,955.6 L323.9,957.0 L322.8,958.4 L321.3,959.5 L319.5,960.0 L317.1,960.5 L314.5,960.6 L311.7,960.3 L308.6,959.9 L305.5,959.3 L302.4,958.6 L299.3,957.9 L296.5,957.1 L293.8,956.6 L291.5,956.0 L289.6,955.7 L287.8,956.0 L286.6,956.3 L285.8,957.0 L285.4,958.1 L285.0,959.8 L285.2,961.6 L285.5,963.9 L285.9,966.6 L286.5,969.4 L287.2,972.4 L287.8,975.6 L288.2,978.7 L288.6,981.8 L288.8,984.7 L288.6,987.4 L288.2,989.8 L287.6,991.6 L286.6,993.2 L285.5,994.1 L283.8,994.7 L281.9,994.8 L280.1,994.3 L277.8,993.4 L275.4,992.2 L273.0,990.5 L270.5,988.6 L268.1,986.6 L265.7,984.5 L263.4,982.4 L261.3,980.4 L259.2,978.7 L257.5,977.3 L255.9,976.2 L254.3,975.7 L253.1,975.5 L252.1,975.9 L250.9,976.9 L250.1,978.3 L249.1,980.2 L248.5,982.4 L247.8,985.0 L246.9,987.9 L246.1,990.9 L245.2,994.0 L244.3,997.0 L243.2,999.8 L241.9,1002.5 L240.8,1004.7 L239.3,1006.5 L237.7,1007.9 L236.4,1008.7 L234.7,1008.9 L233.2,1008.6 L231.5,1007.7 L229.8,1006.3 L228.4,1004.4 L226.8,1002.1 L225.3,999.5 L224.0,996.7 L222.7,993.8 L221.5,990.9 L220.3,988.1 L219.2,985.4 L218.3,983.1 L217.1,981.1 L216.1,979.6 L214.9,978.5 L213.8,978.0 L212.7,978.0 L211.2,978.5 L209.9,979.5 L208.4,981.0 L206.6,982.7 L204.8,984.8 L202.9,987.1 L200.8,989.5 L198.6,991.9 L196.4,994.1 L194.3,996.2 L192.0,998.0 L190.0,999.4 L187.9,1000.3 L186.0,1000.7 L184.5,1000.7 L182.9,1000.1 L181.5,998.9 L180.6,997.4 L179.7,995.3 L179.1,992.8 L178.9,990.1 L178.7,987.0 L178.7,983.9 L178.9,980.7 L179.1,977.5 L179.4,974.6 L179.4,971.7 L179.6,969.3 L179.6,967.2 L179.1,965.4 L178.7,964.1 L177.9,963.3 L176.6,962.8 L175.2,962.8 L173.5,963.2 L171.3,963.7 L168.9,964.7 L166.3,965.8 L163.5,966.9 L160.5,968.0 L157.5,969.1 L154.6,970.1 L151.7,970.8 L148.9,971.2 L146.5,971.5 L144.3,971.2 L142.4,970.6 L141.2,969.8 L140.2,968.3 L139.6,966.5 L139.7,964.7 L140.0,962.3 L140.7,959.8 L141.9,957.3 L143.3,954.5 L144.9,951.7 L146.6,949.1 L148.3,946.4 L150.0,944.0 L151.5,941.8 L152.7,939.6 L153.7,937.9 L154.2,936.4 L154.2,934.9 L153.9,933.9 L153.1,933.1 L151.7,932.2 L149.9,931.7 L147.7,931.3 L145.1,930.9 L142.3,930.4 L139.2,929.9 L136.1,929.3 L133.0,928.7 L130.0,927.9 L127.2,926.9 L124.7,926.0" fill="none" stroke="#979797" stroke-width="1.7" stroke-linejoin="round"/><path d="M158.7,871.5 L135.7,855.6 M157.1,867.3 L137.9,853.3 M153.3,859.4 L144.4,852.2 M148.7,845.3 L159.3,855.6 M149.6,839.4 L167.2,858.2 M152.2,837.5 L171.1,858.8 M158.6,837.7 L174.4,857.1 M164.0,839.7 L175.0,853.8 M177.5,846.9 L173.3,840.3 M183.5,849.6 L172.7,831.0 M187.1,848.7 L174.0,823.7 M188.4,845.7 L176.1,820.9 M189.2,838.4 L181.3,820.5 M189.5,832.2 L185.5,822.7 M190.5,822.9 L192.5,828.4 M192.0,817.9 L197.1,832.9 M195.6,813.5 L203.0,838.6 M200.7,813.8 L207.4,841.1 M204.7,816.6 L209.5,840.4 M210.4,823.4 L212.4,835.5 M218.7,835.4 L217.4,821.4 M221.5,838.2 L219.9,815.9 M225.2,838.6 L224.3,810.2 M227.6,836.3 L227.3,808.9 M231.5,829.7 L232.1,811.2 M239.5,816.4 L238.8,823.5 M244.7,811.5 L241.9,832.2 M248.3,810.6 L243.6,836.9 M252.6,813.5 L246.5,840.7 M254.7,817.9 L249.1,840.8 M257.0,826.7 L253.8,837.3 M259.3,840.9 L264.5,826.6 M261.5,845.4 L271.4,821.5 M263.9,846.0 L275.4,819.9 M269.1,843.5 L280.1,821.4 M273.6,840.3 L282.1,824.9 M286.8,832.1 L282.3,839.1 M293.7,830.3 L281.1,848.1 M298.1,832.5 L280.7,854.9 M299.2,836.1 L281.8,857.5 M298.5,844.0 L285.8,858.4 M296.9,850.1 L290.2,857.3 M294.0,858.9 L298.5,854.5 M292.5,863.5 L304.6,852.7 M292.4,868.2 L313.0,851.6 M296.0,869.9 L318.7,853.4 M300.4,869.9 L320.2,856.2 M309.1,868.9 L319.2,862.6 M324.0,869.2 L311.1,875.5 M328.0,870.7 L307.5,880.2 M330.3,875.1 L304.0,885.7 M328.0,881.1 L304.3,889.3 M324.4,885.6 L306.9,890.7 M312.7,895.7 L320.0,894.1 M307.9,900.2 L328.9,897.0 M306.9,902.5 L333.6,899.7 M309.3,905.8 L337.1,904.3 M313.2,908.2 L336.6,907.6 M321.1,912.1 L331.8,912.6 M329.1,917.1 L323.7,916.5 M333.1,920.6 L317.7,918.6 M335.6,925.9 L309.9,921.3 M334.4,929.3 L306.6,922.8 M328.8,932.9 L305.2,926.0 M323.2,934.3 L306.7,929.1 M305.5,936.3 L318.0,941.8 M301.8,937.0 L321.6,946.8 M299.5,939.8 L324.3,953.6 M300.2,943.0 L323.9,957.0 M303.7,949.7 L319.5,960.0 M306.8,955.0 L314.5,960.6 M310.7,963.5 L305.5,959.3 M312.0,970.8 L296.5,957.1 M311.0,974.1 L291.5,956.0 M306.2,976.3 L286.6,956.3 M301.2,975.8 L285.4,958.1 M292.8,972.8 L285.5,963.9 M279.7,966.6 L288.2,978.7 M276.0,965.7 L288.8,984.7 M272.8,967.3 L287.6,991.6 M271.8,972.9 L283.8,994.7 M271.8,978.4 L280.1,994.3 M271.1,993.9 L268.1,986.6 M268.7,1000.6 L261.3,980.4 M266.2,1002.8 L257.5,977.3 M260.9,1002.1 L253.1,975.5 M254.8,997.2 L250.1,978.3 M250.7,992.4 L248.5,982.4 M245.1,985.1 L246.1,990.9 M241.8,981.3 L244.3,997.0 M237.7,978.6 L240.8,1004.7 M235.6,979.4 L237.7,1007.9 M232.0,984.3 L233.2,1008.6 M229.6,989.4 L229.8,1006.3 M220.4,1004.9 L221.5,990.9 M217.1,1007.7 L219.2,985.4 M212.3,1007.7 L216.1,979.6 M209.5,1005.0 L213.8,978.0 M206.2,997.7 L209.9,979.5 M204.6,991.6 L206.6,982.7 M202.6,982.7 L200.8,989.5 M200.6,976.2 L194.3,996.2 M198.6,974.1 L190.0,999.4 M194.6,974.8 L184.5,1000.7 M191.0,977.4 L181.5,998.9 M184.0,982.9 L179.1,992.8 M171.5,990.7 L179.1,977.5 M165.6,991.1 L179.6,969.3 M163.2,989.0 L179.1,965.4 M161.9,982.6 L176.6,962.8 M162.4,976.8 L173.5,963.2 M166.2,962.0 L160.5,968.0 M167.3,955.6 L151.7,970.8 M166.4,953.1 L146.5,971.5 M162.3,952.0 L141.2,969.8 M154.9,953.0 L139.7,964.7 M148.9,954.2 L140.7,959.8 M139.5,955.1 L144.9,951.7 M134.3,954.7 L148.3,946.4 M129.3,951.9 L152.7,939.6 M128.3,948.4 L154.2,936.4 M130.8,942.1 L153.1,933.1 M136.5,935.2 L147.7,931.3 M147.0,925.0 L133.0,928.7 M149.3,922.3 L127.2,926.9" fill="none" stroke="#979797" stroke-width="0.6"/>
<path d="M143.8,976.3 L142.2,978.3 L140.7,980.2 L139.4,982.1 L138.4,983.9 L137.6,985.6 L137.1,987.2 L136.9,988.8 L137.0,990.2 L137.5,991.5 L138.3,992.7 L139.4,993.9 L140.9,994.9 L142.6,995.8 L144.5,996.7 L146.7,997.5 L149.1,998.2 L151.5,998.9 L154.1,999.6 L156.7,1000.3 L159.3,1001.0 L161.8,1001.6 L164.2,1002.4 L166.4,1003.1 L168.5,1004.0 L170.2,1004.9 L171.8,1005.9 L173.0,1007.0 L173.9,1008.2 L174.4,1009.5 L174.7,1010.9 L174.6,1012.4 L174.2,1014.0 L173.5,1015.7 L172.5,1017.4 L171.3,1019.2 L169.9,1021.2 L168.3,1023.1 L166.7,1025.1 L164.9,1027.2 L163.2,1029.2 L161.5,1031.2 L159.9,1033.2 L158.4,1035.2 L157.1,1037.1 L156.0,1038.9 L155.1,1040.7 L154.6,1042.3 L154.3,1043.9 L154.4,1045.3 L154.8,1046.7 L155.6,1047.9 L156.6,1049.0 L158.0,1050.1 L159.6,1051.0 L161.5,1051.9 L163.7,1052.7 L166.0,1053.4 L168.5,1054.1 L171.0,1054.8 L173.6,1055.4 L176.2,1056.1 L178.7,1056.7 L181.2,1057.4 L183.5,1058.2 L185.5,1059.0 L187.4,1059.9 L189.0,1060.8 L190.3,1061.9 L191.3,1063.1 L191.9,1064.3 L192.3,1065.8 L192.3,1067.3 L191.9,1068.9 L191.3,1070.5 L190.4,1072.3 L189.2,1074.1 L187.9,1076.0 L186.3,1078.0 L184.7,1080.0 L182.9,1082.0 L181.1,1084.0 L179.4,1086.0 L177.7,1088.0 L176.2,1090.0 L174.8,1091.9 L173.7,1093.7 L172.8,1095.4 L172.1,1097.1 L171.8,1098.7 L171.8,1100.2 L172.1,1101.5 L172.7,1102.8 L173.7,1104.0 L175.0,1105.1 L176.6,1106.0 L178.4,1106.9 L180.5,1107.8 L182.8,1108.5 L185.2,1109.3 L187.7,1109.9 L190.3,1110.6 L192.9,1111.3 L195.5,1112.0 L197.9,1112.7 L200.2,1113.4 L202.4,1114.2 L204.3,1115.1 L205.9,1116.1 L207.3,1117.1 L208.3,1118.3 L209.0,1119.5 L209.4,1120.9 L209.5,1122.3 L209.2,1123.9 M143.4,976.4 L145.9,977.1 L148.5,977.8 L151.1,978.5 L153.6,979.1 L156.1,979.8 L158.4,980.6 L160.6,981.4 L162.5,982.3 L164.1,983.2 L165.5,984.3 L166.6,985.4 L167.3,986.7 L167.7,988.0 L167.8,989.5 L167.5,991.0 L167.0,992.7 L166.1,994.4 L165.0,996.2 L163.7,998.1 L162.2,1000.0 L160.6,1002.0 L158.9,1004.0 L157.1,1006.0 L155.4,1008.1 L153.7,1010.1 L152.1,1012.0 L150.7,1013.9 L149.5,1015.8 L148.5,1017.6 L147.8,1019.3 L147.3,1020.9 L147.2,1022.4 L147.5,1023.8 L148.1,1025.2 L149.0,1026.4 L150.2,1027.5 L151.7,1028.5 L153.5,1029.4 L155.5,1030.2 L157.7,1031.0 L160.1,1031.7 L162.6,1032.3 L165.2,1033.0 L167.8,1033.6 L170.4,1034.3 L172.9,1035.0 L175.3,1035.7 L177.4,1036.5 L179.4,1037.3 L181.2,1038.2 L182.6,1039.2 L183.7,1040.4 L184.6,1041.6 L185.1,1042.9 L185.2,1044.3 L185.1,1045.8 L184.6,1047.5 L183.8,1049.2 L182.8,1051.0 L181.5,1052.9 L180.1,1054.8 L178.5,1056.8 L176.8,1058.8 L175.1,1060.9 L173.3,1062.9 L171.7,1064.9 L170.1,1066.9 L168.6,1068.8 L167.4,1070.7 L166.3,1072.5 L165.5,1074.1 L165.0,1075.7 L164.9,1077.3 L165.0,1078.7 L165.5,1080.0 L166.3,1081.3 L167.4,1082.4 L168.9,1083.4 L170.6,1084.3 L172.5,1085.2 L174.7,1086.0 L177.1,1086.7 L179.6,1087.4 L182.1,1088.1 L184.7,1088.8 L187.3,1089.5 L189.8,1090.2 L192.2,1090.9 L194.4,1091.7 L196.5,1092.5 L198.2,1093.4 L199.7,1094.4 L201.0,1095.5 L201.8,1096.7 L202.4,1098.0 L202.6,1099.4 L202.5,1100.9 L202.1,1102.5 L201.4,1104.2 L200.4,1106.0 L199.2,1107.9 L197.8,1109.8 L196.2,1111.7 L194.5,1113.7 L192.8,1115.7 L191.0,1117.8 L189.3,1119.8 L187.6,1121.8 L186.1,1123.7 L184.8,1125.6 L183.7,1127.4 L182.9,1129.1 L182.3,1130.8 L182.1,1132.3" fill="none" stroke="#de8524" stroke-width="2.0" stroke-linejoin="round"/><path d="M140.7,980.2 L148.5,977.8 M137.6,985.6 L156.1,979.8 M137.0,990.2 L162.5,982.3 M138.3,992.7 L165.5,984.3 M142.6,995.8 L167.7,988.0 M149.1,998.2 L167.0,992.7 M156.7,1000.3 L163.7,998.1 M164.2,1002.4 L158.9,1004.0 M170.2,1004.9 L153.7,1010.1 M173.9,1008.2 L149.5,1015.8 M174.7,1010.9 L147.8,1019.3 M173.5,1015.7 L147.5,1023.8 M169.9,1021.2 L150.2,1027.5 M164.9,1027.2 L155.5,1030.2 M156.0,1038.9 L170.4,1034.3 M154.6,1042.3 L175.3,1035.7 M154.8,1046.7 L181.2,1038.2 M158.0,1050.1 L184.6,1041.6 M163.7,1052.7 L185.1,1045.8 M171.0,1054.8 L182.8,1051.0 M183.5,1058.2 L175.1,1060.9 M189.0,1060.8 L170.1,1066.9 M191.9,1064.3 L166.3,1072.5 M191.9,1068.9 L164.9,1077.3 M189.2,1074.1 L166.3,1081.3 M184.7,1080.0 L170.6,1084.3 M176.2,1090.0 L182.1,1088.1 M172.8,1095.4 L189.8,1090.2 M171.8,1100.2 L196.5,1092.5 M173.7,1104.0 L201.0,1095.5 M178.4,1106.9 L202.6,1099.4 M185.2,1109.3 L201.4,1104.2 M190.3,1110.6 L199.2,1107.9 M204.3,1115.1 L189.3,1119.8 M208.3,1118.3 L184.8,1125.6 M209.5,1122.3 L182.3,1130.8" fill="none" stroke="#de8524" stroke-width="0.9"/>
<path d="M233.7,843.6 L251.1,850.0" stroke="#4a4ab0" stroke-width="13.1" stroke-linecap="round"/><path d="M233.7,843.6 L251.1,850.0" stroke="#7c7cec" stroke-width="11.5" stroke-linecap="round"/><path d="M236.1,838.3 Q237.1,844.8 234.7,850.1 M239.5,839.6 Q240.5,846.1 238.1,851.3 M242.9,840.8 Q243.9,847.4 241.5,852.6 M246.2,842.1 Q247.2,848.6 244.9,853.9 M249.6,843.4 Q250.6,849.9 248.2,855.1" stroke="#4a4ab0" stroke-width="1.1" fill="none" opacity="0.8"/><path d="M251.1,854.4 L291.0,854.4" stroke="#4a4ab0" stroke-width="13.1" stroke-linecap="round"/><path d="M251.1,854.4 L291.0,854.4" stroke="#7c7cec" stroke-width="11.5" stroke-linecap="round"/><path d="M251.5,848.7 Q254.7,854.4 254.3,860.2 M255.1,848.7 Q258.3,854.4 257.9,860.2 M258.7,848.7 Q261.9,854.4 261.5,860.2 M262.3,848.7 Q265.5,854.4 265.1,860.2 M265.9,848.7 Q269.1,854.4 268.7,860.2 M269.5,848.7 Q272.7,854.4 272.3,860.2 M273.1,848.7 Q276.3,854.4 275.9,860.2 M276.7,848.7 Q279.9,854.4 279.5,860.2 M280.3,848.7 Q283.5,854.4 283.1,860.2 M283.9,848.7 Q287.1,854.4 286.7,860.2 M287.5,848.7 Q290.7,854.4 290.3,860.2" stroke="#4a4ab0" stroke-width="1.1" fill="none" opacity="0.8"/><path d="M233.7,867.3 L286.4,900.1" stroke="#4a4ab0" stroke-width="13.1" stroke-linecap="round"/><path d="M233.7,867.3 L286.4,900.1" stroke="#7c7cec" stroke-width="11.5" stroke-linecap="round"/><path d="M237.1,862.6 Q236.8,869.2 233.4,873.9 M240.2,864.6 Q239.9,871.1 236.5,875.8 M243.2,866.5 Q242.9,873.0 239.5,877.7 M246.3,868.4 Q246.0,874.9 242.6,879.6 M249.3,870.3 Q249.0,876.8 245.6,881.5 M252.4,872.2 Q252.1,878.7 248.7,883.4 M255.5,874.1 Q255.1,880.6 251.8,885.3 M258.5,876.0 Q258.2,882.5 254.8,887.2 M261.6,877.9 Q261.3,884.4 257.9,889.1 M264.6,879.8 Q264.3,886.3 260.9,891.0 M267.7,881.7 Q267.4,888.2 264.0,892.9 M270.7,883.6 Q270.4,890.1 267.0,894.8 M273.8,885.5 Q273.5,892.0 270.1,896.7 M276.9,887.4 Q276.5,893.9 273.2,898.6 M279.9,889.3 Q279.6,895.8 276.2,900.5 M283.0,891.2 Q282.6,897.7 279.3,902.4 M286.0,893.1 Q285.7,899.7 282.3,904.3" stroke="#4a4ab0" stroke-width="1.1" fill="none" opacity="0.8"/><path d="M246.5,904.6 L281.9,917.7" stroke="#4a4ab0" stroke-width="13.1" stroke-linecap="round"/><path d="M246.5,904.6 L281.9,917.7" stroke="#7c7cec" stroke-width="11.5" stroke-linecap="round"/><path d="M248.9,899.4 Q249.9,905.9 247.5,911.1 M252.3,900.6 Q253.3,907.1 250.9,912.4 M255.6,901.9 Q256.6,908.4 254.3,913.6 M259.0,903.1 Q260.0,909.6 257.6,914.9 M262.4,904.4 Q263.4,910.9 261.0,916.1 M265.8,905.6 Q266.8,912.1 264.4,917.4 M269.1,906.9 Q270.1,913.4 267.8,918.6 M272.5,908.1 Q273.5,914.6 271.1,919.9 M275.9,909.4 Q276.9,915.9 274.5,921.1 M279.3,910.6 Q280.3,917.1 277.9,922.4" stroke="#4a4ab0" stroke-width="1.1" fill="none" opacity="0.8"/><path d="M246.5,926.1 L281.9,930.6" stroke="#4a4ab0" stroke-width="13.1" stroke-linecap="round"/><path d="M246.5,926.1 L281.9,930.6" stroke="#7c7cec" stroke-width="11.5" stroke-linecap="round"/><path d="M247.6,920.4 Q250.1,926.5 249.0,932.2 M251.2,920.9 Q253.7,927.0 252.5,932.6 M254.8,921.3 Q257.2,927.5 256.1,933.1 M258.3,921.8 Q260.8,927.9 259.7,933.6 M261.9,922.3 Q264.4,928.4 263.2,934.0 M265.5,922.7 Q267.9,928.8 266.8,934.5 M269.1,923.2 Q271.5,929.3 270.4,934.9 M272.6,923.6 Q275.1,929.7 274.0,935.4 M276.2,924.1 Q278.6,930.2 277.5,935.8 M279.8,924.5 Q282.2,930.6 281.1,936.3" stroke="#4a4ab0" stroke-width="1.1" fill="none" opacity="0.8"/><path d="M202.8,952.6 L233.7,974.7" stroke="#4a4ab0" stroke-width="13.1" stroke-linecap="round"/><path d="M202.8,952.6 L233.7,974.7" stroke="#7c7cec" stroke-width="11.5" stroke-linecap="round"/><path d="M206.5,948.2 Q205.8,954.7 202.1,959.2 M209.4,950.3 Q208.7,956.8 205.0,961.3 M212.4,952.4 Q211.6,958.9 208.0,963.4 M215.3,954.5 Q214.6,961.0 210.9,965.4 M218.2,956.5 Q217.5,963.1 213.8,967.5 M221.2,958.6 Q220.4,965.2 216.8,969.6 M224.1,960.7 Q223.4,967.3 219.7,971.7 M227.0,962.8 Q226.3,969.4 222.6,973.8 M230.0,964.9 Q229.2,971.4 225.6,975.9 M232.9,967.0 Q232.2,973.5 228.5,978.0 M235.8,969.1 Q235.1,975.6 231.4,980.1" stroke="#4a4ab0" stroke-width="1.1" fill="none" opacity="0.8"/><path d="M251.1,956.6 L286.4,963.4" stroke="#4a4ab0" stroke-width="13.1" stroke-linecap="round"/><path d="M251.1,956.6 L286.4,963.4" stroke="#7c7cec" stroke-width="11.5" stroke-linecap="round"/><path d="M252.5,951.0 Q254.6,957.3 253.1,962.8 M256.1,951.7 Q258.1,957.9 256.7,963.5 M259.6,952.4 Q261.7,958.6 260.2,964.2 M263.2,953.1 Q265.2,959.3 263.7,964.9 M266.7,953.7 Q268.7,960.0 267.3,965.6 M270.2,954.4 Q272.3,960.7 270.8,966.2 M273.8,955.1 Q275.8,961.3 274.3,966.9 M277.3,955.8 Q279.4,962.0 277.9,967.6 M280.8,956.4 Q282.9,962.7 281.4,968.3 M284.4,957.1 Q286.4,963.4 284.9,968.9" stroke="#4a4ab0" stroke-width="1.1" fill="none" opacity="0.8"/><path d="M145.6,902.4 L207.3,917.7" stroke="#b07a98" stroke-width="13.1" stroke-linecap="round"/><path d="M145.6,902.4 L207.3,917.7" stroke="#f0b4d2" stroke-width="11.5" stroke-linecap="round"/><path d="M147.4,896.9 Q149.1,903.2 147.3,908.7 M150.9,897.7 Q152.6,904.1 150.8,909.6 M154.4,898.6 Q156.1,905.0 154.3,910.4 M157.9,899.5 Q159.6,905.8 157.8,911.3 M161.4,900.3 Q163.1,906.7 161.3,912.2 M164.9,901.2 Q166.6,907.6 164.8,913.1 M168.4,902.1 Q170.1,908.4 168.3,913.9 M171.9,903.0 Q173.6,909.3 171.8,914.8 M175.3,903.8 Q177.1,910.2 175.3,915.7 M178.8,904.7 Q180.6,911.1 178.8,916.5 M182.3,905.6 Q184.0,911.9 182.3,917.4 M185.8,906.4 Q187.5,912.8 185.8,918.3 M189.3,907.3 Q191.0,913.7 189.3,919.1 M192.8,908.2 Q194.5,914.5 192.7,920.0 M196.3,909.1 Q198.0,915.4 196.2,920.9 M199.8,909.9 Q201.5,916.3 199.7,921.8 M203.3,910.8 Q205.0,917.1 203.2,922.6 M206.8,911.7 Q208.5,918.0 206.7,923.5" stroke="#b07a98" stroke-width="1.1" fill="none" opacity="0.8"/><path d="M147.8,911.2 L202.8,926.4" stroke="#b07a98" stroke-width="13.1" stroke-linecap="round"/><path d="M147.8,911.2 L202.8,926.4" stroke="#f0b4d2" stroke-width="11.5" stroke-linecap="round"/><path d="M149.7,905.7 Q151.3,912.1 149.3,917.6 M153.2,906.7 Q154.7,913.1 152.8,918.5 M156.6,907.7 Q158.2,914.0 156.3,919.5 M160.1,908.6 Q161.7,915.0 159.7,920.4 M163.6,909.6 Q165.1,916.0 163.2,921.4 M167.1,910.5 Q168.6,916.9 166.7,922.4 M170.5,911.5 Q172.1,917.9 170.2,923.3 M174.0,912.5 Q175.5,918.9 173.6,924.3 M177.5,913.4 Q179.0,919.8 177.1,925.2 M180.9,914.4 Q182.5,920.8 180.6,926.2 M184.4,915.3 Q185.9,921.7 184.0,927.2 M187.9,916.3 Q189.4,922.7 187.5,928.1 M191.3,917.3 Q192.9,923.7 191.0,929.1 M194.8,918.2 Q196.4,924.6 194.4,930.1 M198.3,919.2 Q199.8,925.6 197.9,931.0 M201.7,920.1 Q203.3,926.5 201.4,932.0" stroke="#b07a98" stroke-width="1.1" fill="none" opacity="0.8"/><path d="M163.3,920.4 L196.3,932.9" stroke="#b07a98" stroke-width="13.1" stroke-linecap="round"/><path d="M163.3,920.4 L196.3,932.9" stroke="#f0b4d2" stroke-width="11.5" stroke-linecap="round"/><path d="M165.7,915.2 Q166.7,921.7 164.3,926.9 M169.1,916.5 Q170.0,923.0 167.6,928.2 M172.4,917.7 Q173.4,924.2 171.0,929.5 M175.8,919.0 Q176.8,925.5 174.4,930.7 M179.2,920.3 Q180.1,926.8 177.7,932.0 M182.5,921.5 Q183.5,928.0 181.1,933.3 M185.9,922.8 Q186.9,929.3 184.5,934.5 M189.3,924.1 Q190.2,930.6 187.8,935.8 M192.6,925.3 Q193.6,931.8 191.2,937.1 M196.0,926.6 Q197.0,933.1 194.6,938.3" stroke="#b07a98" stroke-width="1.1" fill="none" opacity="0.8"/><path d="M191.8,843.6 L209.5,869.6" stroke="#b07a98" stroke-width="13.1" stroke-linecap="round"/><path d="M191.8,843.6 L209.5,869.6" stroke="#f0b4d2" stroke-width="11.5" stroke-linecap="round"/><path d="M196.8,840.7 Q193.8,846.6 188.8,849.5 M198.8,843.7 Q195.8,849.5 190.9,852.4 M200.8,846.6 Q197.9,852.5 192.9,855.4 M202.8,849.6 Q199.9,855.5 194.9,858.4 M204.9,852.6 Q201.9,858.5 196.9,861.4 M206.9,855.6 Q203.9,861.5 199.0,864.4 M208.9,858.6 Q206.0,864.4 201.0,867.3 M210.9,861.5 Q208.0,867.4 203.0,870.3 M213.0,864.5 Q210.0,870.4 205.0,873.3" stroke="#b07a98" stroke-width="1.1" fill="none" opacity="0.8"/><path d="M165.6,891.0 L186.1,896.7" stroke="#b07a98" stroke-width="13.1" stroke-linecap="round"/><path d="M165.6,891.0 L186.1,896.7" stroke="#f0b4d2" stroke-width="11.5" stroke-linecap="round"/><path d="M167.5,885.6 Q169.0,892.0 167.1,897.4 M171.0,886.6 Q172.5,893.0 170.6,898.4 M174.4,887.5 Q176.0,893.9 174.1,899.4 M177.9,888.5 Q179.5,894.9 177.5,900.3 M181.4,889.4 Q182.9,895.8 181.0,901.3 M184.8,890.4 Q186.4,896.8 184.5,902.2" stroke="#b07a98" stroke-width="1.1" fill="none" opacity="0.8"/><path d="M172.4,858.8 L186.1,858.8" stroke="#704058" stroke-width="13.1" stroke-linecap="round"/><path d="M172.4,858.8 L186.1,858.8" stroke="#c890a8" stroke-width="11.5" stroke-linecap="round"/><path d="M172.8,853.1 Q176.0,858.8 175.6,864.6 M176.4,853.1 Q179.6,858.8 179.2,864.6 M180.0,853.1 Q183.2,858.8 182.8,864.6 M183.6,853.1 Q186.8,858.8 186.4,864.6" stroke="#704058" stroke-width="1.1" fill="none" opacity="0.8"/><path d="M169.8,889.4 L238.1,863.1" stroke="#a8a83a" stroke-width="13.1" stroke-linecap="round"/><path d="M169.8,889.4 L238.1,863.1" stroke="#f2f27a" stroke-width="11.5" stroke-linecap="round"/><path d="M168.1,883.8 Q173.1,888.1 174.8,893.6 M171.5,882.6 Q176.5,886.8 178.2,892.3 M174.8,881.3 Q179.9,885.5 181.6,891.0 M178.2,880.0 Q183.2,884.2 184.9,889.7 M181.5,878.7 Q186.6,882.9 188.3,888.4 M184.9,877.4 Q190.0,881.6 191.6,887.1 M188.3,876.1 Q193.3,880.3 195.0,885.8 M191.6,874.8 Q196.7,879.0 198.4,884.5 M195.0,873.5 Q200.0,877.7 201.7,883.3 M198.3,872.2 Q203.4,876.5 205.1,882.0 M201.7,870.9 Q206.8,875.2 208.4,880.7 M205.1,869.7 Q210.1,873.9 211.8,879.4 M208.4,868.4 Q213.5,872.6 215.2,878.1 M211.8,867.1 Q216.8,871.3 218.5,876.8 M215.2,865.8 Q220.2,870.0 221.9,875.5 M218.5,864.5 Q223.6,868.7 225.2,874.2 M221.9,863.2 Q226.9,867.4 228.6,872.9 M225.2,861.9 Q230.3,866.1 232.0,871.6 M228.6,860.6 Q233.6,864.8 235.3,870.4 M232.0,859.3 Q237.0,863.5 238.7,869.1" stroke="#a8a83a" stroke-width="1.1" fill="none" opacity="0.8"/><path d="M215.7,850.0 L238.1,858.8" stroke="#a8a83a" stroke-width="13.1" stroke-linecap="round"/><path d="M215.7,850.0 L238.1,858.8" stroke="#f2f27a" stroke-width="11.5" stroke-linecap="round"/><path d="M218.2,844.8 Q219.1,851.4 216.6,856.6 M221.6,846.1 Q222.4,852.7 219.9,857.9 M224.9,847.5 Q225.8,854.0 223.3,859.2 M228.3,848.8 Q229.1,855.3 226.6,860.5 M231.6,850.1 Q232.5,856.6 230.0,861.8 M235.0,851.4 Q235.8,858.0 233.3,863.2 M238.3,852.8 Q239.2,859.3 236.7,864.5" stroke="#a8a83a" stroke-width="1.1" fill="none" opacity="0.8"/><path d="M145.6,876.4 L163.3,882.8" stroke="#7a7a30" stroke-width="13.1" stroke-linecap="round"/><path d="M145.6,876.4 L163.3,882.8" stroke="#c8c860" stroke-width="11.5" stroke-linecap="round"/><path d="M148.0,871.1 Q149.0,877.6 146.7,882.9 M151.3,872.3 Q152.4,878.8 150.0,884.1 M154.7,873.6 Q155.8,880.1 153.4,885.3 M158.1,874.8 Q159.1,881.3 156.8,886.6 M161.5,876.0 Q162.5,882.5 160.2,887.8" stroke="#7a7a30" stroke-width="1.1" fill="none" opacity="0.8"/><path d="M220.3,970.1 L238.1,958.9" stroke="#a8a83a" stroke-width="13.1" stroke-linecap="round"/><path d="M220.3,970.1 L238.1,958.9" stroke="#f2f27a" stroke-width="11.5" stroke-linecap="round"/><path d="M217.5,965.1 Q223.3,968.2 226.1,973.3 M220.6,963.2 Q226.4,966.3 229.1,971.4 M223.6,961.2 Q229.4,964.4 232.2,969.4 M226.7,959.3 Q232.4,962.4 235.2,967.5 M229.7,957.4 Q235.5,960.5 238.2,965.6 M232.7,955.4 Q238.5,958.6 241.3,963.6" stroke="#a8a83a" stroke-width="1.1" fill="none" opacity="0.8"/><path d="M277.3,884.9 L286.4,889.4" stroke="#a8a83a" stroke-width="13.1" stroke-linecap="round"/><path d="M277.3,884.9 L286.4,889.4" stroke="#f2f27a" stroke-width="11.5" stroke-linecap="round"/><path d="M280.2,879.9 Q280.5,886.5 277.7,891.5 M283.4,881.5 Q283.8,888.1 280.9,893.1 M286.6,883.1 Q287.0,889.6 284.2,894.7" stroke="#a8a83a" stroke-width="1.1" fill="none" opacity="0.8"/><path d="M154.2,930.6 L165.6,943.0" stroke="#a8a83a" stroke-width="13.1" stroke-linecap="round"/><path d="M154.2,930.6 L165.6,943.0" stroke="#f2f27a" stroke-width="11.5" stroke-linecap="round"/><path d="M158.7,927.0 Q156.6,933.3 152.1,936.8 M161.1,929.7 Q159.0,935.9 154.5,939.5 M163.5,932.3 Q161.5,938.6 157.0,942.2 M166.0,935.0 Q163.9,941.2 159.4,944.8 M168.4,937.6 Q166.3,943.9 161.8,947.5" stroke="#a8a83a" stroke-width="1.1" fill="none" opacity="0.8"/><path d="M174.2,939.6 L279.6,948.3" stroke="#6a9c66" stroke-width="13.1" stroke-linecap="round"/><path d="M174.2,939.6 L279.6,948.3" stroke="#a6dca0" stroke-width="11.5" stroke-linecap="round"/><path d="M175.1,933.9 Q177.8,939.9 176.9,945.6 M178.7,934.2 Q181.4,940.2 180.5,945.9 M182.3,934.5 Q185.0,940.5 184.1,946.2 M185.9,934.8 Q188.6,940.8 187.7,946.5 M189.5,935.1 Q192.2,941.1 191.3,946.8 M193.0,935.4 Q195.8,941.4 194.9,947.1 M196.6,935.7 Q199.3,941.7 198.5,947.4 M200.2,936.0 Q202.9,942.0 202.1,947.7 M203.8,936.3 Q206.5,942.3 205.7,948.0 M207.4,936.6 Q210.1,942.6 209.2,948.3 M211.0,936.9 Q213.7,942.9 212.8,948.6 M214.6,937.2 Q217.3,943.2 216.4,948.9 M218.2,937.5 Q220.9,943.5 220.0,949.2 M221.7,937.8 Q224.5,943.8 223.6,949.5 M225.3,938.1 Q228.1,944.1 227.2,949.8 M228.9,938.4 Q231.6,944.4 230.8,950.1 M232.5,938.7 Q235.2,944.7 234.4,950.4 M236.1,939.0 Q238.8,945.0 237.9,950.7 M239.7,939.3 Q242.4,945.3 241.5,951.0 M243.3,939.6 Q246.0,945.6 245.1,951.3 M246.9,939.9 Q249.6,945.9 248.7,951.6 M250.4,940.2 Q253.2,946.2 252.3,951.9 M254.0,940.5 Q256.8,946.5 255.9,952.2 M257.6,940.8 Q260.3,946.8 259.5,952.5 M261.2,941.1 Q263.9,947.0 263.1,952.7 M264.8,941.4 Q267.5,947.3 266.6,953.0 M268.4,941.6 Q271.1,947.6 270.2,953.3 M272.0,941.9 Q274.7,947.9 273.8,953.6 M275.6,942.2 Q278.3,948.2 277.4,953.9" stroke="#6a9c66" stroke-width="1.1" fill="none" opacity="0.8"/><path d="M202.8,878.6 L238.1,882.8" stroke="#6a9c66" stroke-width="13.1" stroke-linecap="round"/><path d="M202.8,878.6 L238.1,882.8" stroke="#a6dca0" stroke-width="11.5" stroke-linecap="round"/><path d="M203.9,873.0 Q206.4,879.0 205.3,884.7 M207.5,873.4 Q210.0,879.5 208.9,885.1 M211.1,873.8 Q213.6,879.9 212.5,885.6 M214.6,874.2 Q217.1,880.3 216.1,886.0 M218.2,874.7 Q220.7,880.7 219.6,886.4 M221.8,875.1 Q224.3,881.2 223.2,886.8 M225.4,875.5 Q227.9,881.6 226.8,887.3 M228.9,875.9 Q231.4,882.0 230.4,887.7 M232.5,876.4 Q235.0,882.4 233.9,888.1 M236.1,876.8 Q238.6,882.9 237.5,888.5" stroke="#6a9c66" stroke-width="1.1" fill="none" opacity="0.8"/><path d="M255.6,865.1 L284.1,874.1" stroke="#4c744c" stroke-width="13.1" stroke-linecap="round"/><path d="M255.6,865.1 L284.1,874.1" stroke="#88b088" stroke-width="11.5" stroke-linecap="round"/><path d="M257.7,859.7 Q259.1,866.1 256.9,871.5 M261.2,860.8 Q262.5,867.2 260.4,872.6 M264.6,861.9 Q265.9,868.3 263.8,873.7 M268.0,863.0 Q269.4,869.4 267.2,874.8 M271.5,864.1 Q272.8,870.5 270.7,875.9 M274.9,865.1 Q276.2,871.6 274.1,877.0 M278.3,866.2 Q279.7,872.7 277.5,878.0 M281.8,867.3 Q283.1,873.8 281.0,879.1" stroke="#4c744c" stroke-width="1.1" fill="none" opacity="0.8"/><path d="M251.1,952.6 L264.5,965.6" stroke="#4c744c" stroke-width="13.1" stroke-linecap="round"/><path d="M251.1,952.6 L264.5,965.6" stroke="#88b088" stroke-width="11.5" stroke-linecap="round"/><path d="M255.4,948.8 Q253.7,955.1 249.4,959.0 M257.9,951.3 Q256.2,957.6 252.0,961.5 M260.5,953.8 Q258.8,960.1 254.6,964.0 M263.1,956.3 Q261.4,962.6 257.1,966.5 M265.7,958.8 Q264.0,965.1 259.7,969.0" stroke="#4c744c" stroke-width="1.1" fill="none" opacity="0.8"/><path d="M182.7,949.8 L211.2,954.3" stroke="#6a9c66" stroke-width="13.1" stroke-linecap="round"/><path d="M182.7,949.8 L211.2,954.3" stroke="#a6dca0" stroke-width="11.5" stroke-linecap="round"/><path d="M184.0,944.2 Q186.2,950.4 184.9,956.0 M187.5,944.8 Q189.8,950.9 188.5,956.6 M191.1,945.3 Q193.3,951.5 192.0,957.1 M194.6,945.9 Q196.9,952.1 195.6,957.7 M198.2,946.4 Q200.4,952.6 199.2,958.2 M201.7,947.0 Q204.0,953.2 202.7,958.8 M205.3,947.6 Q207.6,953.8 206.3,959.4 M208.9,948.1 Q211.1,954.3 209.8,959.9" stroke="#6a9c66" stroke-width="1.1" fill="none" opacity="0.8"/><path d="M154.2,926.1 L191.8,947.5" stroke="#b07a98" stroke-width="13.1" stroke-linecap="round"/><path d="M154.2,926.1 L191.8,947.5" stroke="#f0b4d2" stroke-width="11.5" stroke-linecap="round"/><path d="M157.4,921.3 Q157.3,927.9 154.1,932.7 M160.5,923.1 Q160.4,929.6 157.2,934.4 M163.6,924.9 Q163.5,931.4 160.4,936.2 M166.7,926.6 Q166.7,933.2 163.5,938.0 M169.9,928.4 Q169.8,935.0 166.6,939.8 M173.0,930.2 Q172.9,936.8 169.7,941.6 M176.1,932.0 Q176.1,938.6 172.9,943.4 M179.3,933.8 Q179.2,940.4 176.0,945.2 M182.4,935.6 Q182.3,942.1 179.1,946.9 M185.5,937.3 Q185.4,943.9 182.2,948.7 M188.6,939.1 Q188.6,945.7 185.4,950.5 M191.8,940.9 Q191.7,947.5 188.5,952.3" stroke="#b07a98" stroke-width="1.1" fill="none" opacity="0.8"/><path d="M174.7,877.5 L206.6,891.0" stroke="#b07a98" stroke-width="13.1" stroke-linecap="round"/><path d="M174.7,877.5 L206.6,891.0" stroke="#f0b4d2" stroke-width="11.5" stroke-linecap="round"/><path d="M177.3,872.4 Q178.0,878.9 175.4,884.0 M180.6,873.8 Q181.3,880.3 178.7,885.4 M183.9,875.2 Q184.6,881.7 182.0,886.8 M187.2,876.6 Q187.9,883.1 185.3,888.3 M190.6,878.0 Q191.3,884.5 188.6,889.7 M193.9,879.4 Q194.6,885.9 192.0,891.1 M197.2,880.8 Q197.9,887.3 195.3,892.5 M200.5,882.2 Q201.2,888.8 198.6,893.9 M203.8,883.6 Q204.5,890.2 201.9,895.3 M207.1,885.0 Q207.8,891.6 205.2,896.7" stroke="#b07a98" stroke-width="1.1" fill="none" opacity="0.8"/><path d="M195.2,866.2 L227.1,876.4" stroke="#a8a83a" stroke-width="13.1" stroke-linecap="round"/><path d="M195.2,866.2 L227.1,876.4" stroke="#f2f27a" stroke-width="11.5" stroke-linecap="round"/><path d="M197.3,860.8 Q198.6,867.3 196.5,872.6 M200.8,861.9 Q202.1,868.4 199.9,873.7 M204.2,863.0 Q205.5,869.5 203.4,874.8 M207.6,864.1 Q208.9,870.6 206.8,875.9 M211.1,865.2 Q212.4,871.7 210.2,877.0 M214.5,866.3 Q215.8,872.7 213.7,878.1 M217.9,867.4 Q219.2,873.8 217.1,879.2 M221.3,868.5 Q222.7,874.9 220.5,880.3 M224.8,869.6 Q226.1,876.0 224.0,881.4" stroke="#a8a83a" stroke-width="1.1" fill="none" opacity="0.8"/><path d="M240.8,879.8 L270.4,887.7" stroke="#4a4ab0" stroke-width="13.1" stroke-linecap="round"/><path d="M240.8,879.8 L270.4,887.7" stroke="#7c7cec" stroke-width="11.5" stroke-linecap="round"/><path d="M242.7,874.3 Q244.3,880.7 242.4,886.1 M246.2,875.2 Q247.8,881.6 245.9,887.1 M249.6,876.2 Q251.2,882.5 249.4,888.0 M253.1,877.1 Q254.7,883.5 252.9,888.9 M256.6,878.0 Q258.2,884.4 256.3,889.8 M260.1,878.9 Q261.7,885.3 259.8,890.8 M263.5,879.9 Q265.2,886.2 263.3,891.7 M267.0,880.8 Q268.6,887.2 266.8,892.6 M270.5,881.7 Q272.1,888.1 270.2,893.6" stroke="#4a4ab0" stroke-width="1.1" fill="none" opacity="0.8"/><path d="M227.1,925.0 L254.5,935.1" stroke="#4a4ab0" stroke-width="13.1" stroke-linecap="round"/><path d="M227.1,925.0 L254.5,935.1" stroke="#7c7cec" stroke-width="11.5" stroke-linecap="round"/><path d="M229.5,919.7 Q230.5,926.2 228.1,931.5 M232.9,921.0 Q233.9,927.5 231.5,932.7 M236.3,922.2 Q237.3,928.7 234.9,934.0 M239.6,923.5 Q240.6,930.0 238.2,935.2 M243.0,924.7 Q244.0,931.2 241.6,936.5 M246.4,926.0 Q247.4,932.5 245.0,937.7 M249.8,927.2 Q250.8,933.7 248.4,939.0 M253.1,928.5 Q254.1,935.0 251.7,940.2" stroke="#4a4ab0" stroke-width="1.1" fill="none" opacity="0.8"/><path d="M208.9,900.1 L236.2,911.4" stroke="#6a9c66" stroke-width="13.1" stroke-linecap="round"/><path d="M208.9,900.1 L236.2,911.4" stroke="#a6dca0" stroke-width="11.5" stroke-linecap="round"/><path d="M211.5,894.9 Q212.2,901.5 209.7,906.6 M214.8,896.3 Q215.5,902.8 213.0,908.0 M218.1,897.7 Q218.9,904.2 216.3,909.4 M221.4,899.1 Q222.2,905.6 219.6,910.7 M224.8,900.4 Q225.5,907.0 223.0,912.1 M228.1,901.8 Q228.9,908.3 226.3,913.5 M231.4,903.2 Q232.2,909.7 229.6,914.9 M234.7,904.5 Q235.5,911.1 232.9,916.2" stroke="#6a9c66" stroke-width="1.1" fill="none" opacity="0.8"/><path d="M177.0,958.9 L211.2,967.9" stroke="#b07a98" stroke-width="13.1" stroke-linecap="round"/><path d="M177.0,958.9 L211.2,967.9" stroke="#f0b4d2" stroke-width="11.5" stroke-linecap="round"/><path d="M178.8,953.4 Q180.5,959.8 178.6,965.2 M182.3,954.3 Q183.9,960.7 182.1,966.1 M185.8,955.2 Q187.4,961.6 185.6,967.1 M189.3,956.2 Q190.9,962.5 189.0,968.0 M192.7,957.1 Q194.4,963.4 192.5,968.9 M196.2,958.0 Q197.9,964.4 196.0,969.8 M199.7,958.9 Q201.3,965.3 199.5,970.7 M203.2,959.8 Q204.8,966.2 203.0,971.7 M206.7,960.8 Q208.3,967.1 206.4,972.6 M210.2,961.7 Q211.8,968.0 209.9,973.5" stroke="#b07a98" stroke-width="1.1" fill="none" opacity="0.8"/><path d="M261.3,975.8 L281.9,981.5" stroke="#4a4ab0" stroke-width="13.1" stroke-linecap="round"/><path d="M261.3,975.8 L281.9,981.5" stroke="#7c7cec" stroke-width="11.5" stroke-linecap="round"/><path d="M263.2,970.4 Q264.8,976.8 262.9,982.2 M266.7,971.3 Q268.3,977.7 266.4,983.1 M270.2,972.3 Q271.7,978.7 269.8,984.1 M273.7,973.2 Q275.2,979.6 273.3,985.1 M277.1,974.2 Q278.7,980.6 276.8,986.0 M280.6,975.1 Q282.2,981.5 280.2,987.0" stroke="#4a4ab0" stroke-width="1.1" fill="none" opacity="0.8"/>
</svg>
</body></html>
